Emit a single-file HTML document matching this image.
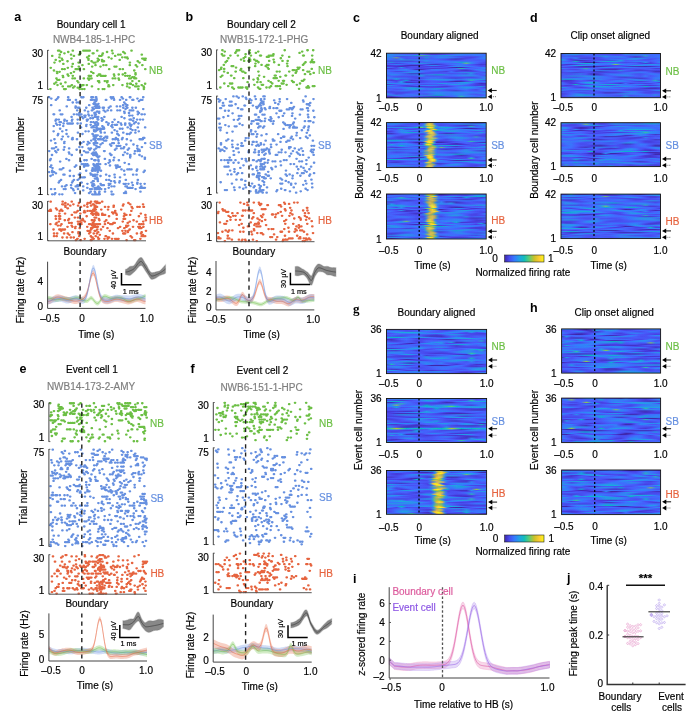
<!DOCTYPE html>
<html><head><meta charset="utf-8"><style>
html,body{margin:0;padding:0;background:#fff;width:700px;height:720px;overflow:hidden}
svg{display:block;will-change:transform}
text{stroke:currentColor;stroke-width:.18px}
</style></head><body>
<svg width="700" height="720" viewBox="0 0 700 720" font-family="Liberation Sans, sans-serif" font-size="10">
<defs><linearGradient id="g0"><stop offset="0" stop-color="#4536d3"/><stop offset="0.05" stop-color="#3f28ad"/><stop offset="0.1" stop-color="#3e27aa"/><stop offset="0.15" stop-color="#412dbd"/><stop offset="0.2" stop-color="#4538d8"/><stop offset="0.25" stop-color="#484aed"/><stop offset="0.3" stop-color="#4757f7"/><stop offset="0.35" stop-color="#4562fc"/><stop offset="0.4" stop-color="#3b73fe"/><stop offset="0.45" stop-color="#317dfc"/><stop offset="0.5" stop-color="#327bfc"/><stop offset="0.55" stop-color="#426afe"/><stop offset="0.6" stop-color="#475af9"/><stop offset="0.65" stop-color="#4853f4"/><stop offset="0.7" stop-color="#4755f6"/><stop offset="0.75" stop-color="#465efb"/><stop offset="0.8" stop-color="#4564fd"/><stop offset="0.85" stop-color="#4563fd"/><stop offset="0.9" stop-color="#4269fe"/><stop offset="0.95" stop-color="#4466fd"/><stop offset="1" stop-color="#4854f5"/></linearGradient><linearGradient id="f0" href="#g0" x1="1" x2="0"/><linearGradient id="g1"><stop offset="0" stop-color="#4850f3"/><stop offset="0.05" stop-color="#465efb"/><stop offset="0.1" stop-color="#475af9"/><stop offset="0.15" stop-color="#4853f4"/><stop offset="0.2" stop-color="#4850f3"/><stop offset="0.25" stop-color="#484bee"/><stop offset="0.3" stop-color="#4746ea"/><stop offset="0.35" stop-color="#15afd9"/><stop offset="0.4" stop-color="#4745e9"/><stop offset="0.45" stop-color="#4744e8"/><stop offset="0.5" stop-color="#4746ea"/><stop offset="0.55" stop-color="#484cf0"/><stop offset="0.6" stop-color="#4758f8"/><stop offset="0.65" stop-color="#4269fe"/><stop offset="0.7" stop-color="#327cfc"/><stop offset="0.75" stop-color="#2c8ef2"/><stop offset="0.8" stop-color="#259ce7"/><stop offset="0.85" stop-color="#23a1e5"/><stop offset="0.9" stop-color="#2c90f0"/><stop offset="0.95" stop-color="#4661fc"/><stop offset="1" stop-color="#4740e4"/></linearGradient><linearGradient id="f1" href="#g1" x1="1" x2="0"/><linearGradient id="g2"><stop offset="0" stop-color="#3e26a8"/><stop offset="0.05" stop-color="#1da8e0"/><stop offset="0.1" stop-color="#4852f4"/><stop offset="0.15" stop-color="#4367fd"/><stop offset="0.2" stop-color="#4466fd"/><stop offset="0.25" stop-color="#4563fd"/><stop offset="0.3" stop-color="#4561fc"/><stop offset="0.35" stop-color="#4759f8"/><stop offset="0.4" stop-color="#475bfa"/><stop offset="0.45" stop-color="#3b73fe"/><stop offset="0.5" stop-color="#2d8bf4"/><stop offset="0.55" stop-color="#2797ea"/><stop offset="0.6" stop-color="#2797eb"/><stop offset="0.65" stop-color="#2d8cf3"/><stop offset="0.7" stop-color="#3876fe"/><stop offset="0.75" stop-color="#475bf9"/><stop offset="0.8" stop-color="#484cef"/><stop offset="0.85" stop-color="#484ef1"/><stop offset="0.9" stop-color="#475cfa"/><stop offset="0.95" stop-color="#4367fd"/><stop offset="1" stop-color="#4563fd"/></linearGradient><linearGradient id="f2" href="#g2" x1="1" x2="0"/><linearGradient id="g3"><stop offset="0" stop-color="#4743e7"/><stop offset="0.05" stop-color="#473fe2"/><stop offset="0.1" stop-color="#484bef"/><stop offset="0.15" stop-color="#4850f3"/><stop offset="0.2" stop-color="#4758f8"/><stop offset="0.25" stop-color="#475cfa"/><stop offset="0.3" stop-color="#484df0"/><stop offset="0.35" stop-color="#4740e4"/><stop offset="0.4" stop-color="#4745e9"/><stop offset="0.45" stop-color="#4851f3"/><stop offset="0.5" stop-color="#4660fc"/><stop offset="0.55" stop-color="#307ffb"/><stop offset="0.6" stop-color="#2c8ef2"/><stop offset="0.65" stop-color="#337bfd"/><stop offset="0.7" stop-color="#4756f6"/><stop offset="0.75" stop-color="#463ada"/><stop offset="0.8" stop-color="#3f28ae"/><stop offset="0.85" stop-color="#3e26a8"/><stop offset="0.9" stop-color="#422ebf"/><stop offset="0.95" stop-color="#4745ea"/><stop offset="1" stop-color="#4757f7"/></linearGradient><linearGradient id="f3" href="#g3" x1="1" x2="0"/><linearGradient id="g4"><stop offset="0" stop-color="#4848ec"/><stop offset="0.05" stop-color="#4538d8"/><stop offset="0.1" stop-color="#402bb7"/><stop offset="0.15" stop-color="#3e27ac"/><stop offset="0.2" stop-color="#3f29b1"/><stop offset="0.25" stop-color="#412dbc"/><stop offset="0.3" stop-color="#4331c7"/><stop offset="0.35" stop-color="#4740e4"/><stop offset="0.4" stop-color="#4756f7"/><stop offset="0.45" stop-color="#4757f7"/><stop offset="0.5" stop-color="#4745e9"/><stop offset="0.55" stop-color="#4536d3"/><stop offset="0.6" stop-color="#402ab4"/><stop offset="0.65" stop-color="#3e26a8"/><stop offset="0.7" stop-color="#3e26a8"/><stop offset="0.75" stop-color="#3e26a8"/><stop offset="0.8" stop-color="#412cba"/><stop offset="0.85" stop-color="#4639da"/><stop offset="0.9" stop-color="#484cef"/><stop offset="0.95" stop-color="#465dfa"/><stop offset="1" stop-color="#416bfe"/></linearGradient><linearGradient id="f4" href="#g4" x1="1" x2="0"/><linearGradient id="g5"><stop offset="0" stop-color="#4758f8"/><stop offset="0.05" stop-color="#4740e3"/><stop offset="0.1" stop-color="#4537d5"/><stop offset="0.15" stop-color="#4741e5"/><stop offset="0.2" stop-color="#475bf9"/><stop offset="0.25" stop-color="#2e84f9"/><stop offset="0.3" stop-color="#259be8"/><stop offset="0.35" stop-color="#249ee6"/><stop offset="0.4" stop-color="#2a93ee"/><stop offset="0.45" stop-color="#337bfd"/><stop offset="0.5" stop-color="#4660fb"/><stop offset="0.55" stop-color="#475bf9"/><stop offset="0.6" stop-color="#4660fc"/><stop offset="0.65" stop-color="#4561fc"/><stop offset="0.7" stop-color="#4661fc"/><stop offset="0.75" stop-color="#3974fe"/><stop offset="0.8" stop-color="#76cc61"/><stop offset="0.85" stop-color="#2995ec"/><stop offset="0.9" stop-color="#406cfe"/><stop offset="0.95" stop-color="#484ff1"/><stop offset="1" stop-color="#484bef"/></linearGradient><linearGradient id="f5" href="#g5" x1="1" x2="0"/><linearGradient id="g6"><stop offset="0" stop-color="#484ef1"/><stop offset="0.05" stop-color="#4849ed"/><stop offset="0.1" stop-color="#484df0"/><stop offset="0.15" stop-color="#4741e5"/><stop offset="0.2" stop-color="#4434ce"/><stop offset="0.25" stop-color="#4639d9"/><stop offset="0.3" stop-color="#4756f7"/><stop offset="0.35" stop-color="#2e84f9"/><stop offset="0.4" stop-color="#2b90f0"/><stop offset="0.45" stop-color="#327cfc"/><stop offset="0.5" stop-color="#3e70ff"/><stop offset="0.55" stop-color="#3776fe"/><stop offset="0.6" stop-color="#337bfc"/><stop offset="0.65" stop-color="#3c72ff"/><stop offset="0.7" stop-color="#4561fc"/><stop offset="0.75" stop-color="#4758f8"/><stop offset="0.8" stop-color="#484aee"/><stop offset="0.85" stop-color="#463adb"/><stop offset="0.9" stop-color="#4536d4"/><stop offset="0.95" stop-color="#4537d6"/><stop offset="1" stop-color="#463bdc"/></linearGradient><linearGradient id="f6" href="#g6" x1="1" x2="0"/><linearGradient id="g7"><stop offset="0" stop-color="#484aee"/><stop offset="0.05" stop-color="#4536d3"/><stop offset="0.1" stop-color="#4433cb"/><stop offset="0.15" stop-color="#473ee2"/><stop offset="0.2" stop-color="#4851f3"/><stop offset="0.25" stop-color="#4561fc"/><stop offset="0.3" stop-color="#3578fd"/><stop offset="0.35" stop-color="#2e83f9"/><stop offset="0.4" stop-color="#337bfd"/><stop offset="0.45" stop-color="#3a74fe"/><stop offset="0.5" stop-color="#2f82fa"/><stop offset="0.55" stop-color="#86cb54"/><stop offset="0.6" stop-color="#2c8ff0"/><stop offset="0.65" stop-color="#337bfd"/><stop offset="0.7" stop-color="#4563fd"/><stop offset="0.75" stop-color="#465efb"/><stop offset="0.8" stop-color="#3f6dfe"/><stop offset="0.85" stop-color="#2d8bf4"/><stop offset="0.9" stop-color="#2797eb"/><stop offset="0.95" stop-color="#2c8ff1"/><stop offset="1" stop-color="#307ffb"/></linearGradient><linearGradient id="f7" href="#g7" x1="1" x2="0"/><linearGradient id="g8"><stop offset="0" stop-color="#3777fe"/><stop offset="0.05" stop-color="#2c90f0"/><stop offset="0.1" stop-color="#2797eb"/><stop offset="0.15" stop-color="#2d8cf3"/><stop offset="0.2" stop-color="#317dfc"/><stop offset="0.25" stop-color="#416bfe"/><stop offset="0.3" stop-color="#475af9"/><stop offset="0.35" stop-color="#4851f3"/><stop offset="0.4" stop-color="#4757f7"/><stop offset="0.45" stop-color="#4368fd"/><stop offset="0.5" stop-color="#3d71ff"/><stop offset="0.55" stop-color="#406dfe"/><stop offset="0.6" stop-color="#3c72ff"/><stop offset="0.65" stop-color="#2f81fa"/><stop offset="0.7" stop-color="#307ffb"/><stop offset="0.75" stop-color="#465ffb"/><stop offset="0.8" stop-color="#4743e7"/><stop offset="0.85" stop-color="#4433cc"/><stop offset="0.9" stop-color="#4330c5"/><stop offset="0.95" stop-color="#463adb"/><stop offset="1" stop-color="#4852f4"/></linearGradient><linearGradient id="f8" href="#g8" x1="1" x2="0"/><linearGradient id="g9"><stop offset="0" stop-color="#484bee"/><stop offset="0.05" stop-color="#475cfa"/><stop offset="0.1" stop-color="#4757f8"/><stop offset="0.15" stop-color="#4743e7"/><stop offset="0.2" stop-color="#463cdf"/><stop offset="0.25" stop-color="#4744e8"/><stop offset="0.3" stop-color="#4852f4"/><stop offset="0.35" stop-color="#3d71ff"/><stop offset="0.4" stop-color="#2797eb"/><stop offset="0.45" stop-color="#2798ea"/><stop offset="0.5" stop-color="#3a74fe"/><stop offset="0.55" stop-color="#4758f8"/><stop offset="0.6" stop-color="#475af9"/><stop offset="0.65" stop-color="#4466fd"/><stop offset="0.7" stop-color="#4564fd"/><stop offset="0.75" stop-color="#4853f4"/><stop offset="0.8" stop-color="#473ee2"/><stop offset="0.85" stop-color="#4639d9"/><stop offset="0.9" stop-color="#4852f4"/><stop offset="0.95" stop-color="#2e87f7"/><stop offset="1" stop-color="#249fe5"/></linearGradient><linearGradient id="f9" href="#g9" x1="1" x2="0"/><linearGradient id="g10"><stop offset="0" stop-color="#422fc2"/><stop offset="0.05" stop-color="#473ee2"/><stop offset="0.1" stop-color="#4466fd"/><stop offset="0.15" stop-color="#2994ed"/><stop offset="0.2" stop-color="#2e87f7"/><stop offset="0.25" stop-color="#4759f9"/><stop offset="0.3" stop-color="#484ef1"/><stop offset="0.35" stop-color="#4758f8"/><stop offset="0.4" stop-color="#4759f8"/><stop offset="0.45" stop-color="#484cf0"/><stop offset="0.5" stop-color="#484ef1"/><stop offset="0.55" stop-color="#416bfe"/><stop offset="0.6" stop-color="#2699e9"/><stop offset="0.65" stop-color="#1ea6e1"/><stop offset="0.7" stop-color="#2797eb"/><stop offset="0.75" stop-color="#2d88f6"/><stop offset="0.8" stop-color="#3875fe"/><stop offset="0.85" stop-color="#4759f8"/><stop offset="0.9" stop-color="#4850f2"/><stop offset="0.95" stop-color="#4855f6"/><stop offset="1" stop-color="#475cfa"/></linearGradient><linearGradient id="f10" href="#g10" x1="1" x2="0"/><linearGradient id="g11"><stop offset="0" stop-color="#2e84f8"/><stop offset="0.05" stop-color="#3876fe"/><stop offset="0.1" stop-color="#4464fd"/><stop offset="0.15" stop-color="#465efb"/><stop offset="0.2" stop-color="#475af9"/><stop offset="0.25" stop-color="#465dfa"/><stop offset="0.3" stop-color="#3b73fe"/><stop offset="0.35" stop-color="#2c8ef2"/><stop offset="0.4" stop-color="#269ae8"/><stop offset="0.45" stop-color="#2b91ef"/><stop offset="0.5" stop-color="#3d70ff"/><stop offset="0.55" stop-color="#484bef"/><stop offset="0.6" stop-color="#4331c6"/><stop offset="0.65" stop-color="#412dbc"/><stop offset="0.7" stop-color="#473fe2"/><stop offset="0.75" stop-color="#4852f4"/><stop offset="0.8" stop-color="#4852f4"/><stop offset="0.85" stop-color="#484cf0"/><stop offset="0.9" stop-color="#484cef"/><stop offset="0.95" stop-color="#484df0"/><stop offset="1" stop-color="#4756f7"/></linearGradient><linearGradient id="f11" href="#g11" x1="1" x2="0"/><linearGradient id="g12"><stop offset="0" stop-color="#4465fd"/><stop offset="0.05" stop-color="#4853f5"/><stop offset="0.1" stop-color="#475af9"/><stop offset="0.15" stop-color="#307ffb"/><stop offset="0.2" stop-color="#2d89f5"/><stop offset="0.25" stop-color="#4757f7"/><stop offset="0.3" stop-color="#402bb7"/><stop offset="0.35" stop-color="#3e26a8"/><stop offset="0.4" stop-color="#4745e9"/><stop offset="0.45" stop-color="#3a74fe"/><stop offset="0.5" stop-color="#2f82fa"/><stop offset="0.55" stop-color="#3c71ff"/><stop offset="0.6" stop-color="#4269fe"/><stop offset="0.65" stop-color="#3e6fff"/><stop offset="0.7" stop-color="#4660fb"/><stop offset="0.75" stop-color="#4848ec"/><stop offset="0.8" stop-color="#4743e7"/><stop offset="0.85" stop-color="#475bf9"/><stop offset="0.9" stop-color="#2e86f8"/><stop offset="0.95" stop-color="#2f82fa"/><stop offset="1" stop-color="#475dfa"/></linearGradient><linearGradient id="f12" href="#g12" x1="1" x2="0"/><linearGradient id="g13"><stop offset="0" stop-color="#2c90f0"/><stop offset="0.05" stop-color="#2b91ef"/><stop offset="0.1" stop-color="#2d8cf3"/><stop offset="0.15" stop-color="#317efb"/><stop offset="0.2" stop-color="#4562fc"/><stop offset="0.25" stop-color="#484cf0"/><stop offset="0.3" stop-color="#4746ea"/><stop offset="0.35" stop-color="#475bf9"/><stop offset="0.4" stop-color="#3080fb"/><stop offset="0.45" stop-color="#2d8cf3"/><stop offset="0.5" stop-color="#2f80fa"/><stop offset="0.55" stop-color="#4466fd"/><stop offset="0.6" stop-color="#4757f7"/><stop offset="0.65" stop-color="#465ffb"/><stop offset="0.7" stop-color="#2e85f8"/><stop offset="0.75" stop-color="#2d88f6"/><stop offset="0.8" stop-color="#475af9"/><stop offset="0.85" stop-color="#4538d8"/><stop offset="0.9" stop-color="#4434ce"/><stop offset="0.95" stop-color="#4740e4"/><stop offset="1" stop-color="#484bee"/></linearGradient><linearGradient id="f13" href="#g13" x1="1" x2="0"/><linearGradient id="g14"><stop offset="0" stop-color="#3e6fff"/><stop offset="0.05" stop-color="#3080fb"/><stop offset="0.1" stop-color="#3a73fe"/><stop offset="0.15" stop-color="#4757f7"/><stop offset="0.2" stop-color="#0eb2d4"/><stop offset="0.25" stop-color="#4848ec"/><stop offset="0.3" stop-color="#484ef1"/><stop offset="0.35" stop-color="#4756f7"/><stop offset="0.4" stop-color="#4850f3"/><stop offset="0.45" stop-color="#463cde"/><stop offset="0.5" stop-color="#422fc2"/><stop offset="0.55" stop-color="#412dbc"/><stop offset="0.6" stop-color="#4332ca"/><stop offset="0.65" stop-color="#463de0"/><stop offset="0.7" stop-color="#484ef1"/><stop offset="0.75" stop-color="#416bfe"/><stop offset="0.8" stop-color="#2d8cf3"/><stop offset="0.85" stop-color="#2d8df2"/><stop offset="0.9" stop-color="#3d71ff"/><stop offset="0.95" stop-color="#4757f7"/><stop offset="1" stop-color="#484aee"/></linearGradient><linearGradient id="f14" href="#g14" x1="1" x2="0"/><linearGradient id="g15"><stop offset="0" stop-color="#2f80fa"/><stop offset="0.05" stop-color="#3d70ff"/><stop offset="0.1" stop-color="#4564fd"/><stop offset="0.15" stop-color="#4367fd"/><stop offset="0.2" stop-color="#4368fd"/><stop offset="0.25" stop-color="#4756f7"/><stop offset="0.3" stop-color="#463ddf"/><stop offset="0.35" stop-color="#422fc2"/><stop offset="0.4" stop-color="#4331c8"/><stop offset="0.45" stop-color="#4743e7"/><stop offset="0.5" stop-color="#465dfa"/><stop offset="0.55" stop-color="#3479fd"/><stop offset="0.6" stop-color="#2d8bf4"/><stop offset="0.65" stop-color="#2b91ef"/><stop offset="0.7" stop-color="#2e86f7"/><stop offset="0.75" stop-color="#4368fe"/><stop offset="0.8" stop-color="#484ff2"/><stop offset="0.85" stop-color="#4742e6"/><stop offset="0.9" stop-color="#4740e4"/><stop offset="0.95" stop-color="#484bef"/><stop offset="1" stop-color="#4466fd"/></linearGradient><linearGradient id="f15" href="#g15" x1="1" x2="0"/><linearGradient id="g16"><stop offset="0" stop-color="#2f82fa"/><stop offset="0.05" stop-color="#4465fd"/><stop offset="0.1" stop-color="#475bf9"/><stop offset="0.15" stop-color="#3f6efe"/><stop offset="0.2" stop-color="#2e85f8"/><stop offset="0.25" stop-color="#2f81fa"/><stop offset="0.3" stop-color="#406cfe"/><stop offset="0.35" stop-color="#4366fd"/><stop offset="0.4" stop-color="#2e84f8"/><stop offset="0.45" stop-color="#1ea7e1"/><stop offset="0.5" stop-color="#11b1d6"/><stop offset="0.55" stop-color="#1ca9df"/><stop offset="0.6" stop-color="#2994ed"/><stop offset="0.65" stop-color="#3e6fff"/><stop offset="0.7" stop-color="#4852f4"/><stop offset="0.75" stop-color="#4746eb"/><stop offset="0.8" stop-color="#4747eb"/><stop offset="0.85" stop-color="#0dbdbc"/><stop offset="0.9" stop-color="#4851f3"/><stop offset="0.95" stop-color="#475dfa"/><stop offset="1" stop-color="#4368fe"/></linearGradient><linearGradient id="f16" href="#g16" x1="1" x2="0"/><linearGradient id="g17"><stop offset="0" stop-color="#4755f6"/><stop offset="0.05" stop-color="#463ee1"/><stop offset="0.1" stop-color="#4536d4"/><stop offset="0.15" stop-color="#4538d7"/><stop offset="0.2" stop-color="#4744e8"/><stop offset="0.25" stop-color="#475af9"/><stop offset="0.3" stop-color="#3c71ff"/><stop offset="0.35" stop-color="#317dfc"/><stop offset="0.4" stop-color="#3f6fff"/><stop offset="0.45" stop-color="#4756f6"/><stop offset="0.5" stop-color="#484aed"/><stop offset="0.55" stop-color="#484ff2"/><stop offset="0.6" stop-color="#475cfa"/><stop offset="0.65" stop-color="#3876fe"/><stop offset="0.7" stop-color="#2798ea"/><stop offset="0.75" stop-color="#269ae9"/><stop offset="0.8" stop-color="#3677fe"/><stop offset="0.85" stop-color="#4852f4"/><stop offset="0.9" stop-color="#463bdd"/><stop offset="0.95" stop-color="#4538d7"/><stop offset="1" stop-color="#484cf0"/></linearGradient><linearGradient id="f17" href="#g17" x1="1" x2="0"/><linearGradient id="g18"><stop offset="0" stop-color="#3777fe"/><stop offset="0.05" stop-color="#3875fe"/><stop offset="0.1" stop-color="#3f6eff"/><stop offset="0.15" stop-color="#4562fc"/><stop offset="0.2" stop-color="#4660fb"/><stop offset="0.25" stop-color="#3e70ff"/><stop offset="0.3" stop-color="#2e83f9"/><stop offset="0.35" stop-color="#2e85f8"/><stop offset="0.4" stop-color="#3579fd"/><stop offset="0.45" stop-color="#3876fe"/><stop offset="0.5" stop-color="#2d8af5"/><stop offset="0.55" stop-color="#2797ea"/><stop offset="0.6" stop-color="#3080fb"/><stop offset="0.65" stop-color="#4854f5"/><stop offset="0.7" stop-color="#4741e5"/><stop offset="0.75" stop-color="#463de0"/><stop offset="0.8" stop-color="#463bdd"/><stop offset="0.85" stop-color="#473ee1"/><stop offset="0.9" stop-color="#4741e5"/><stop offset="0.95" stop-color="#473fe2"/><stop offset="1" stop-color="#4742e6"/></linearGradient><linearGradient id="f18" href="#g18" x1="1" x2="0"/><linearGradient id="g19"><stop offset="0" stop-color="#3e70ff"/><stop offset="0.05" stop-color="#4747eb"/><stop offset="0.1" stop-color="#463cde"/><stop offset="0.15" stop-color="#484ff2"/><stop offset="0.2" stop-color="#3579fd"/><stop offset="0.25" stop-color="#249fe5"/><stop offset="0.3" stop-color="#1aacdd"/><stop offset="0.35" stop-color="#2797ea"/><stop offset="0.4" stop-color="#3f6dfe"/><stop offset="0.45" stop-color="#4464fd"/><stop offset="0.5" stop-color="#406dfe"/><stop offset="0.55" stop-color="#475cfa"/><stop offset="0.6" stop-color="#4850f3"/><stop offset="0.65" stop-color="#4755f6"/><stop offset="0.7" stop-color="#475cfa"/><stop offset="0.75" stop-color="#475bf9"/><stop offset="0.8" stop-color="#475af9"/><stop offset="0.85" stop-color="#4564fd"/><stop offset="0.9" stop-color="#406cfe"/><stop offset="0.95" stop-color="#4758f8"/><stop offset="1" stop-color="#4538d8"/></linearGradient><linearGradient id="f19" href="#g19" x1="1" x2="0"/><linearGradient id="g20"><stop offset="0" stop-color="#2a93ed"/><stop offset="0.05" stop-color="#4851f3"/><stop offset="0.1" stop-color="#473fe2"/><stop offset="0.15" stop-color="#484ff2"/><stop offset="0.2" stop-color="#4756f7"/><stop offset="0.25" stop-color="#465efb"/><stop offset="0.3" stop-color="#317dfb"/><stop offset="0.35" stop-color="#2d8bf4"/><stop offset="0.4" stop-color="#2e84f8"/><stop offset="0.45" stop-color="#3579fd"/><stop offset="0.5" stop-color="#0db3d3"/><stop offset="0.55" stop-color="#475af9"/><stop offset="0.6" stop-color="#4742e6"/><stop offset="0.65" stop-color="#412ebe"/><stop offset="0.7" stop-color="#3f29b0"/><stop offset="0.75" stop-color="#4435d1"/><stop offset="0.8" stop-color="#4747ec"/><stop offset="0.85" stop-color="#4756f6"/><stop offset="0.9" stop-color="#4564fd"/><stop offset="0.95" stop-color="#4562fc"/><stop offset="1" stop-color="#4851f4"/></linearGradient><linearGradient id="f20" href="#g20" x1="1" x2="0"/><linearGradient id="g21"><stop offset="0" stop-color="#337bfc"/><stop offset="0.05" stop-color="#4850f2"/><stop offset="0.1" stop-color="#4537d5"/><stop offset="0.15" stop-color="#4537d6"/><stop offset="0.2" stop-color="#484bef"/><stop offset="0.25" stop-color="#3f6eff"/><stop offset="0.3" stop-color="#2a93ed"/><stop offset="0.35" stop-color="#22a2e4"/><stop offset="0.4" stop-color="#2798ea"/><stop offset="0.45" stop-color="#347afd"/><stop offset="0.5" stop-color="#4561fc"/><stop offset="0.55" stop-color="#4755f6"/><stop offset="0.6" stop-color="#4848ec"/><stop offset="0.65" stop-color="#484bee"/><stop offset="0.7" stop-color="#4367fd"/><stop offset="0.75" stop-color="#2e84f8"/><stop offset="0.8" stop-color="#3a74fe"/><stop offset="0.85" stop-color="#4854f5"/><stop offset="0.9" stop-color="#4745e9"/><stop offset="0.95" stop-color="#484cf0"/><stop offset="1" stop-color="#4758f8"/></linearGradient><linearGradient id="f21" href="#g21" x1="1" x2="0"/><linearGradient id="g22"><stop offset="0" stop-color="#2e85f8"/><stop offset="0.05" stop-color="#2d8af5"/><stop offset="0.1" stop-color="#2e85f8"/><stop offset="0.15" stop-color="#4564fd"/><stop offset="0.2" stop-color="#484ff2"/><stop offset="0.25" stop-color="#484bef"/><stop offset="0.3" stop-color="#4854f5"/><stop offset="0.35" stop-color="#465ffb"/><stop offset="0.4" stop-color="#4369fe"/><stop offset="0.45" stop-color="#4464fd"/><stop offset="0.5" stop-color="#4757f7"/><stop offset="0.55" stop-color="#4852f4"/><stop offset="0.6" stop-color="#4757f7"/><stop offset="0.65" stop-color="#4466fd"/><stop offset="0.7" stop-color="#307efb"/><stop offset="0.75" stop-color="#2994ed"/><stop offset="0.8" stop-color="#21a3e3"/><stop offset="0.85" stop-color="#20a5e2"/><stop offset="0.9" stop-color="#21a2e4"/><stop offset="0.95" stop-color="#20a5e2"/><stop offset="1" stop-color="#1fa6e2"/></linearGradient><linearGradient id="f22" href="#g22" x1="1" x2="0"/><linearGradient id="g23"><stop offset="0" stop-color="#4562fc"/><stop offset="0.05" stop-color="#406dfe"/><stop offset="0.1" stop-color="#475bf9"/><stop offset="0.15" stop-color="#4852f4"/><stop offset="0.2" stop-color="#4756f7"/><stop offset="0.25" stop-color="#465dfb"/><stop offset="0.3" stop-color="#475cfa"/><stop offset="0.35" stop-color="#4757f7"/><stop offset="0.4" stop-color="#16aeda"/><stop offset="0.45" stop-color="#484ff2"/><stop offset="0.5" stop-color="#4742e6"/><stop offset="0.55" stop-color="#4743e7"/><stop offset="0.6" stop-color="#484df1"/><stop offset="0.65" stop-color="#484bef"/><stop offset="0.7" stop-color="#473fe3"/><stop offset="0.75" stop-color="#4433cd"/><stop offset="0.8" stop-color="#4029b3"/><stop offset="0.85" stop-color="#422ec0"/><stop offset="0.9" stop-color="#484bef"/><stop offset="0.95" stop-color="#307ffb"/><stop offset="1" stop-color="#23a1e4"/></linearGradient><linearGradient id="f23" href="#g23" x1="1" x2="0"/><linearGradient id="g24"><stop offset="0" stop-color="#473fe2"/><stop offset="0.05" stop-color="#4433cd"/><stop offset="0.1" stop-color="#473fe2"/><stop offset="0.15" stop-color="#4849ed"/><stop offset="0.2" stop-color="#03b7cc"/><stop offset="0.25" stop-color="#4230c4"/><stop offset="0.3" stop-color="#4434d0"/><stop offset="0.35" stop-color="#4747eb"/><stop offset="0.4" stop-color="#4758f8"/><stop offset="0.45" stop-color="#4465fd"/><stop offset="0.5" stop-color="#3a73fe"/><stop offset="0.55" stop-color="#2f82fa"/><stop offset="0.6" stop-color="#2c8ef1"/><stop offset="0.65" stop-color="#307ffb"/><stop offset="0.7" stop-color="#4755f6"/><stop offset="0.75" stop-color="#4848ec"/><stop offset="0.8" stop-color="#465efb"/><stop offset="0.85" stop-color="#29c3aa"/><stop offset="0.9" stop-color="#3876fe"/><stop offset="0.95" stop-color="#4757f7"/><stop offset="1" stop-color="#4743e7"/></linearGradient><linearGradient id="f24" href="#g24" x1="1" x2="0"/><linearGradient id="g25"><stop offset="0" stop-color="#2f82f9"/><stop offset="0.05" stop-color="#2b92ee"/><stop offset="0.1" stop-color="#2c8ff1"/><stop offset="0.15" stop-color="#327cfc"/><stop offset="0.2" stop-color="#465ffb"/><stop offset="0.25" stop-color="#484df1"/><stop offset="0.3" stop-color="#4848ec"/><stop offset="0.35" stop-color="#4853f4"/><stop offset="0.4" stop-color="#416bfe"/><stop offset="0.45" stop-color="#2e86f7"/><stop offset="0.5" stop-color="#2e86f7"/><stop offset="0.55" stop-color="#3d70ff"/><stop offset="0.6" stop-color="#4853f4"/><stop offset="0.65" stop-color="#463cde"/><stop offset="0.7" stop-color="#4435d1"/><stop offset="0.75" stop-color="#4536d5"/><stop offset="0.8" stop-color="#463ada"/><stop offset="0.85" stop-color="#4742e6"/><stop offset="0.9" stop-color="#484df0"/><stop offset="0.95" stop-color="#4854f5"/><stop offset="1" stop-color="#475bf9"/></linearGradient><linearGradient id="f25" href="#g25" x1="1" x2="0"/><linearGradient id="g26"><stop offset="0" stop-color="#484ff2"/><stop offset="0.05" stop-color="#4759f8"/><stop offset="0.1" stop-color="#4660fc"/><stop offset="0.15" stop-color="#4367fd"/><stop offset="0.2" stop-color="#2d88f6"/><stop offset="0.25" stop-color="#10b2d5"/><stop offset="0.3" stop-color="#08bcbf"/><stop offset="0.35" stop-color="#1ea8e1"/><stop offset="0.4" stop-color="#3080fa"/><stop offset="0.45" stop-color="#2d89f5"/><stop offset="0.5" stop-color="#0fb2d5"/><stop offset="0.55" stop-color="#0fb2d5"/><stop offset="0.6" stop-color="#2d8bf3"/><stop offset="0.65" stop-color="#4269fe"/><stop offset="0.7" stop-color="#4466fd"/><stop offset="0.75" stop-color="#307ffb"/><stop offset="0.8" stop-color="#2d8df2"/><stop offset="0.85" stop-color="#307ffb"/><stop offset="0.9" stop-color="#3f6eff"/><stop offset="0.95" stop-color="#4465fd"/><stop offset="1" stop-color="#4562fc"/></linearGradient><linearGradient id="f26" href="#g26" x1="1" x2="0"/><linearGradient id="g27"><stop offset="0" stop-color="#2d8af4"/><stop offset="0.05" stop-color="#2e86f7"/><stop offset="0.1" stop-color="#317efb"/><stop offset="0.15" stop-color="#06bcc0"/><stop offset="0.2" stop-color="#3578fd"/><stop offset="0.25" stop-color="#3479fd"/><stop offset="0.3" stop-color="#2e86f7"/><stop offset="0.35" stop-color="#2895ec"/><stop offset="0.4" stop-color="#2797eb"/><stop offset="0.45" stop-color="#2b90f0"/><stop offset="0.5" stop-color="#2896eb"/><stop offset="0.55" stop-color="#1fa6e2"/><stop offset="0.6" stop-color="#18addb"/><stop offset="0.65" stop-color="#1aacdd"/><stop offset="0.7" stop-color="#259ce7"/><stop offset="0.75" stop-color="#3975fe"/><stop offset="0.8" stop-color="#4756f7"/><stop offset="0.85" stop-color="#484ff1"/><stop offset="0.9" stop-color="#4850f3"/><stop offset="0.95" stop-color="#484ff2"/><stop offset="1" stop-color="#484aed"/></linearGradient><linearGradient id="f27" href="#g27" x1="1" x2="0"/><linearGradient id="g28"><stop offset="0" stop-color="#3f6efe"/><stop offset="0.05" stop-color="#475af9"/><stop offset="0.1" stop-color="#484ff1"/><stop offset="0.15" stop-color="#4854f5"/><stop offset="0.2" stop-color="#4851f4"/><stop offset="0.25" stop-color="#463ee1"/><stop offset="0.3" stop-color="#4434cf"/><stop offset="0.35" stop-color="#4639d9"/><stop offset="0.4" stop-color="#4745e9"/><stop offset="0.45" stop-color="#4852f4"/><stop offset="0.5" stop-color="#475bf9"/><stop offset="0.55" stop-color="#465ffb"/><stop offset="0.6" stop-color="#4853f5"/><stop offset="0.65" stop-color="#463ee1"/><stop offset="0.7" stop-color="#463de0"/><stop offset="0.75" stop-color="#4759f8"/><stop offset="0.8" stop-color="#307ffb"/><stop offset="0.85" stop-color="#2d8cf3"/><stop offset="0.9" stop-color="#2d8cf3"/><stop offset="0.95" stop-color="#2c8ef1"/><stop offset="1" stop-color="#2b92ef"/></linearGradient><linearGradient id="f28" href="#g28" x1="1" x2="0"/><linearGradient id="g29"><stop offset="0" stop-color="#4849ed"/><stop offset="0.05" stop-color="#4433cc"/><stop offset="0.1" stop-color="#4331c6"/><stop offset="0.15" stop-color="#4741e5"/><stop offset="0.2" stop-color="#465dfa"/><stop offset="0.25" stop-color="#3b72ff"/><stop offset="0.3" stop-color="#4367fd"/><stop offset="0.35" stop-color="#4757f7"/><stop offset="0.4" stop-color="#4853f5"/><stop offset="0.45" stop-color="#4758f8"/><stop offset="0.5" stop-color="#4561fc"/><stop offset="0.55" stop-color="#406cfe"/><stop offset="0.6" stop-color="#3f6eff"/><stop offset="0.65" stop-color="#4561fc"/><stop offset="0.7" stop-color="#4852f4"/><stop offset="0.75" stop-color="#484df0"/><stop offset="0.8" stop-color="#475bfa"/><stop offset="0.85" stop-color="#2e86f7"/><stop offset="0.9" stop-color="#1fa6e2"/><stop offset="0.95" stop-color="#23a1e4"/><stop offset="1" stop-color="#337afd"/></linearGradient><linearGradient id="f29" href="#g29" x1="1" x2="0"/><linearGradient id="g30"><stop offset="0" stop-color="#4433cd"/><stop offset="0.05" stop-color="#4537d5"/><stop offset="0.1" stop-color="#484cef"/><stop offset="0.15" stop-color="#475af9"/><stop offset="0.2" stop-color="#475af9"/><stop offset="0.25" stop-color="#4853f5"/><stop offset="0.3" stop-color="#484cef"/><stop offset="0.35" stop-color="#4745e9"/><stop offset="0.4" stop-color="#463cde"/><stop offset="0.45" stop-color="#4536d2"/><stop offset="0.5" stop-color="#4537d6"/><stop offset="0.55" stop-color="#463cdf"/><stop offset="0.6" stop-color="#4848ec"/><stop offset="0.65" stop-color="#465dfa"/><stop offset="0.7" stop-color="#3678fd"/><stop offset="0.75" stop-color="#35c79a"/><stop offset="0.8" stop-color="#2e83f9"/><stop offset="0.85" stop-color="#4368fe"/><stop offset="0.9" stop-color="#465efb"/><stop offset="0.95" stop-color="#3c71ff"/><stop offset="1" stop-color="#2b90f0"/></linearGradient><linearGradient id="f30" href="#g30" x1="1" x2="0"/><linearGradient id="g31"><stop offset="0" stop-color="#4269fe"/><stop offset="0.05" stop-color="#4269fe"/><stop offset="0.1" stop-color="#3e6fff"/><stop offset="0.15" stop-color="#2f81fa"/><stop offset="0.2" stop-color="#327cfc"/><stop offset="0.25" stop-color="#465ffb"/><stop offset="0.3" stop-color="#475bf9"/><stop offset="0.35" stop-color="#3578fd"/><stop offset="0.4" stop-color="#269ae8"/><stop offset="0.45" stop-color="#1ca9df"/><stop offset="0.5" stop-color="#16aeda"/><stop offset="0.55" stop-color="#1caadf"/><stop offset="0.6" stop-color="#2e86f7"/><stop offset="0.65" stop-color="#465dfa"/><stop offset="0.7" stop-color="#4758f8"/><stop offset="0.75" stop-color="#4758f8"/><stop offset="0.8" stop-color="#4759f8"/><stop offset="0.85" stop-color="#465efb"/><stop offset="0.9" stop-color="#4368fd"/><stop offset="0.95" stop-color="#2d8cf3"/><stop offset="1" stop-color="#0db3d3"/></linearGradient><linearGradient id="f31" href="#g31" x1="1" x2="0"/><linearGradient id="g32"><stop offset="0" stop-color="#463bdd"/><stop offset="0.05" stop-color="#463ee1"/><stop offset="0.1" stop-color="#4435d1"/><stop offset="0.15" stop-color="#422fc2"/><stop offset="0.2" stop-color="#4538d8"/><stop offset="0.25" stop-color="#484df0"/><stop offset="0.3" stop-color="#4850f3"/><stop offset="0.35" stop-color="#4849ed"/><stop offset="0.4" stop-color="#4743e7"/><stop offset="0.45" stop-color="#463de0"/><stop offset="0.5" stop-color="#463bdd"/><stop offset="0.55" stop-color="#473fe3"/><stop offset="0.6" stop-color="#4755f6"/><stop offset="0.65" stop-color="#337afd"/><stop offset="0.7" stop-color="#2c8ef2"/><stop offset="0.75" stop-color="#2d8cf3"/><stop offset="0.8" stop-color="#2e83f9"/><stop offset="0.85" stop-color="#3678fe"/><stop offset="0.9" stop-color="#4561fc"/><stop offset="0.95" stop-color="#484df0"/><stop offset="1" stop-color="#484bef"/></linearGradient><linearGradient id="f32" href="#g32" x1="1" x2="0"/><linearGradient id="g33"><stop offset="0" stop-color="#3678fe"/><stop offset="0.05" stop-color="#2e83f9"/><stop offset="0.1" stop-color="#2e86f7"/><stop offset="0.15" stop-color="#259ce7"/><stop offset="0.2" stop-color="#21a3e4"/><stop offset="0.25" stop-color="#259ce7"/><stop offset="0.3" stop-color="#2699e9"/><stop offset="0.35" stop-color="#2b91ef"/><stop offset="0.4" stop-color="#2e85f8"/><stop offset="0.45" stop-color="#347afd"/><stop offset="0.5" stop-color="#426afe"/><stop offset="0.55" stop-color="#4759f8"/><stop offset="0.6" stop-color="#4849ed"/><stop offset="0.65" stop-color="#473fe2"/><stop offset="0.7" stop-color="#4740e3"/><stop offset="0.75" stop-color="#4854f5"/><stop offset="0.8" stop-color="#4269fe"/><stop offset="0.85" stop-color="#465efb"/><stop offset="0.9" stop-color="#484ef1"/><stop offset="0.95" stop-color="#4851f3"/><stop offset="1" stop-color="#4564fd"/></linearGradient><linearGradient id="f33" href="#g33" x1="1" x2="0"/><linearGradient id="g34"><stop offset="0" stop-color="#3a74fe"/><stop offset="0.05" stop-color="#347afd"/><stop offset="0.1" stop-color="#337bfc"/><stop offset="0.15" stop-color="#3975fe"/><stop offset="0.2" stop-color="#3479fd"/><stop offset="0.25" stop-color="#2f81fa"/><stop offset="0.3" stop-color="#3678fd"/><stop offset="0.35" stop-color="#465efb"/><stop offset="0.4" stop-color="#484bef"/><stop offset="0.45" stop-color="#463ee1"/><stop offset="0.5" stop-color="#4435d1"/><stop offset="0.55" stop-color="#4535d2"/><stop offset="0.6" stop-color="#4849ed"/><stop offset="0.65" stop-color="#465dfb"/><stop offset="0.7" stop-color="#4660fc"/><stop offset="0.75" stop-color="#4563fc"/><stop offset="0.8" stop-color="#4269fe"/><stop offset="0.85" stop-color="#3d70ff"/><stop offset="0.9" stop-color="#2f80fa"/><stop offset="0.95" stop-color="#2896eb"/><stop offset="1" stop-color="#20a4e3"/></linearGradient><linearGradient id="f34" href="#g34" x1="1" x2="0"/><linearGradient id="g35"><stop offset="0" stop-color="#269ae9"/><stop offset="0.05" stop-color="#2896ec"/><stop offset="0.1" stop-color="#2d89f5"/><stop offset="0.15" stop-color="#2d8cf3"/><stop offset="0.2" stop-color="#2995ec"/><stop offset="0.25" stop-color="#2a92ee"/><stop offset="0.3" stop-color="#2d89f6"/><stop offset="0.35" stop-color="#2f82fa"/><stop offset="0.4" stop-color="#2d8bf4"/><stop offset="0.45" stop-color="#259be8"/><stop offset="0.5" stop-color="#259ce7"/><stop offset="0.55" stop-color="#2d8af4"/><stop offset="0.6" stop-color="#3a73fe"/><stop offset="0.65" stop-color="#426afe"/><stop offset="0.7" stop-color="#4465fd"/><stop offset="0.75" stop-color="#4758f8"/><stop offset="0.8" stop-color="#4744e8"/><stop offset="0.85" stop-color="#463adb"/><stop offset="0.9" stop-color="#4740e4"/><stop offset="0.95" stop-color="#4850f2"/><stop offset="1" stop-color="#4465fd"/></linearGradient><linearGradient id="f35" href="#g35" x1="1" x2="0"/><linearGradient id="g36"><stop offset="0" stop-color="#484df1"/><stop offset="0.05" stop-color="#463ddf"/><stop offset="0.1" stop-color="#463ee1"/><stop offset="0.15" stop-color="#484df0"/><stop offset="0.2" stop-color="#484ff2"/><stop offset="0.25" stop-color="#473ee2"/><stop offset="0.3" stop-color="#3f29b0"/><stop offset="0.35" stop-color="#3e26a8"/><stop offset="0.4" stop-color="#3e26a8"/><stop offset="0.45" stop-color="#2d8cf3"/><stop offset="0.5" stop-color="#3e26a8"/><stop offset="0.55" stop-color="#3e27aa"/><stop offset="0.6" stop-color="#4435d1"/><stop offset="0.65" stop-color="#484bef"/><stop offset="0.7" stop-color="#475cfa"/><stop offset="0.75" stop-color="#4562fc"/><stop offset="0.8" stop-color="#4464fd"/><stop offset="0.85" stop-color="#475af9"/><stop offset="0.9" stop-color="#4743e7"/><stop offset="0.95" stop-color="#4331c7"/><stop offset="1" stop-color="#412dbb"/></linearGradient><linearGradient id="f36" href="#g36" x1="1" x2="0"/><linearGradient id="g37"><stop offset="0" stop-color="#2d87f7"/><stop offset="0.05" stop-color="#416bfe"/><stop offset="0.1" stop-color="#484ef1"/><stop offset="0.15" stop-color="#4537d6"/><stop offset="0.2" stop-color="#422fc1"/><stop offset="0.25" stop-color="#4536d4"/><stop offset="0.3" stop-color="#4850f3"/><stop offset="0.35" stop-color="#3b72ff"/><stop offset="0.4" stop-color="#2e86f7"/><stop offset="0.45" stop-color="#327cfc"/><stop offset="0.5" stop-color="#475af9"/><stop offset="0.55" stop-color="#463de0"/><stop offset="0.6" stop-color="#4539d9"/><stop offset="0.65" stop-color="#4758f8"/><stop offset="0.7" stop-color="#2e86f7"/><stop offset="0.75" stop-color="#2d8df2"/><stop offset="0.8" stop-color="#3975fe"/><stop offset="0.85" stop-color="#4759f8"/><stop offset="0.9" stop-color="#484cf0"/><stop offset="0.95" stop-color="#4849ed"/><stop offset="1" stop-color="#484df0"/></linearGradient><linearGradient id="f37" href="#g37" x1="1" x2="0"/><linearGradient id="g38"><stop offset="0" stop-color="#1fa5e2"/><stop offset="0.05" stop-color="#23a0e5"/><stop offset="0.1" stop-color="#2d88f6"/><stop offset="0.15" stop-color="#4758f8"/><stop offset="0.2" stop-color="#463ddf"/><stop offset="0.25" stop-color="#473fe3"/><stop offset="0.3" stop-color="#484ff2"/><stop offset="0.35" stop-color="#484df0"/><stop offset="0.4" stop-color="#463bdd"/><stop offset="0.45" stop-color="#4434ce"/><stop offset="0.5" stop-color="#463de0"/><stop offset="0.55" stop-color="#4747eb"/><stop offset="0.6" stop-color="#4747eb"/><stop offset="0.65" stop-color="#4850f2"/><stop offset="0.7" stop-color="#4561fc"/><stop offset="0.75" stop-color="#4367fd"/><stop offset="0.8" stop-color="#4561fc"/><stop offset="0.85" stop-color="#416bfe"/><stop offset="0.9" stop-color="#3876fe"/><stop offset="0.95" stop-color="#3e6fff"/><stop offset="1" stop-color="#4563fd"/></linearGradient><linearGradient id="f38" href="#g38" x1="1" x2="0"/><linearGradient id="g39"><stop offset="0" stop-color="#475bf9"/><stop offset="0.05" stop-color="#3e6fff"/><stop offset="0.1" stop-color="#2f82f9"/><stop offset="0.15" stop-color="#3677fe"/><stop offset="0.2" stop-color="#475dfa"/><stop offset="0.25" stop-color="#4854f5"/><stop offset="0.3" stop-color="#4758f8"/><stop offset="0.35" stop-color="#4755f6"/><stop offset="0.4" stop-color="#473fe3"/><stop offset="0.45" stop-color="#412dbc"/><stop offset="0.5" stop-color="#412dbb"/><stop offset="0.55" stop-color="#463de0"/><stop offset="0.6" stop-color="#4759f8"/><stop offset="0.65" stop-color="#3a74fe"/><stop offset="0.7" stop-color="#307ffb"/><stop offset="0.75" stop-color="#317efb"/><stop offset="0.8" stop-color="#3d70ff"/><stop offset="0.85" stop-color="#4758f8"/><stop offset="0.9" stop-color="#4740e4"/><stop offset="0.95" stop-color="#4434cf"/><stop offset="1" stop-color="#4538d8"/></linearGradient><linearGradient id="f39" href="#g39" x1="1" x2="0"/><linearGradient id="g40"><stop offset="0" stop-color="#4853f5"/><stop offset="0.05" stop-color="#1fa5e2"/><stop offset="0.1" stop-color="#3875fe"/><stop offset="0.15" stop-color="#2f81fa"/><stop offset="0.2" stop-color="#2e84f9"/><stop offset="0.25" stop-color="#3080fa"/><stop offset="0.3" stop-color="#4464fd"/><stop offset="0.35" stop-color="#4744e8"/><stop offset="0.4" stop-color="#4434ce"/><stop offset="0.45" stop-color="#4536d3"/><stop offset="0.5" stop-color="#463de0"/><stop offset="0.55" stop-color="#473fe3"/><stop offset="0.6" stop-color="#463adb"/><stop offset="0.65" stop-color="#4433cd"/><stop offset="0.7" stop-color="#4230c4"/><stop offset="0.75" stop-color="#4332c9"/><stop offset="0.8" stop-color="#473ee2"/><stop offset="0.85" stop-color="#4852f4"/><stop offset="0.9" stop-color="#475bf9"/><stop offset="0.95" stop-color="#4758f8"/><stop offset="1" stop-color="#465dfa"/></linearGradient><linearGradient id="f40" href="#g40" x1="1" x2="0"/><linearGradient id="g41"><stop offset="0" stop-color="#2896eb"/><stop offset="0.05" stop-color="#2896ec"/><stop offset="0.1" stop-color="#23a0e5"/><stop offset="0.15" stop-color="#269ae8"/><stop offset="0.2" stop-color="#317dfc"/><stop offset="0.25" stop-color="#465ffb"/><stop offset="0.3" stop-color="#4756f6"/><stop offset="0.35" stop-color="#4850f3"/><stop offset="0.4" stop-color="#484cef"/><stop offset="0.45" stop-color="#4853f4"/><stop offset="0.5" stop-color="#475af9"/><stop offset="0.55" stop-color="#4855f6"/><stop offset="0.6" stop-color="#484aee"/><stop offset="0.65" stop-color="#4853f4"/><stop offset="0.7" stop-color="#317efb"/><stop offset="0.75" stop-color="#22a2e4"/><stop offset="0.8" stop-color="#2b91ef"/><stop offset="0.85" stop-color="#416bfe"/><stop offset="0.9" stop-color="#347afd"/><stop offset="0.95" stop-color="#269ae8"/><stop offset="1" stop-color="#249fe5"/></linearGradient><linearGradient id="f41" href="#g41" x1="1" x2="0"/><linearGradient id="g42"><stop offset="0" stop-color="#2f82fa"/><stop offset="0.05" stop-color="#2f82fa"/><stop offset="0.1" stop-color="#307ffb"/><stop offset="0.15" stop-color="#337afd"/><stop offset="0.2" stop-color="#4465fd"/><stop offset="0.25" stop-color="#4756f7"/><stop offset="0.3" stop-color="#4854f5"/><stop offset="0.35" stop-color="#4851f3"/><stop offset="0.4" stop-color="#4747eb"/><stop offset="0.45" stop-color="#463bdd"/><stop offset="0.5" stop-color="#4537d5"/><stop offset="0.55" stop-color="#4639da"/><stop offset="0.6" stop-color="#463bdd"/><stop offset="0.65" stop-color="#4742e6"/><stop offset="0.7" stop-color="#4853f5"/><stop offset="0.75" stop-color="#4366fd"/><stop offset="0.8" stop-color="#317dfc"/><stop offset="0.85" stop-color="#31c69f"/><stop offset="0.9" stop-color="#2a93ee"/><stop offset="0.95" stop-color="#2e86f7"/><stop offset="1" stop-color="#406cfe"/></linearGradient><linearGradient id="f42" href="#g42" x1="1" x2="0"/><linearGradient id="g43"><stop offset="0" stop-color="#4758f8"/><stop offset="0.05" stop-color="#3579fd"/><stop offset="0.1" stop-color="#2699e9"/><stop offset="0.15" stop-color="#1ea7e1"/><stop offset="0.2" stop-color="#1baade"/><stop offset="0.25" stop-color="#1aacdd"/><stop offset="0.3" stop-color="#20a4e3"/><stop offset="0.35" stop-color="#2c8ef1"/><stop offset="0.4" stop-color="#3a74fe"/><stop offset="0.45" stop-color="#4562fc"/><stop offset="0.5" stop-color="#475cfa"/><stop offset="0.55" stop-color="#4561fc"/><stop offset="0.6" stop-color="#317dfc"/><stop offset="0.65" stop-color="#2b91ef"/><stop offset="0.7" stop-color="#2d88f6"/><stop offset="0.75" stop-color="#4563fd"/><stop offset="0.8" stop-color="#484cef"/><stop offset="0.85" stop-color="#2c8ef1"/><stop offset="0.9" stop-color="#484cf0"/><stop offset="0.95" stop-color="#4660fc"/><stop offset="1" stop-color="#307ffb"/></linearGradient><linearGradient id="f43" href="#g43" x1="1" x2="0"/><linearGradient id="g44"><stop offset="0" stop-color="#4433cd"/><stop offset="0.05" stop-color="#412dbb"/><stop offset="0.1" stop-color="#4741e4"/><stop offset="0.15" stop-color="#416bfe"/><stop offset="0.2" stop-color="#2b90f0"/><stop offset="0.25" stop-color="#2d88f6"/><stop offset="0.3" stop-color="#416cfe"/><stop offset="0.35" stop-color="#3875fe"/><stop offset="0.4" stop-color="#2896ec"/><stop offset="0.45" stop-color="#2995ec"/><stop offset="0.5" stop-color="#3479fd"/><stop offset="0.55" stop-color="#406dfe"/><stop offset="0.6" stop-color="#416bfe"/><stop offset="0.65" stop-color="#4564fd"/><stop offset="0.7" stop-color="#416bfe"/><stop offset="0.75" stop-color="#317efb"/><stop offset="0.8" stop-color="#2e86f8"/><stop offset="0.85" stop-color="#2e85f8"/><stop offset="0.9" stop-color="#2e85f8"/><stop offset="0.95" stop-color="#2c90f0"/><stop offset="1" stop-color="#269ae8"/></linearGradient><linearGradient id="f44" href="#g44" x1="1" x2="0"/><linearGradient id="g45"><stop offset="0" stop-color="#484aee"/><stop offset="0.05" stop-color="#4854f5"/><stop offset="0.1" stop-color="#4466fd"/><stop offset="0.15" stop-color="#3777fe"/><stop offset="0.2" stop-color="#307ffb"/><stop offset="0.25" stop-color="#2d88f6"/><stop offset="0.3" stop-color="#2c8ef2"/><stop offset="0.35" stop-color="#2d8cf3"/><stop offset="0.4" stop-color="#2e85f8"/><stop offset="0.45" stop-color="#2e84f8"/><stop offset="0.5" stop-color="#2d8bf4"/><stop offset="0.55" stop-color="#2d8af5"/><stop offset="0.6" stop-color="#337bfd"/><stop offset="0.65" stop-color="#4466fd"/><stop offset="0.7" stop-color="#4854f6"/><stop offset="0.75" stop-color="#4746eb"/><stop offset="0.8" stop-color="#4743e7"/><stop offset="0.85" stop-color="#4746ea"/><stop offset="0.9" stop-color="#4741e5"/><stop offset="0.95" stop-color="#4639da"/><stop offset="1" stop-color="#463ee1"/></linearGradient><linearGradient id="f45" href="#g45" x1="1" x2="0"/><linearGradient id="g46"><stop offset="0" stop-color="#4757f7"/><stop offset="0.05" stop-color="#4368fe"/><stop offset="0.1" stop-color="#3e6fff"/><stop offset="0.15" stop-color="#4562fc"/><stop offset="0.2" stop-color="#475af9"/><stop offset="0.25" stop-color="#4661fc"/><stop offset="0.3" stop-color="#3f6eff"/><stop offset="0.35" stop-color="#3677fe"/><stop offset="0.4" stop-color="#2e85f8"/><stop offset="0.45" stop-color="#2e84f9"/><stop offset="0.5" stop-color="#3b73fe"/><stop offset="0.55" stop-color="#3f6eff"/><stop offset="0.6" stop-color="#1fa6e1"/><stop offset="0.65" stop-color="#475dfa"/><stop offset="0.7" stop-color="#4746ea"/><stop offset="0.75" stop-color="#4434ce"/><stop offset="0.8" stop-color="#4331c7"/><stop offset="0.85" stop-color="#4435d1"/><stop offset="0.9" stop-color="#4539d9"/><stop offset="0.95" stop-color="#4537d6"/><stop offset="1" stop-color="#4537d6"/></linearGradient><linearGradient id="f46" href="#g46" x1="1" x2="0"/><linearGradient id="g47"><stop offset="0" stop-color="#4561fc"/><stop offset="0.05" stop-color="#484ff2"/><stop offset="0.1" stop-color="#4368fe"/><stop offset="0.15" stop-color="#2e86f8"/><stop offset="0.2" stop-color="#2d8df2"/><stop offset="0.25" stop-color="#2d8bf4"/><stop offset="0.3" stop-color="#317efb"/><stop offset="0.35" stop-color="#3579fd"/><stop offset="0.4" stop-color="#259be8"/><stop offset="0.45" stop-color="#05bbc1"/><stop offset="0.5" stop-color="#02bac3"/><stop offset="0.55" stop-color="#21a3e3"/><stop offset="0.6" stop-color="#2a93ed"/><stop offset="0.65" stop-color="#2a93ee"/><stop offset="0.7" stop-color="#2c90f0"/><stop offset="0.75" stop-color="#317efb"/><stop offset="0.8" stop-color="#406dfe"/><stop offset="0.85" stop-color="#327cfc"/><stop offset="0.9" stop-color="#259be8"/><stop offset="0.95" stop-color="#2797eb"/><stop offset="1" stop-color="#4757f7"/></linearGradient><linearGradient id="f47" href="#g47" x1="1" x2="0"/><linearGradient id="g48"><stop offset="0" stop-color="#4537d5"/><stop offset="0.05" stop-color="#4536d3"/><stop offset="0.1" stop-color="#473fe2"/><stop offset="0.15" stop-color="#4850f3"/><stop offset="0.2" stop-color="#416cfe"/><stop offset="0.25" stop-color="#2b91ef"/><stop offset="0.3" stop-color="#249ee6"/><stop offset="0.35" stop-color="#2d8df2"/><stop offset="0.4" stop-color="#4466fd"/><stop offset="0.45" stop-color="#4854f5"/><stop offset="0.5" stop-color="#4755f6"/><stop offset="0.55" stop-color="#4852f4"/><stop offset="0.6" stop-color="#484bee"/><stop offset="0.65" stop-color="#484cf0"/><stop offset="0.7" stop-color="#4757f7"/><stop offset="0.75" stop-color="#4466fd"/><stop offset="0.8" stop-color="#3f6fff"/><stop offset="0.85" stop-color="#4368fe"/><stop offset="0.9" stop-color="#4758f8"/><stop offset="0.95" stop-color="#4744e8"/><stop offset="1" stop-color="#4433cd"/></linearGradient><linearGradient id="f48" href="#g48" x1="1" x2="0"/><linearGradient id="g49"><stop offset="0" stop-color="#23a0e5"/><stop offset="0.05" stop-color="#0bb3d2"/><stop offset="0.1" stop-color="#0ab4d2"/><stop offset="0.15" stop-color="#20a4e3"/><stop offset="0.2" stop-color="#2c8ef2"/><stop offset="0.25" stop-color="#2f81fa"/><stop offset="0.3" stop-color="#2d8cf3"/><stop offset="0.35" stop-color="#259be8"/><stop offset="0.4" stop-color="#2c8ff1"/><stop offset="0.45" stop-color="#416bfe"/><stop offset="0.5" stop-color="#4756f7"/><stop offset="0.55" stop-color="#484bef"/><stop offset="0.6" stop-color="#484ef1"/><stop offset="0.65" stop-color="#406dfe"/><stop offset="0.7" stop-color="#2b91ef"/><stop offset="0.75" stop-color="#2e87f7"/><stop offset="0.8" stop-color="#4464fd"/><stop offset="0.85" stop-color="#4756f7"/><stop offset="0.9" stop-color="#475af9"/><stop offset="0.95" stop-color="#416bfe"/><stop offset="1" stop-color="#3f6eff"/></linearGradient><linearGradient id="f49" href="#g49" x1="1" x2="0"/><linearGradient id="g50"><stop offset="0" stop-color="#2a92ee"/><stop offset="0.05" stop-color="#2d89f5"/><stop offset="0.1" stop-color="#475af9"/><stop offset="0.15" stop-color="#4537d6"/><stop offset="0.2" stop-color="#402ab4"/><stop offset="0.25" stop-color="#4230c4"/><stop offset="0.3" stop-color="#4745e9"/><stop offset="0.35" stop-color="#4854f6"/><stop offset="0.4" stop-color="#475cfa"/><stop offset="0.45" stop-color="#416bfe"/><stop offset="0.5" stop-color="#3975fe"/><stop offset="0.55" stop-color="#3f6eff"/><stop offset="0.6" stop-color="#4466fd"/><stop offset="0.65" stop-color="#3e6fff"/><stop offset="0.7" stop-color="#317efb"/><stop offset="0.75" stop-color="#2f81fa"/><stop offset="0.8" stop-color="#307ffb"/><stop offset="0.85" stop-color="#317dfb"/><stop offset="0.9" stop-color="#3975fe"/><stop offset="0.95" stop-color="#4269fe"/><stop offset="1" stop-color="#3e6fff"/></linearGradient><linearGradient id="f50" href="#g50" x1="1" x2="0"/><linearGradient id="g51"><stop offset="0" stop-color="#475af9"/><stop offset="0.05" stop-color="#4745ea"/><stop offset="0.1" stop-color="#463adb"/><stop offset="0.15" stop-color="#4743e7"/><stop offset="0.2" stop-color="#4850f3"/><stop offset="0.25" stop-color="#4851f3"/><stop offset="0.3" stop-color="#484df0"/><stop offset="0.35" stop-color="#484ef1"/><stop offset="0.4" stop-color="#484ff2"/><stop offset="0.45" stop-color="#4758f8"/><stop offset="0.5" stop-color="#406cfe"/><stop offset="0.55" stop-color="#3678fd"/><stop offset="0.6" stop-color="#3777fe"/><stop offset="0.65" stop-color="#3578fd"/><stop offset="0.7" stop-color="#2e85f8"/><stop offset="0.75" stop-color="#2699e9"/><stop offset="0.8" stop-color="#1ea7e1"/><stop offset="0.85" stop-color="#23a0e5"/><stop offset="0.9" stop-color="#2f80fa"/><stop offset="0.95" stop-color="#4465fd"/><stop offset="1" stop-color="#416bfe"/></linearGradient><linearGradient id="f51" href="#g51" x1="1" x2="0"/><linearGradient id="g52"><stop offset="0" stop-color="#2e84f8"/><stop offset="0.05" stop-color="#465efb"/><stop offset="0.1" stop-color="#484aee"/><stop offset="0.15" stop-color="#484ef1"/><stop offset="0.2" stop-color="#416cfe"/><stop offset="0.25" stop-color="#2896ec"/><stop offset="0.3" stop-color="#259ce7"/><stop offset="0.35" stop-color="#327dfc"/><stop offset="0.4" stop-color="#406dfe"/><stop offset="0.45" stop-color="#2e83f9"/><stop offset="0.5" stop-color="#2e83f9"/><stop offset="0.55" stop-color="#475af9"/><stop offset="0.6" stop-color="#4745e9"/><stop offset="0.65" stop-color="#484aee"/><stop offset="0.7" stop-color="#4758f8"/><stop offset="0.75" stop-color="#3f6eff"/><stop offset="0.8" stop-color="#3875fe"/><stop offset="0.85" stop-color="#484ff2"/><stop offset="0.9" stop-color="#463bdc"/><stop offset="0.95" stop-color="#4465fd"/><stop offset="1" stop-color="#1babde"/></linearGradient><linearGradient id="f52" href="#g52" x1="1" x2="0"/><linearGradient id="g53"><stop offset="0" stop-color="#3e26a8"/><stop offset="0.05" stop-color="#3e28ac"/><stop offset="0.1" stop-color="#4745e9"/><stop offset="0.15" stop-color="#4269fe"/><stop offset="0.2" stop-color="#3975fe"/><stop offset="0.25" stop-color="#465ffb"/><stop offset="0.3" stop-color="#484ef1"/><stop offset="0.35" stop-color="#4745e9"/><stop offset="0.4" stop-color="#4747eb"/><stop offset="0.45" stop-color="#484bef"/><stop offset="0.5" stop-color="#4746eb"/><stop offset="0.55" stop-color="#4435d1"/><stop offset="0.6" stop-color="#3e26a8"/><stop offset="0.65" stop-color="#3f28ae"/><stop offset="0.7" stop-color="#463de0"/><stop offset="0.75" stop-color="#484cef"/><stop offset="0.8" stop-color="#4850f3"/><stop offset="0.85" stop-color="#4561fc"/><stop offset="0.9" stop-color="#3777fe"/><stop offset="0.95" stop-color="#4563fc"/><stop offset="1" stop-color="#484ff2"/></linearGradient><linearGradient id="f53" href="#g53" x1="1" x2="0"/><linearGradient id="g54"><stop offset="0" stop-color="#4746eb"/><stop offset="0.05" stop-color="#4852f4"/><stop offset="0.1" stop-color="#475cfa"/><stop offset="0.15" stop-color="#4369fe"/><stop offset="0.2" stop-color="#406dfe"/><stop offset="0.25" stop-color="#4660fc"/><stop offset="0.3" stop-color="#484df1"/><stop offset="0.35" stop-color="#463de0"/><stop offset="0.4" stop-color="#4746ea"/><stop offset="0.45" stop-color="#416cfe"/><stop offset="0.5" stop-color="#2d8df2"/><stop offset="0.55" stop-color="#317efb"/><stop offset="0.6" stop-color="#465ffb"/><stop offset="0.65" stop-color="#4755f6"/><stop offset="0.7" stop-color="#4755f6"/><stop offset="0.75" stop-color="#4851f3"/><stop offset="0.8" stop-color="#4741e4"/><stop offset="0.85" stop-color="#4332c9"/><stop offset="0.9" stop-color="#3f29b0"/><stop offset="0.95" stop-color="#3f29b0"/><stop offset="1" stop-color="#4331c8"/></linearGradient><linearGradient id="f54" href="#g54" x1="1" x2="0"/><linearGradient id="g55"><stop offset="0" stop-color="#473ee2"/><stop offset="0.05" stop-color="#4850f3"/><stop offset="0.1" stop-color="#317dfc"/><stop offset="0.15" stop-color="#21a3e3"/><stop offset="0.2" stop-color="#1ea8e1"/><stop offset="0.25" stop-color="#2c90f0"/><stop offset="0.3" stop-color="#3678fd"/><stop offset="0.35" stop-color="#416bfe"/><stop offset="0.4" stop-color="#475bf9"/><stop offset="0.45" stop-color="#484df1"/><stop offset="0.5" stop-color="#4747ec"/><stop offset="0.55" stop-color="#4747eb"/><stop offset="0.6" stop-color="#484df1"/><stop offset="0.65" stop-color="#4660fb"/><stop offset="0.7" stop-color="#2d88f6"/><stop offset="0.75" stop-color="#249fe5"/><stop offset="0.8" stop-color="#269ae8"/><stop offset="0.85" stop-color="#2e84f9"/><stop offset="0.9" stop-color="#3c72ff"/><stop offset="0.95" stop-color="#3579fd"/><stop offset="1" stop-color="#307ffb"/></linearGradient><linearGradient id="f55" href="#g55" x1="1" x2="0"/><linearGradient id="g56"><stop offset="0" stop-color="#4756f6"/><stop offset="0.05" stop-color="#4759f8"/><stop offset="0.1" stop-color="#4853f5"/><stop offset="0.15" stop-color="#484bee"/><stop offset="0.2" stop-color="#4743e7"/><stop offset="0.25" stop-color="#463cde"/><stop offset="0.3" stop-color="#463cdf"/><stop offset="0.35" stop-color="#4747eb"/><stop offset="0.4" stop-color="#4850f2"/><stop offset="0.45" stop-color="#4852f4"/><stop offset="0.5" stop-color="#4850f3"/><stop offset="0.55" stop-color="#4757f7"/><stop offset="0.6" stop-color="#3876fe"/><stop offset="0.65" stop-color="#2b92ee"/><stop offset="0.7" stop-color="#259ce7"/><stop offset="0.75" stop-color="#259de7"/><stop offset="0.8" stop-color="#2c8ff1"/><stop offset="0.85" stop-color="#2f81fa"/><stop offset="0.9" stop-color="#307ffb"/><stop offset="0.95" stop-color="#337bfd"/><stop offset="1" stop-color="#4269fe"/></linearGradient><linearGradient id="f56" href="#g56" x1="1" x2="0"/><linearGradient id="g57"><stop offset="0" stop-color="#307ffb"/><stop offset="0.05" stop-color="#4368fe"/><stop offset="0.1" stop-color="#465efb"/><stop offset="0.15" stop-color="#2ac3a9"/><stop offset="0.2" stop-color="#4850f3"/><stop offset="0.25" stop-color="#4747eb"/><stop offset="0.3" stop-color="#4848ec"/><stop offset="0.35" stop-color="#4853f5"/><stop offset="0.4" stop-color="#4564fd"/><stop offset="0.45" stop-color="#3f6eff"/><stop offset="0.5" stop-color="#317efb"/><stop offset="0.55" stop-color="#249ee6"/><stop offset="0.6" stop-color="#1fa6e2"/><stop offset="0.65" stop-color="#2e86f8"/><stop offset="0.7" stop-color="#475cfa"/><stop offset="0.75" stop-color="#484cef"/><stop offset="0.8" stop-color="#4740e3"/><stop offset="0.85" stop-color="#4539d9"/><stop offset="0.9" stop-color="#463ee1"/><stop offset="0.95" stop-color="#4747eb"/><stop offset="1" stop-color="#4745e9"/></linearGradient><linearGradient id="f57" href="#g57" x1="1" x2="0"/><linearGradient id="g58"><stop offset="0" stop-color="#317efb"/><stop offset="0.05" stop-color="#307ffb"/><stop offset="0.1" stop-color="#3c72ff"/><stop offset="0.15" stop-color="#4853f4"/><stop offset="0.2" stop-color="#4433cc"/><stop offset="0.25" stop-color="#3e27aa"/><stop offset="0.3" stop-color="#473fe2"/><stop offset="0.35" stop-color="#3479fd"/><stop offset="0.4" stop-color="#2895ec"/><stop offset="0.45" stop-color="#2d88f6"/><stop offset="0.5" stop-color="#406cfe"/><stop offset="0.55" stop-color="#2c8ef2"/><stop offset="0.6" stop-color="#484aee"/><stop offset="0.65" stop-color="#484aee"/><stop offset="0.7" stop-color="#484df0"/><stop offset="0.75" stop-color="#4855f6"/><stop offset="0.8" stop-color="#475cfa"/><stop offset="0.85" stop-color="#4563fd"/><stop offset="0.9" stop-color="#3678fe"/><stop offset="0.95" stop-color="#3080fb"/><stop offset="1" stop-color="#4465fd"/></linearGradient><linearGradient id="f58" href="#g58" x1="1" x2="0"/><linearGradient id="g59"><stop offset="0" stop-color="#3777fe"/><stop offset="0.05" stop-color="#327bfc"/><stop offset="0.1" stop-color="#465efb"/><stop offset="0.15" stop-color="#463bdd"/><stop offset="0.2" stop-color="#422fc1"/><stop offset="0.25" stop-color="#4435d1"/><stop offset="0.3" stop-color="#4742e6"/><stop offset="0.35" stop-color="#475bf9"/><stop offset="0.4" stop-color="#2d8af4"/><stop offset="0.45" stop-color="#2699e9"/><stop offset="0.5" stop-color="#3777fe"/><stop offset="0.55" stop-color="#4850f3"/><stop offset="0.6" stop-color="#4743e7"/><stop offset="0.65" stop-color="#4742e6"/><stop offset="0.7" stop-color="#4849ed"/><stop offset="0.75" stop-color="#484ff2"/><stop offset="0.8" stop-color="#484ff2"/><stop offset="0.85" stop-color="#4755f6"/><stop offset="0.9" stop-color="#416bfe"/><stop offset="0.95" stop-color="#2e84f9"/><stop offset="1" stop-color="#3b72ff"/></linearGradient><linearGradient id="f59" href="#g59" x1="1" x2="0"/><linearGradient id="g60"><stop offset="0" stop-color="#4538d8"/><stop offset="0.05" stop-color="#422fc2"/><stop offset="0.1" stop-color="#4536d3"/><stop offset="0.15" stop-color="#484ff2"/><stop offset="0.2" stop-color="#3b73fe"/><stop offset="0.25" stop-color="#2e84f8"/><stop offset="0.3" stop-color="#2f81fa"/><stop offset="0.35" stop-color="#317dfc"/><stop offset="0.4" stop-color="#317dfc"/><stop offset="0.45" stop-color="#317efb"/><stop offset="0.5" stop-color="#416bfe"/><stop offset="0.55" stop-color="#4854f5"/><stop offset="0.6" stop-color="#4853f5"/><stop offset="0.65" stop-color="#4563fd"/><stop offset="0.7" stop-color="#3e6fff"/><stop offset="0.75" stop-color="#4368fd"/><stop offset="0.8" stop-color="#4756f7"/><stop offset="0.85" stop-color="#4742e6"/><stop offset="0.9" stop-color="#4434cf"/><stop offset="0.95" stop-color="#4536d3"/><stop offset="1" stop-color="#4854f6"/></linearGradient><linearGradient id="f60" href="#g60" x1="1" x2="0"/><linearGradient id="g61"><stop offset="0" stop-color="#4758f8"/><stop offset="0.05" stop-color="#484bef"/><stop offset="0.1" stop-color="#484ff2"/><stop offset="0.15" stop-color="#4660fc"/><stop offset="0.2" stop-color="#347afd"/><stop offset="0.25" stop-color="#2d8af5"/><stop offset="0.3" stop-color="#2f81fa"/><stop offset="0.35" stop-color="#475af9"/><stop offset="0.4" stop-color="#4745ea"/><stop offset="0.45" stop-color="#4746ea"/><stop offset="0.5" stop-color="#01b9c7"/><stop offset="0.55" stop-color="#484ef1"/><stop offset="0.6" stop-color="#4852f4"/><stop offset="0.65" stop-color="#4747eb"/><stop offset="0.7" stop-color="#4639da"/><stop offset="0.75" stop-color="#4435d0"/><stop offset="0.8" stop-color="#4434d0"/><stop offset="0.85" stop-color="#463adb"/><stop offset="0.9" stop-color="#473fe3"/><stop offset="0.95" stop-color="#4536d3"/><stop offset="1" stop-color="#3e26a8"/></linearGradient><linearGradient id="f61" href="#g61" x1="1" x2="0"/><linearGradient id="g62"><stop offset="0" stop-color="#4435d0"/><stop offset="0.05" stop-color="#463de0"/><stop offset="0.1" stop-color="#4744e8"/><stop offset="0.15" stop-color="#463bde"/><stop offset="0.2" stop-color="#4230c3"/><stop offset="0.25" stop-color="#3f29b0"/><stop offset="0.3" stop-color="#3f28af"/><stop offset="0.35" stop-color="#4537d6"/><stop offset="0.4" stop-color="#465ffb"/><stop offset="0.45" stop-color="#2d89f5"/><stop offset="0.5" stop-color="#2f81fa"/><stop offset="0.55" stop-color="#4755f6"/><stop offset="0.6" stop-color="#4740e4"/><stop offset="0.65" stop-color="#4850f3"/><stop offset="0.7" stop-color="#416bfe"/><stop offset="0.75" stop-color="#3c71ff"/><stop offset="0.8" stop-color="#4563fd"/><stop offset="0.85" stop-color="#4759f8"/><stop offset="0.9" stop-color="#4851f4"/><stop offset="0.95" stop-color="#4746ea"/><stop offset="1" stop-color="#4849ed"/></linearGradient><linearGradient id="f62" href="#g62" x1="1" x2="0"/><linearGradient id="g63"><stop offset="0" stop-color="#4743e7"/><stop offset="0.05" stop-color="#4744e8"/><stop offset="0.1" stop-color="#4742e6"/><stop offset="0.15" stop-color="#463bdc"/><stop offset="0.2" stop-color="#4435d1"/><stop offset="0.25" stop-color="#4435d1"/><stop offset="0.3" stop-color="#0cb3d3"/><stop offset="0.35" stop-color="#4756f7"/><stop offset="0.4" stop-color="#4269fe"/><stop offset="0.45" stop-color="#4368fe"/><stop offset="0.5" stop-color="#4853f4"/><stop offset="0.55" stop-color="#473ee1"/><stop offset="0.6" stop-color="#463bdd"/><stop offset="0.65" stop-color="#4740e4"/><stop offset="0.7" stop-color="#4745e9"/><stop offset="0.75" stop-color="#4853f4"/><stop offset="0.8" stop-color="#347afd"/><stop offset="0.85" stop-color="#2995ec"/><stop offset="0.9" stop-color="#2e87f7"/><stop offset="0.95" stop-color="#3975fe"/><stop offset="1" stop-color="#327bfc"/></linearGradient><linearGradient id="f63" href="#g63" x1="1" x2="0"/><linearGradient id="g64"><stop offset="0" stop-color="#4539d9"/><stop offset="0.05" stop-color="#4746eb"/><stop offset="0.1" stop-color="#4755f6"/><stop offset="0.15" stop-color="#4660fc"/><stop offset="0.2" stop-color="#3b72ff"/><stop offset="0.25" stop-color="#2e85f8"/><stop offset="0.3" stop-color="#2797ea"/><stop offset="0.35" stop-color="#249de6"/><stop offset="0.4" stop-color="#2797eb"/><stop offset="0.45" stop-color="#2c8ff1"/><stop offset="0.5" stop-color="#3579fd"/><stop offset="0.55" stop-color="#4756f6"/><stop offset="0.6" stop-color="#4740e4"/><stop offset="0.65" stop-color="#463cdf"/><stop offset="0.7" stop-color="#4740e4"/><stop offset="0.75" stop-color="#4848ec"/><stop offset="0.8" stop-color="#4758f8"/><stop offset="0.85" stop-color="#465ffb"/><stop offset="0.9" stop-color="#4758f8"/><stop offset="0.95" stop-color="#4757f7"/><stop offset="1" stop-color="#4563fd"/></linearGradient><linearGradient id="f64" href="#g64" x1="1" x2="0"/><linearGradient id="g65"><stop offset="0" stop-color="#4850f2"/><stop offset="0.05" stop-color="#426afe"/><stop offset="0.1" stop-color="#2d89f6"/><stop offset="0.15" stop-color="#2e83f9"/><stop offset="0.2" stop-color="#475cfa"/><stop offset="0.25" stop-color="#4740e4"/><stop offset="0.3" stop-color="#463bde"/><stop offset="0.35" stop-color="#4747eb"/><stop offset="0.4" stop-color="#4851f3"/><stop offset="0.45" stop-color="#4759f8"/><stop offset="0.5" stop-color="#4368fe"/><stop offset="0.55" stop-color="#337bfc"/><stop offset="0.6" stop-color="#327cfc"/><stop offset="0.65" stop-color="#3f6efe"/><stop offset="0.7" stop-color="#4563fc"/><stop offset="0.75" stop-color="#406cfe"/><stop offset="0.8" stop-color="#317efb"/><stop offset="0.85" stop-color="#2e84f8"/><stop offset="0.9" stop-color="#2b91ef"/><stop offset="0.95" stop-color="#1da9e0"/><stop offset="1" stop-color="#15afd9"/></linearGradient><linearGradient id="f65" href="#g65" x1="1" x2="0"/><linearGradient id="g66"><stop offset="0" stop-color="#4849ed"/><stop offset="0.05" stop-color="#473ee2"/><stop offset="0.1" stop-color="#4741e5"/><stop offset="0.15" stop-color="#4743e8"/><stop offset="0.2" stop-color="#4849ed"/><stop offset="0.25" stop-color="#4853f5"/><stop offset="0.3" stop-color="#465efb"/><stop offset="0.35" stop-color="#4367fd"/><stop offset="0.4" stop-color="#03b7cc"/><stop offset="0.45" stop-color="#3578fd"/><stop offset="0.5" stop-color="#475af9"/><stop offset="0.55" stop-color="#4537d6"/><stop offset="0.6" stop-color="#412ebd"/><stop offset="0.65" stop-color="#463cde"/><stop offset="0.7" stop-color="#4756f6"/><stop offset="0.75" stop-color="#416bfe"/><stop offset="0.8" stop-color="#18aedb"/><stop offset="0.85" stop-color="#317efb"/><stop offset="0.9" stop-color="#2d89f5"/><stop offset="0.95" stop-color="#2896ec"/><stop offset="1" stop-color="#327cfc"/></linearGradient><linearGradient id="f66" href="#g66" x1="1" x2="0"/><linearGradient id="g67"><stop offset="0" stop-color="#337afd"/><stop offset="0.05" stop-color="#2d89f5"/><stop offset="0.1" stop-color="#2699e9"/><stop offset="0.15" stop-color="#1caadf"/><stop offset="0.2" stop-color="#1ea7e1"/><stop offset="0.25" stop-color="#2b90ef"/><stop offset="0.3" stop-color="#3875fe"/><stop offset="0.35" stop-color="#465ffb"/><stop offset="0.4" stop-color="#4758f8"/><stop offset="0.45" stop-color="#475bf9"/><stop offset="0.5" stop-color="#4561fc"/><stop offset="0.55" stop-color="#3a74fe"/><stop offset="0.6" stop-color="#2e87f7"/><stop offset="0.65" stop-color="#2e86f7"/><stop offset="0.7" stop-color="#3b72ff"/><stop offset="0.75" stop-color="#465efb"/><stop offset="0.8" stop-color="#4852f4"/><stop offset="0.85" stop-color="#4742e6"/><stop offset="0.9" stop-color="#4639da"/><stop offset="0.95" stop-color="#484bef"/><stop offset="1" stop-color="#3678fd"/></linearGradient><linearGradient id="f67" href="#g67" x1="1" x2="0"/><linearGradient id="g68"><stop offset="0" stop-color="#22a2e4"/><stop offset="0.05" stop-color="#1caadf"/><stop offset="0.1" stop-color="#20a5e2"/><stop offset="0.15" stop-color="#23a0e5"/><stop offset="0.2" stop-color="#2896eb"/><stop offset="0.25" stop-color="#2e87f7"/><stop offset="0.3" stop-color="#2f82fa"/><stop offset="0.35" stop-color="#2d89f5"/><stop offset="0.4" stop-color="#2994ed"/><stop offset="0.45" stop-color="#23a1e5"/><stop offset="0.5" stop-color="#1fa5e2"/><stop offset="0.55" stop-color="#259ce7"/><stop offset="0.6" stop-color="#2d89f5"/><stop offset="0.65" stop-color="#3d71ff"/><stop offset="0.7" stop-color="#4661fc"/><stop offset="0.75" stop-color="#4757f7"/><stop offset="0.8" stop-color="#484ff2"/><stop offset="0.85" stop-color="#484cef"/><stop offset="0.9" stop-color="#11b1d5"/><stop offset="0.95" stop-color="#4757f7"/><stop offset="1" stop-color="#4561fc"/></linearGradient><linearGradient id="f68" href="#g68" x1="1" x2="0"/><linearGradient id="g69"><stop offset="0" stop-color="#3080fb"/><stop offset="0.05" stop-color="#426afe"/><stop offset="0.1" stop-color="#465ffb"/><stop offset="0.15" stop-color="#4368fe"/><stop offset="0.2" stop-color="#3e6fff"/><stop offset="0.25" stop-color="#4466fd"/><stop offset="0.3" stop-color="#09bcbe"/><stop offset="0.35" stop-color="#4850f3"/><stop offset="0.4" stop-color="#484ef1"/><stop offset="0.45" stop-color="#4758f8"/><stop offset="0.5" stop-color="#3974fe"/><stop offset="0.55" stop-color="#2895ec"/><stop offset="0.6" stop-color="#1baade"/><stop offset="0.65" stop-color="#0cb3d2"/><stop offset="0.7" stop-color="#0fb2d4"/><stop offset="0.75" stop-color="#1fa6e2"/><stop offset="0.8" stop-color="#2c8ef2"/><stop offset="0.85" stop-color="#0cb3d3"/><stop offset="0.9" stop-color="#4660fc"/><stop offset="0.95" stop-color="#465dfb"/><stop offset="1" stop-color="#475bfa"/></linearGradient><linearGradient id="f69" href="#g69" x1="1" x2="0"/><linearGradient id="g70"><stop offset="0" stop-color="#3479fd"/><stop offset="0.05" stop-color="#2f80fa"/><stop offset="0.1" stop-color="#2f82f9"/><stop offset="0.15" stop-color="#3d70ff"/><stop offset="0.2" stop-color="#3e6fff"/><stop offset="0.25" stop-color="#2f82fa"/><stop offset="0.3" stop-color="#2d8cf3"/><stop offset="0.35" stop-color="#249ee6"/><stop offset="0.4" stop-color="#0eb2d4"/><stop offset="0.45" stop-color="#1aacdd"/><stop offset="0.5" stop-color="#2d89f6"/><stop offset="0.55" stop-color="#2c90f0"/><stop offset="0.6" stop-color="#23c1af"/><stop offset="0.65" stop-color="#5ecd74"/><stop offset="0.7" stop-color="#08bcbf"/><stop offset="0.75" stop-color="#2b92ef"/><stop offset="0.8" stop-color="#2c8ef1"/><stop offset="0.85" stop-color="#2798ea"/><stop offset="0.9" stop-color="#2d8cf3"/><stop offset="0.95" stop-color="#2d8af5"/><stop offset="1" stop-color="#2b91ef"/></linearGradient><linearGradient id="f70" href="#g70" x1="1" x2="0"/><linearGradient id="g71"><stop offset="0" stop-color="#4661fc"/><stop offset="0.05" stop-color="#4562fc"/><stop offset="0.1" stop-color="#4853f5"/><stop offset="0.15" stop-color="#2895ec"/><stop offset="0.2" stop-color="#4331c6"/><stop offset="0.25" stop-color="#4331c6"/><stop offset="0.3" stop-color="#4539d9"/><stop offset="0.35" stop-color="#4747eb"/><stop offset="0.4" stop-color="#4755f6"/><stop offset="0.45" stop-color="#465efb"/><stop offset="0.5" stop-color="#475bf9"/><stop offset="0.55" stop-color="#4853f5"/><stop offset="0.6" stop-color="#4854f5"/><stop offset="0.65" stop-color="#465efb"/><stop offset="0.7" stop-color="#3777fe"/><stop offset="0.75" stop-color="#2797eb"/><stop offset="0.8" stop-color="#23a0e5"/><stop offset="0.85" stop-color="#2e86f8"/><stop offset="0.9" stop-color="#465efb"/><stop offset="0.95" stop-color="#4756f6"/><stop offset="1" stop-color="#4466fd"/></linearGradient><linearGradient id="f71" href="#g71" x1="1" x2="0"/><linearGradient id="g72"><stop offset="0" stop-color="#473ee1"/><stop offset="0.05" stop-color="#4742e6"/><stop offset="0.1" stop-color="#0bbdbd"/><stop offset="0.15" stop-color="#484df0"/><stop offset="0.2" stop-color="#473ee2"/><stop offset="0.25" stop-color="#4742e6"/><stop offset="0.3" stop-color="#465ffb"/><stop offset="0.35" stop-color="#4464fd"/><stop offset="0.4" stop-color="#4746eb"/><stop offset="0.45" stop-color="#463bdc"/><stop offset="0.5" stop-color="#4849ed"/><stop offset="0.55" stop-color="#4466fd"/><stop offset="0.6" stop-color="#2d8af4"/><stop offset="0.65" stop-color="#2d88f6"/><stop offset="0.7" stop-color="#475af9"/><stop offset="0.75" stop-color="#4332c9"/><stop offset="0.8" stop-color="#402bb6"/><stop offset="0.85" stop-color="#4747eb"/><stop offset="0.9" stop-color="#3876fe"/><stop offset="0.95" stop-color="#2d88f6"/><stop offset="1" stop-color="#3975fe"/></linearGradient><linearGradient id="f72" href="#g72" x1="1" x2="0"/><linearGradient id="g73"><stop offset="0" stop-color="#4759f8"/><stop offset="0.05" stop-color="#426afe"/><stop offset="0.1" stop-color="#4269fe"/><stop offset="0.15" stop-color="#4759f8"/><stop offset="0.2" stop-color="#484ef1"/><stop offset="0.25" stop-color="#484ef1"/><stop offset="0.3" stop-color="#4852f4"/><stop offset="0.35" stop-color="#4853f4"/><stop offset="0.4" stop-color="#484ff2"/><stop offset="0.45" stop-color="#4744e8"/><stop offset="0.5" stop-color="#463cde"/><stop offset="0.55" stop-color="#484df0"/><stop offset="0.6" stop-color="#317dfc"/><stop offset="0.65" stop-color="#20a5e3"/><stop offset="0.7" stop-color="#1ea7e1"/><stop offset="0.75" stop-color="#2e85f8"/><stop offset="0.8" stop-color="#4757f7"/><stop offset="0.85" stop-color="#4743e7"/><stop offset="0.9" stop-color="#473ee2"/><stop offset="0.95" stop-color="#4742e6"/><stop offset="1" stop-color="#4743e7"/></linearGradient><linearGradient id="f73" href="#g73" x1="1" x2="0"/><linearGradient id="g74"><stop offset="0" stop-color="#3b72ff"/><stop offset="0.05" stop-color="#4853f5"/><stop offset="0.1" stop-color="#463ddf"/><stop offset="0.15" stop-color="#463cde"/><stop offset="0.2" stop-color="#4756f7"/><stop offset="0.25" stop-color="#2e84f9"/><stop offset="0.3" stop-color="#2797eb"/><stop offset="0.35" stop-color="#2e85f8"/><stop offset="0.4" stop-color="#4465fd"/><stop offset="0.45" stop-color="#4756f6"/><stop offset="0.5" stop-color="#484df0"/><stop offset="0.55" stop-color="#4741e5"/><stop offset="0.6" stop-color="#4535d2"/><stop offset="0.65" stop-color="#3d70ff"/><stop offset="0.7" stop-color="#463bdd"/><stop offset="0.75" stop-color="#4848ec"/><stop offset="0.8" stop-color="#4747eb"/><stop offset="0.85" stop-color="#473ee1"/><stop offset="0.9" stop-color="#4744e8"/><stop offset="0.95" stop-color="#465dfa"/><stop offset="1" stop-color="#307ffb"/></linearGradient><linearGradient id="f74" href="#g74" x1="1" x2="0"/><linearGradient id="g75"><stop offset="0" stop-color="#2796eb"/><stop offset="0.05" stop-color="#2d8df2"/><stop offset="0.1" stop-color="#416afe"/><stop offset="0.15" stop-color="#4851f4"/><stop offset="0.2" stop-color="#4854f5"/><stop offset="0.25" stop-color="#3d70ff"/><stop offset="0.3" stop-color="#2e84f8"/><stop offset="0.35" stop-color="#4466fd"/><stop offset="0.4" stop-color="#4742e6"/><stop offset="0.45" stop-color="#4230c3"/><stop offset="0.5" stop-color="#402bb7"/><stop offset="0.55" stop-color="#4331c7"/><stop offset="0.6" stop-color="#4849ed"/><stop offset="0.65" stop-color="#4465fd"/><stop offset="0.7" stop-color="#3876fe"/><stop offset="0.75" stop-color="#406cfe"/><stop offset="0.8" stop-color="#465efb"/><stop offset="0.85" stop-color="#4561fc"/><stop offset="0.9" stop-color="#3e6fff"/><stop offset="0.95" stop-color="#3f6efe"/><stop offset="1" stop-color="#4562fc"/></linearGradient><linearGradient id="f75" href="#g75" x1="1" x2="0"/><linearGradient id="g76"><stop offset="0" stop-color="#463bdc"/><stop offset="0.05" stop-color="#4853f5"/><stop offset="0.1" stop-color="#2bc3a8"/><stop offset="0.15" stop-color="#4562fc"/><stop offset="0.2" stop-color="#4466fd"/><stop offset="0.25" stop-color="#2e83f9"/><stop offset="0.3" stop-color="#249de6"/><stop offset="0.35" stop-color="#259be8"/><stop offset="0.4" stop-color="#3777fe"/><stop offset="0.45" stop-color="#4854f5"/><stop offset="0.5" stop-color="#484bef"/><stop offset="0.55" stop-color="#484aed"/><stop offset="0.6" stop-color="#4744e8"/><stop offset="0.65" stop-color="#4848ec"/><stop offset="0.7" stop-color="#4755f6"/><stop offset="0.75" stop-color="#4755f6"/><stop offset="0.8" stop-color="#4741e5"/><stop offset="0.85" stop-color="#4331c8"/><stop offset="0.9" stop-color="#463adb"/><stop offset="0.95" stop-color="#475cfa"/><stop offset="1" stop-color="#2f80fa"/></linearGradient><linearGradient id="f76" href="#g76" x1="1" x2="0"/><linearGradient id="g77"><stop offset="0" stop-color="#4757f7"/><stop offset="0.05" stop-color="#4758f8"/><stop offset="0.1" stop-color="#465efb"/><stop offset="0.15" stop-color="#4850f3"/><stop offset="0.2" stop-color="#463de0"/><stop offset="0.25" stop-color="#4744e8"/><stop offset="0.3" stop-color="#4759f8"/><stop offset="0.35" stop-color="#4758f8"/><stop offset="0.4" stop-color="#4740e3"/><stop offset="0.45" stop-color="#3e26a8"/><stop offset="0.5" stop-color="#3e26a8"/><stop offset="0.55" stop-color="#3e26a8"/><stop offset="0.6" stop-color="#422ebf"/><stop offset="0.65" stop-color="#484aed"/><stop offset="0.7" stop-color="#406cfe"/><stop offset="0.75" stop-color="#3f6eff"/><stop offset="0.8" stop-color="#4850f3"/><stop offset="0.85" stop-color="#463bdd"/><stop offset="0.9" stop-color="#4741e5"/><stop offset="0.95" stop-color="#484ef1"/><stop offset="1" stop-color="#4747eb"/></linearGradient><linearGradient id="f77" href="#g77" x1="1" x2="0"/><linearGradient id="g78"><stop offset="0" stop-color="#4848ec"/><stop offset="0.05" stop-color="#4851f3"/><stop offset="0.1" stop-color="#4758f8"/><stop offset="0.15" stop-color="#4854f6"/><stop offset="0.2" stop-color="#4741e5"/><stop offset="0.25" stop-color="#422fc1"/><stop offset="0.3" stop-color="#402bb7"/><stop offset="0.35" stop-color="#1baade"/><stop offset="0.4" stop-color="#4660fb"/><stop offset="0.45" stop-color="#2994ed"/><stop offset="0.5" stop-color="#249de6"/><stop offset="0.55" stop-color="#2f81fa"/><stop offset="0.6" stop-color="#4758f8"/><stop offset="0.65" stop-color="#4744e8"/><stop offset="0.7" stop-color="#4848ec"/><stop offset="0.75" stop-color="#475cfa"/><stop offset="0.8" stop-color="#4368fd"/><stop offset="0.85" stop-color="#465ffb"/><stop offset="0.9" stop-color="#4757f7"/><stop offset="0.95" stop-color="#475bf9"/><stop offset="1" stop-color="#4367fd"/></linearGradient><linearGradient id="f78" href="#g78" x1="1" x2="0"/><linearGradient id="g79"><stop offset="0" stop-color="#416bfe"/><stop offset="0.05" stop-color="#17aeda"/><stop offset="0.1" stop-color="#3c71ff"/><stop offset="0.15" stop-color="#2e83f9"/><stop offset="0.2" stop-color="#2f80fa"/><stop offset="0.25" stop-color="#426afe"/><stop offset="0.3" stop-color="#475cfa"/><stop offset="0.35" stop-color="#4757f7"/><stop offset="0.4" stop-color="#4852f4"/><stop offset="0.45" stop-color="#475bf9"/><stop offset="0.5" stop-color="#3e70ff"/><stop offset="0.55" stop-color="#337bfd"/><stop offset="0.6" stop-color="#317dfb"/><stop offset="0.65" stop-color="#2d8cf3"/><stop offset="0.7" stop-color="#1da8e0"/><stop offset="0.75" stop-color="#01b9c7"/><stop offset="0.8" stop-color="#14b0d8"/><stop offset="0.85" stop-color="#2d8bf4"/><stop offset="0.9" stop-color="#4563fd"/><stop offset="0.95" stop-color="#4851f3"/><stop offset="1" stop-color="#4746ea"/></linearGradient><linearGradient id="f79" href="#g79" x1="1" x2="0"/><linearGradient id="g80"><stop offset="0" stop-color="#475dfa"/><stop offset="0.05" stop-color="#484ef1"/><stop offset="0.1" stop-color="#463ee1"/><stop offset="0.15" stop-color="#4538d8"/><stop offset="0.2" stop-color="#4848ec"/><stop offset="0.25" stop-color="#4562fc"/><stop offset="0.3" stop-color="#406cfe"/><stop offset="0.35" stop-color="#465ffb"/><stop offset="0.4" stop-color="#4564fd"/><stop offset="0.45" stop-color="#317dfc"/><stop offset="0.5" stop-color="#2e84f8"/><stop offset="0.55" stop-color="#3677fe"/><stop offset="0.6" stop-color="#3875fe"/><stop offset="0.65" stop-color="#2d8af5"/><stop offset="0.7" stop-color="#20a4e3"/><stop offset="0.75" stop-color="#14b0d8"/><stop offset="0.8" stop-color="#249fe6"/><stop offset="0.85" stop-color="#3876fe"/><stop offset="0.9" stop-color="#4564fd"/><stop offset="0.95" stop-color="#3c72ff"/><stop offset="1" stop-color="#307ffb"/></linearGradient><linearGradient id="f80" href="#g80" x1="1" x2="0"/><linearGradient id="g81"><stop offset="0" stop-color="#416bfe"/><stop offset="0.05" stop-color="#475bf9"/><stop offset="0.1" stop-color="#4746ea"/><stop offset="0.15" stop-color="#4746ea"/><stop offset="0.2" stop-color="#4367fd"/><stop offset="0.25" stop-color="#93ca4a"/><stop offset="0.3" stop-color="#3080fb"/><stop offset="0.35" stop-color="#4755f6"/><stop offset="0.4" stop-color="#473fe2"/><stop offset="0.45" stop-color="#484df0"/><stop offset="0.5" stop-color="#307efb"/><stop offset="0.55" stop-color="#269ae9"/><stop offset="0.6" stop-color="#2c8ef2"/><stop offset="0.65" stop-color="#2e85f8"/><stop offset="0.7" stop-color="#2895ec"/><stop offset="0.75" stop-color="#21a3e3"/><stop offset="0.8" stop-color="#269be8"/><stop offset="0.85" stop-color="#2d8bf4"/><stop offset="0.9" stop-color="#2c8ef1"/><stop offset="0.95" stop-color="#2895ec"/><stop offset="1" stop-color="#2b91ef"/></linearGradient><linearGradient id="f81" href="#g81" x1="1" x2="0"/><linearGradient id="g82"><stop offset="0" stop-color="#1fa6e2"/><stop offset="0.05" stop-color="#1da8e0"/><stop offset="0.1" stop-color="#23a0e5"/><stop offset="0.15" stop-color="#2895ec"/><stop offset="0.2" stop-color="#2d8cf3"/><stop offset="0.25" stop-color="#2f83f9"/><stop offset="0.3" stop-color="#3f6dfe"/><stop offset="0.35" stop-color="#4854f5"/><stop offset="0.4" stop-color="#4746ea"/><stop offset="0.45" stop-color="#484ff2"/><stop offset="0.5" stop-color="#406dfe"/><stop offset="0.55" stop-color="#2e85f8"/><stop offset="0.6" stop-color="#327cfc"/><stop offset="0.65" stop-color="#3f6efe"/><stop offset="0.7" stop-color="#4561fc"/><stop offset="0.75" stop-color="#475af9"/><stop offset="0.8" stop-color="#3d70ff"/><stop offset="0.85" stop-color="#22a1e4"/><stop offset="0.9" stop-color="#09b4d1"/><stop offset="0.95" stop-color="#1babde"/><stop offset="1" stop-color="#2c8ff1"/></linearGradient><linearGradient id="f82" href="#g82" x1="1" x2="0"/><linearGradient id="g83"><stop offset="0" stop-color="#4465fd"/><stop offset="0.05" stop-color="#2699e9"/><stop offset="0.1" stop-color="#2c8ef1"/><stop offset="0.15" stop-color="#2797eb"/><stop offset="0.2" stop-color="#475bf9"/><stop offset="0.25" stop-color="#3e6fff"/><stop offset="0.3" stop-color="#4563fd"/><stop offset="0.35" stop-color="#484bee"/><stop offset="0.4" stop-color="#4745e9"/><stop offset="0.45" stop-color="#484bee"/><stop offset="0.5" stop-color="#4747eb"/><stop offset="0.55" stop-color="#473fe3"/><stop offset="0.6" stop-color="#484aee"/><stop offset="0.65" stop-color="#416cfe"/><stop offset="0.7" stop-color="#2a93ee"/><stop offset="0.75" stop-color="#20a4e3"/><stop offset="0.8" stop-color="#23a0e5"/><stop offset="0.85" stop-color="#2d8cf3"/><stop offset="0.9" stop-color="#317dfb"/><stop offset="0.95" stop-color="#3578fd"/><stop offset="1" stop-color="#3875fe"/></linearGradient><linearGradient id="f83" href="#g83" x1="1" x2="0"/><linearGradient id="g84"><stop offset="0" stop-color="#3a74fe"/><stop offset="0.05" stop-color="#2798ea"/><stop offset="0.1" stop-color="#94ca4a"/><stop offset="0.15" stop-color="#4466fd"/><stop offset="0.2" stop-color="#4759f8"/><stop offset="0.25" stop-color="#4562fc"/><stop offset="0.3" stop-color="#4465fd"/><stop offset="0.35" stop-color="#4759f8"/><stop offset="0.4" stop-color="#04bbc2"/><stop offset="0.45" stop-color="#4660fc"/><stop offset="0.5" stop-color="#2d8cf3"/><stop offset="0.55" stop-color="#259ce7"/><stop offset="0.6" stop-color="#2896eb"/><stop offset="0.65" stop-color="#2c8ef2"/><stop offset="0.7" stop-color="#317efb"/><stop offset="0.75" stop-color="#475dfa"/><stop offset="0.8" stop-color="#473fe2"/><stop offset="0.85" stop-color="#4538d8"/><stop offset="0.9" stop-color="#4852f4"/><stop offset="0.95" stop-color="#307ffb"/><stop offset="1" stop-color="#23a1e5"/></linearGradient><linearGradient id="f84" href="#g84" x1="1" x2="0"/><linearGradient id="g85"><stop offset="0" stop-color="#2d8cf3"/><stop offset="0.05" stop-color="#4660fc"/><stop offset="0.1" stop-color="#4745e9"/><stop offset="0.15" stop-color="#2895ec"/><stop offset="0.2" stop-color="#4744e8"/><stop offset="0.25" stop-color="#484ef1"/><stop offset="0.3" stop-color="#484bef"/><stop offset="0.35" stop-color="#4744e8"/><stop offset="0.4" stop-color="#484ef1"/><stop offset="0.45" stop-color="#475bf9"/><stop offset="0.5" stop-color="#4758f8"/><stop offset="0.55" stop-color="#4852f4"/><stop offset="0.6" stop-color="#4747ec"/><stop offset="0.65" stop-color="#422fc1"/><stop offset="0.7" stop-color="#3e26a8"/><stop offset="0.75" stop-color="#3e28ad"/><stop offset="0.8" stop-color="#473fe2"/><stop offset="0.85" stop-color="#475bf9"/><stop offset="0.9" stop-color="#3f6efe"/><stop offset="0.95" stop-color="#3479fd"/><stop offset="1" stop-color="#327dfc"/></linearGradient><linearGradient id="f85" href="#g85" x1="1" x2="0"/><linearGradient id="g86"><stop offset="0" stop-color="#4367fd"/><stop offset="0.05" stop-color="#4757f7"/><stop offset="0.1" stop-color="#4369fe"/><stop offset="0.15" stop-color="#2e83f9"/><stop offset="0.2" stop-color="#2f82f9"/><stop offset="0.25" stop-color="#4562fc"/><stop offset="0.3" stop-color="#484df1"/><stop offset="0.35" stop-color="#484cef"/><stop offset="0.4" stop-color="#484df1"/><stop offset="0.45" stop-color="#484ff2"/><stop offset="0.5" stop-color="#4855f6"/><stop offset="0.55" stop-color="#4757f7"/><stop offset="0.6" stop-color="#484ff2"/><stop offset="0.65" stop-color="#463bdd"/><stop offset="0.7" stop-color="#422fc1"/><stop offset="0.75" stop-color="#4740e4"/><stop offset="0.8" stop-color="#465ffb"/><stop offset="0.85" stop-color="#4759f8"/><stop offset="0.9" stop-color="#4755f6"/><stop offset="0.95" stop-color="#317dfc"/><stop offset="1" stop-color="#1da9e0"/></linearGradient><linearGradient id="f86" href="#g86" x1="1" x2="0"/><linearGradient id="g87"><stop offset="0" stop-color="#4740e3"/><stop offset="0.05" stop-color="#21c1b0"/><stop offset="0.1" stop-color="#4269fe"/><stop offset="0.15" stop-color="#2a93ed"/><stop offset="0.2" stop-color="#249fe6"/><stop offset="0.25" stop-color="#307ffb"/><stop offset="0.3" stop-color="#475af9"/><stop offset="0.35" stop-color="#4561fc"/><stop offset="0.4" stop-color="#307ffb"/><stop offset="0.45" stop-color="#3c71ff"/><stop offset="0.5" stop-color="#475bf9"/><stop offset="0.55" stop-color="#4660fb"/><stop offset="0.6" stop-color="#4464fd"/><stop offset="0.65" stop-color="#4747eb"/><stop offset="0.7" stop-color="#4537d5"/><stop offset="0.75" stop-color="#484ef1"/><stop offset="0.8" stop-color="#465efb"/><stop offset="0.85" stop-color="#4747eb"/><stop offset="0.9" stop-color="#4332cb"/><stop offset="0.95" stop-color="#4432cb"/><stop offset="1" stop-color="#4747eb"/></linearGradient><linearGradient id="f87" href="#g87" x1="1" x2="0"/><linearGradient id="g88"><stop offset="0" stop-color="#4741e5"/><stop offset="0.05" stop-color="#4537d5"/><stop offset="0.1" stop-color="#463bdc"/><stop offset="0.15" stop-color="#4849ed"/><stop offset="0.2" stop-color="#4854f5"/><stop offset="0.25" stop-color="#475dfa"/><stop offset="0.3" stop-color="#4465fd"/><stop offset="0.35" stop-color="#4660fb"/><stop offset="0.4" stop-color="#4755f6"/><stop offset="0.45" stop-color="#475dfa"/><stop offset="0.5" stop-color="#3776fe"/><stop offset="0.55" stop-color="#2e83f9"/><stop offset="0.6" stop-color="#2e86f7"/><stop offset="0.65" stop-color="#337bfc"/><stop offset="0.7" stop-color="#465dfa"/><stop offset="0.75" stop-color="#4745e9"/><stop offset="0.8" stop-color="#463ada"/><stop offset="0.85" stop-color="#4746ea"/><stop offset="0.9" stop-color="#465ffb"/><stop offset="0.95" stop-color="#2d89f5"/><stop offset="1" stop-color="#20a5e2"/></linearGradient><linearGradient id="f88" href="#g88" x1="1" x2="0"/><linearGradient id="g89"><stop offset="0" stop-color="#2b91ef"/><stop offset="0.05" stop-color="#465dfa"/><stop offset="0.1" stop-color="#4747eb"/><stop offset="0.15" stop-color="#4745ea"/><stop offset="0.2" stop-color="#4746ea"/><stop offset="0.25" stop-color="#4743e7"/><stop offset="0.3" stop-color="#484bef"/><stop offset="0.35" stop-color="#475cfa"/><stop offset="0.4" stop-color="#3e70ff"/><stop offset="0.45" stop-color="#3776fe"/><stop offset="0.5" stop-color="#3e6fff"/><stop offset="0.55" stop-color="#4466fd"/><stop offset="0.6" stop-color="#4759f8"/><stop offset="0.65" stop-color="#484df1"/><stop offset="0.7" stop-color="#484cf0"/><stop offset="0.75" stop-color="#484df0"/><stop offset="0.8" stop-color="#4745e9"/><stop offset="0.85" stop-color="#463de0"/><stop offset="0.9" stop-color="#484ef1"/><stop offset="0.95" stop-color="#307efb"/><stop offset="1" stop-color="#1aabdd"/></linearGradient><linearGradient id="f89" href="#g89" x1="1" x2="0"/><linearGradient id="s0"><stop offset="0" stop-color="#4367fd" stop-opacity="0"/><stop offset="0.15" stop-color="#259ce7" stop-opacity="0.7"/><stop offset="0.33" stop-color="#fec13a" stop-opacity="1"/><stop offset="0.5" stop-color="#f9fb15" stop-opacity="1"/><stop offset="0.67" stop-color="#fec13a" stop-opacity="1"/><stop offset="0.85" stop-color="#259ce7" stop-opacity="0.7"/><stop offset="1" stop-color="#4367fd" stop-opacity="0"/></linearGradient><linearGradient id="s1"><stop offset="0" stop-color="#4367fd" stop-opacity="0"/><stop offset="0.15" stop-color="#259ce7" stop-opacity="0.7"/><stop offset="0.33" stop-color="#d2bf27" stop-opacity="1"/><stop offset="0.5" stop-color="#fccf30" stop-opacity="1"/><stop offset="0.67" stop-color="#d2bf27" stop-opacity="1"/><stop offset="0.85" stop-color="#259ce7" stop-opacity="0.7"/><stop offset="1" stop-color="#4367fd" stop-opacity="0"/></linearGradient><linearGradient id="s2"><stop offset="0" stop-color="#4367fd" stop-opacity="0"/><stop offset="0.15" stop-color="#259ce7" stop-opacity="0.7"/><stop offset="0.33" stop-color="#78cc5f" stop-opacity="1"/><stop offset="0.5" stop-color="#cac129" stop-opacity="1"/><stop offset="0.67" stop-color="#78cc5f" stop-opacity="1"/><stop offset="0.85" stop-color="#259ce7" stop-opacity="0.7"/><stop offset="1" stop-color="#4367fd" stop-opacity="0"/></linearGradient><filter id="hblur" x="-5%" y="-5%" width="110%" height="110%"><feGaussianBlur stdDeviation="0.6 0.6"/></filter><clipPath id="hc1"><rect x="386.5" y="53.2" width="99.7" height="44.7"/></clipPath><clipPath id="hc2"><rect x="386.5" y="122.6" width="99.7" height="45"/></clipPath><clipPath id="hc3"><rect x="386.5" y="194" width="99.7" height="45"/></clipPath><clipPath id="hc4"><rect x="561" y="53.5" width="99.5" height="44.2"/></clipPath><clipPath id="hc5"><rect x="561" y="122.7" width="99.5" height="43.9"/></clipPath><clipPath id="hc6"><rect x="561" y="194.1" width="99.5" height="44.5"/></clipPath><clipPath id="hc7"><rect x="386.5" y="329.4" width="100.1" height="44.2"/></clipPath><clipPath id="hc8"><rect x="386.5" y="398.5" width="100.1" height="44"/></clipPath><linearGradient id="sp8_12"><stop offset="0" stop-color="#05b6ce"/><stop offset="0.05" stop-color="#48cb86"/><stop offset="0.1" stop-color="#b0c636"/><stop offset="0.15" stop-color="#48cb86"/><stop offset="0.2" stop-color="#05b6ce"/><stop offset="0.25" stop-color="#1caadf"/><stop offset="0.3" stop-color="#12beb9"/><stop offset="0.35" stop-color="#05b6ce"/><stop offset="0.4" stop-color="#259ce7"/><stop offset="0.45" stop-color="#1caadf"/><stop offset="0.5" stop-color="#12beb9"/><stop offset="0.55" stop-color="#05b6ce"/><stop offset="0.6" stop-color="#2fc5a2"/><stop offset="0.65" stop-color="#b0c636"/><stop offset="0.7" stop-color="#48cb86"/><stop offset="0.75" stop-color="#05b6ce"/><stop offset="0.8" stop-color="#1caadf"/><stop offset="0.85" stop-color="#05b6ce"/><stop offset="0.9" stop-color="#12beb9"/><stop offset="0.95" stop-color="#15afd9"/><stop offset="1" stop-color="#1caadf"/></linearGradient><clipPath id="hc9"><rect x="386.5" y="470.5" width="100.1" height="43.8"/></clipPath><clipPath id="hc10"><rect x="561.6" y="328.9" width="99" height="44.2"/></clipPath><clipPath id="hc11"><rect x="561.6" y="398.1" width="99" height="44.5"/></clipPath><clipPath id="hc12"><rect x="561.6" y="470" width="99" height="44.6"/></clipPath><linearGradient id="cbar"><stop offset="0" stop-color="#3e26a8"/><stop offset="0.12" stop-color="#484cef"/><stop offset="0.25" stop-color="#347afd"/><stop offset="0.38" stop-color="#21a3e3"/><stop offset="0.5" stop-color="#12beb9"/><stop offset="0.62" stop-color="#5ccc76"/><stop offset="0.75" stop-color="#c8c129"/><stop offset="0.88" stop-color="#feca33"/><stop offset="1" stop-color="#f9fb15"/></linearGradient></defs>
<text x="14.2" y="21.3" font-weight="bold" font-size="12.5" style="stroke:none">a</text>
<text x="56.7" y="27.6">Boundary cell 1</text>
<text x="52.9" y="42.7" fill="#7f7f7f" color="#7f7f7f">NWB4-185-1-HPC</text>
<path d="M81.91 89.04h.4M63.94 89.04h.4M50.22 89.04h.4M65.5 89.04h.4M98.27 89.04h.4M84.18 89.04h.4M143.67 89.04h.4M138.14 89.04h.4M102.58 89.04h.4M64.75 89.04h.4M79.45 89.04h.4M104.12 89.04h.4M72.99 87.72h.4M79.19 87.72h.4M77.55 87.72h.4M129.34 87.72h.4M143.78 87.72h.4M68.06 86.39h.4M143.42 86.39h.4M109 86.39h.4M108.25 86.39h.4M74.35 86.39h.4M91.75 86.39h.4M69.86 86.39h.4M126.94 86.39h.4M80.78 86.39h.4M62.53 86.39h.4M135.07 86.39h.4M136.72 86.39h.4M138.37 86.39h.4M83.28 85.07h.4M141.5 85.07h.4M71.66 85.07h.4M57.31 85.07h.4M122.24 85.07h.4M108.42 85.07h.4M82.58 85.07h.4M86.63 85.07h.4M80.48 85.07h.4M113.06 85.07h.4M132.75 85.07h.4M127.13 83.75h.4M54.18 83.75h.4M130.54 83.75h.4M129.92 83.75h.4M60.63 83.75h.4M144.93 83.75h.4M136.11 83.75h.4M99.04 82.42h.4M78.18 82.42h.4M106.97 82.42h.4M65.25 82.42h.4M55.95 82.42h.4M107.41 81.1h.4M77.17 81.1h.4M132.19 81.1h.4M98.8 81.1h.4M138.85 81.1h.4M107.07 81.1h.4M104.62 81.1h.4M97.85 81.1h.4M118.83 79.78h.4M88.78 79.78h.4M57.13 79.78h.4M59.14 79.78h.4M134.2 78.45h.4M112.6 78.45h.4M87.9 78.45h.4M114.99 78.45h.4M72.37 78.45h.4M135.86 78.45h.4M56.26 78.45h.4M74.62 78.45h.4M118.41 78.45h.4M89.26 78.45h.4M134.45 78.45h.4M128.99 78.45h.4M83.61 78.45h.4M91.29 78.45h.4M130.6 78.45h.4M132.22 77.13h.4M62.94 77.13h.4M134.07 77.13h.4M68.25 75.81h.4M72.61 75.81h.4M97.18 75.81h.4M127.34 75.81h.4M89.12 75.81h.4M88.57 75.81h.4M100.58 75.81h.4M125.04 75.81h.4M114.05 75.81h.4M101.88 75.81h.4M90.8 75.81h.4M129.5 75.81h.4M62.59 75.81h.4M103.6 75.81h.4M105.33 75.81h.4M98.77 74.48h.4M99.89 74.48h.4M135.34 74.48h.4M118.54 74.48h.4M122.58 74.48h.4M113.75 74.48h.4M67.46 74.48h.4M93.14 73.16h.4M135.3 73.16h.4M70.77 73.16h.4M124.98 73.16h.4M56.99 73.16h.4M59.4 71.84h.4M56.73 71.84h.4M91.05 71.84h.4M73.76 71.84h.4M134.08 70.51h.4M53.76 70.51h.4M75.49 69.19h.4M76.06 69.19h.4M145.09 69.19h.4M61.98 69.19h.4M119.68 69.19h.4M109.01 69.19h.4M122.63 69.19h.4M83.73 69.19h.4M64.44 69.19h.4M77.6 69.19h.4M79.15 69.19h.4M67.61 67.87h.4M50.58 67.87h.4M100.3 66.54h.4M91.98 66.54h.4M136.88 66.54h.4M78.59 66.54h.4M114.35 66.54h.4M116.18 66.54h.4M71.78 66.54h.4M106.04 65.22h.4M129.6 65.22h.4M135.61 65.22h.4M103.28 65.22h.4M142.17 65.22h.4M95.3 65.22h.4M82.23 65.22h.4M88.58 63.89h.4M72.6 63.89h.4M63.14 63.89h.4M54.29 62.57h.4M129.69 62.57h.4M139.36 62.57h.4M93.43 62.57h.4M78.36 62.57h.4M95.24 62.57h.4M101.97 61.25h.4M67.34 61.25h.4M97.54 61.25h.4M91.38 61.25h.4M59.59 61.25h.4M137.53 61.25h.4M103.76 61.25h.4M55.52 59.92h.4M101.9 59.92h.4M144.34 59.92h.4M62.18 59.92h.4M119.51 59.92h.4M98.71 59.92h.4M145.16 59.92h.4M88.3 59.92h.4M97.58 58.6h.4M127.52 58.6h.4M71.23 58.6h.4M111.32 58.6h.4M88.26 58.6h.4M142.14 58.6h.4M61.6 58.6h.4M143.78 58.6h.4M145.42 58.6h.4M124.9 57.28h.4M86.97 57.28h.4M108.52 57.28h.4M59.17 57.28h.4M122.05 57.28h.4M126.92 57.28h.4M88.85 55.96h.4M52.02 55.96h.4M99.14 55.96h.4M114.99 55.96h.4M73.73 55.96h.4M101.09 55.96h.4M59.54 54.63h.4M78.82 54.63h.4M118.05 54.63h.4M102.19 54.63h.4M70.86 54.63h.4M120.27 54.63h.4M141.59 54.63h.4M64.26 53.31h.4M124.69 53.31h.4M93.32 53.31h.4M102.61 53.31h.4M80.2 53.31h.4M112.5 53.31h.4M92.52 53.31h.4M68.05 51.98h.4M79.98 51.98h.4M106.86 51.98h.4M60.87 51.98h.4M123.14 51.98h.4M59.08 50.66h.4M84.7 50.66h.4M57.98 50.66h.4M111.85 50.66h.4M97.06 50.66h.4M86.06 50.66h.4M131.33 50.66h.4M83.2 50.66h.4M72.62 50.66h.4M87.76 50.66h.4M89.45 50.66h.4" stroke="#6cbf45" stroke-width="2.3" stroke-linecap="round"/>
<path d="M94.14 194.34h.4M111.53 194.34h.4M52.04 194.34h.4M54.42 194.34h.4M92.1 194.34h.4M99.48 194.34h.4M113.05 194.34h.4M62.08 194.34h.4M59.23 194.34h.4M96.08 194.34h.4M98.02 194.34h.4M123.88 193.03h.4M95.17 193.03h.4M88.87 193.03h.4M55.16 193.03h.4M98.98 193.03h.4M74.86 193.03h.4M89.22 193.03h.4M125.8 193.03h.4M111.36 191.72h.4M90.42 191.72h.4M125.44 191.72h.4M104.8 191.72h.4M94.65 191.72h.4M99.25 191.72h.4M90.45 191.72h.4M140.26 191.72h.4M73.42 190.41h.4M83.03 190.41h.4M54.6 189.1h.4M94.44 189.1h.4M72.79 189.1h.4M65.37 189.1h.4M77.78 189.1h.4M104.92 189.1h.4M96.74 189.1h.4M50.89 189.1h.4M95.94 189.1h.4M101.03 189.1h.4M89.85 189.1h.4M91.6 189.1h.4M135.38 189.1h.4M98.83 189.1h.4M63.64 189.1h.4M97.03 187.78h.4M132.3 187.78h.4M98.64 187.78h.4M130.27 187.78h.4M127.54 187.78h.4M98.55 187.78h.4M71.08 187.78h.4M144.68 187.78h.4M143.59 187.78h.4M108.52 187.78h.4M129.34 187.78h.4M127.42 187.78h.4M99.49 187.78h.4M97.75 187.78h.4M139.8 187.78h.4M96.39 187.78h.4M96.02 187.78h.4M141.59 187.78h.4M87.12 187.78h.4M94.69 187.78h.4M141.17 186.47h.4M83.02 186.47h.4M114.06 186.47h.4M61.84 186.47h.4M64.92 186.47h.4M92.47 186.47h.4M125.33 186.47h.4M111.38 186.47h.4M75.54 186.47h.4M140.95 186.47h.4M126.76 186.47h.4M98.21 186.47h.4M77.61 186.47h.4M132.61 185.16h.4M103.59 185.16h.4M70.85 185.16h.4M92.08 185.16h.4M108.75 185.16h.4M94.06 185.16h.4M101.19 185.16h.4M102.59 185.16h.4M93.9 185.16h.4M92.52 185.16h.4M66.3 185.16h.4M77.31 185.16h.4M79.32 185.16h.4M110.13 183.85h.4M144.45 183.85h.4M93.36 183.85h.4M123.57 183.85h.4M137.12 183.85h.4M108.61 183.85h.4M87.22 183.85h.4M140.4 183.85h.4M100.39 183.85h.4M128.26 183.85h.4M125.52 183.85h.4M131.79 182.54h.4M137.22 182.54h.4M91.28 182.54h.4M119.19 182.54h.4M80.82 182.54h.4M81.54 182.54h.4M58.52 182.54h.4M114.87 182.54h.4M71.88 182.54h.4M97.67 181.22h.4M93.46 181.22h.4M119.5 181.22h.4M92.83 181.22h.4M110.89 181.22h.4M59.34 181.22h.4M72.57 181.22h.4M114.18 181.22h.4M77.48 179.91h.4M106.14 179.91h.4M125.63 179.91h.4M137.62 179.91h.4M60.82 179.91h.4M108.92 179.91h.4M73.71 179.91h.4M97.5 179.91h.4M79.27 178.6h.4M97.33 178.6h.4M94.75 178.6h.4M96.27 178.6h.4M81.72 177.29h.4M96.72 177.29h.4M84.22 177.29h.4M114.64 177.29h.4M83.55 177.29h.4M84.58 177.29h.4M119.83 177.29h.4M109.22 175.98h.4M69.71 175.98h.4M100.31 175.98h.4M50.32 175.98h.4M92.99 175.98h.4M94.67 175.98h.4M73.52 175.98h.4M136.35 174.66h.4M90.61 174.66h.4M132.95 174.66h.4M96.95 174.66h.4M94.79 174.66h.4M114.36 174.66h.4M105.93 174.66h.4M90.73 174.66h.4M78.75 174.66h.4M94.9 174.66h.4M64.23 174.66h.4M124.42 174.66h.4M63.29 174.66h.4M52.56 174.66h.4M92.34 174.66h.4M55.75 173.35h.4M90.32 173.35h.4M80 173.35h.4M143.46 172.04h.4M52.04 172.04h.4M48.88 172.04h.4M51.95 172.04h.4M97.58 172.04h.4M53.93 172.04h.4M100.76 170.73h.4M52.03 170.73h.4M69.72 170.73h.4M92.71 170.73h.4M136.53 170.73h.4M144.49 170.73h.4M85.99 170.73h.4M94.92 170.73h.4M123.95 170.73h.4M91.87 170.73h.4M98.04 170.73h.4M97.8 170.73h.4M97.2 170.73h.4M127.23 169.42h.4M136.98 169.42h.4M128.78 169.42h.4M61.24 169.42h.4M129.58 169.42h.4M121.29 169.42h.4M92.32 169.42h.4M59.67 169.42h.4M94.93 169.42h.4M94.15 169.42h.4M97.27 169.42h.4M131.24 169.42h.4M96.9 169.42h.4M98.87 169.42h.4M92.47 168.1h.4M95.95 168.1h.4M116.17 168.1h.4M95.18 168.1h.4M63.1 168.1h.4M52.32 168.1h.4M97.64 168.1h.4M99.32 168.1h.4M74.63 166.79h.4M83.89 166.79h.4M94.8 166.79h.4M95.9 166.79h.4M97.24 166.79h.4M97.89 166.79h.4M50.12 166.79h.4M116.21 166.79h.4M97.38 166.79h.4M98.85 166.79h.4M117.94 166.79h.4M119.68 166.79h.4M117.37 165.48h.4M51.05 165.48h.4M88.09 165.48h.4M87.45 165.48h.4M115.52 165.48h.4M85.31 165.48h.4M95.23 165.48h.4M88.03 165.48h.4M85.3 165.48h.4M84.09 165.48h.4M75.99 165.48h.4M93.78 165.48h.4M86.92 165.48h.4M109.76 165.48h.4M95.8 165.48h.4M97.81 165.48h.4M105.44 164.17h.4M128.74 164.17h.4M97 164.17h.4M81.54 164.17h.4M81.75 164.17h.4M93.36 164.17h.4M96.62 164.17h.4M87.17 164.17h.4M98.19 164.17h.4M81.89 164.17h.4M99.89 164.17h.4M83.66 164.17h.4M85.43 164.17h.4M108.42 162.86h.4M124.49 162.86h.4M109.75 161.54h.4M80.53 161.54h.4M98.3 161.54h.4M59.96 161.54h.4M109.42 160.23h.4M118.67 160.23h.4M95.36 160.23h.4M94.12 160.23h.4M98.13 160.23h.4M113.37 160.23h.4M49.86 160.23h.4M84.22 160.23h.4M68.84 160.23h.4M95.32 160.23h.4M98.33 160.23h.4M86.43 160.23h.4M66.22 158.92h.4M91.47 158.92h.4M50.52 158.92h.4M104.68 158.92h.4M144.63 158.92h.4M97.96 157.61h.4M144.67 157.61h.4M130.04 157.61h.4M113.97 157.61h.4M141.69 156.3h.4M96.67 156.3h.4M130.21 156.3h.4M99.16 156.3h.4M130.03 156.3h.4M93.03 154.98h.4M93.68 154.98h.4M139.25 154.98h.4M110.77 154.98h.4M130.12 154.98h.4M81.53 154.98h.4M51.8 154.98h.4M71.58 154.98h.4M111.21 154.98h.4M95.82 154.98h.4M96.92 154.98h.4M122.97 154.98h.4M95.12 154.98h.4M109.84 153.67h.4M69.09 153.67h.4M134.34 153.67h.4M92.61 153.67h.4M127.18 153.67h.4M93.27 153.67h.4M96.32 153.67h.4M91.79 153.67h.4M94.59 153.67h.4M95.6 152.36h.4M124.64 152.36h.4M93.38 152.36h.4M56.2 152.36h.4M87.85 152.36h.4M85.77 152.36h.4M68.69 152.36h.4M95.22 152.36h.4M139.54 151.05h.4M134.79 151.05h.4M83.81 151.05h.4M49 151.05h.4M104.4 151.05h.4M137.44 151.05h.4M55.13 151.05h.4M103.92 151.05h.4M127.63 149.74h.4M76.46 149.74h.4M63.59 149.74h.4M57.84 149.74h.4M94.17 149.74h.4M89.57 149.74h.4M114.81 149.74h.4M139.09 149.74h.4M137.94 149.74h.4M116.32 148.42h.4M95.88 148.42h.4M137.16 148.42h.4M123.23 148.42h.4M90.74 148.42h.4M68.96 148.42h.4M120.97 148.42h.4M51.86 148.42h.4M128.75 148.42h.4M88.39 148.42h.4M53.79 148.42h.4M82.16 147.11h.4M141.73 147.11h.4M123.96 147.11h.4M64.26 147.11h.4M79.2 147.11h.4M97.91 147.11h.4M55.92 147.11h.4M99.26 147.11h.4M111.01 145.8h.4M137.1 145.8h.4M96.16 145.8h.4M116.54 145.8h.4M118.29 145.8h.4M120.04 145.8h.4M93.99 144.49h.4M126.21 144.49h.4M87.17 144.49h.4M100.34 144.49h.4M133.29 144.49h.4M109.92 144.49h.4M79.83 143.18h.4M112.09 143.18h.4M118.48 143.18h.4M55.19 143.18h.4M94.72 143.18h.4M93.57 143.18h.4M64.08 143.18h.4M89.22 143.18h.4M81.02 143.18h.4M113.58 143.18h.4M102.35 143.18h.4M144.99 143.18h.4M95.26 143.18h.4M96.96 143.18h.4M64.29 141.86h.4M95.35 141.86h.4M83.38 141.86h.4M87.82 141.86h.4M50.82 140.55h.4M106.06 140.55h.4M130.71 140.55h.4M118.13 140.55h.4M105.39 140.55h.4M91.03 140.55h.4M95.38 140.55h.4M103.78 140.55h.4M115.4 139.24h.4M94.6 139.24h.4M93.39 139.24h.4M76.78 139.24h.4M98.89 139.24h.4M114.86 139.24h.4M112.64 139.24h.4M139.49 139.24h.4M72.45 139.24h.4M61.45 139.24h.4M121.85 139.24h.4M54.24 139.24h.4M121.84 139.24h.4M126.66 139.24h.4M140.79 139.24h.4M100.14 139.24h.4M117.62 139.24h.4M97.91 139.24h.4M102.81 139.24h.4M71.88 139.24h.4M142.59 139.24h.4M102.21 139.24h.4M144.06 137.93h.4M95.64 137.93h.4M122.41 137.93h.4M72.38 137.93h.4M143.06 137.93h.4M106.92 137.93h.4M94.92 137.93h.4M115.75 137.93h.4M104.04 137.93h.4M100.96 136.62h.4M68 136.62h.4M100.09 136.62h.4M62.53 136.62h.4M105.49 136.62h.4M95.88 136.62h.4M93.55 136.62h.4M101 136.62h.4M106.96 136.62h.4M93.52 135.3h.4M93.59 135.3h.4M118.69 135.3h.4M95.51 135.3h.4M57.53 135.3h.4M96.03 135.3h.4M97.45 135.3h.4M117.38 133.99h.4M82.29 133.99h.4M92.39 133.99h.4M58.03 133.99h.4M126.81 133.99h.4M117.14 133.99h.4M66.37 133.99h.4M129.29 133.99h.4M135.2 132.68h.4M100.74 132.68h.4M77.74 132.68h.4M104.52 132.68h.4M123.1 132.68h.4M130.64 132.68h.4M111.69 132.68h.4M88.4 131.37h.4M95.49 131.37h.4M138.57 131.37h.4M94 131.37h.4M100.21 131.37h.4M53.43 131.37h.4M85.39 131.37h.4M62.1 131.37h.4M116.88 131.37h.4M114.38 130.06h.4M66.14 130.06h.4M135.24 130.06h.4M97.23 130.06h.4M96.29 130.06h.4M93.79 130.06h.4M132.29 130.06h.4M100.41 130.06h.4M130.3 128.74h.4M97.39 128.74h.4M97.24 128.74h.4M101.89 128.74h.4M59.91 128.74h.4M96.44 128.74h.4M122.21 128.74h.4M119.73 128.74h.4M103.88 128.74h.4M98.24 128.74h.4M100.05 128.74h.4M112.34 127.43h.4M93.91 127.43h.4M127.5 127.43h.4M137.63 127.43h.4M96.38 127.43h.4M144.94 127.43h.4M92.85 127.43h.4M92.69 127.43h.4M91.36 127.43h.4M103.55 127.43h.4M80.84 127.43h.4M91.99 127.43h.4M93.45 127.43h.4M53.57 126.12h.4M102.16 126.12h.4M130.57 126.12h.4M93.13 126.12h.4M86.1 126.12h.4M111.11 126.12h.4M63.04 126.12h.4M96.43 126.12h.4M97.04 124.81h.4M124.95 124.81h.4M107.97 124.81h.4M121.2 124.81h.4M129.59 124.81h.4M112.06 124.81h.4M94.97 124.81h.4M116.72 124.81h.4M56.93 124.81h.4M86.32 124.81h.4M59.61 124.81h.4M131.36 124.81h.4M97.75 124.81h.4M114.79 124.81h.4M90.5 124.81h.4M116.26 124.81h.4M108.42 123.5h.4M67.26 123.5h.4M94.85 123.5h.4M120.68 123.5h.4M95.08 123.5h.4M77.37 123.5h.4M63.38 123.5h.4M80.56 123.5h.4M55.93 123.5h.4M69.05 123.5h.4M129.3 123.5h.4M133.95 123.5h.4M138.3 123.5h.4M125.05 123.5h.4M97.83 123.5h.4M70.67 123.5h.4M70.76 123.5h.4M72.47 123.5h.4M96.52 122.18h.4M60.53 122.18h.4M59.48 122.18h.4M135.56 122.18h.4M90.78 122.18h.4M93.31 122.18h.4M60.58 122.18h.4M118.11 122.18h.4M118.06 122.18h.4M106.27 122.18h.4M96.06 122.18h.4M112.28 122.18h.4M66.66 120.87h.4M71.71 120.87h.4M55.36 120.87h.4M64.19 120.87h.4M86.81 120.87h.4M132.94 120.87h.4M101.7 120.87h.4M129.45 119.56h.4M86.74 119.56h.4M114.37 119.56h.4M102.81 119.56h.4M139.96 119.56h.4M55.75 119.56h.4M77.52 119.56h.4M58.64 119.56h.4M72.09 119.56h.4M136.93 119.56h.4M64.38 119.56h.4M142.77 119.56h.4M56.27 119.56h.4M130.29 119.56h.4M130.86 119.56h.4M87.72 119.56h.4M97.46 119.56h.4M98.05 119.56h.4M129.42 119.56h.4M97.38 118.25h.4M82.94 118.25h.4M133.52 118.25h.4M90.23 118.25h.4M92.6 118.25h.4M124.22 118.25h.4M101.39 118.25h.4M81.95 116.94h.4M71.38 116.94h.4M121.41 116.94h.4M96.28 116.94h.4M98 116.94h.4M85.03 116.94h.4M104.15 116.94h.4M94.63 116.94h.4M132.12 115.62h.4M91.72 115.62h.4M95.17 115.62h.4M129.15 115.62h.4M88.76 115.62h.4M79.25 115.62h.4M129.55 115.62h.4M85.32 115.62h.4M84.29 115.62h.4M94.81 115.62h.4M141.39 114.31h.4M53.91 114.31h.4M94.65 114.31h.4M62.09 114.31h.4M95.7 114.31h.4M73.72 114.31h.4M144.43 114.31h.4M88.18 114.31h.4M76.59 114.31h.4M53.39 114.31h.4M79.13 114.31h.4M137.65 114.31h.4M60.56 114.31h.4M141.74 114.31h.4M95.09 114.31h.4M78.26 114.31h.4M81.2 114.31h.4M128.81 113h.4M98.95 113h.4M94.26 113h.4M79.24 113h.4M138.71 113h.4M124.37 113h.4M94.92 113h.4M97.24 111.69h.4M96.76 111.69h.4M137.51 111.69h.4M98.99 111.69h.4M105.14 111.69h.4M124.07 111.69h.4M87.94 111.69h.4M92.04 110.38h.4M77 110.38h.4M91.66 110.38h.4M129.59 110.38h.4M110.95 110.38h.4M132.95 110.38h.4M59.51 110.38h.4M103.5 110.38h.4M119.83 110.38h.4M131.07 110.38h.4M107.5 110.38h.4M117.24 110.38h.4M84.62 110.38h.4M143.02 109.06h.4M125.35 109.06h.4M93.64 109.06h.4M86.05 107.75h.4M135.66 107.75h.4M99.26 107.75h.4M108.62 107.75h.4M75.38 107.75h.4M132.16 107.75h.4M127.17 107.75h.4M103.65 107.75h.4M102.62 107.75h.4M79.13 107.75h.4M97.31 107.75h.4M95.72 107.75h.4M92.33 107.75h.4M123.09 107.75h.4M77.88 107.75h.4M119.98 106.44h.4M94.63 106.44h.4M126.16 106.44h.4M125.79 106.44h.4M116.65 106.44h.4M66.56 106.44h.4M75.48 106.44h.4M110.36 106.44h.4M96.87 106.44h.4M98.76 106.44h.4M89.04 105.13h.4M96.18 105.13h.4M122.97 105.13h.4M96.84 105.13h.4M127.12 105.13h.4M50.98 105.13h.4M125.22 103.82h.4M98.23 103.82h.4M95.39 103.82h.4M93.35 103.82h.4M124.04 102.5h.4M94.26 102.5h.4M78.79 102.5h.4M76.55 102.5h.4M72.57 102.5h.4M138.79 101.19h.4M95.83 101.19h.4M106.03 99.88h.4M55.64 99.88h.4M113.88 99.88h.4M96.38 99.88h.4M132.46 99.88h.4M132.21 99.88h.4M96.15 99.88h.4M142.1 99.88h.4M90.77 99.88h.4M94.13 99.88h.4M68.44 99.88h.4M105.7 99.88h.4M67.82 99.88h.4M126 99.88h.4M91.86 99.88h.4M133.08 99.88h.4M140.45 99.88h.4M69.57 99.88h.4M119.86 99.88h.4M75.74 99.88h.4M51.12 98.57h.4M111.3 98.57h.4M113.57 98.57h.4M96.23 98.57h.4M57.21 98.57h.4M137.25 98.57h.4M122.74 98.57h.4M95.96 97.26h.4M130.11 97.26h.4M48.86 97.26h.4M92.7 97.26h.4M68.01 97.26h.4M95.68 97.26h.4M129.64 97.26h.4M81.24 97.26h.4M110.61 97.26h.4M91.21 97.26h.4M91.42 97.26h.4M121.44 97.26h.4M143.03 97.26h.4M58.1 97.26h.4M112.9 97.26h.4M83.14 97.26h.4" stroke="#6690e0" stroke-width="2.3" stroke-linecap="round"/>
<path d="M90.65 240.14h.4M126.41 240.14h.4M75.73 240.14h.4M135.04 240.14h.4M91.33 240.14h.4M133.99 240.14h.4M80.63 240.14h.4M111.78 238.81h.4M114.9 238.81h.4M93.5 238.81h.4M104.28 238.81h.4M77.36 238.81h.4M140.18 238.81h.4M107.42 238.81h.4M98.08 238.81h.4M98.89 238.81h.4M84.45 238.81h.4M77.16 238.81h.4M116.59 238.81h.4M118.29 238.81h.4M62.25 237.48h.4M97.87 237.48h.4M108.84 237.48h.4M73.54 237.48h.4M66.77 237.48h.4M70.66 237.48h.4M131.76 237.48h.4M107.76 237.48h.4M91.57 237.48h.4M92.35 237.48h.4M90.63 236.16h.4M105.44 236.16h.4M95.49 236.16h.4M105.79 236.16h.4M130.42 236.16h.4M53.87 236.16h.4M79.04 236.16h.4M56.47 236.16h.4M141.47 236.16h.4M143.2 236.16h.4M144.94 236.16h.4M99.6 234.83h.4M142.73 234.83h.4M69.18 234.83h.4M63.92 233.5h.4M88.99 233.5h.4M140.83 233.5h.4M67.62 233.5h.4M93.55 233.5h.4M124.92 233.5h.4M96.72 233.5h.4M53.87 233.5h.4M56.97 233.5h.4M136.7 233.5h.4M123.99 233.5h.4M123.08 233.5h.4M78.33 233.5h.4M112.72 233.5h.4M72.26 232.18h.4M127.57 232.18h.4M78.41 232.18h.4M78.23 232.18h.4M97.98 232.18h.4M141.48 232.18h.4M90.08 232.18h.4M94.51 230.85h.4M128.12 230.85h.4M109.56 230.85h.4M89.27 230.85h.4M122.21 230.85h.4M95.57 230.85h.4M87.38 230.85h.4M60.99 230.85h.4M145.78 230.85h.4M125.27 230.85h.4M62.66 229.52h.4M59.16 229.52h.4M129.45 229.52h.4M53.34 229.52h.4M90.94 229.52h.4M60.39 229.52h.4M100.83 229.52h.4M64.67 229.52h.4M97.08 229.52h.4M141.11 228.2h.4M92.05 228.2h.4M90.96 228.2h.4M139.18 228.2h.4M124.14 228.2h.4M79.55 228.2h.4M117.84 228.2h.4M90.89 228.2h.4M75.07 228.2h.4M107.28 228.2h.4M132.83 226.87h.4M96.99 226.87h.4M67.32 226.87h.4M94.97 226.87h.4M94.57 226.87h.4M126.46 226.87h.4M143.24 226.87h.4M87.04 226.87h.4M75.33 226.87h.4M102.85 226.87h.4M138.13 226.87h.4M139.63 226.87h.4M119.96 226.87h.4M126.08 226.87h.4M72.2 226.87h.4M93.52 226.87h.4M96.1 226.87h.4M97.63 226.87h.4M60.32 225.54h.4M126.12 225.54h.4M94.49 225.54h.4M93.5 225.54h.4M92.99 225.54h.4M92.02 225.54h.4M71.44 225.54h.4M57.67 225.54h.4M128.01 225.54h.4M95.88 224.22h.4M81.24 224.22h.4M112.21 224.22h.4M91.91 224.22h.4M61.3 224.22h.4M50.16 224.22h.4M55.55 224.22h.4M89.87 224.22h.4M88.96 224.22h.4M99.51 224.22h.4M111.77 224.22h.4M139.11 224.22h.4M79.64 224.22h.4M93.96 224.22h.4M104.75 224.22h.4M78.09 224.22h.4M110.14 224.22h.4M97.81 224.22h.4M99.73 224.22h.4M141.13 224.22h.4M143.16 224.22h.4M127.53 222.89h.4M69.08 222.89h.4M68.92 222.89h.4M113.27 222.89h.4M114.4 222.89h.4M92.74 222.89h.4M71.47 222.89h.4M114.52 222.89h.4M107.96 222.89h.4M81.11 222.89h.4M56.41 222.89h.4M122.57 221.56h.4M143.03 221.56h.4M58.64 221.56h.4M84.65 221.56h.4M136.62 221.56h.4M93.74 221.56h.4M77.69 221.56h.4M129.54 221.56h.4M79.51 221.56h.4M104.58 221.56h.4M68.05 220.24h.4M94.35 220.24h.4M145.67 220.24h.4M91.69 220.24h.4M81.35 220.24h.4M133.36 220.24h.4M99.18 220.24h.4M92.23 220.24h.4M64.61 220.24h.4M106.11 220.24h.4M82.97 220.24h.4M123.47 218.91h.4M116.52 218.91h.4M124.82 218.91h.4M82.47 218.91h.4M98.73 218.91h.4M55.7 218.91h.4M59.25 218.91h.4M68.85 218.91h.4M59.91 218.91h.4M145.31 217.58h.4M74.65 217.58h.4M95.93 217.58h.4M94.4 217.58h.4M145.75 217.58h.4M77.76 217.58h.4M55.47 216.26h.4M123.77 216.26h.4M58.71 216.26h.4M108.84 216.26h.4M138.7 216.26h.4M59.89 216.26h.4M86.47 216.26h.4M124.47 214.93h.4M98.21 214.93h.4M116.5 214.93h.4M92.79 214.93h.4M71.67 214.93h.4M145.23 214.93h.4M129.96 214.93h.4M102 214.93h.4M95.92 214.93h.4M126.15 214.93h.4M103.44 214.93h.4M104.89 214.93h.4M91.13 213.6h.4M91.73 213.6h.4M102.11 213.6h.4M94.81 213.6h.4M140.63 213.6h.4M59.24 213.6h.4M113 213.6h.4M124.2 213.6h.4M95.5 213.6h.4M80.13 213.6h.4M92.8 213.6h.4M64.86 213.6h.4M116.06 213.6h.4M97.93 213.6h.4M92.81 213.6h.4M74.26 212.28h.4M74.27 212.28h.4M114.88 212.28h.4M114.35 212.28h.4M96.22 212.28h.4M91.97 212.28h.4M84.86 212.28h.4M83.79 212.28h.4M111.99 212.28h.4M76.21 212.28h.4M62.15 210.95h.4M131.13 210.95h.4M59.52 210.95h.4M50.73 210.95h.4M89.92 210.95h.4M49.17 210.95h.4M48.64 210.95h.4M93.99 210.95h.4M115.02 210.95h.4M94.02 210.95h.4M87.4 210.95h.4M84.27 210.95h.4M92.54 210.95h.4M91.95 210.95h.4M77.52 210.95h.4M101.09 209.62h.4M93.19 209.62h.4M50.37 209.62h.4M107.85 209.62h.4M95.58 209.62h.4M121.03 209.62h.4M61.03 209.62h.4M56.69 209.62h.4M67.34 208.3h.4M67.69 208.3h.4M94.82 208.3h.4M132.36 208.3h.4M94.46 208.3h.4M55.86 208.3h.4M137.22 206.97h.4M80.81 206.97h.4M96.81 206.97h.4M139.43 206.97h.4M65.19 206.97h.4M131.5 206.97h.4M108.26 206.97h.4M104.83 206.97h.4M143.69 206.97h.4M87.24 206.97h.4M94.45 206.97h.4M113.4 206.97h.4M143.32 206.97h.4M65.25 205.64h.4M94.54 205.64h.4M84.16 205.64h.4M70.1 205.64h.4M113.54 205.64h.4M122.77 205.64h.4M90.82 205.64h.4M77.9 205.64h.4M95.05 205.64h.4M73.2 204.32h.4M123.27 204.32h.4M93.52 204.32h.4M92.72 204.32h.4M67.73 204.32h.4M142.85 204.32h.4M130.07 204.32h.4M62.11 204.32h.4M87 204.32h.4M63.06 204.32h.4M87.52 202.99h.4M78.8 202.99h.4M90.01 202.99h.4M96.34 202.99h.4M128.21 202.99h.4M65.19 202.99h.4M97.93 202.99h.4M99.51 202.99h.4M95.11 201.66h.4M71.52 201.66h.4M90.8 201.66h.4M62.46 201.66h.4M94.72 201.66h.4M50.46 201.66h.4M97.03 201.66h.4M95.63 201.66h.4M101.98 201.66h.4" stroke="#e6643f" stroke-width="2.3" stroke-linecap="round"/>
<path d="M47.6 50L47.6 89.7" stroke="#444" stroke-width="1"/>
<path d="M47.6 50.3L49.1 50.3" stroke="#444" stroke-width="0.8"/>
<path d="M47.6 89.4L49.1 89.4" stroke="#444" stroke-width="0.8"/>
<text x="43.1" y="56.8" text-anchor="end">30</text>
<text x="43.1" y="89.4" text-anchor="end">1</text>
<text x="149" y="74.35" fill="#6cbf45" color="#6cbf45">NB</text>
<path d="M47.6 96.6L47.6 195" stroke="#444" stroke-width="1"/>
<path d="M47.6 96.9L49.1 96.9" stroke="#444" stroke-width="0.8"/>
<path d="M47.6 194.7L49.1 194.7" stroke="#444" stroke-width="0.8"/>
<text x="43.1" y="103.9" text-anchor="end">75</text>
<text x="43.1" y="194.8" text-anchor="end">1</text>
<text x="149" y="149.35" fill="#6690e0" color="#6690e0">SB</text>
<path d="M47.6 201L47.6 240.8" stroke="#444" stroke-width="1"/>
<path d="M47.6 201.3L49.1 201.3" stroke="#444" stroke-width="0.8"/>
<path d="M47.6 240.5L49.1 240.5" stroke="#444" stroke-width="0.8"/>
<text x="43.1" y="208.8" text-anchor="end">30</text>
<text x="43.1" y="240.2" text-anchor="end">1</text>
<text x="149" y="223.6" fill="#e6643f" color="#e6643f">HB</text>
<path d="M80.1 51V240.8" stroke="#222" stroke-width="1.4" stroke-dasharray="4.2 4"/>
<path d="M47.6 240.8L146 240.8" stroke="#555" stroke-width="1"/>
<text transform="translate(23.6 145) rotate(-90)" text-anchor="middle">Trial number</text>
<text x="85" y="254.8" text-anchor="middle">Boundary</text>
<path d="M47.6 295.84L48.59 295.89L49.58 296.01L50.57 296.21L51.56 296.48L52.54 296.78L53.53 297.08L54.52 297.36L55.51 297.56L56.5 297.64L57.49 297.61L58.48 297.47L59.47 297.26L60.46 297.01L61.44 296.77L62.43 296.62L63.42 296.56L64.41 296.6L65.4 296.71L66.39 296.86L67.38 297.01L68.37 297.12L69.36 297.14L70.34 297.06L71.33 296.89L72.32 296.61L73.31 296.28L74.3 295.97L75.29 295.7L76.28 295.53L77.27 295.52L78.26 295.67L79.24 295.98L80.23 296.44L81.22 296.98L82.21 297.52L83.2 298.02L84.19 298.43L85.18 298.7L86.17 298.79L87.16 298.61L88.14 298.07L89.13 297.19L90.12 296.25L91.11 295.78L92.1 296.15L93.09 297.23L94.08 298.6L95.07 299.84L96.06 300.76L97.04 301.25L98.03 301.16L99.02 300.4L100.01 299.08L101 297.51L101.99 296.02L102.98 294.91L103.97 294.25L104.96 294.06L105.94 294.21L106.93 294.56L107.92 295.02L108.91 295.47L109.9 295.84L110.89 296.1L111.88 296.23L112.87 296.23L113.86 296.13L114.84 295.98L115.83 295.8L116.82 295.64L117.81 295.53L118.8 295.5L119.79 295.56L120.78 295.73L121.77 296.03L122.76 296.43L123.74 296.92L124.73 297.45L125.72 297.96L126.71 298.4L127.7 298.72L128.69 298.91L129.68 298.91L130.67 298.78L131.66 298.54L132.64 298.21L133.63 297.87L134.62 297.52L135.61 297.21L136.6 296.94L137.59 296.71L138.58 296.48L139.57 296.24L140.56 295.98L141.54 295.64L142.53 295.23L143.52 294.76L144.51 294.25L145.5 293.74L145.5 298.06L144.51 298.58L143.52 299.08L142.53 299.56L141.54 299.97L140.56 300.3L139.57 300.57L138.58 300.81L137.59 301.03L136.6 301.27L135.61 301.54L134.62 301.85L133.63 302.19L132.64 302.54L131.66 302.87L130.67 303.1L129.68 303.24L128.69 303.24L127.7 303.05L126.71 302.72L125.72 302.28L124.73 301.77L123.74 301.24L122.76 300.75L121.77 300.35L120.78 300.05L119.79 299.88L118.8 299.83L117.81 299.86L116.82 299.96L115.83 300.12L114.84 300.31L113.86 300.46L112.87 300.55L111.88 300.55L110.89 300.42L109.9 300.17L108.91 299.79L107.92 299.35L106.93 298.89L105.94 298.53L104.96 298.38L103.97 298.58L102.98 299.24L101.99 300.35L101 301.84L100.01 303.41L99.02 304.72L98.03 305.48L97.04 305.58L96.06 305.09L95.07 304.17L94.08 302.93L93.09 301.56L92.1 300.48L91.11 300.1L90.12 300.57L89.13 301.52L88.14 302.4L87.16 302.93L86.17 303.12L85.18 303.03L84.19 302.76L83.2 302.35L82.21 301.85L81.22 301.3L80.23 300.77L79.24 300.31L78.26 300L77.27 299.85L76.28 299.86L75.29 300.03L74.3 300.29L73.31 300.61L72.32 300.93L71.33 301.21L70.34 301.39L69.36 301.47L68.37 301.45L67.38 301.33L66.39 301.18L65.4 301.03L64.41 300.92L63.42 300.89L62.43 300.95L61.44 301.1L60.46 301.33L59.47 301.59L58.48 301.8L57.49 301.93L56.5 301.96L55.51 301.89L54.52 301.69L53.53 301.41L52.54 301.11L51.56 300.81L50.57 300.54L49.58 300.34L48.59 300.21L47.6 300.17Z" fill="#6cbf45" fill-opacity=".3"/>
<path d="M47.6 298.56L48.59 298.67L49.58 298.51L50.57 298.09L51.56 297.48L52.54 296.77L53.53 296.04L54.52 295.39L55.51 294.86L56.5 294.48L57.49 294.3L58.48 294.28L59.47 294.4L60.46 294.64L61.44 294.96L62.43 295.31L63.42 295.65L64.41 295.97L65.4 296.25L66.39 296.5L67.38 296.74L68.37 296.97L69.36 297.21L70.34 297.48L71.33 297.74L72.32 298L73.31 298.21L74.3 298.36L75.29 298.41L76.28 298.36L77.27 298.23L78.26 298L79.24 297.72L80.23 297.39L81.22 297.02L82.21 296.58L83.2 296L84.19 295.14L85.18 293.87L86.17 292L87.16 289.38L88.14 285.96L89.13 281.92L90.12 277.68L91.11 273.85L92.1 271.14L93.09 270.12L94.08 271.05L95.07 273.76L96.06 277.74L97.04 282.28L98.03 286.69L99.02 290.48L100.01 293.43L101 295.52L101.99 296.89L102.98 297.74L103.97 298.24L104.96 298.53L105.94 298.69L106.93 298.74L107.92 298.68L108.91 298.54L109.9 298.27L110.89 297.91L111.88 297.5L112.87 297.1L113.86 296.75L114.84 296.51L115.83 296.39L116.82 296.39L117.81 296.47L118.8 296.63L119.79 296.83L120.78 297.07L121.77 297.32L122.76 297.61L123.74 297.91L124.73 298.21L125.72 298.49L126.71 298.72L127.7 298.86L128.69 298.87L129.68 298.77L130.67 298.53L131.66 298.19L132.64 297.77L133.63 297.31L134.62 296.9L135.61 296.59L136.6 296.41L137.59 296.4L138.58 296.57L139.57 296.89L140.56 297.29L141.54 297.72L142.53 298.11L143.52 298.41L144.51 298.58L145.5 298.62L145.5 304.19L144.51 304.15L143.52 303.97L142.53 303.68L141.54 303.28L140.56 302.85L139.57 302.45L138.58 302.13L137.59 301.96L136.6 301.97L135.61 302.15L134.62 302.46L133.63 302.88L132.64 303.33L131.66 303.75L130.67 304.09L129.68 304.33L128.69 304.44L127.7 304.42L126.71 304.28L125.72 304.06L124.73 303.78L123.74 303.48L122.76 303.17L121.77 302.88L120.78 302.63L119.79 302.39L118.8 302.19L117.81 302.04L116.82 301.95L115.83 301.95L114.84 302.07L113.86 302.32L112.87 302.67L111.88 303.07L110.89 303.47L109.9 303.83L108.91 304.1L107.92 304.24L106.93 304.3L105.94 304.25L104.96 304.09L103.97 303.8L102.98 303.3L101.99 302.45L101 301.08L100.01 298.99L99.02 296.05L98.03 292.25L97.04 287.84L96.06 283.3L95.07 279.32L94.08 276.62L93.09 275.68L92.1 276.7L91.11 279.41L90.12 283.24L89.13 287.48L88.14 291.52L87.16 294.94L86.17 297.56L85.18 299.43L84.19 300.7L83.2 301.56L82.21 302.14L81.22 302.59L80.23 302.96L79.24 303.28L78.26 303.56L77.27 303.79L76.28 303.93L75.29 303.97L74.3 303.92L73.31 303.77L72.32 303.56L71.33 303.3L70.34 303.04L69.36 302.78L68.37 302.54L67.38 302.3L66.39 302.07L65.4 301.82L64.41 301.54L63.42 301.22L62.43 300.87L61.44 300.52L60.46 300.2L59.47 299.96L58.48 299.84L57.49 299.86L56.5 300.04L55.51 300.42L54.52 300.95L53.53 301.61L52.54 302.33L51.56 303.04L50.57 303.65L49.58 304.07L48.59 304.23L47.6 304.12Z" fill="#e6643f" fill-opacity=".3"/>
<path d="M47.6 298.32L48.59 298.04L49.58 297.75L50.57 297.46L51.56 297.17L52.54 296.89L53.53 296.61L54.52 296.34L55.51 296.07L56.5 295.83L57.49 295.63L58.48 295.49L59.47 295.44L60.46 295.51L61.44 295.69L62.43 295.96L63.42 296.31L64.41 296.67L65.4 296.99L66.39 297.22L67.38 297.31L68.37 297.24L69.36 297.03L70.34 296.7L71.33 296.32L72.32 295.94L73.31 295.63L74.3 295.42L75.29 295.35L76.28 295.44L77.27 295.67L78.26 296.02L79.24 296.44L80.23 296.88L81.22 297.26L82.21 297.5L83.2 297.47L84.19 297.02L85.18 295.92L86.17 293.96L87.16 290.91L88.14 286.71L89.13 281.56L90.12 275.95L91.11 270.7L92.1 266.73L93.09 264.85L94.08 265.43L95.07 268.32L96.06 272.9L97.04 278.27L98.03 283.55L99.02 288.08L100.01 291.53L101 293.9L101.99 295.38L102.98 296.24L103.97 296.72L104.96 297L105.94 297.17L106.93 297.26L107.92 297.27L108.91 297.14L109.9 296.89L110.89 296.53L111.88 296.08L112.87 295.63L113.86 295.22L114.84 294.92L115.83 294.75L116.82 294.72L117.81 294.8L118.8 294.95L119.79 295.1L120.78 295.22L121.77 295.28L122.76 295.28L123.74 295.27L124.73 295.26L125.72 295.28L126.71 295.34L127.7 295.44L128.69 295.52L129.68 295.55L130.67 295.49L131.66 295.33L132.64 295.06L133.63 294.76L134.62 294.45L135.61 294.19L136.6 294.01L137.59 293.93L138.58 293.94L139.57 294.03L140.56 294.19L141.54 294.4L142.53 294.64L143.52 294.95L144.51 295.31L145.5 295.72L145.5 301.9L144.51 301.49L143.52 301.13L142.53 300.82L141.54 300.58L140.56 300.37L139.57 300.21L138.58 300.12L137.59 300.11L136.6 300.19L135.61 300.37L134.62 300.63L133.63 300.94L132.64 301.24L131.66 301.51L130.67 301.67L129.68 301.73L128.69 301.7L127.7 301.62L126.71 301.52L125.72 301.46L124.73 301.44L123.74 301.45L122.76 301.46L121.77 301.46L120.78 301.4L119.79 301.28L118.8 301.13L117.81 300.98L116.82 300.9L115.83 300.93L114.84 301.1L113.86 301.4L112.87 301.81L111.88 302.26L110.89 302.71L109.9 303.07L108.91 303.32L107.92 303.45L106.93 303.44L105.94 303.35L104.96 303.18L103.97 302.9L102.98 302.42L101.99 301.56L101 300.08L100.01 297.71L99.02 294.26L98.03 289.73L97.04 284.45L96.06 279.08L95.07 274.5L94.08 271.61L93.09 271.03L92.1 272.91L91.11 276.88L90.12 282.13L89.13 287.74L88.14 292.89L87.16 297.09L86.17 300.14L85.18 302.1L84.19 303.2L83.2 303.65L82.21 303.68L81.22 303.44L80.23 303.06L79.24 302.62L78.26 302.2L77.27 301.85L76.28 301.62L75.29 301.53L74.3 301.6L73.31 301.81L72.32 302.12L71.33 302.5L70.34 302.88L69.36 303.21L68.37 303.42L67.38 303.49L66.39 303.4L65.4 303.17L64.41 302.85L63.42 302.49L62.43 302.14L61.44 301.87L60.46 301.69L59.47 301.62L58.48 301.67L57.49 301.81L56.5 302.01L55.51 302.25L54.52 302.52L53.53 302.79L52.54 303.07L51.56 303.35L50.57 303.64L49.58 303.93L48.59 304.22L47.6 304.5Z" fill="#6690e0" fill-opacity=".3"/>
<path d="M47.6 298.01L48.59 298.05L49.58 298.18L50.57 298.38L51.56 298.64L52.54 298.95L53.53 299.25L54.52 299.53L55.51 299.72L56.5 299.8L57.49 299.77L58.48 299.64L59.47 299.42L60.46 299.17L61.44 298.94L62.43 298.78L63.42 298.72L64.41 298.76L65.4 298.87L66.39 299.02L67.38 299.17L68.37 299.28L69.36 299.31L70.34 299.23L71.33 299.05L72.32 298.77L73.31 298.44L74.3 298.13L75.29 297.87L76.28 297.7L77.27 297.69L78.26 297.84L79.24 298.15L80.23 298.6L81.22 299.14L82.21 299.68L83.2 300.19L84.19 300.6L85.18 300.87L86.17 300.96L87.16 300.77L88.14 300.23L89.13 299.35L90.12 298.41L91.11 297.94L92.1 298.31L93.09 299.39L94.08 300.76L95.07 302.01L96.06 302.93L97.04 303.42L98.03 303.32L99.02 302.56L100.01 301.24L101 299.67L101.99 298.19L102.98 297.07L103.97 296.41L104.96 296.22L105.94 296.37L106.93 296.73L107.92 297.19L108.91 297.63L109.9 298.01L110.89 298.26L111.88 298.39L112.87 298.39L113.86 298.29L114.84 298.14L115.83 297.96L116.82 297.8L117.81 297.7L118.8 297.66L119.79 297.72L120.78 297.89L121.77 298.19L122.76 298.59L123.74 299.08L124.73 299.61L125.72 300.12L126.71 300.56L127.7 300.88L128.69 301.08L129.68 301.08L130.67 300.94L131.66 300.7L132.64 300.38L133.63 300.03L134.62 299.69L135.61 299.37L136.6 299.1L137.59 298.87L138.58 298.64L139.57 298.41L140.56 298.14L141.54 297.81L142.53 297.39L143.52 296.92L144.51 296.41L145.5 295.9" fill="none" stroke="#6cbf45" stroke-width=".7" stroke-opacity=".7"/>
<path d="M47.6 301.34L48.59 301.45L49.58 301.29L50.57 300.87L51.56 300.26L52.54 299.55L53.53 298.83L54.52 298.17L55.51 297.64L56.5 297.26L57.49 297.08L58.48 297.06L59.47 297.18L60.46 297.42L61.44 297.74L62.43 298.09L63.42 298.44L64.41 298.75L65.4 299.04L66.39 299.29L67.38 299.52L68.37 299.75L69.36 299.99L70.34 300.26L71.33 300.52L72.32 300.78L73.31 300.99L74.3 301.14L75.29 301.19L76.28 301.14L77.27 301.01L78.26 300.78L79.24 300.5L80.23 300.18L81.22 299.81L82.21 299.36L83.2 298.78L84.19 297.92L85.18 296.65L86.17 294.78L87.16 292.16L88.14 288.74L89.13 284.7L90.12 280.46L91.11 276.63L92.1 273.92L93.09 272.9L94.08 273.83L95.07 276.54L96.06 280.52L97.04 285.06L98.03 289.47L99.02 293.27L100.01 296.21L101 298.3L101.99 299.67L102.98 300.52L103.97 301.02L104.96 301.31L105.94 301.47L106.93 301.52L107.92 301.46L108.91 301.32L109.9 301.05L110.89 300.69L111.88 300.29L112.87 299.88L113.86 299.54L114.84 299.29L115.83 299.17L116.82 299.17L117.81 299.25L118.8 299.41L119.79 299.61L120.78 299.85L121.77 300.1L122.76 300.39L123.74 300.69L124.73 301L125.72 301.27L126.71 301.5L127.7 301.64L128.69 301.65L129.68 301.55L130.67 301.31L131.66 300.97L132.64 300.55L133.63 300.09L134.62 299.68L135.61 299.37L136.6 299.19L137.59 299.18L138.58 299.35L139.57 299.67L140.56 300.07L141.54 300.5L142.53 300.89L143.52 301.19L144.51 301.37L145.5 301.4" fill="none" stroke="#e6643f" stroke-width=".7" stroke-opacity=".7"/>
<path d="M47.6 301.41L48.59 301.13L49.58 300.84L50.57 300.55L51.56 300.26L52.54 299.98L53.53 299.7L54.52 299.43L55.51 299.16L56.5 298.92L57.49 298.72L58.48 298.58L59.47 298.53L60.46 298.6L61.44 298.78L62.43 299.05L63.42 299.4L64.41 299.76L65.4 300.08L66.39 300.31L67.38 300.4L68.37 300.33L69.36 300.12L70.34 299.79L71.33 299.41L72.32 299.03L73.31 298.72L74.3 298.51L75.29 298.44L76.28 298.53L77.27 298.76L78.26 299.11L79.24 299.53L80.23 299.97L81.22 300.35L82.21 300.59L83.2 300.56L84.19 300.11L85.18 299.01L86.17 297.05L87.16 294L88.14 289.8L89.13 284.65L90.12 279.04L91.11 273.79L92.1 269.82L93.09 267.94L94.08 268.52L95.07 271.41L96.06 275.99L97.04 281.36L98.03 286.64L99.02 291.17L100.01 294.62L101 296.99L101.99 298.47L102.98 299.33L103.97 299.81L104.96 300.09L105.94 300.26L106.93 300.35L107.92 300.36L108.91 300.23L109.9 299.98L110.89 299.62L111.88 299.17L112.87 298.72L113.86 298.31L114.84 298.01L115.83 297.84L116.82 297.81L117.81 297.89L118.8 298.04L119.79 298.19L120.78 298.31L121.77 298.37L122.76 298.37L123.74 298.36L124.73 298.35L125.72 298.37L126.71 298.43L127.7 298.53L128.69 298.61L129.68 298.64L130.67 298.58L131.66 298.42L132.64 298.15L133.63 297.85L134.62 297.54L135.61 297.28L136.6 297.1L137.59 297.02L138.58 297.03L139.57 297.12L140.56 297.28L141.54 297.49L142.53 297.73L143.52 298.04L144.51 298.4L145.5 298.81" fill="none" stroke="#6690e0" stroke-width=".7" stroke-opacity=".7"/>
<path d="M80.1 261.7V308.4" stroke="#222" stroke-width="1.4" stroke-dasharray="4.2 4"/>
<path d="M47.6 261.7V308.4H145.5" fill="none" stroke="#444" stroke-width="1"/>
<text x="43.1" y="285.4" text-anchor="end">4</text>
<text x="43.1" y="309.7" text-anchor="end">0</text>
<text x="50" y="322" text-anchor="middle">–0.5</text>
<text x="82" y="322" text-anchor="middle">0</text>
<text x="146.8" y="322" text-anchor="middle">1.0</text>
<text transform="translate(23.6 290) rotate(-90)" text-anchor="middle">Firing rate (Hz)</text>
<text x="96.3" y="337.7" text-anchor="middle">Time (s)</text>
<path d="M125.5 269.42L126.01 269.32L126.51 269.13L127.02 268.85L127.53 268.49L128.03 268.07L128.54 267.63L129.04 267.21L129.55 266.85L130.06 266.57L130.56 266.38L131.07 266.27L131.58 266.23L132.08 266.19L132.59 266.15L133.09 266.06L133.6 265.82L134.11 265.41L134.61 264.84L135.12 264.15L135.63 263.38L136.13 262.58L136.64 261.78L137.15 260.99L137.65 260.26L138.16 259.59L138.66 258.99L139.17 258.47L139.68 258.05L140.18 257.74L140.69 257.58L141.2 257.6L141.7 257.86L142.21 258.36L142.72 259.04L143.22 259.85L143.73 260.72L144.23 261.61L144.74 262.48L145.25 263.3L145.75 264.06L146.26 264.77L146.77 265.58L147.27 266.5L147.78 267.49L148.28 268.48L148.79 269.43L149.3 270.29L149.8 271.05L150.31 271.67L150.82 272.15L151.32 272.48L151.83 272.65L152.34 272.67L152.84 272.65L153.35 272.6L153.85 272.5L154.36 272.38L154.87 272.22L155.37 272.05L155.88 271.89L156.39 271.75L156.89 271.64L157.4 271.55L157.91 271.47L158.41 271.36L158.92 271.21L159.42 270.99L159.93 270.68L160.44 270.31L160.94 269.86L161.45 269.36L161.96 268.83L162.46 268.28L162.97 267.71L163.47 267.14L163.98 266.57L164.49 266.01L164.99 265.48L165.5 264.97L165.5 273.03L164.99 273.38L164.49 273.67L163.98 273.93L163.47 274.14L162.97 274.33L162.46 274.51L161.96 274.66L161.45 274.81L160.94 274.97L160.44 275.15L159.93 275.36L159.42 275.62L158.92 275.92L158.41 276.26L157.91 276.62L157.4 276.99L156.89 277.37L156.39 277.72L155.88 278.03L155.37 278.3L154.87 278.54L154.36 278.75L153.85 278.94L153.35 279.09L152.84 279.22L152.34 279.31L151.83 279.32L151.32 279.13L150.82 278.72L150.31 278.14L149.8 277.43L149.3 276.65L148.79 275.84L148.28 275.02L147.78 274.21L147.27 273.43L146.77 272.67L146.26 271.95L145.75 271.26L145.25 270.47L144.74 269.6L144.23 268.72L143.73 267.89L143.22 267.13L142.72 266.48L142.21 265.97L141.7 265.61L141.2 265.44L140.69 265.48L140.18 265.65L139.68 265.94L139.17 266.33L138.66 266.82L138.16 267.38L137.65 267.99L137.15 268.61L136.64 269.23L136.13 269.82L135.63 270.4L135.12 270.94L134.61 271.45L134.11 271.94L133.6 272.41L133.09 272.84L132.59 273.26L132.08 273.71L131.58 274.17L131.07 274.6L130.56 274.95L130.06 275.2L129.55 275.33L129.04 275.35L128.54 275.28L128.03 275.14L127.53 274.99L127.02 274.84L126.51 274.72L126.01 274.64L125.5 274.58Z" fill="#6a6a6a" fill-opacity=".8" stroke="#6a6a6a" stroke-opacity=".3" stroke-width="1.2"/>
<path d="M125.5 272L126.01 271.98L126.51 271.93L127.02 271.85L127.53 271.74L128.03 271.61L128.54 271.45L129.04 271.28L129.55 271.09L130.06 270.89L130.56 270.67L131.07 270.44L131.58 270.2L132.08 269.95L132.59 269.7L133.09 269.45L133.6 269.12L134.11 268.67L134.61 268.14L135.12 267.54L135.63 266.89L136.13 266.2L136.64 265.5L137.15 264.8L137.65 264.13L138.16 263.49L138.66 262.91L139.17 262.4L139.68 261.99L140.18 261.7L140.69 261.53L141.2 261.52L141.7 261.74L142.21 262.16L142.72 262.76L143.22 263.49L143.73 264.3L144.23 265.17L144.74 266.04L145.25 266.89L145.75 267.66L146.26 268.36L146.77 269.12L147.27 269.97L147.78 270.85L148.28 271.75L148.79 272.63L149.3 273.47L149.8 274.24L150.31 274.9L150.82 275.44L151.32 275.81L151.83 275.99L152.34 275.99L152.84 275.94L153.35 275.85L153.85 275.72L154.36 275.56L154.87 275.38L155.37 275.18L155.88 274.96L156.39 274.73L156.89 274.5L157.4 274.27L157.91 274.04L158.41 273.81L158.92 273.57L159.42 273.3L159.93 273.02L160.44 272.73L160.94 272.42L161.45 272.09L161.96 271.75L162.46 271.39L162.97 271.02L163.47 270.64L163.98 270.25L164.49 269.84L164.99 269.43L165.5 269" fill="none" stroke="#333" stroke-width=".6"/>
<path d="M121.5 273V284.8H141.5" fill="none" stroke="#000" stroke-width="1.5"/>
<text transform="translate(115.8 279.5) rotate(-90)" text-anchor="middle" font-size="7.3">40 μV</text>
<text x="122.8" y="293.5" font-size="7.3">1 ms</text>
<text x="185.5" y="21.3" font-weight="bold" font-size="12.5" style="stroke:none">b</text>
<text x="227" y="27.6">Boundary cell 2</text>
<text x="220" y="43" fill="#7f7f7f" color="#7f7f7f">NWB15-172-1-PHG</text>
<path d="M246.97 88.83h.4M260 88.83h.4M298.88 88.83h.4M259.23 88.83h.4M280.06 88.83h.4M233.68 88.83h.4M306.35 87.5h.4M266.3 87.5h.4M246.77 87.5h.4M308.77 87.5h.4M232.11 87.5h.4M220.14 87.5h.4M269.29 87.5h.4M257.85 87.5h.4M238.27 87.5h.4M306.98 87.5h.4M245.72 87.5h.4M240.5 87.5h.4M240.25 87.5h.4M242.24 87.5h.4M275.67 86.17h.4M314.17 86.17h.4M307.85 86.17h.4M279.62 86.17h.4M228.05 86.17h.4M270.81 86.17h.4M277.26 86.17h.4M312.66 86.17h.4M254.19 84.84h.4M296.66 84.84h.4M262.8 84.84h.4M261.63 84.84h.4M286.41 84.84h.4M224.11 83.52h.4M299.82 83.52h.4M281.57 83.52h.4M272.05 83.52h.4M231.94 83.52h.4M229.83 83.52h.4M283.26 83.52h.4M247.42 82.19h.4M270.54 82.19h.4M293.03 82.19h.4M257.15 82.19h.4M293.51 82.19h.4M260.38 82.19h.4M302.92 80.86h.4M291.79 80.86h.4M268.31 80.86h.4M301.67 80.86h.4M283.77 80.86h.4M278.47 80.86h.4M282.88 80.86h.4M304.13 79.53h.4M253.33 79.53h.4M257.88 79.53h.4M273.56 78.19h.4M234.04 78.19h.4M243.12 78.19h.4M257.51 78.19h.4M275.04 78.19h.4M276.52 78.19h.4M220.57 76.86h.4M280.07 76.86h.4M263.89 76.86h.4M292.56 75.53h.4M275.47 75.53h.4M222.13 75.53h.4M258.95 75.53h.4M285.27 75.53h.4M274.62 75.53h.4M231.18 75.53h.4M285.82 75.53h.4M230.89 75.53h.4M304.77 74.2h.4M310.14 74.2h.4M313.52 72.88h.4M245.22 72.88h.4M227.57 72.88h.4M295.52 72.88h.4M235.56 71.55h.4M235.36 71.55h.4M258.2 71.55h.4M296.27 71.55h.4M243.16 71.55h.4M223.93 71.55h.4M276.69 71.55h.4M289.03 71.55h.4M307.27 71.55h.4M279.39 71.55h.4M242.14 71.55h.4M309.13 71.55h.4M240.3 70.22h.4M218.92 70.22h.4M302.97 70.22h.4M293.88 70.22h.4M292.61 70.22h.4M296.23 70.22h.4M220.95 68.89h.4M298.27 68.89h.4M268.44 68.89h.4M240.96 68.89h.4M223.99 68.89h.4M311.56 68.89h.4M221.17 67.56h.4M297.54 67.56h.4M235.83 67.56h.4M249.17 67.56h.4M267.48 67.56h.4M248.66 67.56h.4M299.36 67.56h.4M232.96 66.22h.4M254.96 66.22h.4M265.56 66.22h.4M287.3 66.22h.4M231.51 66.22h.4M268.26 64.89h.4M266.73 64.89h.4M261.36 64.89h.4M302.81 64.89h.4M223.66 64.89h.4M278.68 64.89h.4M303.99 63.56h.4M286.95 63.56h.4M255.29 63.56h.4M225.41 62.23h.4M274 62.23h.4M312.76 62.23h.4M310.57 62.23h.4M313.8 62.23h.4M258.28 62.23h.4M305.33 62.23h.4M243.94 60.91h.4M311.73 60.91h.4M226.78 60.91h.4M282.31 60.91h.4M255.89 60.91h.4M256.87 60.91h.4M268.98 60.91h.4M248.29 60.91h.4M287.51 60.91h.4M249.94 60.91h.4M254.09 59.58h.4M273.42 59.58h.4M240.86 59.58h.4M312.13 59.58h.4M249.92 59.58h.4M228.18 58.25h.4M249.14 58.25h.4M249.05 58.25h.4M280.62 58.25h.4M243.49 58.25h.4M266.77 56.91h.4M288.98 56.91h.4M245.12 56.91h.4M268.4 56.91h.4M303.63 55.59h.4M302.94 55.59h.4M273.13 55.59h.4M230.21 55.59h.4M224.07 55.59h.4M282.18 55.59h.4M268.69 55.59h.4M250.74 55.59h.4M222.69 55.59h.4M237.68 55.59h.4M312 55.59h.4M260.77 55.59h.4M259.9 55.59h.4M270.12 55.59h.4M271.54 55.59h.4M273.27 54.26h.4M221.69 54.26h.4M245.43 54.26h.4M235.19 52.92h.4M299.37 52.92h.4M255.67 52.92h.4M249.71 52.92h.4M224.54 51.6h.4M258.07 51.6h.4M235.98 51.6h.4M301.98 51.6h.4M307.24 50.27h.4M236.77 50.27h.4M249.48 50.27h.4M238.87 50.27h.4M284.53 50.27h.4M313 50.27h.4M307.46 50.27h.4M222.19 50.27h.4" stroke="#6cbf45" stroke-width="2.3" stroke-linecap="round"/>
<path d="M258 192.65h.4M255.94 192.65h.4M295.94 192.65h.4M262.48 192.65h.4M266.45 192.65h.4M255.77 191.35h.4M289.74 191.35h.4M258.82 191.35h.4M276.3 191.35h.4M250.22 191.35h.4M260.86 191.35h.4M300.53 191.35h.4M255.92 190.05h.4M262.1 190.05h.4M307.35 190.05h.4M224.8 190.05h.4M263.16 190.05h.4M260.05 190.05h.4M234.47 190.05h.4M284.76 190.05h.4M285.14 190.05h.4M277.01 190.05h.4M226.64 190.05h.4M281.02 188.75h.4M259.61 188.75h.4M243.06 188.75h.4M305.43 188.75h.4M239.4 187.45h.4M245.71 187.45h.4M266.83 187.45h.4M253.53 187.45h.4M293.54 187.45h.4M233.94 187.45h.4M259.77 187.45h.4M312.06 187.45h.4M254.43 186.15h.4M260.57 186.15h.4M250.25 186.15h.4M303.08 184.85h.4M258.71 184.85h.4M244.78 184.85h.4M290.92 184.85h.4M263.88 184.85h.4M290.89 183.55h.4M295.38 183.55h.4M281.99 183.55h.4M311.9 183.55h.4M231.76 183.55h.4M280.22 183.55h.4M306.15 183.55h.4M251.89 183.55h.4M220.46 182.25h.4M263.85 182.25h.4M288.4 182.25h.4M285.59 180.95h.4M245.18 180.95h.4M262.4 180.95h.4M305.21 180.95h.4M241.68 179.65h.4M311.23 179.65h.4M281.83 179.65h.4M236.23 179.65h.4M258.85 179.65h.4M241.05 179.65h.4M258.68 178.35h.4M280.23 178.35h.4M263.95 178.35h.4M270.54 178.35h.4M292.29 178.35h.4M265.54 178.35h.4M262.01 177.05h.4M256.6 177.05h.4M263.74 177.05h.4M258.09 177.05h.4M257.07 175.75h.4M259.52 175.75h.4M292.49 175.75h.4M268.67 175.75h.4M257.71 175.75h.4M286.62 175.75h.4M309.2 175.75h.4M267.55 175.75h.4M300.19 175.75h.4M227.56 174.45h.4M309.88 174.45h.4M289.43 174.45h.4M253.58 174.45h.4M236.56 174.45h.4M265.5 174.45h.4M252.57 174.45h.4M231.11 174.45h.4M285.51 174.45h.4M301.82 173.15h.4M237.86 173.15h.4M303.47 173.15h.4M241.95 173.15h.4M259.23 173.15h.4M297.18 173.15h.4M257.99 173.15h.4M313.87 173.15h.4M234.28 171.85h.4M268.02 171.85h.4M306.48 171.85h.4M285.78 170.55h.4M304.55 170.55h.4M257.13 170.55h.4M229.9 170.55h.4M260.42 169.25h.4M260.22 169.25h.4M234.25 169.25h.4M252.41 169.25h.4M271.93 169.25h.4M309.2 169.25h.4M298.08 169.25h.4M262.03 169.25h.4M263.84 169.25h.4M240.15 167.95h.4M263.75 167.95h.4M256.01 167.95h.4M263.18 167.95h.4M303.36 167.95h.4M271.17 167.95h.4M260.18 166.65h.4M227.85 166.65h.4M310.89 166.65h.4M296.62 166.65h.4M228.26 166.65h.4M275.5 166.65h.4M224.43 166.65h.4M300.86 166.65h.4M264.76 166.65h.4M225.98 166.65h.4M256.3 166.65h.4M261.86 166.65h.4M280.77 165.35h.4M243.3 165.35h.4M261.17 165.35h.4M250.68 165.35h.4M293.79 164.05h.4M290.43 164.05h.4M260.62 164.05h.4M306.16 164.05h.4M262.12 164.05h.4M263.62 164.05h.4M238.33 162.75h.4M233.38 162.75h.4M267.37 162.75h.4M264.56 162.75h.4M313.88 162.75h.4M228.01 162.75h.4M260.35 161.45h.4M299.21 161.45h.4M275 161.45h.4M246.31 161.45h.4M256.46 161.45h.4M272.48 161.45h.4M301.76 161.45h.4M280.27 161.45h.4M227.04 160.15h.4M258.37 160.15h.4M260.82 160.15h.4M221.05 160.15h.4M260.25 160.15h.4M286.29 160.15h.4M253.52 160.15h.4M268.03 160.15h.4M235.29 160.15h.4M224.38 160.15h.4M252.86 160.15h.4M306.24 160.15h.4M283.77 160.15h.4M245.58 160.15h.4M228.99 160.15h.4M230.94 160.15h.4M264.02 158.85h.4M296.37 158.85h.4M245.47 158.85h.4M241.73 158.85h.4M261.49 158.85h.4M262.97 158.85h.4M264.45 158.85h.4M229.48 157.55h.4M308.5 157.55h.4M289.37 156.25h.4M302.93 154.95h.4M258.6 154.95h.4M233.88 154.95h.4M275.66 154.95h.4M276.91 154.95h.4M233.58 154.95h.4M313.44 154.95h.4M264.13 154.95h.4M299.74 154.95h.4M298.05 153.65h.4M269.58 153.65h.4M265.41 153.65h.4M290.89 153.65h.4M296.72 152.35h.4M248.39 152.35h.4M253.94 152.35h.4M262.11 152.35h.4M285.3 152.35h.4M254.94 152.35h.4M312.06 152.35h.4M258.56 152.35h.4M281.1 152.35h.4M238.57 152.35h.4M312.74 152.35h.4M269.15 152.35h.4M278.59 152.35h.4M233.37 151.05h.4M292.75 151.05h.4M263.73 151.05h.4M258.76 151.05h.4M248.55 151.05h.4M224.19 151.05h.4M302.65 151.05h.4M268.76 151.05h.4M310.63 151.05h.4M220.14 151.05h.4M268.62 149.75h.4M222.16 149.75h.4M281.52 149.75h.4M264.4 149.75h.4M220.52 149.75h.4M298.78 149.75h.4M269.07 149.75h.4M311.39 149.75h.4M254.83 149.75h.4M261.61 149.75h.4M313.53 149.75h.4M263.58 149.75h.4M265.55 149.75h.4M218.49 148.45h.4M226.29 148.45h.4M266.66 148.45h.4M236.12 148.45h.4M294.54 148.45h.4M289.04 148.45h.4M301.2 148.45h.4M237.8 148.45h.4M288.97 147.15h.4M290.34 147.15h.4M232.41 147.15h.4M224.44 147.15h.4M270.91 147.15h.4M258.66 145.85h.4M241.11 145.85h.4M256.2 145.85h.4M311.45 145.85h.4M313.88 145.85h.4M242.73 145.85h.4M263.76 144.55h.4M257.65 144.55h.4M270.75 144.55h.4M237.51 144.55h.4M260.61 144.55h.4M232.02 144.55h.4M276.36 144.55h.4M251.9 144.55h.4M220.78 144.55h.4M260.62 143.25h.4M220.8 143.25h.4M241.46 143.25h.4M280.28 141.95h.4M286.15 141.95h.4M256.37 141.95h.4M252.64 141.95h.4M253.43 141.95h.4M312.7 140.65h.4M265.44 140.65h.4M272.83 140.65h.4M226.19 140.65h.4M287.69 140.65h.4M274.11 140.65h.4M232.15 140.65h.4M244.96 140.65h.4M289.21 140.65h.4M272.63 139.35h.4M292.77 139.35h.4M228.05 139.35h.4M290.6 138.05h.4M245.61 138.05h.4M280.87 138.05h.4M248.3 138.05h.4M307.38 138.05h.4M299.97 138.05h.4M284.05 136.75h.4M291.49 136.75h.4M256.39 136.75h.4M283.13 136.75h.4M305.84 136.75h.4M309.62 135.45h.4M261.37 135.45h.4M296.29 135.45h.4M266.26 134.15h.4M251.54 134.15h.4M277.96 134.15h.4M257.04 134.15h.4M253.13 134.15h.4M306.61 132.85h.4M226.76 132.85h.4M296.58 132.85h.4M232.35 131.55h.4M250.78 131.55h.4M255.36 131.55h.4M220.19 130.25h.4M307.88 130.25h.4M250.91 130.25h.4M301.66 130.25h.4M283.37 128.95h.4M289.36 127.65h.4M219.14 127.65h.4M262.9 127.65h.4M303.63 127.65h.4M295.19 127.65h.4M258.08 127.65h.4M308.35 127.65h.4M292.91 127.65h.4M220.61 127.65h.4M294.75 127.65h.4M296.59 127.65h.4M259.01 126.35h.4M264.02 126.35h.4M234.59 126.35h.4M304.44 126.35h.4M260.28 126.35h.4M293.42 126.35h.4M308.61 126.35h.4M289.62 126.35h.4M228.57 126.35h.4M236.3 126.35h.4M242.26 125.05h.4M287.15 125.05h.4M225.13 125.05h.4M285.54 125.05h.4M288.88 125.05h.4M290.62 125.05h.4M284.63 123.75h.4M251.11 123.75h.4M284.32 123.75h.4M219.49 123.75h.4M272.81 123.75h.4M258.07 123.75h.4M239.46 123.75h.4M292.91 123.75h.4M256.94 123.75h.4M293.58 122.45h.4M283.1 122.45h.4M313.14 122.45h.4M253.32 121.15h.4M308.43 121.15h.4M270.6 121.15h.4M273.37 121.15h.4M308.85 121.15h.4M261.35 121.15h.4M304.74 121.15h.4M310.16 121.15h.4M264.55 121.15h.4M260.59 121.15h.4M251.71 121.15h.4M270.08 119.85h.4M233.68 119.85h.4M259.39 119.85h.4M255.66 119.85h.4M268.92 119.85h.4M237.69 119.85h.4M257.27 119.85h.4M239.04 118.55h.4M264.98 118.55h.4M271.21 118.55h.4M295 118.55h.4M217.82 118.55h.4M219.05 118.55h.4M270.41 117.25h.4M308.13 117.25h.4M223.29 117.25h.4M278.51 117.25h.4M258.44 117.25h.4M314.14 117.25h.4M291.83 115.95h.4M227.97 115.95h.4M282.67 115.95h.4M241.07 115.95h.4M238.67 115.95h.4M307.75 114.65h.4M255.9 114.65h.4M299.72 114.65h.4M254.87 114.65h.4M262.38 114.65h.4M264.26 114.65h.4M284.02 113.35h.4M292.26 113.35h.4M232.39 113.35h.4M276.29 113.35h.4M260 112.05h.4M260.3 110.75h.4M281.03 110.75h.4M224.86 110.75h.4M313.16 110.75h.4M261.29 110.75h.4M307.95 110.75h.4M228.5 110.75h.4M279.28 110.75h.4M280.67 110.75h.4M242.1 109.45h.4M300.55 109.45h.4M241.02 109.45h.4M265.32 109.45h.4M291.88 109.45h.4M288.85 109.45h.4M286.73 109.45h.4M261.61 109.45h.4M261.56 109.45h.4M302.24 109.45h.4M237.88 108.15h.4M307.59 108.15h.4M276.98 108.15h.4M256.8 108.15h.4M292.32 108.15h.4M220.79 108.15h.4M269.64 108.15h.4M289.58 108.15h.4M290.33 108.15h.4M269.32 108.15h.4M220.12 108.15h.4M306.86 108.15h.4M292.75 108.15h.4M273.39 108.15h.4M261.12 108.15h.4M276.16 108.15h.4M264.55 108.15h.4M290.32 108.15h.4M293.73 106.85h.4M269.69 106.85h.4M256.12 106.85h.4M257.86 106.85h.4M252.7 105.55h.4M260.94 105.55h.4M244.82 105.55h.4M258.72 105.55h.4M229.08 105.55h.4M231.6 105.55h.4M309.42 105.55h.4M230.81 105.55h.4M229.39 105.55h.4M244.28 105.55h.4M260.05 105.55h.4M222.54 105.55h.4M223.76 105.55h.4M278.14 104.25h.4M263.33 104.25h.4M260 104.25h.4M306.68 104.25h.4M235.41 104.25h.4M308.27 104.25h.4M250.38 102.95h.4M222.83 102.95h.4M262.47 102.95h.4M275.01 102.95h.4M291.08 102.95h.4M263.1 102.95h.4M310.04 102.95h.4M260.8 102.95h.4M262.09 101.65h.4M229.8 101.65h.4M303.25 101.65h.4M219.02 101.65h.4M279.49 101.65h.4M263.16 101.65h.4M231.26 101.65h.4M302.91 100.35h.4M260.82 100.35h.4M251.2 100.35h.4M220.08 100.35h.4M273.97 100.35h.4M249.66 99.05h.4M286.9 99.05h.4M246.19 99.05h.4M225.54 99.05h.4M260.82 99.05h.4M313.29 99.05h.4M218.18 99.05h.4M264.24 99.05h.4M255.63 99.05h.4M279.48 99.05h.4M245.64 97.75h.4M238.45 97.75h.4M264.38 96.45h.4M264.21 96.45h.4M242.55 96.45h.4M263.28 96.45h.4M254.76 96.45h.4M236.45 96.45h.4M233.22 96.45h.4M305.43 96.45h.4" stroke="#6690e0" stroke-width="2.3" stroke-linecap="round"/>
<path d="M282.58 241.04h.4M241.5 241.04h.4M304.45 241.04h.4M256.57 241.04h.4M248.67 241.04h.4M302.62 241.04h.4M224.68 241.04h.4M245.5 241.04h.4M310.18 239.71h.4M242.22 239.71h.4M231.69 239.71h.4M275.87 239.71h.4M307.26 239.71h.4M252.76 239.71h.4M285.58 239.71h.4M306.05 239.71h.4M285.56 239.71h.4M283.06 239.71h.4M245.01 239.71h.4M238.73 239.71h.4M285.09 239.71h.4M287.11 239.71h.4M300.07 238.38h.4M303.65 238.38h.4M305.87 238.38h.4M308.85 238.38h.4M298.76 238.38h.4M220.19 238.38h.4M218.14 238.38h.4M229.11 238.38h.4M227.48 238.38h.4M288.99 238.38h.4M290.63 238.38h.4M292.26 238.38h.4M299.94 237.06h.4M277.07 237.06h.4M218.33 237.06h.4M271.85 237.06h.4M270.12 237.06h.4M270.21 237.06h.4M284.79 235.73h.4M297 235.73h.4M227.6 235.73h.4M306.99 234.4h.4M273.87 234.4h.4M251.81 234.4h.4M262.94 234.4h.4M312.83 233.08h.4M217.77 233.08h.4M257.11 233.08h.4M261.57 233.08h.4M260.64 233.08h.4M228 231.75h.4M227.71 231.75h.4M251.24 231.75h.4M222.22 231.75h.4M303.81 231.75h.4M281.75 231.75h.4M294.49 231.75h.4M280.43 231.75h.4M240.01 231.75h.4M288.81 231.75h.4M243.23 231.75h.4M300.04 230.42h.4M296.46 230.42h.4M253.97 230.42h.4M232.15 230.42h.4M228.95 230.42h.4M225.46 230.42h.4M301.88 230.42h.4M284.11 229.1h.4M271.42 229.1h.4M268.4 229.1h.4M253.74 229.1h.4M295.23 229.1h.4M273.05 229.1h.4M243.18 227.77h.4M298.64 227.77h.4M288.24 227.77h.4M299.63 226.44h.4M257.79 226.44h.4M259.78 226.44h.4M248.73 226.44h.4M256.4 226.44h.4M247.72 226.44h.4M301.17 226.44h.4M296.24 226.44h.4M260.02 226.44h.4M312.12 226.44h.4M238.9 225.12h.4M265.9 225.12h.4M254.13 225.12h.4M298.64 225.12h.4M225.8 223.79h.4M285.09 223.79h.4M241.48 223.79h.4M258.67 223.79h.4M224.16 223.79h.4M293.05 223.79h.4M255.01 223.79h.4M225.56 223.79h.4M307.07 223.79h.4M256.46 223.79h.4M257.9 223.79h.4M258.32 222.46h.4M250.52 222.46h.4M219.74 222.46h.4M261.66 221.14h.4M311.53 221.14h.4M284.09 221.14h.4M226.86 221.14h.4M235.58 219.81h.4M305.91 219.81h.4M265.02 219.81h.4M239.91 219.81h.4M300.51 219.81h.4M230.3 219.81h.4M285.94 219.81h.4M259.29 219.81h.4M251.95 218.48h.4M257.32 218.48h.4M294.05 218.48h.4M309.1 218.48h.4M300.32 218.48h.4M275.11 217.16h.4M230.29 217.16h.4M298.91 217.16h.4M306.6 217.16h.4M261.93 217.16h.4M253.07 217.16h.4M241.85 215.83h.4M281.87 215.83h.4M228.36 215.83h.4M304.68 215.83h.4M260.84 215.83h.4M242.43 215.83h.4M289.21 215.83h.4M235.33 215.83h.4M233.06 215.83h.4M275.6 214.5h.4M271.89 214.5h.4M272.73 214.5h.4M292.24 214.5h.4M263.08 214.5h.4M232.15 213.18h.4M304.77 213.18h.4M308.4 213.18h.4M277.85 213.18h.4M217.84 213.18h.4M237.34 213.18h.4M290.25 213.18h.4M253.63 213.18h.4M226 211.85h.4M218.26 211.85h.4M228 211.85h.4M280.57 211.85h.4M245.21 210.52h.4M285.31 210.52h.4M307.22 210.52h.4M248.23 210.52h.4M224.59 210.52h.4M222.92 210.52h.4M302.98 210.52h.4M242.87 210.52h.4M291.26 210.52h.4M250.05 210.52h.4M251.87 210.52h.4M222.38 209.2h.4M263.75 209.2h.4M284.72 209.2h.4M261.71 209.2h.4M265.21 209.2h.4M289.97 207.87h.4M306.78 207.87h.4M307.11 207.87h.4M306.97 207.87h.4M280.94 206.54h.4M247.23 205.22h.4M280.15 205.22h.4M278.78 205.22h.4M267.23 205.22h.4M259.97 205.22h.4M267.65 205.22h.4M247.98 205.22h.4M258.96 203.89h.4M284.73 203.89h.4M288.9 203.89h.4M259.28 203.89h.4M243.86 203.89h.4M260.98 203.89h.4M219.48 202.56h.4M284.03 202.56h.4M297.34 202.56h.4M258.68 202.56h.4M253.62 202.56h.4M240.2 202.56h.4M293.99 202.56h.4M247.15 202.56h.4" stroke="#e6643f" stroke-width="2.3" stroke-linecap="round"/>
<path d="M216.6 49.6L216.6 89.5" stroke="#444" stroke-width="1"/>
<path d="M216.6 49.9L218.1 49.9" stroke="#444" stroke-width="0.8"/>
<path d="M216.6 89.2L218.1 89.2" stroke="#444" stroke-width="0.8"/>
<text x="212.1" y="56.3" text-anchor="end">30</text>
<text x="212.1" y="89.2" text-anchor="end">1</text>
<text x="318" y="74.35" fill="#6cbf45" color="#6cbf45">NB</text>
<path d="M216.6 95.8L216.6 193.3" stroke="#444" stroke-width="1"/>
<path d="M216.6 96.1L218.1 96.1" stroke="#444" stroke-width="0.8"/>
<path d="M216.6 193L218.1 193" stroke="#444" stroke-width="0.8"/>
<text x="212.1" y="104" text-anchor="end">75</text>
<text x="212.1" y="195.4" text-anchor="end">1</text>
<text x="318" y="149.35" fill="#6690e0" color="#6690e0">SB</text>
<path d="M216.6 201.9L216.6 241.7" stroke="#444" stroke-width="1"/>
<path d="M216.6 202.2L218.1 202.2" stroke="#444" stroke-width="0.8"/>
<path d="M216.6 241.4L218.1 241.4" stroke="#444" stroke-width="0.8"/>
<text x="212.1" y="209.1" text-anchor="end">30</text>
<text x="212.1" y="240.6" text-anchor="end">1</text>
<text x="318" y="223.6" fill="#e6643f" color="#e6643f">HB</text>
<path d="M249 50.6V241.7" stroke="#222" stroke-width="1.4" stroke-dasharray="4.2 4"/>
<path d="M216.6 241.7L314.5 241.7" stroke="#555" stroke-width="1"/>
<text transform="translate(194.7 145) rotate(-90)" text-anchor="middle">Trial number</text>
<text x="253.9" y="254.8" text-anchor="middle">Boundary</text>
<path d="M216 297.96L216.99 297.8L217.99 297.63L218.98 297.44L219.97 297.25L220.96 297.06L221.96 296.87L222.95 296.69L223.94 296.5L224.94 296.32L225.93 296.15L226.92 296.01L227.92 295.91L228.91 295.86L229.9 295.86L230.89 295.92L231.89 296.04L232.88 296.25L233.87 296.53L234.87 296.88L235.86 297.32L236.85 297.79L237.84 298.28L238.84 298.73L239.83 299.13L240.82 299.43L241.82 299.64L242.81 299.77L243.8 299.83L244.79 299.85L245.79 299.86L246.78 299.89L247.77 299.94L248.77 300.01L249.76 300.12L250.75 300.25L251.75 300.41L252.74 300.58L253.73 300.79L254.72 301.02L255.72 301.29L256.71 301.59L257.7 301.91L258.7 302.22L259.69 302.45L260.68 302.53L261.67 302.4L262.67 302.06L263.66 301.52L264.65 300.88L265.65 300.24L266.64 299.66L267.63 299.17L268.63 298.77L269.62 298.41L270.61 298.08L271.6 297.75L272.6 297.42L273.59 297.11L274.58 296.83L275.58 296.61L276.57 296.46L277.56 296.36L278.55 296.29L279.55 296.23L280.54 296.16L281.53 296.07L282.53 295.97L283.52 295.88L284.51 295.85L285.51 295.89L286.5 296.04L287.49 296.29L288.48 296.64L289.48 297.05L290.47 297.5L291.46 297.96L292.46 298.34L293.45 298.49L294.44 298.22L295.43 297.41L296.43 296.27L297.42 295.42L298.41 295.47L299.41 296.41L300.4 297.67L301.39 298.64L302.38 299.15L303.38 299.29L304.37 299.24L305.36 299.13L306.36 299.01L307.35 298.9L308.34 298.77L309.34 298.65L310.33 298.53L311.32 298.4L312.31 298.29L313.31 298.21L314.3 298.15L314.3 301.94L313.31 301.99L312.31 302.08L311.32 302.18L310.33 302.31L309.34 302.43L308.34 302.56L307.35 302.68L306.36 302.79L305.36 302.91L304.37 303.02L303.38 303.07L302.38 302.93L301.39 302.43L300.4 301.45L299.41 300.19L298.41 299.25L297.42 299.2L296.43 300.05L295.43 301.19L294.44 302L293.45 302.27L292.46 302.12L291.46 301.75L290.47 301.29L289.48 300.84L288.48 300.42L287.49 300.07L286.5 299.83L285.51 299.68L284.51 299.63L283.52 299.66L282.53 299.75L281.53 299.85L280.54 299.94L279.55 300.02L278.55 300.08L277.56 300.15L276.57 300.25L275.58 300.4L274.58 300.61L273.59 300.89L272.6 301.21L271.6 301.54L270.61 301.87L269.62 302.19L268.63 302.55L267.63 302.95L266.64 303.45L265.65 304.02L264.65 304.67L263.66 305.31L262.67 305.84L261.67 306.19L260.68 306.32L259.69 306.24L258.7 306.01L257.7 305.7L256.71 305.38L255.72 305.07L254.72 304.81L253.73 304.57L252.74 304.37L251.75 304.19L250.75 304.04L249.76 303.9L248.77 303.8L247.77 303.72L246.78 303.68L245.79 303.65L244.79 303.63L243.8 303.61L242.81 303.55L241.82 303.42L240.82 303.22L239.83 302.91L238.84 302.51L237.84 302.06L236.85 301.57L235.86 301.1L234.87 300.67L233.87 300.31L232.88 300.03L231.89 299.83L230.89 299.7L229.9 299.64L228.91 299.64L227.92 299.7L226.92 299.79L225.93 299.93L224.94 300.1L223.94 300.28L222.95 300.47L221.96 300.66L220.96 300.84L219.97 301.04L218.98 301.22L217.99 301.41L216.99 301.59L216 301.74Z" fill="#6cbf45" fill-opacity=".3"/>
<path d="M216 295.42L216.99 295.82L217.99 296.17L218.98 296.43L219.97 296.57L220.96 296.58L221.96 296.46L222.95 296.26L223.94 296.01L224.94 295.76L225.93 295.57L226.92 295.49L227.92 295.61L228.91 295.92L229.9 296.46L230.89 297.17L231.89 297.99L232.88 298.84L233.87 299.6L234.87 300.2L235.86 300.53L236.85 300.41L237.84 299.67L238.84 298.17L239.83 295.99L240.82 293.68L241.82 292.08L242.81 291.8L243.8 292.82L244.79 294.46L245.79 296.01L246.78 297.04L247.77 297.54L248.77 297.68L249.76 297.62L250.75 297.36L251.75 296.86L252.74 295.93L253.73 294.42L254.72 292.17L255.72 289.19L256.71 285.76L257.7 282.44L258.7 279.93L259.69 278.84L260.68 279.51L261.67 281.77L262.67 285.06L263.66 288.64L264.65 291.86L265.65 294.29L266.64 295.86L267.63 296.69L268.63 297.01L269.62 297.07L270.61 297.09L271.6 297.17L272.6 297.36L273.59 297.65L274.58 298L275.58 298.3L276.57 298.52L277.56 298.61L278.55 298.6L279.55 298.53L280.54 298.48L281.53 298.52L282.53 298.7L283.52 299.06L284.51 299.54L285.51 300.05L286.5 300.53L287.49 300.84L288.48 300.91L289.48 300.7L290.47 300.22L291.46 299.53L292.46 298.74L293.45 297.95L294.44 297.34L295.43 296.93L296.43 296.8L297.42 296.89L298.41 297.09L299.41 297.34L300.4 297.52L301.39 297.54L302.38 297.39L303.38 297.07L304.37 296.64L305.36 296.15L306.36 295.65L307.35 295.2L308.34 294.77L309.34 294.43L310.33 294.16L311.32 293.99L312.31 293.93L313.31 293.98L314.3 294.12L314.3 299.62L313.31 299.48L312.31 299.43L311.32 299.5L310.33 299.67L309.34 299.94L308.34 300.28L307.35 300.7L306.36 301.15L305.36 301.66L304.37 302.14L303.38 302.57L302.38 302.89L301.39 303.04L300.4 303.02L299.41 302.84L298.41 302.6L297.42 302.39L296.43 302.3L295.43 302.43L294.44 302.85L293.45 303.46L292.46 304.24L291.46 305.03L290.47 305.72L289.48 306.21L288.48 306.41L287.49 306.34L286.5 306.03L285.51 305.56L284.51 305.04L283.52 304.56L282.53 304.2L281.53 304.02L280.54 303.98L279.55 304.03L278.55 304.1L277.56 304.11L276.57 304.02L275.58 303.8L274.58 303.5L273.59 303.16L272.6 302.86L271.6 302.68L270.61 302.59L269.62 302.58L268.63 302.51L267.63 302.19L266.64 301.36L265.65 299.79L264.65 297.36L263.66 294.14L262.67 290.57L261.67 287.27L260.68 285.02L259.69 284.35L258.7 285.43L257.7 287.94L256.71 291.26L255.72 294.69L254.72 297.67L253.73 299.93L252.74 301.44L251.75 302.36L250.75 302.87L249.76 303.12L248.77 303.19L247.77 303.05L246.78 302.54L245.79 301.51L244.79 299.96L243.8 298.32L242.81 297.31L241.82 297.58L240.82 299.19L239.83 301.49L238.84 303.67L237.84 305.18L236.85 305.91L235.86 306.03L234.87 305.71L233.87 305.11L232.88 304.34L231.89 303.49L230.89 302.67L229.9 301.97L228.91 301.43L227.92 301.11L226.92 300.99L225.93 301.07L224.94 301.26L223.94 301.51L222.95 301.76L221.96 301.97L220.96 302.09L219.97 302.07L218.98 301.93L217.99 301.68L216.99 301.32L216 300.93Z" fill="#e6643f" fill-opacity=".3"/>
<path d="M216 294.74L216.99 294.25L217.99 293.85L218.98 293.63L219.97 293.6L220.96 293.79L221.96 294.18L222.95 294.71L223.94 295.35L224.94 296.04L225.93 296.67L226.92 297.2L227.92 297.55L228.91 297.69L229.9 297.61L230.89 297.29L231.89 296.79L232.88 296.17L233.87 295.52L234.87 294.87L235.86 294.35L236.85 293.95L237.84 293.71L238.84 293.63L239.83 293.68L240.82 293.84L241.82 294.09L242.81 294.42L243.8 294.81L244.79 295.26L245.79 295.76L246.78 296.27L247.77 296.74L248.77 297.1L249.76 297.23L250.75 297.02L251.75 296.24L252.74 294.63L253.73 291.96L254.72 288.06L255.72 283.04L256.71 277.41L257.7 272.01L258.7 267.98L259.69 266.28L260.68 267.35L261.67 270.97L262.67 276.28L263.66 282.19L264.65 287.67L265.65 292.07L266.64 295.16L267.63 297.06L268.63 298L269.62 298.27L270.61 298.08L271.6 297.65L272.6 297.12L273.59 296.57L274.58 296.11L275.58 295.76L276.57 295.57L277.56 295.49L278.55 295.49L279.55 295.53L280.54 295.57L281.53 295.65L282.53 295.81L283.52 296.05L284.51 296.46L285.51 297.01L286.5 297.66L287.49 298.32L288.48 298.85L289.48 299.16L290.47 299.21L291.46 298.98L292.46 298.55L293.45 298L294.44 297.48L295.43 297.09L296.43 296.87L297.42 296.85L298.41 297L299.41 297.22L300.4 297.43L301.39 297.55L302.38 297.5L303.38 297.27L304.37 296.88L305.36 296.35L306.36 295.76L307.35 295.18L308.34 294.7L309.34 294.35L310.33 294.17L311.32 294.14L312.31 294.24L313.31 294.39L314.3 294.53L314.3 301.06L313.31 300.93L312.31 300.78L311.32 300.68L310.33 300.71L309.34 300.89L308.34 301.23L307.35 301.71L306.36 302.3L305.36 302.89L304.37 303.41L303.38 303.81L302.38 304.04L301.39 304.08L300.4 303.97L299.41 303.76L298.41 303.54L297.42 303.39L296.43 303.41L295.43 303.62L294.44 304.01L293.45 304.54L292.46 305.08L291.46 305.51L290.47 305.74L289.48 305.7L288.48 305.38L287.49 304.85L286.5 304.2L285.51 303.55L284.51 303L283.52 302.59L282.53 302.34L281.53 302.19L280.54 302.11L279.55 302.06L278.55 302.03L277.56 302.03L276.57 302.1L275.58 302.3L274.58 302.64L273.59 303.1L272.6 303.65L271.6 304.19L270.61 304.62L269.62 304.81L268.63 304.54L267.63 303.59L266.64 301.7L265.65 298.6L264.65 294.21L263.66 288.72L262.67 282.82L261.67 277.5L260.68 273.88L259.69 272.82L258.7 274.52L257.7 278.55L256.71 283.95L255.72 289.58L254.72 294.59L253.73 298.5L252.74 301.17L251.75 302.77L250.75 303.55L249.76 303.77L248.77 303.63L247.77 303.28L246.78 302.8L245.79 302.3L244.79 301.8L243.8 301.35L242.81 300.95L241.82 300.62L240.82 300.37L239.83 300.21L238.84 300.17L237.84 300.25L236.85 300.49L235.86 300.88L234.87 301.41L233.87 302.05L232.88 302.71L231.89 303.32L230.89 303.83L229.9 304.14L228.91 304.23L227.92 304.09L226.92 303.74L225.93 303.21L224.94 302.58L223.94 301.89L222.95 301.25L221.96 300.71L220.96 300.33L219.97 300.13L218.98 300.16L217.99 300.39L216.99 300.78L216 301.28Z" fill="#6690e0" fill-opacity=".3"/>
<path d="M216 299.85L216.99 299.69L217.99 299.52L218.98 299.33L219.97 299.14L220.96 298.95L221.96 298.76L222.95 298.58L223.94 298.39L224.94 298.21L225.93 298.04L226.92 297.9L227.92 297.81L228.91 297.75L229.9 297.75L230.89 297.81L231.89 297.94L232.88 298.14L233.87 298.42L234.87 298.77L235.86 299.21L236.85 299.68L237.84 300.17L238.84 300.62L239.83 301.02L240.82 301.32L241.82 301.53L242.81 301.66L243.8 301.72L244.79 301.74L245.79 301.76L246.78 301.78L247.77 301.83L248.77 301.9L249.76 302.01L250.75 302.14L251.75 302.3L252.74 302.48L253.73 302.68L254.72 302.91L255.72 303.18L256.71 303.49L257.7 303.8L258.7 304.11L259.69 304.34L260.68 304.42L261.67 304.29L262.67 303.95L263.66 303.42L264.65 302.78L265.65 302.13L266.64 301.55L267.63 301.06L268.63 300.66L269.62 300.3L270.61 299.98L271.6 299.64L272.6 299.31L273.59 299L274.58 298.72L275.58 298.5L276.57 298.36L277.56 298.26L278.55 298.18L279.55 298.12L280.54 298.05L281.53 297.96L282.53 297.86L283.52 297.77L284.51 297.74L285.51 297.78L286.5 297.94L287.49 298.18L288.48 298.53L289.48 298.95L290.47 299.4L291.46 299.85L292.46 300.23L293.45 300.38L294.44 300.11L295.43 299.3L296.43 298.16L297.42 297.31L298.41 297.36L299.41 298.3L300.4 299.56L301.39 300.53L302.38 301.04L303.38 301.18L304.37 301.13L305.36 301.02L306.36 300.9L307.35 300.79L308.34 300.66L309.34 300.54L310.33 300.42L311.32 300.29L312.31 300.18L313.31 300.1L314.3 300.05" fill="none" stroke="#6cbf45" stroke-width=".7" stroke-opacity=".7"/>
<path d="M216 298.18L216.99 298.57L217.99 298.93L218.98 299.18L219.97 299.32L220.96 299.34L221.96 299.22L222.95 299.01L223.94 298.76L224.94 298.51L225.93 298.32L226.92 298.24L227.92 298.36L228.91 298.67L229.9 299.21L230.89 299.92L231.89 300.74L232.88 301.59L233.87 302.36L234.87 302.96L235.86 303.28L236.85 303.16L237.84 302.42L238.84 300.92L239.83 298.74L240.82 296.43L241.82 294.83L242.81 294.55L243.8 295.57L244.79 297.21L245.79 298.76L246.78 299.79L247.77 300.29L248.77 300.44L249.76 300.37L250.75 300.12L251.75 299.61L252.74 298.68L253.73 297.18L254.72 294.92L255.72 291.94L256.71 288.51L257.7 285.19L258.7 282.68L259.69 281.59L260.68 282.27L261.67 284.52L262.67 287.82L263.66 291.39L264.65 294.61L265.65 297.04L266.64 298.61L267.63 299.44L268.63 299.76L269.62 299.82L270.61 299.84L271.6 299.92L272.6 300.11L273.59 300.4L274.58 300.75L275.58 301.05L276.57 301.27L277.56 301.36L278.55 301.35L279.55 301.28L280.54 301.23L281.53 301.27L282.53 301.45L283.52 301.81L284.51 302.29L285.51 302.8L286.5 303.28L287.49 303.59L288.48 303.66L289.48 303.45L290.47 302.97L291.46 302.28L292.46 301.49L293.45 300.7L294.44 300.1L295.43 299.68L296.43 299.55L297.42 299.64L298.41 299.85L299.41 300.09L300.4 300.27L301.39 300.29L302.38 300.14L303.38 299.82L304.37 299.39L305.36 298.9L306.36 298.4L307.35 297.95L308.34 297.53L309.34 297.18L310.33 296.92L311.32 296.74L312.31 296.68L313.31 296.73L314.3 296.87" fill="none" stroke="#e6643f" stroke-width=".7" stroke-opacity=".7"/>
<path d="M216 298.01L216.99 297.51L217.99 297.12L218.98 296.89L219.97 296.87L220.96 297.06L221.96 297.44L222.95 297.98L223.94 298.62L224.94 299.31L225.93 299.94L226.92 300.47L227.92 300.82L228.91 300.96L229.9 300.87L230.89 300.56L231.89 300.05L232.88 299.44L233.87 298.78L234.87 298.14L235.86 297.62L236.85 297.22L237.84 296.98L238.84 296.9L239.83 296.94L240.82 297.11L241.82 297.35L242.81 297.68L243.8 298.08L244.79 298.53L245.79 299.03L246.78 299.54L247.77 300.01L248.77 300.37L249.76 300.5L250.75 300.29L251.75 299.5L252.74 297.9L253.73 295.23L254.72 291.33L255.72 286.31L256.71 280.68L257.7 275.28L258.7 271.25L259.69 269.55L260.68 270.62L261.67 274.24L262.67 279.55L263.66 285.45L264.65 290.94L265.65 295.34L266.64 298.43L267.63 300.32L268.63 301.27L269.62 301.54L270.61 301.35L271.6 300.92L272.6 300.38L273.59 299.83L274.58 299.38L275.58 299.03L276.57 298.84L277.56 298.76L278.55 298.76L279.55 298.8L280.54 298.84L281.53 298.92L282.53 299.08L283.52 299.32L284.51 299.73L285.51 300.28L286.5 300.93L287.49 301.58L288.48 302.12L289.48 302.43L290.47 302.48L291.46 302.25L292.46 301.81L293.45 301.27L294.44 300.75L295.43 300.36L296.43 300.14L297.42 300.12L298.41 300.27L299.41 300.49L300.4 300.7L301.39 300.81L302.38 300.77L303.38 300.54L304.37 300.15L305.36 299.62L306.36 299.03L307.35 298.45L308.34 297.96L309.34 297.62L310.33 297.44L311.32 297.41L312.31 297.51L313.31 297.66L314.3 297.79" fill="none" stroke="#6690e0" stroke-width=".7" stroke-opacity=".7"/>
<path d="M249 261V309.9" stroke="#222" stroke-width="1.4" stroke-dasharray="4.2 4"/>
<path d="M216 261V309.9H314.3" fill="none" stroke="#444" stroke-width="1"/>
<text x="211.5" y="275.6" text-anchor="end">4</text>
<text x="211.5" y="294.6" text-anchor="end">2</text>
<text x="211.5" y="311.4" text-anchor="end">0</text>
<text x="216.2" y="322.5" text-anchor="middle">–0.5</text>
<text x="248.7" y="322.5" text-anchor="middle">0</text>
<text x="313.2" y="322.5" text-anchor="middle">1.0</text>
<text transform="translate(195.6 290) rotate(-90)" text-anchor="middle">Firing rate (Hz)</text>
<text x="261.6" y="337.7" text-anchor="middle">Time (s)</text>
<path d="M295.2 266.71L295.72 266.58L296.23 266.5L296.75 266.45L297.26 266.46L297.78 266.53L298.29 266.66L298.81 266.86L299.32 267.12L299.84 267.42L300.35 267.74L300.87 268.06L301.38 268.39L301.9 268.68L302.41 268.97L302.93 269.22L303.44 269.49L303.96 269.81L304.47 270.16L304.99 270.54L305.5 270.93L306.02 271.29L306.53 271.63L307.05 271.92L307.56 272.32L308.08 272.86L308.59 273.48L309.11 274.14L309.63 274.78L310.14 275.32L310.66 275.71L311.17 275.88L311.69 275.65L312.2 274.84L312.72 273.6L313.23 272.13L313.75 270.59L314.26 269.16L314.78 268.03L315.29 267.28L315.81 266.55L316.32 265.83L316.84 265.18L317.35 264.62L317.87 264.21L318.38 264L318.9 263.99L319.41 264.12L319.93 264.29L320.44 264.5L320.96 264.75L321.47 265.04L321.99 265.36L322.51 265.68L323.02 265.98L323.54 266.24L324.05 266.41L324.57 266.52L325.08 266.54L325.6 266.51L326.11 266.46L326.63 266.42L327.14 266.43L327.66 266.48L328.17 266.61L328.69 266.79L329.2 266.99L329.72 267.19L330.23 267.37L330.75 267.51L331.26 267.6L331.78 267.66L332.29 267.67L332.81 267.65L333.32 267.63L333.84 267.62L334.35 267.63L334.87 267.67L335.38 267.75L335.9 267.84L335.9 276.36L335.38 276.34L334.87 276.29L334.35 276.2L333.84 276.06L333.32 275.9L332.81 275.71L332.29 275.52L331.78 275.36L331.26 275.22L330.75 275.12L330.23 275.05L329.72 275.02L329.2 275L328.69 274.98L328.17 274.92L327.66 274.82L327.14 274.64L326.63 274.38L326.11 274.03L325.6 273.62L325.08 273.19L324.57 272.78L324.05 272.43L323.54 272.15L323.02 271.94L322.51 271.8L321.99 271.7L321.47 271.64L320.96 271.59L320.44 271.55L319.93 271.53L319.41 271.55L318.9 271.61L318.38 271.76L317.87 272.14L317.35 272.68L316.84 273.36L316.32 274.14L315.81 274.97L315.29 275.84L314.78 276.73L314.26 278.01L313.75 279.58L313.23 281.25L312.72 282.83L312.2 284.12L311.69 284.94L311.17 285.09L310.66 284.78L310.14 284.14L309.63 283.27L309.11 282.24L308.59 281.12L308.08 280.01L307.56 279L307.05 278.17L306.53 277.48L306.02 276.84L305.5 276.24L304.99 275.73L304.47 275.31L303.96 275L303.44 274.8L302.93 274.75L302.41 274.76L301.9 274.82L301.38 274.91L300.87 275.04L300.35 275.18L299.84 275.33L299.32 275.48L298.81 275.6L298.29 275.68L297.78 275.71L297.26 275.7L296.75 275.64L296.23 275.54L295.72 275.43L295.2 275.29Z" fill="#6a6a6a" fill-opacity=".8" stroke="#6a6a6a" stroke-opacity=".3" stroke-width="1.2"/>
<path d="M295.2 271L295.72 271L296.23 271.02L296.75 271.04L297.26 271.08L297.78 271.12L298.29 271.17L298.81 271.23L299.32 271.3L299.84 271.38L300.35 271.46L300.87 271.55L301.38 271.65L301.9 271.75L302.41 271.86L302.93 271.98L303.44 272.14L303.96 272.4L304.47 272.74L304.99 273.14L305.5 273.59L306.02 274.06L306.53 274.56L307.05 275.05L307.56 275.66L308.08 276.44L308.59 277.3L309.11 278.19L309.63 279.02L310.14 279.73L310.66 280.24L311.17 280.49L311.69 280.3L312.2 279.48L312.72 278.22L313.23 276.69L313.75 275.08L314.26 273.59L314.78 272.38L315.29 271.56L315.81 270.76L316.32 269.99L316.84 269.27L317.35 268.65L317.87 268.18L318.38 267.88L318.9 267.8L319.41 267.83L319.93 267.91L320.44 268.02L320.96 268.17L321.47 268.34L321.99 268.53L322.51 268.74L323.02 268.96L323.54 269.19L324.05 269.42L324.57 269.65L325.08 269.86L325.6 270.06L326.11 270.25L326.63 270.4L327.14 270.53L327.66 270.65L328.17 270.77L328.69 270.88L329.2 270.99L329.72 271.1L330.23 271.21L330.75 271.31L331.26 271.41L331.78 271.51L332.29 271.6L332.81 271.68L333.32 271.77L333.84 271.84L334.35 271.92L334.87 271.98L335.38 272.04L335.9 272.1" fill="none" stroke="#333" stroke-width=".6"/>
<path d="M290.4 272.7V284.5H310.2" fill="none" stroke="#000" stroke-width="1.5"/>
<text transform="translate(286 278.4) rotate(-90)" text-anchor="middle" font-size="7.3">30 μV</text>
<text x="290.9" y="293.5" font-size="7.3">1 ms</text>
<text x="19.4" y="372.8" font-weight="bold" font-size="12.5" style="stroke:none">e</text>
<text x="66.1" y="372.9">Event cell 1</text>
<text x="46.9" y="390.4" fill="#7f7f7f" color="#7f7f7f">NWB14-173-2-AMY</text>
<path d="M133.67 441.25h.4M72.45 441.25h.4M78.12 441.25h.4M88.53 441.25h.4M88.85 441.25h.4M137 441.25h.4M70.46 441.25h.4M61.79 441.25h.4M104.76 441.25h.4M144.44 439.94h.4M64.49 438.62h.4M62.73 438.62h.4M90.15 438.62h.4M118.38 438.62h.4M98.68 438.62h.4M63.11 438.62h.4M109.92 438.62h.4M144.55 438.62h.4M91.36 437.31h.4M86.21 437.31h.4M107.51 437.31h.4M130.07 437.31h.4M109.45 437.31h.4M99.51 437.31h.4M74.43 437.31h.4M92.79 437.31h.4M51.71 436h.4M111.96 434.69h.4M55.77 434.69h.4M76.54 434.69h.4M103.33 434.69h.4M88.21 434.69h.4M92.08 434.69h.4M126.12 434.69h.4M102.56 434.69h.4M54.95 433.38h.4M75.77 433.38h.4M118.1 433.38h.4M143.9 433.38h.4M56.45 433.38h.4M81.41 432.07h.4M81.92 432.07h.4M83.95 432.07h.4M143.08 432.07h.4M50.9 432.07h.4M144.8 430.76h.4M76.44 430.76h.4M83.72 430.76h.4M80.24 430.76h.4M127.89 430.76h.4M117.36 430.76h.4M51.13 430.76h.4M52.93 429.45h.4M82.52 429.45h.4M99.57 429.45h.4M70.18 429.45h.4M131.4 429.45h.4M54.86 429.45h.4M69.17 429.45h.4M73.6 429.45h.4M137.2 429.45h.4M131.94 429.45h.4M66.92 429.45h.4M91.61 428.14h.4M144.19 428.14h.4M83.06 426.83h.4M139.21 426.83h.4M105.43 426.83h.4M143.82 426.83h.4M56.02 426.83h.4M140.88 426.83h.4M142.54 426.83h.4M133.05 425.52h.4M111.56 424.21h.4M78.9 424.21h.4M138.52 424.21h.4M58.53 424.21h.4M79.24 424.21h.4M60.37 424.21h.4M138.71 424.21h.4M131.22 424.21h.4M86.53 422.9h.4M52.73 422.9h.4M80.82 422.9h.4M128.87 422.9h.4M74.14 422.9h.4M68.25 422.9h.4M70.3 422.9h.4M72.34 422.9h.4M64.59 421.6h.4M105.98 421.6h.4M81.82 421.6h.4M76.84 421.6h.4M128.14 421.6h.4M54.61 421.6h.4M54.52 420.29h.4M104.21 420.29h.4M55.82 420.29h.4M61.31 420.29h.4M77.92 420.29h.4M51 420.29h.4M95.77 420.29h.4M52.11 420.29h.4M119.02 420.29h.4M50.35 420.29h.4M81.98 420.29h.4M118.7 420.29h.4M63.29 420.29h.4M52.28 420.29h.4M54.2 420.29h.4M120.35 420.29h.4M121.99 420.29h.4M111.72 418.98h.4M57.98 418.98h.4M139.89 418.98h.4M80.14 418.98h.4M125.79 418.98h.4M81.28 417.67h.4M80.22 417.67h.4M138.33 417.67h.4M100.9 417.67h.4M146.5 417.67h.4M76.84 417.67h.4M94.45 417.67h.4M132.2 417.67h.4M108.33 416.36h.4M101.82 416.36h.4M132.45 416.36h.4M50.24 416.36h.4M130.88 416.36h.4M58.21 416.36h.4M141.96 415.05h.4M125.72 415.05h.4M87.63 415.05h.4M98.08 415.05h.4M131.33 415.05h.4M79.91 415.05h.4M141.3 415.05h.4M130.37 415.05h.4M101.18 415.05h.4M51.62 415.05h.4M145.55 415.05h.4M79.94 415.05h.4M65.68 415.05h.4M81.88 415.05h.4M50.57 415.05h.4M63.57 415.05h.4M96.96 415.05h.4M57.66 415.05h.4M86.24 415.05h.4M121.45 415.05h.4M81.72 415.05h.4M83.5 415.05h.4M145.55 413.74h.4M87.85 413.74h.4M65.49 413.74h.4M69.88 413.74h.4M131.38 413.74h.4M119.67 413.74h.4M64.71 413.74h.4M116.21 413.74h.4M144.43 413.74h.4M105.71 413.74h.4M81.58 413.74h.4M78.58 413.74h.4M72.29 413.74h.4M98.51 413.74h.4M121.79 413.74h.4M128.48 413.74h.4M74.3 413.74h.4M130.13 413.74h.4M127.05 413.74h.4M81.5 413.74h.4M71.15 412.43h.4M94.07 412.43h.4M120.92 412.43h.4M66.77 412.43h.4M99.79 412.43h.4M144.82 412.43h.4M50.97 412.43h.4M146.04 412.43h.4M63.65 412.43h.4M99.71 412.43h.4M130.39 412.43h.4M134.13 411.12h.4M115.53 411.12h.4M73.15 411.12h.4M135.58 411.12h.4M58.31 411.12h.4M145.03 411.12h.4M85.68 411.12h.4M91.2 411.12h.4M86.31 411.12h.4M53.79 411.12h.4M100.94 411.12h.4M74.72 411.12h.4M121.04 411.12h.4M57.83 411.12h.4M93.6 409.81h.4M107.6 409.81h.4M87.82 409.81h.4M69.86 409.81h.4M132.9 409.81h.4M102.88 409.81h.4M111.31 409.81h.4M59.98 409.81h.4M135.61 409.81h.4M99.45 409.81h.4M90.44 409.81h.4M82.79 409.81h.4M138.88 409.81h.4M75.53 409.81h.4M137.98 409.81h.4M74.99 409.81h.4M140.81 409.81h.4M113.65 408.5h.4M124.51 408.5h.4M58.68 408.5h.4M76.43 408.5h.4M118.95 408.5h.4M126.2 408.5h.4M60.6 408.5h.4M62.53 408.5h.4M131 407.19h.4M60.02 407.19h.4M95.53 407.19h.4M110.81 407.19h.4M61.27 407.19h.4M144.24 407.19h.4M132.71 407.19h.4M146.04 407.19h.4M135.29 407.19h.4M118.8 407.19h.4M128.36 405.88h.4M126.44 405.88h.4M89.12 405.88h.4M101.91 405.88h.4M89.7 405.88h.4M58.31 405.88h.4M122.5 405.88h.4M73.42 405.88h.4M124.57 405.88h.4M86.37 405.88h.4M103.78 405.88h.4M108.53 404.56h.4M58.5 404.56h.4M121.34 404.56h.4M118.45 404.56h.4M121.75 404.56h.4M78.51 404.56h.4M135.08 404.56h.4M137.53 403.25h.4M80.38 403.25h.4M93.76 403.25h.4M119.17 403.25h.4M142.09 403.25h.4M117.32 403.25h.4M129.04 403.25h.4M69.87 403.25h.4M50.02 403.25h.4M127.29 403.25h.4M125.14 403.25h.4M129.87 403.25h.4M71.7 403.25h.4M73.54 403.25h.4" stroke="#6cbf45" stroke-width="2.3" stroke-linecap="round"/>
<path d="M50.58 546.05h.4M65 546.05h.4M65.03 546.05h.4M113.5 546.05h.4M82.08 546.05h.4M144.21 546.05h.4M97.37 546.05h.4M127.82 546.05h.4M116.12 546.05h.4M72.17 544.75h.4M50.23 544.75h.4M105 544.75h.4M103.28 544.75h.4M113.26 544.75h.4M58.12 544.75h.4M75.47 543.44h.4M56.53 543.44h.4M89.31 543.44h.4M77.86 543.44h.4M55.59 543.44h.4M85.41 542.14h.4M115.96 542.14h.4M77.3 542.14h.4M100.51 542.14h.4M91.57 542.14h.4M142.57 542.14h.4M111.82 542.14h.4M53.46 542.14h.4M135.82 542.14h.4M82.84 542.14h.4M123.8 542.14h.4M97.42 542.14h.4M76.24 542.14h.4M77.6 542.14h.4M50.86 542.14h.4M97.45 542.14h.4M86.96 542.14h.4M65.06 542.14h.4M132.3 542.14h.4M66.86 542.14h.4M68.66 542.14h.4M121.64 540.84h.4M95.79 540.84h.4M76.32 540.84h.4M136.64 540.84h.4M105.24 540.84h.4M121.98 540.84h.4M105.94 540.84h.4M145.78 540.84h.4M68.79 540.84h.4M107.99 540.84h.4M117.8 539.54h.4M68.22 539.54h.4M74.95 539.54h.4M121.2 539.54h.4M52.53 539.54h.4M130.7 539.54h.4M88.67 539.54h.4M122.73 539.54h.4M111.6 538.23h.4M97.44 538.23h.4M76.12 538.23h.4M89.91 538.23h.4M122.84 538.23h.4M122.38 538.23h.4M99.34 538.23h.4M101.24 538.23h.4M124.1 538.23h.4M125.82 538.23h.4M139.01 536.93h.4M83.67 536.93h.4M71.3 536.93h.4M103.39 536.93h.4M115.13 536.93h.4M125.6 536.93h.4M107.77 536.93h.4M71.83 535.63h.4M53.57 535.63h.4M77.58 535.63h.4M129.18 535.63h.4M58.34 535.63h.4M117.01 535.63h.4M144.91 534.32h.4M105.21 534.32h.4M84.61 534.32h.4M73.01 534.32h.4M128.01 534.32h.4M90.01 534.32h.4M101.83 534.32h.4M126.06 533.02h.4M144.74 531.72h.4M87.61 531.72h.4M98.01 531.72h.4M103.74 531.72h.4M117.69 531.72h.4M123.06 531.72h.4M146.24 531.72h.4M66.82 530.42h.4M89.58 530.42h.4M52.19 530.42h.4M118.58 530.42h.4M128.14 530.42h.4M101.77 530.42h.4M62.2 530.42h.4M121.3 530.42h.4M138.47 529.11h.4M142.48 529.11h.4M98.43 529.11h.4M69.13 529.11h.4M103.34 529.11h.4M112.19 529.11h.4M133.74 529.11h.4M120.77 529.11h.4M146.65 527.81h.4M99.84 527.81h.4M136.21 527.81h.4M114.38 527.81h.4M101.4 527.81h.4M102.97 527.81h.4M115.9 527.81h.4M77.64 526.51h.4M126.83 526.51h.4M52.24 526.51h.4M99.83 526.51h.4M84.09 526.51h.4M124.86 526.51h.4M145.42 526.51h.4M142.1 526.51h.4M143.84 526.51h.4M145.59 526.51h.4M130.36 525.21h.4M50 525.21h.4M143.02 525.21h.4M67.12 525.21h.4M68.85 525.21h.4M70.59 525.21h.4M93.83 523.9h.4M56.38 523.9h.4M89.84 523.9h.4M135.59 523.9h.4M110.26 523.9h.4M66.53 523.9h.4M138.21 523.9h.4M50.79 523.9h.4M123.53 523.9h.4M120.86 523.9h.4M72.63 523.9h.4M96.15 523.9h.4M76.54 523.9h.4M64.77 522.6h.4M145.79 522.6h.4M61.81 522.6h.4M139.86 522.6h.4M52.58 522.6h.4M74.91 521.3h.4M142.66 521.3h.4M84.29 521.3h.4M73.31 521.3h.4M74.59 521.3h.4M93.52 521.3h.4M117.53 521.3h.4M93.3 521.3h.4M91.54 521.3h.4M69.47 521.3h.4M86.24 521.3h.4M143.86 521.3h.4M72.11 521.3h.4M78.97 520h.4M88.52 520h.4M132.39 520h.4M145.42 520h.4M107.83 520h.4M111.19 520h.4M57.3 520h.4M52.98 520h.4M104.23 520h.4M56.82 520h.4M144.69 520h.4M61.26 520h.4M61.54 520h.4M146.27 518.69h.4M58.29 518.69h.4M123.49 518.69h.4M66.8 518.69h.4M94.42 518.69h.4M90.14 517.39h.4M55.05 517.39h.4M68.89 517.39h.4M61.24 517.39h.4M88.96 517.39h.4M69.09 517.39h.4M98.23 517.39h.4M119.8 517.39h.4M120.3 517.39h.4M144.29 517.39h.4M133.99 517.39h.4M74.78 517.39h.4M93.95 516.09h.4M69.36 516.09h.4M130.44 516.09h.4M140.11 516.09h.4M74.15 516.09h.4M127 516.09h.4M81.21 516.09h.4M67.7 516.09h.4M138.44 516.09h.4M115.13 516.09h.4M116.72 516.09h.4M144.74 516.09h.4M133.1 516.09h.4M104.55 516.09h.4M115.59 516.09h.4M70.14 514.78h.4M79.78 514.78h.4M94.69 514.78h.4M109.27 514.78h.4M67.59 514.78h.4M77.04 513.48h.4M59.89 513.48h.4M84.07 513.48h.4M133.56 513.48h.4M124.88 513.48h.4M50.73 512.18h.4M142.91 512.18h.4M127.66 512.18h.4M92.95 512.18h.4M80.51 512.18h.4M117.57 512.18h.4M97.78 510.88h.4M141.88 510.88h.4M135.99 510.88h.4M117.28 510.88h.4M91.43 510.88h.4M101.46 510.88h.4M128.29 510.88h.4M125.65 510.88h.4M84.4 510.88h.4M121.7 510.88h.4M120.65 510.88h.4M127.23 510.88h.4M94.85 509.57h.4M103.75 509.57h.4M81.54 509.57h.4M110.7 508.27h.4M134 508.27h.4M144.75 508.27h.4M101.26 508.27h.4M101.31 508.27h.4M118.54 508.27h.4M76.75 508.27h.4M100.94 508.27h.4M120.23 506.97h.4M116.36 506.97h.4M79.93 505.67h.4M129.63 505.67h.4M118.95 505.67h.4M87.18 505.67h.4M132.12 505.67h.4M85.11 505.67h.4M139.36 505.67h.4M134.03 505.67h.4M61.65 505.67h.4M81.39 505.67h.4M71.1 505.67h.4M139.51 505.67h.4M133.16 505.67h.4M71.96 505.67h.4M50.16 505.67h.4M112.46 505.67h.4M75.35 505.67h.4M64.55 505.67h.4M124.57 504.36h.4M146.17 504.36h.4M103.22 504.36h.4M121.81 504.36h.4M109.55 503.06h.4M107.73 503.06h.4M146.24 503.06h.4M73.3 503.06h.4M141.71 503.06h.4M145.37 503.06h.4M87.19 503.06h.4M101.52 503.06h.4M73.28 503.06h.4M98.21 503.06h.4M133.85 503.06h.4M140.16 503.06h.4M117.13 503.06h.4M143.72 503.06h.4M57.88 501.76h.4M56.94 501.76h.4M128.1 501.76h.4M137.15 501.76h.4M101.83 501.76h.4M145.79 501.76h.4M69.37 500.46h.4M144.12 500.46h.4M145.79 500.46h.4M119.93 499.15h.4M109.41 499.15h.4M125.78 499.15h.4M64.5 499.15h.4M143.64 499.15h.4M60.67 499.15h.4M141.15 499.15h.4M106.41 499.15h.4M63.47 499.15h.4M52.5 499.15h.4M127.63 499.15h.4M93.37 497.85h.4M50.11 497.85h.4M122.56 497.85h.4M125.54 497.85h.4M69.97 496.55h.4M107.1 496.55h.4M140.17 496.55h.4M102.12 496.55h.4M81.65 496.55h.4M84.76 496.55h.4M90.12 496.55h.4M119.83 496.55h.4M118.55 496.55h.4M141.9 496.55h.4M143.63 496.55h.4M104.1 496.55h.4M106.08 496.55h.4M55.36 495.24h.4M67.29 495.24h.4M123.45 495.24h.4M64.33 495.24h.4M113.59 495.24h.4M52.78 495.24h.4M122.22 495.24h.4M56.76 495.24h.4M59.64 495.24h.4M51.54 495.24h.4M116.33 493.94h.4M142.43 493.94h.4M124.69 493.94h.4M144.45 493.94h.4M79.71 492.64h.4M85.05 492.64h.4M80.4 492.64h.4M120.72 492.64h.4M52.49 492.64h.4M111.37 492.64h.4M116.38 492.64h.4M121.83 492.64h.4M109.65 491.34h.4M80.24 491.34h.4M108.28 491.34h.4M115.92 491.34h.4M89.19 491.34h.4M129.7 491.34h.4M77.05 491.34h.4M87.28 491.34h.4M115.29 491.34h.4M112.23 491.34h.4M77.78 490.03h.4M105.23 490.03h.4M87.25 490.03h.4M69.04 490.03h.4M69.74 490.03h.4M105.62 490.03h.4M106.29 490.03h.4M117.7 490.03h.4M110.41 490.03h.4M67.39 488.73h.4M104.17 488.73h.4M119.45 488.73h.4M101.61 488.73h.4M134.5 487.43h.4M105.19 487.43h.4M59.37 487.43h.4M103.61 487.43h.4M108.95 487.43h.4M86.6 487.43h.4M66.6 487.43h.4M123.48 487.43h.4M124.91 487.43h.4M75.65 486.13h.4M50.33 486.13h.4M120.36 486.13h.4M69.93 486.13h.4M144.17 486.13h.4M77.62 486.13h.4M101.05 486.13h.4M77.52 486.13h.4M79.38 486.13h.4M86.07 484.82h.4M89.08 484.82h.4M126.64 484.82h.4M124.7 484.82h.4M79.54 484.82h.4M134.45 484.82h.4M106.38 484.82h.4M113.35 484.82h.4M73.7 484.82h.4M121.5 483.52h.4M112.93 483.52h.4M86.03 482.22h.4M119.83 482.22h.4M128.25 482.22h.4M95.8 480.92h.4M108.37 480.92h.4M114.28 480.92h.4M90.4 480.92h.4M139.33 480.92h.4M97.36 480.92h.4M123.96 480.92h.4M53.36 480.92h.4M130.29 480.92h.4M107.76 479.61h.4M90.66 479.61h.4M113.59 479.61h.4M126.22 479.61h.4M95.36 479.61h.4M76.95 479.61h.4M78.48 479.61h.4M139.83 478.31h.4M53.43 478.31h.4M89.53 478.31h.4M106.62 478.31h.4M139.38 478.31h.4M116.01 478.31h.4M63.28 478.31h.4M57.78 478.31h.4M55.37 478.31h.4M64.7 478.31h.4M117.11 477.01h.4M79.23 477.01h.4M95.04 477.01h.4M133.27 477.01h.4M66.89 477.01h.4M70.54 477.01h.4M64.63 477.01h.4M60.1 477.01h.4M66.34 477.01h.4M68.05 477.01h.4M63.92 475.7h.4M50.78 475.7h.4M70.05 475.7h.4M120.32 475.7h.4M115.85 475.7h.4M118.21 475.7h.4M61.22 475.7h.4M52.43 475.7h.4M131.82 474.4h.4M138.6 474.4h.4M109.88 474.4h.4M103.8 474.4h.4M91.29 474.4h.4M68.68 474.4h.4M112.21 474.4h.4M141.22 474.4h.4M84.43 474.4h.4M118.18 474.4h.4M55.37 474.4h.4M59.56 474.4h.4M133.17 473.1h.4M52.4 473.1h.4M112.78 473.1h.4M124.08 473.1h.4M143.73 473.1h.4M83.21 473.1h.4M56.85 473.1h.4M87.69 473.1h.4M99.59 473.1h.4M54.13 473.1h.4M138.24 473.1h.4M135.07 473.1h.4M86.52 471.8h.4M138.76 471.8h.4M81.7 471.8h.4M120.33 471.8h.4M113.59 471.8h.4M65.96 471.8h.4M121.25 471.8h.4M51.98 471.8h.4M85.9 471.8h.4M54.92 470.49h.4M99.13 470.49h.4M119.16 470.49h.4M116.6 470.49h.4M143.17 470.49h.4M121.18 470.49h.4M82.75 470.49h.4M92.89 470.49h.4M123.18 470.49h.4M67.34 469.19h.4M102.19 469.19h.4M60.51 469.19h.4M94.06 469.19h.4M61.96 469.19h.4M67.57 467.89h.4M78.8 467.89h.4M86.87 467.89h.4M111.92 467.89h.4M61.09 467.89h.4M83.45 466.59h.4M121.14 466.59h.4M143.43 466.59h.4M123.38 466.59h.4M80.8 466.59h.4M117.23 466.59h.4M130.73 466.59h.4M83.94 466.59h.4M122.94 466.59h.4M85.71 466.59h.4M58.32 465.28h.4M135.72 465.28h.4M69.59 465.28h.4M65.35 465.28h.4M54.13 465.28h.4M137.86 465.28h.4M76.07 465.28h.4M84.65 465.28h.4M96.36 465.28h.4M80.69 465.28h.4M144.42 465.28h.4M93.99 465.28h.4M66.25 463.98h.4M137.68 463.98h.4M71.12 463.98h.4M97.15 463.98h.4M137.34 463.98h.4M68.19 463.98h.4M70.13 463.98h.4M117.47 462.68h.4M58.57 462.68h.4M123.47 462.68h.4M109.67 462.68h.4M114.96 462.68h.4M142.64 462.68h.4M120.26 462.68h.4M51.74 462.68h.4M111.23 462.68h.4M121.93 462.68h.4M123.6 462.68h.4M110.69 461.38h.4M60.93 461.38h.4M56.97 461.38h.4M70.82 461.38h.4M105.84 461.38h.4M122.63 461.38h.4M98.04 461.38h.4M65.67 461.38h.4M99.63 461.38h.4M101.21 461.38h.4M67.55 461.38h.4M69.42 461.38h.4M122.62 460.07h.4M135.74 460.07h.4M89.65 460.07h.4M85.67 460.07h.4M92.95 460.07h.4M51.11 460.07h.4M117.03 460.07h.4M146.43 460.07h.4M111.31 460.07h.4M103.93 460.07h.4M124.9 460.07h.4M72.58 460.07h.4M113.14 460.07h.4M123.23 458.77h.4M146.41 458.77h.4M59.94 458.77h.4M136.47 458.77h.4M103.37 458.77h.4M108.3 458.77h.4M106.57 458.77h.4M144.94 458.77h.4M66.59 458.77h.4M105.19 458.77h.4M64.5 457.47h.4M92.57 457.47h.4M127.25 457.47h.4M130.03 457.47h.4M63.46 457.47h.4M142.95 457.47h.4M140.91 457.47h.4M137.35 456.16h.4M125.48 456.16h.4M104.34 456.16h.4M104.45 456.16h.4M135.99 456.16h.4M134.53 456.16h.4M126.72 456.16h.4M134.22 456.16h.4M79.15 456.16h.4M127.29 454.86h.4M133.82 454.86h.4M94.54 454.86h.4M125.5 454.86h.4M121.86 454.86h.4M96.09 454.86h.4M97.63 454.86h.4M63.03 453.56h.4M69.07 453.56h.4M82.18 453.56h.4M105.45 453.56h.4M93.07 453.56h.4M135.06 453.56h.4M91.71 453.56h.4M93.46 453.56h.4M102.47 452.26h.4M75.06 452.26h.4M123.19 452.26h.4M109.32 452.26h.4M127.45 452.26h.4M77.45 452.26h.4M61.63 452.26h.4M131.13 450.95h.4M97.48 450.95h.4M64.69 450.95h.4M121.37 450.95h.4M80.74 449.65h.4M52.55 449.65h.4M99.48 449.65h.4M112.01 449.65h.4M93.42 449.65h.4" stroke="#6690e0" stroke-width="2.3" stroke-linecap="round"/>
<path d="M116.13 593.54h.4M115.78 593.54h.4M56.41 593.54h.4M89.52 593.54h.4M100.01 593.54h.4M115.76 593.54h.4M98.88 593.54h.4M103.41 593.54h.4M78.54 593.54h.4M92.65 593.54h.4M98.49 593.54h.4M105.82 593.54h.4M116.31 593.54h.4M101.77 593.54h.4M89.69 593.54h.4M134.75 593.54h.4M91.89 593.54h.4M123.73 592.21h.4M134.45 592.21h.4M100.74 592.21h.4M120.5 592.21h.4M51.73 592.21h.4M129.1 590.88h.4M54.34 590.88h.4M97.02 590.88h.4M145.29 590.88h.4M130.41 590.88h.4M64.06 590.88h.4M115.06 590.88h.4M129.7 590.88h.4M62.73 590.88h.4M137.74 589.56h.4M88.69 589.56h.4M131.16 589.56h.4M74.33 589.56h.4M74.82 589.56h.4M93.31 589.56h.4M99.44 589.56h.4M77.24 589.56h.4M101.42 589.56h.4M96.42 589.56h.4M130.29 589.56h.4M83.49 588.23h.4M81.15 588.23h.4M123.76 588.23h.4M83.15 588.23h.4M69.07 588.23h.4M91.18 588.23h.4M95.46 588.23h.4M104.14 588.23h.4M67.24 588.23h.4M143.83 588.23h.4M72.57 588.23h.4M76.56 588.23h.4M63.19 588.23h.4M103.73 588.23h.4M96.52 588.23h.4M102.26 588.23h.4M100.58 588.23h.4M55.52 588.23h.4M99.15 588.23h.4M121.32 588.23h.4M99.29 588.23h.4M137.47 586.9h.4M116.52 586.9h.4M121.76 586.9h.4M126.24 586.9h.4M57.02 586.9h.4M108.7 586.9h.4M58.25 586.9h.4M111.73 586.9h.4M99.27 586.9h.4M100.74 586.9h.4M102.21 586.9h.4M109.19 585.58h.4M79.16 585.58h.4M139.59 585.58h.4M80.51 585.58h.4M99.41 585.58h.4M134.49 585.58h.4M104.51 585.58h.4M85.54 585.58h.4M96.81 585.58h.4M145.49 585.58h.4M126.55 584.25h.4M99.25 584.25h.4M142.4 584.25h.4M130.12 584.25h.4M77.85 584.25h.4M58.56 584.25h.4M77.69 584.25h.4M102.12 584.25h.4M126.63 584.25h.4M118.32 584.25h.4M142.25 584.25h.4M99.27 584.25h.4M107.56 582.92h.4M83.73 582.92h.4M106.16 582.92h.4M90.81 582.92h.4M101.83 582.92h.4M70.9 582.92h.4M128.02 582.92h.4M116.93 582.92h.4M94.6 582.92h.4M69.21 582.92h.4M62.56 582.92h.4M99.52 582.92h.4M108.16 582.92h.4M110.16 582.92h.4M90.9 581.6h.4M121.18 581.6h.4M51.76 581.6h.4M103.82 581.6h.4M97.92 581.6h.4M145.24 581.6h.4M139.93 581.6h.4M97.07 581.6h.4M78.23 581.6h.4M96.78 581.6h.4M101.13 581.6h.4M102.3 581.6h.4M129.23 581.6h.4M121.49 581.6h.4M103.08 580.27h.4M71.99 580.27h.4M130.99 580.27h.4M103.36 580.27h.4M140.66 580.27h.4M108.95 580.27h.4M75.11 580.27h.4M117.06 580.27h.4M141.45 578.94h.4M88 578.94h.4M82.9 578.94h.4M66.14 578.94h.4M126.99 578.94h.4M105.2 578.94h.4M143.71 578.94h.4M121.41 578.94h.4M88.45 578.94h.4M86.78 577.62h.4M95.08 577.62h.4M91.18 577.62h.4M117.32 577.62h.4M63.92 577.62h.4M141.94 577.62h.4M88.37 577.62h.4M89.97 577.62h.4M96.12 576.29h.4M56.96 576.29h.4M51.74 576.29h.4M102.58 576.29h.4M130.35 576.29h.4M75.03 576.29h.4M77.29 576.29h.4M69.21 576.29h.4M76.81 576.29h.4M109.21 574.96h.4M127.19 574.96h.4M131.73 574.96h.4M113.94 574.96h.4M122.17 574.96h.4M114.44 574.96h.4M129.65 573.64h.4M88.44 573.64h.4M111.06 573.64h.4M91.52 573.64h.4M96.37 573.64h.4M67.48 573.64h.4M92.73 573.64h.4M133.58 573.64h.4M84.33 573.64h.4M131.35 573.64h.4M104.64 573.64h.4M91.34 573.64h.4M54.36 573.64h.4M107.16 573.64h.4M98.23 573.64h.4M87.55 573.64h.4M78.44 573.64h.4M60.36 573.64h.4M145.55 573.64h.4M100.44 573.64h.4M135.84 573.64h.4M95.8 573.64h.4M124.92 572.31h.4M103.39 572.31h.4M116.53 572.31h.4M71.36 572.31h.4M67.87 572.31h.4M133.18 572.31h.4M82.36 572.31h.4M144.47 572.31h.4M105.29 572.31h.4M107.2 572.31h.4M70.81 570.98h.4M86.66 570.98h.4M143.65 570.98h.4M67.71 570.98h.4M95.07 570.98h.4M56.82 570.98h.4M140.28 570.98h.4M82.7 570.98h.4M95.35 570.98h.4M128.43 570.98h.4M138.3 570.98h.4M67.29 570.98h.4M58.5 570.98h.4M94.83 570.98h.4M99.85 570.98h.4M84.97 569.66h.4M99.65 569.66h.4M97.98 569.66h.4M113.8 569.66h.4M101.61 569.66h.4M105.01 569.66h.4M101.92 569.66h.4M57.37 569.66h.4M74.52 569.66h.4M103.76 569.66h.4M136.45 568.33h.4M111.54 568.33h.4M66.33 568.33h.4M126.88 568.33h.4M71.82 568.33h.4M100.99 568.33h.4M77.53 568.33h.4M97.96 568.33h.4M116.6 567h.4M64.33 567h.4M93.74 567h.4M119.65 567h.4M110.75 567h.4M82.46 567h.4M85.66 567h.4M103.22 567h.4M126.65 567h.4M142.61 567h.4M67.4 567h.4M92.57 567h.4M103.81 567h.4M100.96 567h.4M114.68 567h.4M62.68 567h.4M99.46 567h.4M101.13 567h.4M81.36 567h.4M63.81 567h.4M76.26 567h.4M80.89 567h.4M83.95 567h.4M102.52 567h.4M87.47 565.68h.4M73.36 565.68h.4M95.21 565.68h.4M83.52 565.68h.4M112.97 565.68h.4M117.27 565.68h.4M122.75 565.68h.4M101.15 565.68h.4M103.22 565.68h.4M79.86 565.68h.4M60.04 565.68h.4M94.99 564.35h.4M142.73 564.35h.4M127.98 564.35h.4M88.68 564.35h.4M75.85 564.35h.4M64.68 564.35h.4M100.6 564.35h.4M145.69 563.02h.4M97.69 563.02h.4M144.59 563.02h.4M85.9 563.02h.4M131.94 563.02h.4M144.41 563.02h.4M87.82 563.02h.4M106.99 563.02h.4M106.81 563.02h.4M87.65 563.02h.4M142.98 561.7h.4M88.71 561.7h.4M146.73 561.7h.4M95.88 561.7h.4M99.88 561.7h.4M145 561.7h.4M102.28 561.7h.4M89.68 561.7h.4M61.81 561.7h.4M92.33 561.7h.4M113.18 561.7h.4M85.52 561.7h.4M54.86 561.7h.4M54.76 561.7h.4M142.84 561.7h.4M69.3 561.7h.4M93.77 561.7h.4M99.48 560.37h.4M75.66 560.37h.4M122.8 560.37h.4M118.15 560.37h.4M98.13 560.37h.4M127.33 560.37h.4M99.6 559.04h.4M100.26 559.04h.4M101.26 559.04h.4M78.98 559.04h.4M96.52 557.72h.4M105.91 557.72h.4M104.85 557.72h.4M61.04 557.72h.4M52.79 556.39h.4M62.49 556.39h.4M118.43 556.39h.4M91.44 556.39h.4M108.17 556.39h.4M84.74 556.39h.4M71.45 556.39h.4M97.27 556.39h.4M76.24 556.39h.4M134.24 556.39h.4M104.65 556.39h.4M100.13 555.06h.4M100 555.06h.4M84.64 555.06h.4M65.42 555.06h.4M138.5 555.06h.4M102.86 555.06h.4M66.17 555.06h.4M99.44 555.06h.4M101.97 555.06h.4" stroke="#e6643f" stroke-width="2.3" stroke-linecap="round"/>
<path d="M48.9 402.6L48.9 441.9" stroke="#444" stroke-width="1"/>
<path d="M48.9 402.9L50.4 402.9" stroke="#444" stroke-width="0.8"/>
<path d="M48.9 441.6L50.4 441.6" stroke="#444" stroke-width="0.8"/>
<text x="44.4" y="408" text-anchor="end">30</text>
<text x="44.4" y="441.1" text-anchor="end">1</text>
<text x="150" y="426.6" fill="#6cbf45" color="#6cbf45">NB</text>
<path d="M48.9 449L48.9 546.7" stroke="#444" stroke-width="1"/>
<path d="M48.9 449.3L50.4 449.3" stroke="#444" stroke-width="0.8"/>
<path d="M48.9 546.4L50.4 546.4" stroke="#444" stroke-width="0.8"/>
<text x="44.4" y="456.1" text-anchor="end">75</text>
<text x="44.4" y="546.1" text-anchor="end">1</text>
<text x="150.4" y="501.5" fill="#6690e0" color="#6690e0">SB</text>
<path d="M48.9 554.4L48.9 594.2" stroke="#444" stroke-width="1"/>
<path d="M48.9 554.7L50.4 554.7" stroke="#444" stroke-width="0.8"/>
<path d="M48.9 593.9L50.4 593.9" stroke="#444" stroke-width="0.8"/>
<text x="44.4" y="562.1" text-anchor="end">30</text>
<text x="44.4" y="593.6" text-anchor="end">1</text>
<text x="150.4" y="576.8" fill="#e6643f" color="#e6643f">HB</text>
<path d="M81.8 403.6V594.2" stroke="#222" stroke-width="1.4" stroke-dasharray="4.2 4"/>
<path d="M48.9 594.2L147 594.2" stroke="#555" stroke-width="1"/>
<text transform="translate(27.3 497.3) rotate(-90)" text-anchor="middle">Trial number</text>
<text x="86.8" y="607.3" text-anchor="middle">Boundary</text>
<path d="M48.9 646.61L49.89 646.95L50.88 647.35L51.87 647.77L52.86 648.18L53.85 648.55L54.85 648.84L55.84 649.04L56.83 649.14L57.82 649.16L58.81 649.1L59.8 649.02L60.79 648.95L61.78 648.9L62.77 648.87L63.76 648.88L64.75 648.89L65.75 648.92L66.74 648.96L67.73 649.03L68.72 649.13L69.71 649.22L70.7 649.28L71.69 649.25L72.68 649.14L73.67 648.95L74.66 648.72L75.65 648.51L76.65 648.33L77.64 648.19L78.63 648.08L79.62 647.98L80.61 647.86L81.6 647.76L82.59 647.7L83.58 647.7L84.57 647.76L85.56 647.88L86.55 648.02L87.55 648.17L88.54 648.31L89.53 648.43L90.52 648.54L91.51 648.65L92.5 648.76L93.49 648.89L94.48 649.03L95.47 649.17L96.46 649.3L97.45 649.4L98.45 649.45L99.44 649.44L100.43 649.37L101.42 649.24L102.41 649.09L103.4 648.93L104.39 648.8L105.38 648.72L106.37 648.72L107.36 648.83L108.35 649.02L109.35 649.29L110.34 649.58L111.33 649.85L112.32 650.06L113.31 650.22L114.3 650.32L115.29 650.37L116.28 650.41L117.27 650.42L118.26 650.4L119.25 650.35L120.25 650.27L121.24 650.16L122.23 650.07L123.22 650.02L124.21 650.02L125.2 650.06L126.19 650.11L127.18 650.16L128.17 650.16L129.16 650.1L130.15 650L131.15 649.85L132.14 649.69L133.13 649.56L134.12 649.49L135.11 649.48L136.1 649.55L137.09 649.68L138.08 649.84L139.07 649.99L140.06 650.13L141.05 650.22L142.05 650.25L143.04 650.24L144.03 650.18L145.02 650.07L146.01 649.92L147 649.74L147 654.74L146.01 654.92L145.02 655.07L144.03 655.18L143.04 655.24L142.05 655.25L141.05 655.22L140.06 655.13L139.07 654.99L138.08 654.84L137.09 654.68L136.1 654.55L135.11 654.48L134.12 654.49L133.13 654.56L132.14 654.69L131.15 654.85L130.15 655L129.16 655.1L128.17 655.16L127.18 655.16L126.19 655.11L125.2 655.06L124.21 655.02L123.22 655.02L122.23 655.07L121.24 655.16L120.25 655.27L119.25 655.35L118.26 655.4L117.27 655.42L116.28 655.41L115.29 655.37L114.3 655.32L113.31 655.22L112.32 655.06L111.33 654.85L110.34 654.58L109.35 654.29L108.35 654.02L107.36 653.83L106.37 653.72L105.38 653.72L104.39 653.8L103.4 653.93L102.41 654.09L101.42 654.24L100.43 654.37L99.44 654.44L98.45 654.45L97.45 654.4L96.46 654.3L95.47 654.17L94.48 654.03L93.49 653.89L92.5 653.76L91.51 653.65L90.52 653.54L89.53 653.43L88.54 653.31L87.55 653.17L86.55 653.02L85.56 652.88L84.57 652.76L83.58 652.7L82.59 652.7L81.6 652.76L80.61 652.86L79.62 652.98L78.63 653.08L77.64 653.19L76.65 653.33L75.65 653.51L74.66 653.72L73.67 653.95L72.68 654.14L71.69 654.25L70.7 654.28L69.71 654.22L68.72 654.13L67.73 654.03L66.74 653.96L65.75 653.92L64.75 653.89L63.76 653.88L62.77 653.87L61.78 653.9L60.79 653.95L59.8 654.02L58.81 654.1L57.82 654.16L56.83 654.14L55.84 654.04L54.85 653.84L53.85 653.55L52.86 653.18L51.87 652.77L50.88 652.35L49.89 651.95L48.9 651.61Z" fill="#6690e0" fill-opacity=".3"/>
<path d="M48.9 648.52L49.89 648.97L50.88 649.43L51.87 649.87L52.86 650.26L53.85 650.58L54.85 650.8L55.84 650.93L56.83 650.98L57.82 650.96L58.81 650.89L59.8 650.78L60.79 650.64L61.78 650.46L62.77 650.25L63.76 649.98L64.75 649.67L65.75 649.33L66.74 648.99L67.73 648.69L68.72 648.44L69.71 648.24L70.7 648.07L71.69 647.95L72.68 647.88L73.67 647.88L74.66 647.95L75.65 648.07L76.65 648.22L77.64 648.37L78.63 648.46L79.62 648.51L80.61 648.54L81.6 648.57L82.59 648.64L83.58 648.74L84.57 648.86L85.56 648.97L86.55 649.01L87.55 648.97L88.54 648.89L89.53 648.79L90.52 648.66L91.51 648.46L92.5 648.17L93.49 647.74L94.48 647.21L95.47 646.64L96.46 646.1L97.45 645.68L98.45 645.43L99.44 645.37L100.43 645.48L101.42 645.77L102.41 646.21L103.4 646.78L104.39 647.44L105.38 648.12L106.37 648.73L107.36 649.21L108.35 649.51L109.35 649.65L110.34 649.64L111.33 649.54L112.32 649.43L113.31 649.36L114.3 649.33L115.29 649.35L116.28 649.39L117.27 649.48L118.26 649.59L119.25 649.73L120.25 649.85L121.24 649.93L122.23 649.92L123.22 649.84L124.21 649.7L125.2 649.55L126.19 649.43L127.18 649.38L128.17 649.41L129.16 649.48L130.15 649.55L131.15 649.58L132.14 649.57L133.13 649.53L134.12 649.5L135.11 649.52L136.1 649.6L137.09 649.72L138.08 649.89L139.07 650.08L140.06 650.3L141.05 650.54L142.05 650.78L143.04 651.01L144.03 651.23L145.02 651.46L146.01 651.76L147 652.18L147 657.18L146.01 656.76L145.02 656.46L144.03 656.23L143.04 656.01L142.05 655.78L141.05 655.54L140.06 655.3L139.07 655.08L138.08 654.89L137.09 654.72L136.1 654.6L135.11 654.52L134.12 654.5L133.13 654.53L132.14 654.57L131.15 654.58L130.15 654.55L129.16 654.48L128.17 654.41L127.18 654.38L126.19 654.43L125.2 654.55L124.21 654.7L123.22 654.84L122.23 654.92L121.24 654.93L120.25 654.85L119.25 654.73L118.26 654.59L117.27 654.48L116.28 654.39L115.29 654.35L114.3 654.33L113.31 654.36L112.32 654.43L111.33 654.54L110.34 654.64L109.35 654.65L108.35 654.51L107.36 654.21L106.37 653.73L105.38 653.12L104.39 652.44L103.4 651.78L102.41 651.21L101.42 650.77L100.43 650.48L99.44 650.37L98.45 650.43L97.45 650.68L96.46 651.1L95.47 651.64L94.48 652.21L93.49 652.74L92.5 653.17L91.51 653.46L90.52 653.66L89.53 653.79L88.54 653.89L87.55 653.97L86.55 654.01L85.56 653.97L84.57 653.86L83.58 653.74L82.59 653.64L81.6 653.57L80.61 653.54L79.62 653.51L78.63 653.46L77.64 653.37L76.65 653.22L75.65 653.07L74.66 652.95L73.67 652.88L72.68 652.88L71.69 652.95L70.7 653.07L69.71 653.24L68.72 653.44L67.73 653.69L66.74 653.99L65.75 654.33L64.75 654.67L63.76 654.98L62.77 655.25L61.78 655.46L60.79 655.64L59.8 655.78L58.81 655.89L57.82 655.96L56.83 655.98L55.84 655.93L54.85 655.8L53.85 655.58L52.86 655.26L51.87 654.87L50.88 654.43L49.89 653.97L48.9 653.52Z" fill="#6cbf45" fill-opacity=".3"/>
<path d="M48.9 645.4L49.89 646.72L50.88 647.97L51.87 649.03L52.86 649.84L53.85 650.35L54.85 650.55L55.84 650.41L56.83 650.17L57.82 649.87L58.81 649.55L59.8 649.22L60.79 648.9L61.78 648.61L62.77 648.36L63.76 648.14L64.75 647.96L65.75 647.82L66.74 647.71L67.73 647.64L68.72 647.63L69.71 647.7L70.7 647.86L71.69 648.11L72.68 648.42L73.67 648.78L74.66 649.14L75.65 649.45L76.65 649.71L77.64 649.89L78.63 650.01L79.62 650.06L80.61 650.05L81.6 650L82.59 649.9L83.58 649.74L84.57 649.54L85.56 649.32L86.55 649.08L87.55 648.84L88.54 648.6L89.53 648.33L90.52 647.95L91.51 647.27L92.5 646L93.49 643.81L94.48 640.37L95.47 635.6L96.46 629.82L97.45 623.87L98.45 618.98L99.44 616.36L100.43 616.77L101.42 620.19L102.41 625.82L103.4 632.45L104.39 638.86L105.38 644.22L106.37 648.21L107.36 650.88L108.35 652.53L109.35 653.45L110.34 653.89L111.33 654.02L112.32 653.97L113.31 653.84L114.3 653.69L115.29 653.58L116.28 653.55L117.27 653.59L118.26 653.7L119.25 653.81L120.25 653.91L121.24 653.97L122.23 653.97L123.22 653.92L124.21 653.85L125.2 653.78L126.19 653.68L127.18 653.52L128.17 653.27L129.16 652.91L130.15 652.47L131.15 651.99L132.14 651.52L133.13 651.12L134.12 650.81L135.11 650.57L136.1 650.35L137.09 650.13L138.08 649.9L139.07 649.63L140.06 649.34L141.05 649.04L142.05 648.76L143.04 648.48L144.03 648.23L145.02 647.99L146.01 647.77L147 647.56L147 652.56L146.01 652.77L145.02 652.99L144.03 653.23L143.04 653.48L142.05 653.76L141.05 654.04L140.06 654.34L139.07 654.63L138.08 654.9L137.09 655.13L136.1 655.35L135.11 655.57L134.12 655.81L133.13 656.12L132.14 656.52L131.15 656.99L130.15 657.47L129.16 657.91L128.17 658.27L127.18 658.52L126.19 658.68L125.2 658.78L124.21 658.85L123.22 658.92L122.23 658.97L121.24 658.97L120.25 658.91L119.25 658.81L118.26 658.7L117.27 658.59L116.28 658.55L115.29 658.58L114.3 658.69L113.31 658.84L112.32 658.97L111.33 659.02L110.34 658.89L109.35 658.45L108.35 657.53L107.36 655.88L106.37 653.21L105.38 649.22L104.39 643.86L103.4 637.45L102.41 630.82L101.42 625.19L100.43 621.77L99.44 621.36L98.45 623.98L97.45 628.87L96.46 634.82L95.47 640.6L94.48 645.37L93.49 648.81L92.5 651L91.51 652.27L90.52 652.95L89.53 653.33L88.54 653.6L87.55 653.84L86.55 654.08L85.56 654.32L84.57 654.54L83.58 654.74L82.59 654.9L81.6 655L80.61 655.05L79.62 655.06L78.63 655.01L77.64 654.89L76.65 654.71L75.65 654.45L74.66 654.14L73.67 653.78L72.68 653.42L71.69 653.11L70.7 652.86L69.71 652.7L68.72 652.63L67.73 652.64L66.74 652.71L65.75 652.82L64.75 652.96L63.76 653.14L62.77 653.36L61.78 653.61L60.79 653.9L59.8 654.22L58.81 654.55L57.82 654.87L56.83 655.17L55.84 655.41L54.85 655.55L53.85 655.35L52.86 654.84L51.87 654.03L50.88 652.97L49.89 651.72L48.9 650.4Z" fill="#e6643f" fill-opacity=".3"/>
<path d="M48.9 649.11L49.89 649.45L50.88 649.85L51.87 650.27L52.86 650.68L53.85 651.05L54.85 651.34L55.84 651.54L56.83 651.64L57.82 651.66L58.81 651.6L59.8 651.52L60.79 651.45L61.78 651.4L62.77 651.37L63.76 651.38L64.75 651.39L65.75 651.42L66.74 651.46L67.73 651.53L68.72 651.63L69.71 651.72L70.7 651.78L71.69 651.75L72.68 651.64L73.67 651.45L74.66 651.22L75.65 651.01L76.65 650.83L77.64 650.69L78.63 650.58L79.62 650.48L80.61 650.36L81.6 650.26L82.59 650.2L83.58 650.2L84.57 650.26L85.56 650.38L86.55 650.52L87.55 650.67L88.54 650.81L89.53 650.93L90.52 651.04L91.51 651.15L92.5 651.26L93.49 651.39L94.48 651.53L95.47 651.67L96.46 651.8L97.45 651.9L98.45 651.95L99.44 651.94L100.43 651.87L101.42 651.74L102.41 651.59L103.4 651.43L104.39 651.3L105.38 651.22L106.37 651.22L107.36 651.33L108.35 651.52L109.35 651.79L110.34 652.08L111.33 652.35L112.32 652.56L113.31 652.72L114.3 652.82L115.29 652.87L116.28 652.91L117.27 652.92L118.26 652.9L119.25 652.85L120.25 652.77L121.24 652.66L122.23 652.57L123.22 652.52L124.21 652.52L125.2 652.56L126.19 652.61L127.18 652.66L128.17 652.66L129.16 652.6L130.15 652.5L131.15 652.35L132.14 652.19L133.13 652.06L134.12 651.99L135.11 651.98L136.1 652.05L137.09 652.18L138.08 652.34L139.07 652.49L140.06 652.63L141.05 652.72L142.05 652.75L143.04 652.74L144.03 652.68L145.02 652.57L146.01 652.42L147 652.24" fill="none" stroke="#6690e0" stroke-width=".7" stroke-opacity=".7"/>
<path d="M48.9 651.02L49.89 651.47L50.88 651.93L51.87 652.37L52.86 652.76L53.85 653.08L54.85 653.3L55.84 653.43L56.83 653.48L57.82 653.46L58.81 653.39L59.8 653.28L60.79 653.14L61.78 652.96L62.77 652.75L63.76 652.48L64.75 652.17L65.75 651.83L66.74 651.49L67.73 651.19L68.72 650.94L69.71 650.74L70.7 650.57L71.69 650.45L72.68 650.38L73.67 650.38L74.66 650.45L75.65 650.57L76.65 650.72L77.64 650.87L78.63 650.96L79.62 651.01L80.61 651.04L81.6 651.07L82.59 651.14L83.58 651.24L84.57 651.36L85.56 651.47L86.55 651.51L87.55 651.47L88.54 651.39L89.53 651.29L90.52 651.16L91.51 650.96L92.5 650.67L93.49 650.24L94.48 649.71L95.47 649.14L96.46 648.6L97.45 648.18L98.45 647.93L99.44 647.87L100.43 647.98L101.42 648.27L102.41 648.71L103.4 649.28L104.39 649.94L105.38 650.62L106.37 651.23L107.36 651.71L108.35 652.01L109.35 652.15L110.34 652.14L111.33 652.04L112.32 651.93L113.31 651.86L114.3 651.83L115.29 651.85L116.28 651.89L117.27 651.98L118.26 652.09L119.25 652.23L120.25 652.35L121.24 652.43L122.23 652.42L123.22 652.34L124.21 652.2L125.2 652.05L126.19 651.93L127.18 651.88L128.17 651.91L129.16 651.98L130.15 652.05L131.15 652.08L132.14 652.07L133.13 652.03L134.12 652L135.11 652.02L136.1 652.1L137.09 652.22L138.08 652.39L139.07 652.58L140.06 652.8L141.05 653.04L142.05 653.28L143.04 653.51L144.03 653.73L145.02 653.96L146.01 654.26L147 654.68" fill="none" stroke="#6cbf45" stroke-width=".7" stroke-opacity=".7"/>
<path d="M48.9 647.9L49.89 649.22L50.88 650.47L51.87 651.53L52.86 652.34L53.85 652.85L54.85 653.05L55.84 652.91L56.83 652.67L57.82 652.37L58.81 652.05L59.8 651.72L60.79 651.4L61.78 651.11L62.77 650.86L63.76 650.64L64.75 650.46L65.75 650.32L66.74 650.21L67.73 650.14L68.72 650.13L69.71 650.2L70.7 650.36L71.69 650.61L72.68 650.92L73.67 651.28L74.66 651.64L75.65 651.95L76.65 652.21L77.64 652.39L78.63 652.51L79.62 652.56L80.61 652.55L81.6 652.5L82.59 652.4L83.58 652.24L84.57 652.04L85.56 651.82L86.55 651.58L87.55 651.34L88.54 651.1L89.53 650.83L90.52 650.45L91.51 649.77L92.5 648.5L93.49 646.31L94.48 642.87L95.47 638.1L96.46 632.32L97.45 626.37L98.45 621.48L99.44 618.86L100.43 619.27L101.42 622.69L102.41 628.32L103.4 634.95L104.39 641.36L105.38 646.72L106.37 650.71L107.36 653.38L108.35 655.03L109.35 655.95L110.34 656.39L111.33 656.52L112.32 656.47L113.31 656.34L114.3 656.19L115.29 656.08L116.28 656.05L117.27 656.09L118.26 656.2L119.25 656.31L120.25 656.41L121.24 656.47L122.23 656.47L123.22 656.42L124.21 656.35L125.2 656.28L126.19 656.18L127.18 656.02L128.17 655.77L129.16 655.41L130.15 654.97L131.15 654.49L132.14 654.02L133.13 653.62L134.12 653.31L135.11 653.07L136.1 652.85L137.09 652.63L138.08 652.4L139.07 652.13L140.06 651.84L141.05 651.54L142.05 651.26L143.04 650.98L144.03 650.73L145.02 650.49L146.01 650.27L147 650.06" fill="none" stroke="#e6643f" stroke-width=".7" stroke-opacity=".7"/>
<path d="M81.8 613.4V661" stroke="#222" stroke-width="1.4" stroke-dasharray="4.2 4"/>
<path d="M48.9 613.4V661H147" fill="none" stroke="#444" stroke-width="1"/>
<text x="44.4" y="638.1" text-anchor="end">5</text>
<text x="44.4" y="662.8" text-anchor="end">0</text>
<text x="51" y="674.2" text-anchor="middle">–0.5</text>
<text x="82" y="674.2" text-anchor="middle">0</text>
<text x="146" y="674.2" text-anchor="middle">1.0</text>
<text transform="translate(28 643.5) rotate(-90)" text-anchor="middle">Firing rate (Hz)</text>
<text x="95" y="689" text-anchor="middle">Time (s)</text>
<path d="M122.9 620.75L123.41 620.81L123.93 620.82L124.44 620.78L124.95 620.71L125.46 620.6L125.98 620.48L126.49 620.34L127 620.19L127.51 620.02L128.03 619.83L128.54 619.62L129.05 619.38L129.56 619.16L130.08 618.98L130.59 618.89L131.1 618.89L131.62 618.94L132.13 619.03L132.64 619.09L133.15 619.05L133.67 618.74L134.18 618.13L134.69 617.28L135.2 616.27L135.72 615.2L136.23 614.16L136.74 613.26L137.25 612.58L137.77 612.15L138.28 612.05L138.79 612.39L139.31 613.22L139.82 614.37L140.33 615.69L140.84 617.03L141.36 618.26L141.87 619.23L142.38 619.95L142.89 620.67L143.41 621.34L143.92 621.93L144.43 622.38L144.94 622.65L145.46 622.7L145.97 622.52L146.48 622.17L146.99 621.8L147.51 621.45L148.02 621.15L148.53 620.93L149.05 620.8L149.56 620.74L150.07 620.74L150.58 620.79L151.1 620.86L151.61 620.92L152.12 620.97L152.63 620.98L153.15 620.97L153.66 620.92L154.17 620.84L154.68 620.72L155.2 620.57L155.71 620.39L156.22 620.2L156.74 620.01L157.25 619.83L157.76 619.68L158.27 619.56L158.79 619.47L159.3 619.43L159.81 619.41L160.32 619.43L160.84 619.48L161.35 619.56L161.86 619.67L162.37 619.8L162.89 619.92L163.4 620.02L163.4 626.78L162.89 627.18L162.37 627.61L161.86 628.03L161.35 628.43L160.84 628.8L160.32 629.13L159.81 629.42L159.3 629.67L158.79 629.88L158.27 630.04L157.76 630.16L157.25 630.25L156.74 630.3L156.22 630.32L155.71 630.34L155.2 630.36L154.68 630.4L154.17 630.48L153.66 630.59L153.15 630.74L152.63 630.93L152.12 631.15L151.61 631.39L151.1 631.64L150.58 631.89L150.07 632.12L149.56 632.28L149.05 632.36L148.53 632.36L148.02 632.24L147.51 632.03L146.99 631.75L146.48 631.42L145.97 631.08L145.46 630.68L144.94 630.15L144.43 629.56L143.92 628.93L143.41 628.28L142.89 627.64L142.38 627.01L141.87 626.42L141.36 625.61L140.84 624.6L140.33 623.51L139.82 622.49L139.31 621.65L138.79 621.1L138.28 620.95L137.77 621.12L137.25 621.42L136.74 621.82L136.23 622.26L135.72 622.73L135.2 623.25L134.69 623.81L134.18 624.43L133.67 625.08L133.15 625.73L132.64 626.38L132.13 627.11L131.62 627.86L131.1 628.55L130.59 629.13L130.08 629.56L129.56 629.81L129.05 629.92L128.54 629.9L128.03 629.77L127.51 629.58L127 629.41L126.49 629.25L125.98 629.09L125.46 628.95L124.95 628.81L124.44 628.69L123.93 628.58L123.41 628.5L122.9 628.45Z" fill="#6a6a6a" fill-opacity=".8" stroke="#6a6a6a" stroke-opacity=".3" stroke-width="1.2"/>
<path d="M122.9 624.6L123.41 624.65L123.93 624.7L124.44 624.73L124.95 624.76L125.46 624.78L125.98 624.79L126.49 624.79L127 624.8L127.51 624.8L128.03 624.8L128.54 624.76L129.05 624.65L129.56 624.48L130.08 624.27L130.59 624.01L131.1 623.72L131.62 623.4L132.13 623.07L132.64 622.74L133.15 622.39L133.67 621.91L134.18 621.28L134.69 620.55L135.2 619.76L135.72 618.97L136.23 618.21L136.74 617.54L137.25 617L137.77 616.64L138.28 616.5L138.79 616.74L139.31 617.43L139.82 618.43L140.33 619.6L140.84 620.81L141.36 621.93L141.87 622.82L142.38 623.48L142.89 624.15L143.41 624.81L143.92 625.43L144.43 625.97L144.94 626.4L145.46 626.69L145.97 626.8L146.48 626.79L146.99 626.77L147.51 626.74L148.02 626.7L148.53 626.64L149.05 626.58L149.56 626.51L150.07 626.43L150.58 626.34L151.1 626.25L151.61 626.16L152.12 626.06L152.63 625.96L153.15 625.86L153.66 625.76L154.17 625.66L154.68 625.56L155.2 625.46L155.71 625.36L156.22 625.26L156.74 625.15L157.25 625.04L157.76 624.92L158.27 624.8L158.79 624.68L159.3 624.55L159.81 624.42L160.32 624.28L160.84 624.14L161.35 624L161.86 623.85L162.37 623.7L162.89 623.55L163.4 623.4" fill="none" stroke="#333" stroke-width=".6"/>
<path d="M119.8 625V637.5H139.5" fill="none" stroke="#000" stroke-width="1.5"/>
<text transform="translate(115.6 630.8) rotate(-90)" text-anchor="middle" font-size="7.3">40 μV</text>
<text x="120.5" y="646.1" font-size="7.3">1 ms</text>
<text x="190.5" y="372.5" font-weight="bold" font-size="12.5" style="stroke:none">f</text>
<text x="236.6" y="374.4">Event cell 2</text>
<text x="220.4" y="391.2" fill="#7f7f7f" color="#7f7f7f">NWB6-151-1-HPC</text>
<path d="M286.66 440.16h.4M266.5 440.16h.4M255.32 440.16h.4M306.76 438.87h.4M290.63 437.58h.4M263.99 437.58h.4M244.28 437.58h.4M287.78 437.58h.4M241.93 437.58h.4M269.58 436.3h.4M246.76 436.3h.4M264.39 436.3h.4M232.22 436.3h.4M307.04 435.01h.4M220.52 435.01h.4M307.08 435.01h.4M236.48 433.72h.4M254.27 433.72h.4M225.53 433.72h.4M296.5 433.72h.4M229.9 433.72h.4M253.89 433.72h.4M308.97 432.44h.4M258.58 432.44h.4M290.78 431.15h.4M244.49 431.15h.4M251.28 431.15h.4M250.18 431.15h.4M257.61 431.15h.4M215.17 429.86h.4M277.78 429.86h.4M296.46 429.86h.4M218.45 429.86h.4M272.77 429.86h.4M259.5 429.86h.4M266.91 429.86h.4M298.1 429.86h.4M261.45 429.86h.4M268.74 429.86h.4M270.56 429.86h.4M225.66 428.58h.4M244.11 428.58h.4M249.09 428.58h.4M281.1 428.58h.4M254.2 428.58h.4M277.67 427.29h.4M259.3 427.29h.4M247 427.29h.4M295.35 427.29h.4M279.7 427.29h.4M235.68 426h.4M253.56 426h.4M269.35 424.72h.4M274.52 424.72h.4M260.69 423.43h.4M285.38 423.43h.4M304.81 423.43h.4M235.3 422.14h.4M252.06 422.14h.4M246.68 422.14h.4M249.74 422.14h.4M270.65 422.14h.4M236.64 422.14h.4M259.71 422.14h.4M243.61 422.14h.4M218.64 422.14h.4M246.58 422.14h.4M281.54 422.14h.4M261.45 422.14h.4M281.46 422.14h.4M261.23 422.14h.4M262.76 422.14h.4M240.12 420.86h.4M282.34 420.86h.4M297.06 420.86h.4M221.75 420.86h.4M266.9 420.86h.4M252.5 420.86h.4M250.69 419.57h.4M238 419.57h.4M282.72 419.57h.4M259.39 419.57h.4M242.22 419.57h.4M269.97 419.57h.4M264.52 419.57h.4M216.53 419.57h.4M286.67 419.57h.4M297.39 419.57h.4M308.5 419.57h.4M275.69 419.57h.4M284.68 419.57h.4M261.29 419.57h.4M263.19 419.57h.4M271.76 418.28h.4M235.94 418.28h.4M254.66 418.28h.4M236.86 418.28h.4M310.7 418.28h.4M281.49 418.28h.4M260.96 417h.4M236.92 417h.4M295.25 417h.4M270.89 417h.4M234.84 417h.4M223.45 417h.4M254.39 417h.4M235.43 417h.4M225.19 417h.4M258.74 417h.4M299.86 417h.4M288.33 415.71h.4M225.67 415.71h.4M306.6 415.71h.4M266.33 415.71h.4M220.39 415.71h.4M243.82 415.71h.4M260.05 415.71h.4M308.45 415.71h.4M216.22 414.42h.4M267.31 414.42h.4M274.83 414.42h.4M309.15 414.42h.4M260.92 414.42h.4M263.2 414.42h.4M222.93 414.42h.4M245.62 414.42h.4M282.29 414.42h.4M254.42 414.42h.4M251.38 414.42h.4M257.23 414.42h.4M265.1 414.42h.4M256.77 413.14h.4M286.64 413.14h.4M276.21 413.14h.4M235.05 413.14h.4M219.09 413.14h.4M220.57 413.14h.4M222.05 413.14h.4M246.06 411.85h.4M290.78 411.85h.4M277.09 411.85h.4M222.69 411.85h.4M278.55 410.56h.4M269.9 410.56h.4M231.89 410.56h.4M264.62 410.56h.4M257.01 410.56h.4M226.73 410.56h.4M287.74 410.56h.4M241.08 410.56h.4M246.75 410.56h.4M265.73 409.28h.4M247.45 409.28h.4M284.11 409.28h.4M251.04 409.28h.4M299.88 409.28h.4M259.58 409.28h.4M257.33 409.28h.4M308.77 409.28h.4M259.01 409.28h.4M282.06 407.99h.4M227.54 407.99h.4M310.97 407.99h.4M217.27 407.99h.4M258.34 407.99h.4M256.19 407.99h.4M249.06 407.99h.4M249.39 407.99h.4M256.72 407.99h.4M310.17 407.99h.4M273.11 407.99h.4M232.7 406.7h.4M242.96 406.7h.4M245.16 406.7h.4M252.54 406.7h.4M264.43 406.7h.4M263.14 406.7h.4M254.73 406.7h.4M275.2 406.7h.4M308.7 406.7h.4M250.2 406.7h.4M248.11 406.7h.4M224.53 406.7h.4M235.45 405.42h.4M227.92 405.42h.4M274.65 405.42h.4M237.95 405.42h.4M275.35 405.42h.4M224.86 405.42h.4M234.72 405.42h.4M243.34 404.13h.4M255.42 404.13h.4M288.98 404.13h.4M244.89 404.13h.4M240.91 404.13h.4M245.19 404.13h.4M305.99 402.84h.4M294.85 402.84h.4M253.6 402.84h.4M275.19 402.84h.4M245.95 402.84h.4M224.42 402.84h.4M267.53 402.84h.4M255.05 402.84h.4M224.65 402.84h.4M247.77 402.84h.4" stroke="#6cbf45" stroke-width="2.3" stroke-linecap="round"/>
<path d="M258.93 544.35h.4M301.46 544.35h.4M249.82 543.05h.4M293.29 541.75h.4M260.73 541.75h.4M302.07 541.75h.4M268.82 541.75h.4M258.67 541.75h.4M283.74 541.75h.4M225.28 541.75h.4M299.88 541.75h.4M266.19 540.45h.4M242.92 540.45h.4M261.36 540.45h.4M226.48 540.45h.4M289.72 540.45h.4M266.95 540.45h.4M297.37 540.45h.4M269.66 540.45h.4M227.95 540.45h.4M249.22 539.15h.4M253.76 539.15h.4M283.51 537.85h.4M274.83 537.85h.4M290.31 537.85h.4M284.95 537.85h.4M249.69 536.55h.4M262.89 536.55h.4M253.13 536.55h.4M237.09 536.55h.4M310.06 536.55h.4M218.32 536.55h.4M236.01 536.55h.4M258.13 536.55h.4M255.03 536.55h.4M256.86 535.25h.4M251.46 535.25h.4M281.03 535.25h.4M234.47 535.25h.4M262.18 535.25h.4M240.87 535.25h.4M264.86 533.95h.4M266.04 533.95h.4M311.07 533.95h.4M233.84 532.65h.4M307.23 531.35h.4M305.57 531.35h.4M240.52 531.35h.4M224.03 531.35h.4M227.04 531.35h.4M218.23 531.35h.4M308.19 531.35h.4M278.38 530.05h.4M214.34 530.05h.4M270.45 530.05h.4M255.99 530.05h.4M216.06 530.05h.4M217.79 530.05h.4M266.76 528.75h.4M239.93 528.75h.4M225.92 528.75h.4M292.12 528.75h.4M306.75 527.45h.4M287.09 527.45h.4M289.13 527.45h.4M291.17 527.45h.4M276.58 526.15h.4M271.04 526.15h.4M263.01 526.15h.4M255.15 526.15h.4M286.57 524.85h.4M258.03 524.85h.4M231.18 523.55h.4M268.72 523.55h.4M221.27 522.25h.4M272.03 522.25h.4M230.85 522.25h.4M261.58 522.25h.4M267.27 522.25h.4M235.8 520.95h.4M264.16 520.95h.4M255.62 520.95h.4M287.02 520.95h.4M282.54 520.95h.4M269.07 520.95h.4M235.13 520.95h.4M232.63 520.95h.4M234.53 520.95h.4M251.96 520.95h.4M256.82 519.65h.4M251.9 519.65h.4M266.19 519.65h.4M283.79 519.65h.4M268.47 519.65h.4M217.81 519.65h.4M251.82 519.65h.4M281.7 518.35h.4M218.25 518.35h.4M260.65 518.35h.4M285.27 518.35h.4M251.84 518.35h.4M270.92 517.05h.4M246.64 517.05h.4M292.91 517.05h.4M239.27 517.05h.4M237.78 517.05h.4M258.52 517.05h.4M270.23 517.05h.4M253.73 517.05h.4M255.41 517.05h.4M253.38 517.05h.4M286.23 517.05h.4M215.01 517.05h.4M310.24 517.05h.4M284.28 515.75h.4M232.15 515.75h.4M240.23 515.75h.4M266.77 515.75h.4M286.1 514.45h.4M253 514.45h.4M266.26 513.15h.4M276.11 513.15h.4M259.7 513.15h.4M229.32 513.15h.4M237.79 513.15h.4M277.77 513.15h.4M307.27 511.85h.4M250.11 511.85h.4M222.37 511.85h.4M220.15 511.85h.4M217.16 511.85h.4M290.99 511.85h.4M274.21 511.85h.4M218.72 511.85h.4M262.66 510.55h.4M261.94 510.55h.4M255.7 510.55h.4M242.05 509.25h.4M241.18 509.25h.4M270.46 509.25h.4M263.14 507.95h.4M217.51 507.95h.4M263.7 507.95h.4M309.76 507.95h.4M223.64 507.95h.4M231.87 507.95h.4M230.11 507.95h.4M241.78 507.95h.4M269.94 507.95h.4M231.91 507.95h.4M233.72 507.95h.4M263.64 506.65h.4M290.34 506.65h.4M294.46 506.65h.4M264.43 506.65h.4M244.66 506.65h.4M292.2 506.65h.4M294.06 506.65h.4M231.45 505.35h.4M253.53 505.35h.4M289.59 505.35h.4M216.5 505.35h.4M253.78 504.05h.4M276 504.05h.4M270.23 504.05h.4M238.32 504.05h.4M281.26 504.05h.4M297.19 502.75h.4M275.72 502.75h.4M257.22 502.75h.4M218.03 502.75h.4M286.3 502.75h.4M287.13 501.45h.4M250.74 500.15h.4M255.18 500.15h.4M219.53 500.15h.4M310.96 500.15h.4M236.67 500.15h.4M307.67 500.15h.4M265.06 500.15h.4M285.1 500.15h.4M244.45 500.15h.4M226.07 498.85h.4M275.51 498.85h.4M259.49 498.85h.4M261.45 498.85h.4M218.64 497.55h.4M259.24 497.55h.4M248.7 497.55h.4M285.74 497.55h.4M219.1 497.55h.4M279.56 497.55h.4M242.71 497.55h.4M287.34 497.55h.4M288.95 497.55h.4M268.3 496.25h.4M237.3 496.25h.4M297.96 496.25h.4M290.62 494.95h.4M301.46 494.95h.4M255.68 494.95h.4M306.39 494.95h.4M289.7 494.95h.4M291.14 494.95h.4M254.92 493.65h.4M252.75 493.65h.4M257.63 493.65h.4M229.27 492.35h.4M283.87 492.35h.4M261.88 492.35h.4M231.34 492.35h.4M290.63 491.05h.4M240.36 491.05h.4M265.28 491.05h.4M242.01 491.05h.4M243.66 491.05h.4M230.69 489.75h.4M298.13 489.75h.4M232.43 489.75h.4M230.83 488.45h.4M217.25 488.45h.4M220.85 488.45h.4M306.6 488.45h.4M293.43 488.45h.4M293.23 488.45h.4M302.22 487.15h.4M215.42 487.15h.4M275.62 487.15h.4M277.17 487.15h.4M240.5 487.15h.4M236.84 487.15h.4M221.96 487.15h.4M255.31 487.15h.4M247.23 487.15h.4M238.53 487.15h.4M241.27 485.85h.4M229.8 485.85h.4M251.53 485.85h.4M231.91 485.85h.4M298.77 485.85h.4M295.66 485.85h.4M214.99 484.55h.4M227.07 484.55h.4M220.96 483.25h.4M233.75 483.25h.4M241.13 483.25h.4M303.91 481.95h.4M280.8 481.95h.4M308.14 481.95h.4M254.83 481.95h.4M294.98 480.65h.4M301.85 480.65h.4M235.26 480.65h.4M225.59 480.65h.4M278.24 480.65h.4M280.37 479.35h.4M267.56 479.35h.4M241.61 479.35h.4M252.38 479.35h.4M255.58 478.05h.4M270.88 478.05h.4M236.22 478.05h.4M217.85 478.05h.4M228.44 478.05h.4M272.85 478.05h.4M262.04 476.75h.4M263.74 476.75h.4M214.78 475.45h.4M280.66 474.15h.4M231.44 474.15h.4M265.58 474.15h.4M233.58 474.15h.4M294.79 474.15h.4M273.77 474.15h.4M227.71 472.85h.4M232.46 472.85h.4M305.58 472.85h.4M307.14 472.85h.4M265.25 472.85h.4M284.5 472.85h.4M250.7 472.85h.4M252.03 471.55h.4M300.29 471.55h.4M288.4 470.25h.4M275.25 470.25h.4M251.98 470.25h.4M297.05 470.25h.4M271.13 470.25h.4M272.63 470.25h.4M311 468.95h.4M248.79 468.95h.4M289.54 468.95h.4M271.03 468.95h.4M272.62 468.95h.4M227.75 468.95h.4M225.76 467.65h.4M264.13 467.65h.4M217.59 467.65h.4M233.46 467.65h.4M266.4 467.65h.4M262.6 466.35h.4M299.19 465.05h.4M274.66 465.05h.4M273.44 465.05h.4M279.46 465.05h.4M276.38 463.75h.4M217.22 463.75h.4M301.15 462.45h.4M283.2 462.45h.4M229.51 462.45h.4M230.73 462.45h.4M256.38 462.45h.4M257.88 461.15h.4M267.38 461.15h.4M235.51 459.85h.4M307.15 459.85h.4M244.23 459.85h.4M253.6 459.85h.4M261.21 459.85h.4M261.75 458.55h.4M243.55 458.55h.4M272.59 458.55h.4M284.61 457.25h.4M236.84 457.25h.4M255.97 457.25h.4M274.41 457.25h.4M234.91 457.25h.4M282.18 457.25h.4M282.06 457.25h.4M239.88 457.25h.4M283.91 457.25h.4M257.08 455.95h.4M274.58 455.95h.4M276.84 455.95h.4M268.07 454.65h.4M259.44 454.65h.4M228.67 454.65h.4M296.66 454.65h.4M304.41 454.65h.4M309.37 453.35h.4M301.47 453.35h.4M251.03 453.35h.4M241.22 453.35h.4M305.98 453.35h.4M261.32 452.05h.4M261.62 452.05h.4M297.07 452.05h.4M216.89 452.05h.4M217.15 452.05h.4M255.43 452.05h.4M233.93 450.75h.4M244.79 450.75h.4M260.73 450.75h.4M215.84 450.75h.4M270.25 449.45h.4M228.1 449.45h.4M218.15 449.45h.4M310.17 449.45h.4M260.34 449.45h.4M267.15 448.15h.4M242.11 448.15h.4" stroke="#6690e0" stroke-width="2.3" stroke-linecap="round"/>
<path d="M239.62 592.04h.4M256.46 592.04h.4M240.65 592.04h.4M245.6 592.04h.4M243.64 592.04h.4M256.07 592.04h.4M239.12 590.71h.4M255.97 590.71h.4M306.17 589.38h.4M251.65 589.38h.4M218.32 589.38h.4M267.56 589.38h.4M265.1 589.38h.4M279.87 589.38h.4M309.87 589.38h.4M259.15 589.38h.4M266.86 589.38h.4M260.83 589.38h.4M262.51 589.38h.4M303.63 588.06h.4M248 588.06h.4M246.06 588.06h.4M256.18 588.06h.4M226.6 588.06h.4M228.04 588.06h.4M229.47 588.06h.4M251.21 586.73h.4M220.26 586.73h.4M254.87 586.73h.4M285.5 585.4h.4M308.19 585.4h.4M237.59 585.4h.4M274.98 585.4h.4M244.67 585.4h.4M278.6 584.08h.4M218.25 584.08h.4M243.82 584.08h.4M285.83 584.08h.4M285.96 584.08h.4M215.02 582.75h.4M267.33 582.75h.4M259.5 582.75h.4M281.23 582.75h.4M242.79 580.1h.4M247.57 580.1h.4M269.13 580.1h.4M260.95 580.1h.4M246.12 580.1h.4M218.88 580.1h.4M267.17 580.1h.4M262.64 580.1h.4M262.79 580.1h.4M264.63 580.1h.4M290.89 578.77h.4M266.75 578.77h.4M239.06 578.77h.4M274.14 578.77h.4M261.95 578.77h.4M302.13 578.77h.4M265.51 578.77h.4M304.15 578.77h.4M306.16 578.77h.4M236.33 577.44h.4M304.94 577.44h.4M293.58 577.44h.4M273.13 577.44h.4M286.52 577.44h.4M274.92 577.44h.4M276.7 577.44h.4M269.36 576.12h.4M291.66 576.12h.4M234.63 576.12h.4M229.15 576.12h.4M237.63 576.12h.4M261.19 576.12h.4M265.35 576.12h.4M227.72 576.12h.4M240.54 576.12h.4M232.28 576.12h.4M295.9 576.12h.4M236.36 576.12h.4M254.58 574.79h.4M270.94 574.79h.4M234.3 574.79h.4M234.94 574.79h.4M236.42 574.79h.4M227.45 574.79h.4M228.3 573.46h.4M259.65 573.46h.4M269.6 573.46h.4M255.36 573.46h.4M240.24 573.46h.4M218.37 572.14h.4M257.8 572.14h.4M216.43 572.14h.4M257.93 572.14h.4M260.5 572.14h.4M245.44 572.14h.4M267.47 572.14h.4M262.06 572.14h.4M263.62 572.14h.4M247.11 572.14h.4M248.79 572.14h.4M261.71 570.81h.4M288.15 570.81h.4M309.59 570.81h.4M272.66 570.81h.4M264.19 570.81h.4M288.97 570.81h.4M285.37 569.48h.4M223.01 569.48h.4M227.76 569.48h.4M275.32 569.48h.4M274.07 569.48h.4M276.1 569.48h.4M278.14 569.48h.4M288.34 568.16h.4M264.84 568.16h.4M264.42 568.16h.4M242.95 568.16h.4M237.88 568.16h.4M288.21 568.16h.4M258.3 566.83h.4M273.52 566.83h.4M222.12 566.83h.4M292.15 566.83h.4M285.22 566.83h.4M220.16 565.5h.4M310.94 565.5h.4M275.26 565.5h.4M266.86 565.5h.4M275.06 565.5h.4M237.97 565.5h.4M253.62 565.5h.4M229.63 565.5h.4M245.65 564.18h.4M310.26 564.18h.4M224.38 564.18h.4M306.16 564.18h.4M237.73 564.18h.4M264.12 564.18h.4M289.17 564.18h.4M267.12 564.18h.4M218.24 564.18h.4M266.08 564.18h.4M298.1 564.18h.4M259.3 564.18h.4M307.16 564.18h.4M252.88 564.18h.4M279.2 564.18h.4M215.84 564.18h.4M236.68 564.18h.4M249.53 564.18h.4M215.76 564.18h.4M249.92 564.18h.4M259.74 564.18h.4M240.51 564.18h.4M284.14 564.18h.4M265.25 562.85h.4M277.73 562.85h.4M264.14 561.52h.4M243.64 561.52h.4M271.57 561.52h.4M282.94 561.52h.4M271.09 561.52h.4M291.63 561.52h.4M229.06 560.2h.4M249.54 560.2h.4M224.66 560.2h.4M268.89 560.2h.4M286.28 560.2h.4M236.7 558.87h.4M307.31 558.87h.4M282.71 558.87h.4M308.67 558.87h.4M290.87 558.87h.4M265.18 557.54h.4M261.66 557.54h.4M226.66 557.54h.4M286.14 557.54h.4M233.73 556.22h.4M268.15 556.22h.4M258.66 556.22h.4M295.04 556.22h.4M272.47 556.22h.4M262.32 556.22h.4M281.06 554.89h.4M256.28 554.89h.4M280.91 554.89h.4M235.61 554.89h.4M254.16 554.89h.4M258.08 553.56h.4M263.49 553.56h.4M239.73 553.56h.4M268.81 553.56h.4" stroke="#e6643f" stroke-width="2.3" stroke-linecap="round"/>
<path d="M213.3 402.2L213.3 440.8" stroke="#444" stroke-width="1"/>
<path d="M213.3 402.5L214.8 402.5" stroke="#444" stroke-width="0.8"/>
<path d="M213.3 440.5L214.8 440.5" stroke="#444" stroke-width="0.8"/>
<text x="208.8" y="409.1" text-anchor="end">30</text>
<text x="208.8" y="441.6" text-anchor="end">1</text>
<text x="319" y="427.2" fill="#6cbf45" color="#6cbf45">NB</text>
<path d="M213.3 447.5L213.3 545" stroke="#444" stroke-width="1"/>
<path d="M213.3 447.8L214.8 447.8" stroke="#444" stroke-width="0.8"/>
<path d="M213.3 544.7L214.8 544.7" stroke="#444" stroke-width="0.8"/>
<text x="208.8" y="455.6" text-anchor="end">75</text>
<text x="208.8" y="544.6" text-anchor="end">1</text>
<text x="319" y="501.1" fill="#6690e0" color="#6690e0">SB</text>
<path d="M213.3 552.9L213.3 592.7" stroke="#444" stroke-width="1"/>
<path d="M213.3 553.2L214.8 553.2" stroke="#444" stroke-width="0.8"/>
<path d="M213.3 592.4L214.8 592.4" stroke="#444" stroke-width="0.8"/>
<text x="208.8" y="561.1" text-anchor="end">30</text>
<text x="208.8" y="593.6" text-anchor="end">1</text>
<text x="319" y="576.6" fill="#e6643f" color="#e6643f">HB</text>
<path d="M245.6 403.2V592.7" stroke="#222" stroke-width="1.4" stroke-dasharray="4.2 4"/>
<path d="M213.3 592.7L311.7 592.7" stroke="#555" stroke-width="1"/>
<text transform="translate(193.9 497.5) rotate(-90)" text-anchor="middle">Trial number</text>
<text x="251.9" y="606.8" text-anchor="middle">Boundary</text>
<path d="M213.2 647.65L214.19 647.78L215.19 647.83L216.18 647.77L217.18 647.58L218.17 647.3L219.17 647.03L220.16 646.84L221.16 646.8L222.15 646.91L223.15 647.12L224.14 647.38L225.14 647.61L226.13 647.77L227.13 647.83L228.12 647.8L229.12 647.71L230.11 647.59L231.11 647.44L232.1 647.29L233.1 647.14L234.09 646.99L235.09 646.8L236.08 646.6L237.08 646.39L238.07 646.15L239.07 645.89L240.06 645.59L241.06 645.29L242.05 645.02L243.05 644.8L244.04 644.65L245.04 644.55L246.03 644.45L247.03 644.31L248.02 644.1L249.02 643.83L250.01 643.53L251.01 643.28L252 643.12L253 643.06L253.99 643.13L254.99 643.27L255.98 643.48L256.98 643.72L257.97 643.97L258.97 644.22L259.96 644.46L260.96 644.68L261.95 644.88L262.95 645.05L263.94 645.18L264.94 645.27L265.93 645.35L266.93 645.41L267.92 645.5L268.92 645.63L269.91 645.81L270.91 646.05L271.9 646.33L272.9 646.61L273.89 646.92L274.89 647.21L275.88 647.47L276.88 647.67L277.87 647.79L278.87 647.8L279.86 647.72L280.86 647.57L281.85 647.37L282.85 647.16L283.84 646.97L284.84 646.79L285.83 646.62L286.83 646.43L287.82 646.22L288.82 646L289.81 645.8L290.81 645.67L291.8 645.61L292.8 645.64L293.79 645.73L294.79 645.84L295.78 645.93L296.78 645.98L297.77 646.01L298.77 646.03L299.76 646.08L300.76 646.15L301.75 646.25L302.75 646.37L303.74 646.51L304.74 646.68L305.73 646.9L306.73 647.16L307.72 647.46L308.72 647.75L309.71 648.01L310.71 648.22L311.7 648.4L311.7 654.05L310.71 653.87L309.71 653.66L308.72 653.4L307.72 653.11L306.73 652.81L305.73 652.55L304.74 652.33L303.74 652.16L302.75 652.02L301.75 651.9L300.76 651.8L299.76 651.73L298.77 651.68L297.77 651.66L296.78 651.63L295.78 651.58L294.79 651.49L293.79 651.38L292.8 651.29L291.8 651.26L290.81 651.32L289.81 651.45L288.82 651.65L287.82 651.87L286.83 652.08L285.83 652.27L284.84 652.44L283.84 652.62L282.85 652.81L281.85 653.02L280.86 653.22L279.86 653.37L278.87 653.45L277.87 653.44L276.88 653.32L275.88 653.12L274.89 652.86L273.89 652.57L272.9 652.26L271.9 651.98L270.91 651.7L269.91 651.46L268.92 651.28L267.92 651.15L266.93 651.06L265.93 651L264.94 650.92L263.94 650.83L262.95 650.7L261.95 650.53L260.96 650.33L259.96 650.11L258.97 649.87L257.97 649.62L256.98 649.37L255.98 649.13L254.99 648.92L253.99 648.78L253 648.71L252 648.77L251.01 648.93L250.01 649.18L249.02 649.48L248.02 649.75L247.03 649.96L246.03 650.1L245.04 650.2L244.04 650.3L243.05 650.45L242.05 650.67L241.06 650.94L240.06 651.24L239.07 651.54L238.07 651.8L237.08 652.04L236.08 652.25L235.09 652.45L234.09 652.64L233.1 652.79L232.1 652.94L231.11 653.09L230.11 653.24L229.12 653.36L228.12 653.45L227.13 653.48L226.13 653.42L225.14 653.26L224.14 653.03L223.15 652.77L222.15 652.56L221.16 652.45L220.16 652.49L219.17 652.68L218.17 652.95L217.18 653.23L216.18 653.42L215.19 653.48L214.19 653.43L213.2 653.3Z" fill="#6690e0" fill-opacity=".3"/>
<path d="M213.2 648.64L214.19 648.34L215.19 648.12L216.18 647.99L217.18 647.97L218.17 648.06L219.17 648.25L220.16 648.46L221.16 648.65L222.15 648.75L223.15 648.75L224.14 648.63L225.14 648.44L226.13 648.18L227.13 647.82L228.12 647.21L229.12 646.17L230.11 644.6L231.11 642.78L232.1 641.41L233.1 641.19L234.09 642.32L235.09 644.33L236.08 646.41L237.08 648L238.07 648.94L239.07 649.4L240.06 649.61L241.06 649.73L242.05 649.83L243.05 649.91L244.04 649.99L245.04 650.01L246.03 649.9L247.03 649.52L248.02 648.77L249.02 647.59L250.01 646.09L251.01 644.62L252 643.64L253 643.47L253.99 644.15L254.99 645.34L255.98 646.59L256.98 647.54L257.97 648.07L258.97 648.24L259.96 648.2L260.96 648.08L261.95 647.97L262.95 647.89L263.94 647.86L264.94 647.84L265.93 647.82L266.93 647.82L267.92 647.87L268.92 647.99L269.91 648.2L270.91 648.49L271.9 648.86L272.9 649.26L273.89 649.66L274.89 650.02L275.88 650.34L276.88 650.62L277.87 650.86L278.87 651.04L279.86 651.18L280.86 651.31L281.85 651.41L282.85 651.49L283.84 651.54L284.84 651.51L285.83 651.24L286.83 650.4L287.82 648.66L288.82 646.12L289.81 643.71L290.81 642.72L291.8 643.72L292.8 645.98L293.79 648.27L294.79 649.85L295.78 650.69L296.78 651.05L297.77 651.14L298.77 651.07L299.76 650.92L300.76 650.72L301.75 650.53L302.75 650.32L303.74 650.1L304.74 649.83L305.73 649.52L306.73 649.23L307.72 649.02L308.72 648.97L309.71 649.1L310.71 649.37L311.7 649.71L311.7 655.36L310.71 655.02L309.71 654.75L308.72 654.62L307.72 654.67L306.73 654.88L305.73 655.17L304.74 655.48L303.74 655.75L302.75 655.97L301.75 656.18L300.76 656.37L299.76 656.57L298.77 656.72L297.77 656.79L296.78 656.7L295.78 656.34L294.79 655.5L293.79 653.92L292.8 651.63L291.8 649.37L290.81 648.37L289.81 649.36L288.82 651.77L287.82 654.31L286.83 656.05L285.83 656.89L284.84 657.16L283.84 657.19L282.85 657.14L281.85 657.06L280.86 656.96L279.86 656.83L278.87 656.69L277.87 656.51L276.88 656.27L275.88 655.99L274.89 655.67L273.89 655.31L272.9 654.91L271.9 654.51L270.91 654.14L269.91 653.85L268.92 653.64L267.92 653.52L266.93 653.47L265.93 653.47L264.94 653.49L263.94 653.51L262.95 653.54L261.95 653.62L260.96 653.73L259.96 653.85L258.97 653.89L257.97 653.72L256.98 653.19L255.98 652.24L254.99 650.99L253.99 649.8L253 649.12L252 649.29L251.01 650.27L250.01 651.74L249.02 653.24L248.02 654.42L247.03 655.17L246.03 655.55L245.04 655.66L244.04 655.64L243.05 655.56L242.05 655.48L241.06 655.38L240.06 655.26L239.07 655.05L238.07 654.59L237.08 653.65L236.08 652.06L235.09 649.98L234.09 647.97L233.1 646.84L232.1 647.06L231.11 648.43L230.11 650.25L229.12 651.82L228.12 652.86L227.13 653.47L226.13 653.83L225.14 654.09L224.14 654.28L223.15 654.4L222.15 654.4L221.16 654.3L220.16 654.11L219.17 653.9L218.17 653.71L217.18 653.62L216.18 653.64L215.19 653.77L214.19 653.99L213.2 654.29Z" fill="#6cbf45" fill-opacity=".3"/>
<path d="M213.2 639.29L214.19 639.77L215.19 640.25L216.18 640.73L217.18 641.19L218.17 641.65L219.17 642.07L220.16 642.46L221.16 642.78L222.15 643.05L223.15 643.27L224.14 643.49L225.14 643.74L226.13 644.06L227.13 644.47L228.12 645.01L229.12 645.67L230.11 646.42L231.11 647.2L232.1 647.93L233.1 648.56L234.09 649.08L235.09 649.48L236.08 649.82L237.08 650.15L238.07 650.5L239.07 650.85L240.06 651.17L241.06 651.39L242.05 651.49L243.05 651.4L244.04 650.91L245.04 650L246.03 648.8L247.03 647.41L248.02 645.97L249.02 644.59L250.01 643.36L251.01 642.36L252 641.64L253 641.24L253.99 641.21L254.99 641.56L255.98 642.13L256.98 642.78L257.97 643.27L258.97 643.29L259.96 642.51L260.96 640.76L261.95 637.83L262.95 633.86L263.94 629.48L264.94 625.75L265.93 623.83L266.93 624.45L267.92 627.52L268.92 632.18L269.91 637.23L270.91 641.62L271.9 644.81L272.9 646.81L273.89 647.88L274.89 648.4L275.88 648.65L276.88 648.8L277.87 648.93L278.87 649.04L279.86 649.11L280.86 649.13L281.85 649.04L282.85 648.84L283.84 648.51L284.84 648.08L285.83 647.58L286.83 647.06L287.82 646.57L288.82 646.16L289.81 645.87L290.81 645.72L291.8 645.72L292.8 645.84L293.79 646.05L294.79 646.3L295.78 646.56L296.78 646.77L297.77 646.9L298.77 646.91L299.76 646.79L300.76 646.58L301.75 646.3L302.75 646L303.74 645.7L304.74 645.46L305.73 645.3L306.73 645.25L307.72 645.3L308.72 645.45L309.71 645.66L310.71 645.89L311.7 646.13L311.7 654.04L310.71 653.8L309.71 653.57L308.72 653.36L307.72 653.21L306.73 653.16L305.73 653.21L304.74 653.37L303.74 653.61L302.75 653.91L301.75 654.21L300.76 654.49L299.76 654.7L298.77 654.82L297.77 654.81L296.78 654.68L295.78 654.47L294.79 654.21L293.79 653.96L292.8 653.75L291.8 653.63L290.81 653.63L289.81 653.78L288.82 654.07L287.82 654.48L286.83 654.97L285.83 655.49L284.84 655.99L283.84 656.42L282.85 656.75L281.85 656.95L280.86 657.04L279.86 657.02L278.87 656.95L277.87 656.84L276.88 656.71L275.88 656.56L274.89 656.31L273.89 655.79L272.9 654.72L271.9 652.72L270.91 649.53L269.91 645.14L268.92 640.09L267.92 635.43L266.93 632.36L265.93 631.74L264.94 633.66L263.94 637.39L262.95 641.77L261.95 645.74L260.96 648.67L259.96 650.42L258.97 651.2L257.97 651.18L256.98 650.69L255.98 650.04L254.99 649.47L253.99 649.12L253 649.15L252 649.55L251.01 650.27L250.01 651.27L249.02 652.5L248.02 653.88L247.03 655.32L246.03 656.71L245.04 657.91L244.04 658.82L243.05 659.31L242.05 659.4L241.06 659.3L240.06 659.08L239.07 658.76L238.07 658.41L237.08 658.06L236.08 657.73L235.09 657.39L234.09 656.99L233.1 656.47L232.1 655.84L231.11 655.11L230.11 654.33L229.12 653.58L228.12 652.92L227.13 652.38L226.13 651.97L225.14 651.65L224.14 651.4L223.15 651.18L222.15 650.96L221.16 650.69L220.16 650.37L219.17 649.98L218.17 649.56L217.18 649.1L216.18 648.64L215.19 648.16L214.19 647.68L213.2 647.2Z" fill="#e6643f" fill-opacity=".3"/>
<path d="M213.2 650.48L214.19 650.61L215.19 650.66L216.18 650.59L217.18 650.4L218.17 650.13L219.17 649.86L220.16 649.67L221.16 649.63L222.15 649.73L223.15 649.95L224.14 650.21L225.14 650.44L226.13 650.59L227.13 650.65L228.12 650.63L229.12 650.54L230.11 650.41L231.11 650.26L232.1 650.11L233.1 649.97L234.09 649.81L235.09 649.63L236.08 649.43L237.08 649.21L238.07 648.98L239.07 648.71L240.06 648.42L241.06 648.11L242.05 647.84L243.05 647.62L244.04 647.47L245.04 647.38L246.03 647.28L247.03 647.14L248.02 646.93L249.02 646.65L250.01 646.36L251.01 646.11L252 645.94L253 645.89L253.99 645.95L254.99 646.1L255.98 646.31L256.98 646.54L257.97 646.79L258.97 647.04L259.96 647.28L260.96 647.51L261.95 647.71L262.95 647.87L263.94 648L264.94 648.1L265.93 648.17L266.93 648.24L267.92 648.33L268.92 648.46L269.91 648.64L270.91 648.88L271.9 649.15L272.9 649.44L273.89 649.74L274.89 650.04L275.88 650.3L276.88 650.5L277.87 650.61L278.87 650.63L279.86 650.55L280.86 650.39L281.85 650.19L282.85 649.99L283.84 649.79L284.84 649.62L285.83 649.45L286.83 649.26L287.82 649.05L288.82 648.83L289.81 648.63L290.81 648.49L291.8 648.43L292.8 648.47L293.79 648.56L294.79 648.67L295.78 648.75L296.78 648.81L297.77 648.83L298.77 648.86L299.76 648.9L300.76 648.98L301.75 649.07L302.75 649.19L303.74 649.33L304.74 649.5L305.73 649.72L306.73 649.98L307.72 650.28L308.72 650.57L309.71 650.83L310.71 651.05L311.7 651.22" fill="none" stroke="#6690e0" stroke-width=".7" stroke-opacity=".7"/>
<path d="M213.2 651.46L214.19 651.17L215.19 650.94L216.18 650.81L217.18 650.79L218.17 650.89L219.17 651.07L220.16 651.29L221.16 651.47L222.15 651.58L223.15 651.57L224.14 651.46L225.14 651.26L226.13 651.01L227.13 650.64L228.12 650.04L229.12 648.99L230.11 647.42L231.11 645.61L232.1 644.24L233.1 644.02L234.09 645.15L235.09 647.16L236.08 649.24L237.08 650.82L238.07 651.76L239.07 652.23L240.06 652.44L241.06 652.56L242.05 652.65L243.05 652.74L244.04 652.82L245.04 652.84L246.03 652.73L247.03 652.35L248.02 651.6L249.02 650.41L250.01 648.92L251.01 647.45L252 646.46L253 646.3L253.99 646.97L254.99 648.16L255.98 649.41L256.98 650.37L257.97 650.9L258.97 651.07L259.96 651.03L260.96 650.91L261.95 650.8L262.95 650.72L263.94 650.68L264.94 650.66L265.93 650.64L266.93 650.65L267.92 650.69L268.92 650.81L269.91 651.02L270.91 651.32L271.9 651.68L272.9 652.09L273.89 652.49L274.89 652.85L275.88 653.17L276.88 653.45L277.87 653.68L278.87 653.86L279.86 654.01L280.86 654.13L281.85 654.24L282.85 654.31L283.84 654.36L284.84 654.34L285.83 654.06L286.83 653.23L287.82 651.48L288.82 648.95L289.81 646.53L290.81 645.55L291.8 646.54L292.8 648.81L293.79 651.1L294.79 652.68L295.78 653.52L296.78 653.87L297.77 653.96L298.77 653.9L299.76 653.74L300.76 653.55L301.75 653.35L302.75 653.15L303.74 652.93L304.74 652.66L305.73 652.35L306.73 652.05L307.72 651.85L308.72 651.8L309.71 651.92L310.71 652.2L311.7 652.53" fill="none" stroke="#6cbf45" stroke-width=".7" stroke-opacity=".7"/>
<path d="M213.2 643.24L214.19 643.73L215.19 644.21L216.18 644.68L217.18 645.15L218.17 645.6L219.17 646.03L220.16 646.41L221.16 646.73L222.15 647L223.15 647.23L224.14 647.45L225.14 647.7L226.13 648.01L227.13 648.43L228.12 648.97L229.12 649.63L230.11 650.38L231.11 651.15L232.1 651.88L233.1 652.51L234.09 653.03L235.09 653.44L236.08 653.78L237.08 654.11L238.07 654.45L239.07 654.8L240.06 655.12L241.06 655.35L242.05 655.44L243.05 655.35L244.04 654.86L245.04 653.96L246.03 652.75L247.03 651.37L248.02 649.93L249.02 648.54L250.01 647.32L251.01 646.32L252 645.59L253 645.19L253.99 645.17L254.99 645.51L255.98 646.09L256.98 646.74L257.97 647.22L258.97 647.24L259.96 646.47L260.96 644.72L261.95 641.79L262.95 637.82L263.94 633.43L264.94 629.7L265.93 627.78L266.93 628.4L267.92 631.47L268.92 636.14L269.91 641.19L270.91 645.58L271.9 648.77L272.9 650.76L273.89 651.84L274.89 652.36L275.88 652.61L276.88 652.76L277.87 652.88L278.87 652.99L279.86 653.07L280.86 653.08L281.85 653L282.85 652.79L283.84 652.46L284.84 652.04L285.83 651.54L286.83 651.02L287.82 650.53L288.82 650.12L289.81 649.82L290.81 649.67L291.8 649.67L292.8 649.8L293.79 650.01L294.79 650.26L295.78 650.52L296.78 650.73L297.77 650.85L298.77 650.86L299.76 650.75L300.76 650.54L301.75 650.26L302.75 649.95L303.74 649.66L304.74 649.42L305.73 649.26L306.73 649.21L307.72 649.26L308.72 649.4L309.71 649.61L310.71 649.85L311.7 650.09" fill="none" stroke="#e6643f" stroke-width=".7" stroke-opacity=".7"/>
<path d="M245.6 614.6V662.1" stroke="#222" stroke-width="1.4" stroke-dasharray="4.2 4"/>
<path d="M213.2 614.6V662.1H311.7" fill="none" stroke="#444" stroke-width="1"/>
<text x="208.7" y="641.3" text-anchor="end">2</text>
<text x="208.7" y="663.9" text-anchor="end">0</text>
<text x="215" y="674.6" text-anchor="middle">–0.5</text>
<text x="246.2" y="674.6" text-anchor="middle">0</text>
<text x="310.5" y="674.6" text-anchor="middle">1.0</text>
<text transform="translate(193.9 645) rotate(-90)" text-anchor="middle">Firing rate (Hz)</text>
<text x="259.8" y="689.5" text-anchor="middle">Time (s)</text>
<path d="M290.9 622.74L291.42 622.69L291.93 622.61L292.45 622.49L292.96 622.35L293.48 622.19L293.99 622L294.51 621.79L295.02 621.56L295.54 621.28L296.05 620.98L296.57 620.65L297.08 620.31L297.6 619.96L298.11 619.61L298.63 619.27L299.14 618.94L299.66 618.5L300.17 617.92L300.69 617.21L301.2 616.41L301.72 615.52L302.23 614.59L302.75 613.64L303.26 612.72L303.78 611.87L304.29 611.12L304.81 610.53L305.33 610.12L305.84 609.92L306.36 609.95L306.87 610.38L307.39 611.35L307.9 612.71L308.42 614.35L308.93 616.12L309.45 617.9L309.96 619.57L310.48 621.01L310.99 622.11L311.51 623L312.02 623.89L312.54 624.77L313.05 625.62L313.57 626.45L314.08 627.23L314.6 627.96L315.11 628.63L315.63 629.2L316.14 629.66L316.66 629.99L317.17 630.15L317.69 630.16L318.21 630.04L318.72 629.81L319.24 629.49L319.75 629.09L320.27 628.62L320.78 628.1L321.3 627.55L321.81 626.99L322.33 626.42L322.84 625.86L323.36 625.31L323.87 624.78L324.39 624.27L324.9 623.74L325.42 623.2L325.93 622.67L326.45 622.16L326.96 621.68L327.48 621.25L327.99 620.86L328.51 620.52L329.02 620.21L329.54 619.92L330.05 619.65L330.57 619.38L331.08 619.09L331.6 618.79L331.6 624.01L331.08 624.45L330.57 624.92L330.05 625.39L329.54 625.87L329.02 626.34L328.51 626.79L327.99 627.2L327.48 627.57L326.96 627.9L326.45 628.19L325.93 628.44L325.42 628.67L324.9 628.91L324.39 629.15L323.87 629.42L323.36 629.75L322.84 630.14L322.33 630.58L321.81 631.06L321.3 631.55L320.78 632.03L320.27 632.49L319.75 632.92L319.24 633.31L318.72 633.66L318.21 633.94L317.69 634.14L317.17 634.24L316.66 634.21L316.14 633.99L315.63 633.6L315.11 633.07L314.6 632.4L314.08 631.61L313.57 630.72L313.05 629.77L312.54 628.78L312.02 627.78L311.51 626.8L310.99 625.86L310.48 624.77L309.96 623.39L309.45 621.86L308.93 620.28L308.42 618.79L307.9 617.49L307.39 616.5L306.87 615.92L306.36 615.85L305.84 616.13L305.33 616.56L304.81 617.11L304.29 617.74L303.78 618.44L303.26 619.19L302.75 619.98L302.23 620.79L301.72 621.6L301.2 622.4L300.69 623.16L300.17 623.85L299.66 624.44L299.14 624.87L298.63 625.18L298.11 625.45L297.6 625.71L297.08 625.94L296.57 626.17L296.05 626.38L295.54 626.59L295.02 626.8L294.51 627L293.99 627.19L293.48 627.35L292.96 627.49L292.45 627.59L291.93 627.65L291.42 627.67L290.9 627.66Z" fill="#6a6a6a" fill-opacity=".8" stroke="#6a6a6a" stroke-opacity=".3" stroke-width="1.2"/>
<path d="M290.9 625.2L291.42 625.18L291.93 625.13L292.45 625.04L292.96 624.92L293.48 624.77L293.99 624.6L294.51 624.4L295.02 624.18L295.54 623.94L296.05 623.68L296.57 623.41L297.08 623.13L297.6 622.83L298.11 622.53L298.63 622.22L299.14 621.91L299.66 621.47L300.17 620.89L300.69 620.19L301.2 619.4L301.72 618.56L302.23 617.69L302.75 616.81L303.26 615.96L303.78 615.15L304.29 614.43L304.81 613.82L305.33 613.34L305.84 613.02L306.36 612.9L306.87 613.15L307.39 613.92L307.9 615.1L308.42 616.57L308.93 618.2L309.45 619.88L309.96 621.48L310.48 622.89L310.99 623.99L311.51 624.9L312.02 625.83L312.54 626.77L313.05 627.69L313.57 628.58L314.08 629.42L314.6 630.18L315.11 630.85L315.63 631.4L316.14 631.83L316.66 632.1L317.17 632.2L317.69 632.15L318.21 631.99L318.72 631.73L319.24 631.4L319.75 631L320.27 630.55L320.78 630.06L321.3 629.55L321.81 629.02L322.33 628.5L322.84 628L323.36 627.53L323.87 627.1L324.39 626.71L324.9 626.32L325.42 625.94L325.93 625.56L326.45 625.17L326.96 624.79L327.48 624.41L327.99 624.03L328.51 623.65L329.02 623.27L329.54 622.9L330.05 622.52L330.57 622.15L331.08 621.77L331.6 621.4" fill="none" stroke="#333" stroke-width=".6"/>
<path d="M288 625.2V637.5H307.7" fill="none" stroke="#000" stroke-width="1.5"/>
<text transform="translate(283.3 628.4) rotate(-90)" text-anchor="middle" font-size="7.3">30 μV</text>
<text x="291.4" y="646.3" font-size="7.3">1 ms</text>
<text x="353" y="22" font-weight="bold" font-size="12.5" style="stroke:none">c</text>
<text x="439.6" y="38.6" text-anchor="middle">Boundary aligned</text>
<g clip-path="url(#hc1)"><g filter="url(#hblur)"><rect x="386.5" y="53.2" width="99.7" height="44.7" fill="#465ffb"/><rect x="386.5" y="52.14" width="99.7" height="1.11" fill="url(#f85)"/><rect x="386.5" y="53.2" width="99.7" height="1.11" fill="url(#g1)"/><rect x="386.5" y="54.26" width="99.7" height="1.11" fill="url(#f34)"/><rect x="386.5" y="55.33" width="99.7" height="1.11" fill="url(#f70)"/><rect x="386.5" y="56.39" width="99.7" height="1.11" fill="url(#f89)"/><rect x="386.5" y="57.46" width="99.7" height="1.11" fill="url(#g84)"/><rect x="386.5" y="58.52" width="99.7" height="1.11" fill="url(#g85)"/><rect x="386.5" y="59.59" width="99.7" height="1.11" fill="url(#g33)"/><rect x="386.5" y="60.65" width="99.7" height="1.11" fill="url(#f46)"/><rect x="386.5" y="61.71" width="99.7" height="1.11" fill="url(#g79)"/><rect x="386.5" y="62.78" width="99.7" height="1.11" fill="url(#g5)"/><rect x="386.5" y="63.84" width="99.7" height="1.11" fill="url(#g39)"/><rect x="386.5" y="64.91" width="99.7" height="1.11" fill="url(#g62)"/><rect x="386.5" y="65.97" width="99.7" height="1.11" fill="url(#g32)"/><rect x="386.5" y="67.04" width="99.7" height="1.11" fill="url(#g85)"/><rect x="386.5" y="68.1" width="99.7" height="1.11" fill="url(#g30)"/><rect x="386.5" y="69.16" width="99.7" height="1.11" fill="url(#g12)"/><rect x="386.5" y="70.23" width="99.7" height="1.11" fill="url(#f50)"/><rect x="386.5" y="71.29" width="99.7" height="1.11" fill="url(#g74)"/><rect x="386.5" y="72.36" width="99.7" height="1.11" fill="url(#f55)"/><rect x="386.5" y="73.42" width="99.7" height="1.11" fill="url(#f85)"/><rect x="386.5" y="74.49" width="99.7" height="1.11" fill="url(#f47)"/><rect x="386.5" y="75.55" width="99.7" height="1.11" fill="url(#g1)"/><rect x="386.5" y="76.61" width="99.7" height="1.11" fill="url(#g89)"/><rect x="386.5" y="77.68" width="99.7" height="1.11" fill="url(#f28)"/><rect x="386.5" y="78.74" width="99.7" height="1.11" fill="url(#f68)"/><rect x="386.5" y="79.81" width="99.7" height="1.11" fill="url(#g24)"/><rect x="386.5" y="80.87" width="99.7" height="1.11" fill="url(#g85)"/><rect x="386.5" y="81.94" width="99.7" height="1.11" fill="url(#g71)"/><rect x="386.5" y="83" width="99.7" height="1.11" fill="url(#f44)"/><rect x="386.5" y="84.06" width="99.7" height="1.11" fill="url(#f48)"/><rect x="386.5" y="85.13" width="99.7" height="1.11" fill="url(#f88)"/><rect x="386.5" y="86.19" width="99.7" height="1.11" fill="url(#f40)"/><rect x="386.5" y="87.26" width="99.7" height="1.11" fill="url(#f55)"/><rect x="386.5" y="88.32" width="99.7" height="1.11" fill="url(#g26)"/><rect x="386.5" y="89.39" width="99.7" height="1.11" fill="url(#g52)"/><rect x="386.5" y="90.45" width="99.7" height="1.11" fill="url(#g86)"/><rect x="386.5" y="91.51" width="99.7" height="1.11" fill="url(#f45)"/><rect x="386.5" y="92.58" width="99.7" height="1.11" fill="url(#f35)"/><rect x="386.5" y="93.64" width="99.7" height="1.11" fill="url(#f52)"/><rect x="386.5" y="94.71" width="99.7" height="1.11" fill="url(#f47)"/><rect x="386.5" y="95.77" width="99.7" height="1.11" fill="url(#g30)"/><rect x="386.5" y="96.84" width="99.7" height="1.11" fill="url(#g44)"/><rect x="386.5" y="97.9" width="99.7" height="1.11" fill="url(#g0)"/></g></g>
<path d="M419.2 53.2V97.9" stroke="#000" stroke-width="1.2" stroke-dasharray="2 2"/>
<rect x="386.5" y="53.2" width="99.7" height="44.7" fill="none" stroke="#111" stroke-width=".9"/>
<text x="381.5" y="56.8" text-anchor="end">42</text>
<text x="381.5" y="101.5" text-anchor="end">1</text>
<text x="491.2" y="74.3" fill="#6cbf45" color="#6cbf45">NB</text>
<path d="M491.2 90.5H496.7" stroke="#222" stroke-width="1.1"/>
<path d="M491.2 96.7H496.7" stroke="#777" stroke-width="1" stroke-dasharray="1 .9"/>
<path d="M487.7 90.5l4.2 -2.4v4.8z"/>
<path d="M487.7 96.7l4.2 -2.4v4.8z"/>
<text x="388.8" y="111.3" text-anchor="middle">–0.5</text>
<text x="419.5" y="111.3" text-anchor="middle">0</text>
<text x="486.2" y="111.3" text-anchor="middle">1.0</text>
<g clip-path="url(#hc2)"><g filter="url(#hblur)"><rect x="386.5" y="122.6" width="99.7" height="45" fill="#465ffb"/><rect x="386.5" y="121.53" width="99.7" height="1.12" fill="url(#g40)"/><rect x="386.5" y="122.6" width="99.7" height="1.12" fill="url(#g8)"/><rect x="386.5" y="123.67" width="99.7" height="1.12" fill="url(#g22)"/><rect x="386.5" y="124.74" width="99.7" height="1.12" fill="url(#g23)"/><rect x="386.5" y="125.81" width="99.7" height="1.12" fill="url(#f57)"/><rect x="386.5" y="126.89" width="99.7" height="1.12" fill="url(#f70)"/><rect x="386.5" y="127.96" width="99.7" height="1.12" fill="url(#g3)"/><rect x="386.5" y="129.03" width="99.7" height="1.12" fill="url(#f16)"/><rect x="386.5" y="130.1" width="99.7" height="1.12" fill="url(#g47)"/><rect x="386.5" y="131.17" width="99.7" height="1.12" fill="url(#g10)"/><rect x="386.5" y="132.24" width="99.7" height="1.12" fill="url(#f79)"/><rect x="386.5" y="133.31" width="99.7" height="1.12" fill="url(#g53)"/><rect x="386.5" y="134.39" width="99.7" height="1.12" fill="url(#f64)"/><rect x="386.5" y="135.46" width="99.7" height="1.12" fill="url(#f88)"/><rect x="386.5" y="136.53" width="99.7" height="1.12" fill="url(#f76)"/><rect x="386.5" y="137.6" width="99.7" height="1.12" fill="url(#g80)"/><rect x="386.5" y="138.67" width="99.7" height="1.12" fill="url(#g62)"/><rect x="386.5" y="139.74" width="99.7" height="1.12" fill="url(#g49)"/><rect x="386.5" y="140.81" width="99.7" height="1.12" fill="url(#g42)"/><rect x="386.5" y="141.89" width="99.7" height="1.12" fill="url(#g36)"/><rect x="386.5" y="142.96" width="99.7" height="1.12" fill="url(#g86)"/><rect x="386.5" y="144.03" width="99.7" height="1.12" fill="url(#g40)"/><rect x="386.5" y="145.1" width="99.7" height="1.12" fill="url(#g27)"/><rect x="386.5" y="146.17" width="99.7" height="1.12" fill="url(#g86)"/><rect x="386.5" y="147.24" width="99.7" height="1.12" fill="url(#g7)"/><rect x="386.5" y="148.31" width="99.7" height="1.12" fill="url(#g40)"/><rect x="386.5" y="149.39" width="99.7" height="1.12" fill="url(#g66)"/><rect x="386.5" y="150.46" width="99.7" height="1.12" fill="url(#f44)"/><rect x="386.5" y="151.53" width="99.7" height="1.12" fill="url(#f67)"/><rect x="386.5" y="152.6" width="99.7" height="1.12" fill="url(#g28)"/><rect x="386.5" y="153.67" width="99.7" height="1.12" fill="url(#f26)"/><rect x="386.5" y="154.74" width="99.7" height="1.12" fill="url(#f58)"/><rect x="386.5" y="155.81" width="99.7" height="1.12" fill="url(#f56)"/><rect x="386.5" y="156.89" width="99.7" height="1.12" fill="url(#f85)"/><rect x="386.5" y="157.96" width="99.7" height="1.12" fill="url(#f57)"/><rect x="386.5" y="159.03" width="99.7" height="1.12" fill="url(#g49)"/><rect x="386.5" y="160.1" width="99.7" height="1.12" fill="url(#f62)"/><rect x="386.5" y="161.17" width="99.7" height="1.12" fill="url(#g51)"/><rect x="386.5" y="162.24" width="99.7" height="1.12" fill="url(#g29)"/><rect x="386.5" y="163.31" width="99.7" height="1.12" fill="url(#f75)"/><rect x="386.5" y="164.39" width="99.7" height="1.12" fill="url(#g73)"/><rect x="386.5" y="165.46" width="99.7" height="1.12" fill="url(#g67)"/><rect x="386.5" y="166.53" width="99.7" height="1.12" fill="url(#g89)"/><rect x="386.5" y="167.6" width="99.7" height="1.12" fill="url(#g5)"/><rect x="423.9" y="121.53" width="14.37" height="1.12" fill="url(#s1)"/><rect x="423.29" y="122.6" width="13.53" height="1.12" fill="url(#s0)"/><rect x="421.82" y="123.67" width="15.36" height="1.12" fill="url(#s1)"/><rect x="421.3" y="124.74" width="17.87" height="1.12" fill="url(#s0)"/><rect x="422.79" y="125.81" width="16.97" height="1.12" fill="url(#s2)"/><rect x="422.47" y="126.89" width="15.28" height="1.12" fill="url(#s0)"/><rect x="424.41" y="127.96" width="13.62" height="1.12" fill="url(#s2)"/><rect x="426.49" y="129.03" width="13.81" height="1.12" fill="url(#s1)"/><rect x="422.79" y="130.1" width="12.89" height="1.12" fill="url(#s0)"/><rect x="420.26" y="131.17" width="17.8" height="1.12" fill="url(#s0)"/><rect x="424.69" y="132.24" width="13.4" height="1.12" fill="url(#s0)"/><rect x="422.61" y="133.31" width="17.17" height="1.12" fill="url(#s0)"/><rect x="424.63" y="134.39" width="15.47" height="1.12" fill="url(#s1)"/><rect x="422.2" y="135.46" width="16.68" height="1.12" fill="url(#s0)"/><rect x="421.23" y="136.53" width="15.43" height="1.12" fill="url(#s0)"/><rect x="423.42" y="137.6" width="17.99" height="1.12" fill="url(#s0)"/><rect x="422.1" y="138.67" width="15.61" height="1.12" fill="url(#s2)"/><rect x="423.19" y="139.74" width="16.06" height="1.12" fill="url(#s0)"/><rect x="420.11" y="140.81" width="17.25" height="1.12" fill="url(#s0)"/><rect x="423.21" y="141.89" width="13.38" height="1.12" fill="url(#s0)"/><rect x="421.14" y="142.96" width="16.54" height="1.12" fill="url(#s2)"/><rect x="421.74" y="144.03" width="13.68" height="1.12" fill="url(#s0)"/><rect x="420.99" y="145.1" width="17.89" height="1.12" fill="url(#s2)"/><rect x="424.42" y="146.17" width="15.59" height="1.12" fill="url(#s2)"/><rect x="424.46" y="147.24" width="15.75" height="1.12" fill="url(#s1)"/><rect x="423.71" y="148.31" width="14.19" height="1.12" fill="url(#s1)"/><rect x="423.83" y="149.39" width="14.27" height="1.12" fill="url(#s0)"/><rect x="420.56" y="150.46" width="16.14" height="1.12" fill="url(#s1)"/><rect x="424.74" y="151.53" width="13.47" height="1.12" fill="url(#s1)"/><rect x="420.22" y="152.6" width="16.21" height="1.12" fill="url(#s2)"/><rect x="425.06" y="153.67" width="13.12" height="1.12" fill="url(#s1)"/><rect x="420.1" y="154.74" width="17.05" height="1.12" fill="url(#s0)"/><rect x="423.3" y="155.81" width="13.64" height="1.12" fill="url(#s0)"/><rect x="423.43" y="156.89" width="13.19" height="1.12" fill="url(#s0)"/><rect x="424.28" y="157.96" width="13.15" height="1.12" fill="url(#s1)"/><rect x="425.45" y="159.03" width="13.78" height="1.12" fill="url(#s0)"/><rect x="425.23" y="160.1" width="14.42" height="1.12" fill="url(#s0)"/><rect x="424.05" y="161.17" width="15.45" height="1.12" fill="url(#s1)"/><rect x="421.63" y="162.24" width="13.5" height="1.12" fill="url(#s0)"/><rect x="423.21" y="163.31" width="13.95" height="1.12" fill="url(#s2)"/><rect x="422.85" y="164.39" width="16.45" height="1.12" fill="url(#s1)"/><rect x="422.58" y="165.46" width="14.19" height="1.12" fill="url(#s0)"/><rect x="421.74" y="166.53" width="15.11" height="1.12" fill="url(#s0)"/><rect x="423.22" y="167.6" width="13.57" height="1.12" fill="url(#s1)"/></g></g>
<path d="M419.2 122.6V167.6" stroke="#000" stroke-width="1.2" stroke-dasharray="2 2"/>
<rect x="386.5" y="122.6" width="99.7" height="45" fill="none" stroke="#111" stroke-width=".9"/>
<text x="381.5" y="126.2" text-anchor="end">42</text>
<text x="381.5" y="171.2" text-anchor="end">1</text>
<text x="491.2" y="148.8" fill="#6690e0" color="#6690e0">SB</text>
<path d="M491.2 159.9H496.7" stroke="#222" stroke-width="1.1"/>
<path d="M491.2 165.5H496.7" stroke="#777" stroke-width="1" stroke-dasharray="1 .9"/>
<path d="M487.7 159.9l4.2 -2.4v4.8z"/>
<path d="M487.7 165.5l4.2 -2.4v4.8z"/>
<text x="388.8" y="182" text-anchor="middle">–0.5</text>
<text x="419.5" y="182" text-anchor="middle">0</text>
<text x="486.2" y="182" text-anchor="middle">1.0</text>
<g clip-path="url(#hc3)"><g filter="url(#hblur)"><rect x="386.5" y="194" width="99.7" height="45" fill="#465ffb"/><rect x="386.5" y="192.93" width="99.7" height="1.12" fill="url(#f6)"/><rect x="386.5" y="194" width="99.7" height="1.12" fill="url(#f39)"/><rect x="386.5" y="195.07" width="99.7" height="1.12" fill="url(#f38)"/><rect x="386.5" y="196.14" width="99.7" height="1.12" fill="url(#f49)"/><rect x="386.5" y="197.21" width="99.7" height="1.12" fill="url(#f24)"/><rect x="386.5" y="198.29" width="99.7" height="1.12" fill="url(#g67)"/><rect x="386.5" y="199.36" width="99.7" height="1.12" fill="url(#g23)"/><rect x="386.5" y="200.43" width="99.7" height="1.12" fill="url(#g50)"/><rect x="386.5" y="201.5" width="99.7" height="1.12" fill="url(#f36)"/><rect x="386.5" y="202.57" width="99.7" height="1.12" fill="url(#f78)"/><rect x="386.5" y="203.64" width="99.7" height="1.12" fill="url(#g2)"/><rect x="386.5" y="204.71" width="99.7" height="1.12" fill="url(#f82)"/><rect x="386.5" y="205.79" width="99.7" height="1.12" fill="url(#g33)"/><rect x="386.5" y="206.86" width="99.7" height="1.12" fill="url(#g85)"/><rect x="386.5" y="207.93" width="99.7" height="1.12" fill="url(#g13)"/><rect x="386.5" y="209" width="99.7" height="1.12" fill="url(#f77)"/><rect x="386.5" y="210.07" width="99.7" height="1.12" fill="url(#g71)"/><rect x="386.5" y="211.14" width="99.7" height="1.12" fill="url(#g37)"/><rect x="386.5" y="212.21" width="99.7" height="1.12" fill="url(#f64)"/><rect x="386.5" y="213.29" width="99.7" height="1.12" fill="url(#f20)"/><rect x="386.5" y="214.36" width="99.7" height="1.12" fill="url(#f74)"/><rect x="386.5" y="215.43" width="99.7" height="1.12" fill="url(#g73)"/><rect x="386.5" y="216.5" width="99.7" height="1.12" fill="url(#f14)"/><rect x="386.5" y="217.57" width="99.7" height="1.12" fill="url(#f0)"/><rect x="386.5" y="218.64" width="99.7" height="1.12" fill="url(#f74)"/><rect x="386.5" y="219.71" width="99.7" height="1.12" fill="url(#f60)"/><rect x="386.5" y="220.79" width="99.7" height="1.12" fill="url(#f5)"/><rect x="386.5" y="221.86" width="99.7" height="1.12" fill="url(#f63)"/><rect x="386.5" y="222.93" width="99.7" height="1.12" fill="url(#f2)"/><rect x="386.5" y="224" width="99.7" height="1.12" fill="url(#f20)"/><rect x="386.5" y="225.07" width="99.7" height="1.12" fill="url(#f34)"/><rect x="386.5" y="226.14" width="99.7" height="1.12" fill="url(#f47)"/><rect x="386.5" y="227.21" width="99.7" height="1.12" fill="url(#f7)"/><rect x="386.5" y="228.29" width="99.7" height="1.12" fill="url(#g6)"/><rect x="386.5" y="229.36" width="99.7" height="1.12" fill="url(#f55)"/><rect x="386.5" y="230.43" width="99.7" height="1.12" fill="url(#f26)"/><rect x="386.5" y="231.5" width="99.7" height="1.12" fill="url(#f75)"/><rect x="386.5" y="232.57" width="99.7" height="1.12" fill="url(#g17)"/><rect x="386.5" y="233.64" width="99.7" height="1.12" fill="url(#g44)"/><rect x="386.5" y="234.71" width="99.7" height="1.12" fill="url(#g67)"/><rect x="386.5" y="235.79" width="99.7" height="1.12" fill="url(#f39)"/><rect x="386.5" y="236.86" width="99.7" height="1.12" fill="url(#g25)"/><rect x="386.5" y="237.93" width="99.7" height="1.12" fill="url(#g44)"/><rect x="386.5" y="239" width="99.7" height="1.12" fill="url(#f44)"/><rect x="419.71" y="192.93" width="13.25" height="1.12" fill="url(#s0)"/><rect x="422.3" y="194" width="17.55" height="1.12" fill="url(#s1)"/><rect x="422.03" y="195.07" width="16.59" height="1.12" fill="url(#s2)"/><rect x="425.51" y="196.14" width="15.48" height="1.12" fill="url(#s0)"/><rect x="422.61" y="197.21" width="14.06" height="1.12" fill="url(#s1)"/><rect x="423.26" y="198.29" width="17.95" height="1.12" fill="url(#s1)"/><rect x="421.9" y="199.36" width="17.66" height="1.12" fill="url(#s1)"/><rect x="424.59" y="200.43" width="16.5" height="1.12" fill="url(#s1)"/><rect x="420.85" y="201.5" width="18" height="1.12" fill="url(#s1)"/><rect x="423.1" y="202.57" width="14.82" height="1.12" fill="url(#s1)"/><rect x="424.12" y="203.64" width="16.43" height="1.12" fill="url(#s1)"/><rect x="424.25" y="204.71" width="15.58" height="1.12" fill="url(#s0)"/><rect x="424.93" y="205.79" width="15.59" height="1.12" fill="url(#s0)"/><rect x="427.15" y="206.86" width="12.81" height="1.12" fill="url(#s0)"/><rect x="421.73" y="207.93" width="16.8" height="1.12" fill="url(#s2)"/><rect x="425.77" y="209" width="13.59" height="1.12" fill="url(#s1)"/><rect x="424.6" y="210.07" width="16" height="1.12" fill="url(#s1)"/><rect x="425.59" y="211.14" width="17.43" height="1.12" fill="url(#s0)"/><rect x="424.7" y="212.21" width="14.4" height="1.12" fill="url(#s1)"/><rect x="420.9" y="213.29" width="16.84" height="1.12" fill="url(#s1)"/><rect x="421.46" y="214.36" width="17.03" height="1.12" fill="url(#s2)"/><rect x="423.96" y="215.43" width="17.27" height="1.12" fill="url(#s1)"/><rect x="422.6" y="216.5" width="17.39" height="1.12" fill="url(#s0)"/><rect x="424.41" y="217.57" width="16.15" height="1.12" fill="url(#s1)"/><rect x="423.53" y="218.64" width="13.79" height="1.12" fill="url(#s0)"/><rect x="422.89" y="219.71" width="14.33" height="1.12" fill="url(#s1)"/><rect x="421.83" y="220.79" width="16.79" height="1.12" fill="url(#s0)"/><rect x="424.69" y="221.86" width="14.86" height="1.12" fill="url(#s2)"/><rect x="423.93" y="222.93" width="14.4" height="1.12" fill="url(#s1)"/><rect x="426.1" y="224" width="13.94" height="1.12" fill="url(#s0)"/><rect x="419.64" y="225.07" width="17.96" height="1.12" fill="url(#s2)"/><rect x="424.31" y="226.14" width="15.31" height="1.12" fill="url(#s2)"/><rect x="421.03" y="227.21" width="16.87" height="1.12" fill="url(#s1)"/><rect x="422.47" y="228.29" width="16.55" height="1.12" fill="url(#s0)"/><rect x="421.65" y="229.36" width="15.63" height="1.12" fill="url(#s1)"/><rect x="423.24" y="230.43" width="13.14" height="1.12" fill="url(#s2)"/><rect x="423.61" y="231.5" width="14.43" height="1.12" fill="url(#s1)"/><rect x="425.29" y="232.57" width="15.15" height="1.12" fill="url(#s0)"/><rect x="421.71" y="233.64" width="16.9" height="1.12" fill="url(#s1)"/><rect x="423.87" y="234.71" width="16" height="1.12" fill="url(#s1)"/><rect x="426.29" y="235.79" width="14.05" height="1.12" fill="url(#s2)"/><rect x="422.38" y="236.86" width="15.35" height="1.12" fill="url(#s0)"/><rect x="424" y="237.93" width="15.01" height="1.12" fill="url(#s2)"/><rect x="422.9" y="239" width="15.33" height="1.12" fill="url(#s0)"/></g></g>
<path d="M419.2 194V239" stroke="#000" stroke-width="1.2" stroke-dasharray="2 2"/>
<rect x="386.5" y="194" width="99.7" height="45" fill="none" stroke="#111" stroke-width=".9"/>
<text x="381.5" y="197.6" text-anchor="end">42</text>
<text x="381.5" y="242.6" text-anchor="end">1</text>
<text x="491.2" y="224" fill="#e6643f" color="#e6643f">HB</text>
<path d="M491.2 231.3H496.7" stroke="#222" stroke-width="1.1"/>
<path d="M491.2 237.1H496.7" stroke="#777" stroke-width="1" stroke-dasharray="1 .9"/>
<path d="M487.7 231.3l4.2 -2.4v4.8z"/>
<path d="M487.7 237.1l4.2 -2.4v4.8z"/>
<text x="388.8" y="253.6" text-anchor="middle">–0.5</text>
<text x="419.5" y="253.6" text-anchor="middle">0</text>
<text x="486.2" y="253.6" text-anchor="middle">1.0</text>
<text transform="translate(363.1 150) rotate(-90)" text-anchor="middle">Boundary cell number</text>
<text x="432.5" y="269.4" text-anchor="middle">Time (s)</text>
<text x="530" y="22" font-weight="bold" font-size="12.5" style="stroke:none">d</text>
<text x="610.3" y="38.8" text-anchor="middle">Clip onset aligned</text>
<g clip-path="url(#hc4)"><g filter="url(#hblur)"><rect x="561" y="53.5" width="99.5" height="44.2" fill="#465ffb"/><rect x="561" y="52.45" width="99.5" height="1.1" fill="url(#g46)"/><rect x="561" y="53.5" width="99.5" height="1.1" fill="url(#f1)"/><rect x="561" y="54.55" width="99.5" height="1.1" fill="url(#g83)"/><rect x="561" y="55.6" width="99.5" height="1.1" fill="url(#f57)"/><rect x="561" y="56.66" width="99.5" height="1.1" fill="url(#f58)"/><rect x="561" y="57.71" width="99.5" height="1.1" fill="url(#g71)"/><rect x="561" y="58.76" width="99.5" height="1.1" fill="url(#f52)"/><rect x="561" y="59.81" width="99.5" height="1.1" fill="url(#f23)"/><rect x="561" y="60.87" width="99.5" height="1.1" fill="url(#f16)"/><rect x="561" y="61.92" width="99.5" height="1.1" fill="url(#f85)"/><rect x="561" y="62.97" width="99.5" height="1.1" fill="url(#f80)"/><rect x="561" y="64.02" width="99.5" height="1.1" fill="url(#g7)"/><rect x="561" y="65.08" width="99.5" height="1.1" fill="url(#g55)"/><rect x="561" y="66.13" width="99.5" height="1.1" fill="url(#f4)"/><rect x="561" y="67.18" width="99.5" height="1.1" fill="url(#f18)"/><rect x="561" y="68.23" width="99.5" height="1.1" fill="url(#f30)"/><rect x="561" y="69.29" width="99.5" height="1.1" fill="url(#f77)"/><rect x="561" y="70.34" width="99.5" height="1.1" fill="url(#g46)"/><rect x="561" y="71.39" width="99.5" height="1.1" fill="url(#f53)"/><rect x="561" y="72.44" width="99.5" height="1.1" fill="url(#g32)"/><rect x="561" y="73.5" width="99.5" height="1.1" fill="url(#g12)"/><rect x="561" y="74.55" width="99.5" height="1.1" fill="url(#f11)"/><rect x="561" y="75.6" width="99.5" height="1.1" fill="url(#g43)"/><rect x="561" y="76.65" width="99.5" height="1.1" fill="url(#f15)"/><rect x="561" y="77.7" width="99.5" height="1.1" fill="url(#f50)"/><rect x="561" y="78.76" width="99.5" height="1.1" fill="url(#g49)"/><rect x="561" y="79.81" width="99.5" height="1.1" fill="url(#f87)"/><rect x="561" y="80.86" width="99.5" height="1.1" fill="url(#g88)"/><rect x="561" y="81.91" width="99.5" height="1.1" fill="url(#g19)"/><rect x="561" y="82.97" width="99.5" height="1.1" fill="url(#g74)"/><rect x="561" y="84.02" width="99.5" height="1.1" fill="url(#f16)"/><rect x="561" y="85.07" width="99.5" height="1.1" fill="url(#f17)"/><rect x="561" y="86.12" width="99.5" height="1.1" fill="url(#f27)"/><rect x="561" y="87.18" width="99.5" height="1.1" fill="url(#f88)"/><rect x="561" y="88.23" width="99.5" height="1.1" fill="url(#f0)"/><rect x="561" y="89.28" width="99.5" height="1.1" fill="url(#f56)"/><rect x="561" y="90.33" width="99.5" height="1.1" fill="url(#g89)"/><rect x="561" y="91.39" width="99.5" height="1.1" fill="url(#f48)"/><rect x="561" y="92.44" width="99.5" height="1.1" fill="url(#g77)"/><rect x="561" y="93.49" width="99.5" height="1.1" fill="url(#g10)"/><rect x="561" y="94.54" width="99.5" height="1.1" fill="url(#f79)"/><rect x="561" y="95.6" width="99.5" height="1.1" fill="url(#f1)"/><rect x="561" y="96.65" width="99.5" height="1.1" fill="url(#f45)"/><rect x="561" y="97.7" width="99.5" height="1.1" fill="url(#g31)"/></g></g>
<path d="M594 53.5V97.7" stroke="#000" stroke-width="1.2" stroke-dasharray="2 2"/>
<rect x="561" y="53.5" width="99.5" height="44.2" fill="none" stroke="#111" stroke-width=".9"/>
<text x="556" y="57.1" text-anchor="end">42</text>
<text x="556" y="101.3" text-anchor="end">1</text>
<text x="665.5" y="75" fill="#6cbf45" color="#6cbf45">NB</text>
<path d="M665.5 90.8H671" stroke="#222" stroke-width="1.1"/>
<path d="M665.5 96.9H671" stroke="#777" stroke-width="1" stroke-dasharray="1 .9"/>
<path d="M662 90.8l4.2 -2.4v4.8z"/>
<path d="M662 96.9l4.2 -2.4v4.8z"/>
<text x="563.3" y="111.3" text-anchor="middle">–0.5</text>
<text x="594.3" y="111.3" text-anchor="middle">0</text>
<text x="660.5" y="111.3" text-anchor="middle">1.0</text>
<g clip-path="url(#hc5)"><g filter="url(#hblur)"><rect x="561" y="122.7" width="99.5" height="43.9" fill="#465ffb"/><rect x="561" y="121.65" width="99.5" height="1.1" fill="url(#f37)"/><rect x="561" y="122.7" width="99.5" height="1.1" fill="url(#g82)"/><rect x="561" y="123.75" width="99.5" height="1.1" fill="url(#g81)"/><rect x="561" y="124.79" width="99.5" height="1.1" fill="url(#f73)"/><rect x="561" y="125.84" width="99.5" height="1.1" fill="url(#f11)"/><rect x="561" y="126.88" width="99.5" height="1.1" fill="url(#g50)"/><rect x="561" y="127.93" width="99.5" height="1.1" fill="url(#g50)"/><rect x="561" y="128.97" width="99.5" height="1.1" fill="url(#f43)"/><rect x="561" y="130.02" width="99.5" height="1.1" fill="url(#f23)"/><rect x="561" y="131.06" width="99.5" height="1.1" fill="url(#f33)"/><rect x="561" y="132.11" width="99.5" height="1.1" fill="url(#g42)"/><rect x="561" y="133.15" width="99.5" height="1.1" fill="url(#f33)"/><rect x="561" y="134.2" width="99.5" height="1.1" fill="url(#f44)"/><rect x="561" y="135.24" width="99.5" height="1.1" fill="url(#f12)"/><rect x="561" y="136.29" width="99.5" height="1.1" fill="url(#g77)"/><rect x="561" y="137.33" width="99.5" height="1.1" fill="url(#f71)"/><rect x="561" y="138.38" width="99.5" height="1.1" fill="url(#f28)"/><rect x="561" y="139.42" width="99.5" height="1.1" fill="url(#f53)"/><rect x="561" y="140.47" width="99.5" height="1.1" fill="url(#f80)"/><rect x="561" y="141.51" width="99.5" height="1.1" fill="url(#g13)"/><rect x="561" y="142.56" width="99.5" height="1.1" fill="url(#g73)"/><rect x="561" y="143.6" width="99.5" height="1.1" fill="url(#f12)"/><rect x="561" y="144.65" width="99.5" height="1.1" fill="url(#f53)"/><rect x="561" y="145.7" width="99.5" height="1.1" fill="url(#f53)"/><rect x="561" y="146.74" width="99.5" height="1.1" fill="url(#g58)"/><rect x="561" y="147.79" width="99.5" height="1.1" fill="url(#f75)"/><rect x="561" y="148.83" width="99.5" height="1.1" fill="url(#f74)"/><rect x="561" y="149.88" width="99.5" height="1.1" fill="url(#g8)"/><rect x="561" y="150.92" width="99.5" height="1.1" fill="url(#g69)"/><rect x="561" y="151.97" width="99.5" height="1.1" fill="url(#g54)"/><rect x="561" y="153.01" width="99.5" height="1.1" fill="url(#g36)"/><rect x="561" y="154.06" width="99.5" height="1.1" fill="url(#f53)"/><rect x="561" y="155.1" width="99.5" height="1.1" fill="url(#g13)"/><rect x="561" y="156.15" width="99.5" height="1.1" fill="url(#g8)"/><rect x="561" y="157.19" width="99.5" height="1.1" fill="url(#g6)"/><rect x="561" y="158.24" width="99.5" height="1.1" fill="url(#g12)"/><rect x="561" y="159.28" width="99.5" height="1.1" fill="url(#f16)"/><rect x="561" y="160.33" width="99.5" height="1.1" fill="url(#f46)"/><rect x="561" y="161.37" width="99.5" height="1.1" fill="url(#f50)"/><rect x="561" y="162.42" width="99.5" height="1.1" fill="url(#g27)"/><rect x="561" y="163.46" width="99.5" height="1.1" fill="url(#g1)"/><rect x="561" y="164.51" width="99.5" height="1.1" fill="url(#g87)"/><rect x="561" y="165.55" width="99.5" height="1.1" fill="url(#g61)"/><rect x="561" y="166.6" width="99.5" height="1.1" fill="url(#f55)"/></g></g>
<path d="M594 122.7V166.6" stroke="#000" stroke-width="1.2" stroke-dasharray="2 2"/>
<rect x="561" y="122.7" width="99.5" height="43.9" fill="none" stroke="#111" stroke-width=".9"/>
<text x="556" y="126.3" text-anchor="end">42</text>
<text x="556" y="170.2" text-anchor="end">1</text>
<text x="665.5" y="149.1" fill="#6690e0" color="#6690e0">SB</text>
<path d="M665.5 158.9H671" stroke="#222" stroke-width="1.1"/>
<path d="M665.5 165.3H671" stroke="#777" stroke-width="1" stroke-dasharray="1 .9"/>
<path d="M662 158.9l4.2 -2.4v4.8z"/>
<path d="M662 165.3l4.2 -2.4v4.8z"/>
<text x="563.3" y="182" text-anchor="middle">–0.5</text>
<text x="594.3" y="182" text-anchor="middle">0</text>
<text x="660.5" y="182" text-anchor="middle">1.0</text>
<g clip-path="url(#hc6)"><g filter="url(#hblur)"><rect x="561" y="194.1" width="99.5" height="44.5" fill="#465ffb"/><rect x="561" y="193.04" width="99.5" height="1.11" fill="url(#g88)"/><rect x="561" y="194.1" width="99.5" height="1.11" fill="url(#g72)"/><rect x="561" y="195.16" width="99.5" height="1.11" fill="url(#g34)"/><rect x="561" y="196.22" width="99.5" height="1.11" fill="url(#f7)"/><rect x="561" y="197.28" width="99.5" height="1.11" fill="url(#g17)"/><rect x="561" y="198.34" width="99.5" height="1.11" fill="url(#f28)"/><rect x="561" y="199.4" width="99.5" height="1.11" fill="url(#f6)"/><rect x="561" y="200.46" width="99.5" height="1.11" fill="url(#g29)"/><rect x="561" y="201.52" width="99.5" height="1.11" fill="url(#f88)"/><rect x="561" y="202.58" width="99.5" height="1.11" fill="url(#f47)"/><rect x="561" y="203.64" width="99.5" height="1.11" fill="url(#g83)"/><rect x="561" y="204.7" width="99.5" height="1.11" fill="url(#f57)"/><rect x="561" y="205.75" width="99.5" height="1.11" fill="url(#f7)"/><rect x="561" y="206.81" width="99.5" height="1.11" fill="url(#f26)"/><rect x="561" y="207.87" width="99.5" height="1.11" fill="url(#g19)"/><rect x="561" y="208.93" width="99.5" height="1.11" fill="url(#f12)"/><rect x="561" y="209.99" width="99.5" height="1.11" fill="url(#f44)"/><rect x="561" y="211.05" width="99.5" height="1.11" fill="url(#g43)"/><rect x="561" y="212.11" width="99.5" height="1.11" fill="url(#g49)"/><rect x="561" y="213.17" width="99.5" height="1.11" fill="url(#g83)"/><rect x="561" y="214.23" width="99.5" height="1.11" fill="url(#g62)"/><rect x="561" y="215.29" width="99.5" height="1.11" fill="url(#f57)"/><rect x="561" y="216.35" width="99.5" height="1.11" fill="url(#g8)"/><rect x="561" y="217.41" width="99.5" height="1.11" fill="url(#g22)"/><rect x="561" y="218.47" width="99.5" height="1.11" fill="url(#g1)"/><rect x="561" y="219.53" width="99.5" height="1.11" fill="url(#f82)"/><rect x="561" y="220.59" width="99.5" height="1.11" fill="url(#f73)"/><rect x="561" y="221.65" width="99.5" height="1.11" fill="url(#g48)"/><rect x="561" y="222.71" width="99.5" height="1.11" fill="url(#f60)"/><rect x="561" y="223.77" width="99.5" height="1.11" fill="url(#g13)"/><rect x="561" y="224.83" width="99.5" height="1.11" fill="url(#g41)"/><rect x="561" y="225.89" width="99.5" height="1.11" fill="url(#f12)"/><rect x="561" y="226.95" width="99.5" height="1.11" fill="url(#f72)"/><rect x="561" y="228" width="99.5" height="1.11" fill="url(#f22)"/><rect x="561" y="229.06" width="99.5" height="1.11" fill="url(#f0)"/><rect x="561" y="230.12" width="99.5" height="1.11" fill="url(#f77)"/><rect x="561" y="231.18" width="99.5" height="1.11" fill="url(#f82)"/><rect x="561" y="232.24" width="99.5" height="1.11" fill="url(#g4)"/><rect x="561" y="233.3" width="99.5" height="1.11" fill="url(#g19)"/><rect x="561" y="234.36" width="99.5" height="1.11" fill="url(#g10)"/><rect x="561" y="235.42" width="99.5" height="1.11" fill="url(#f89)"/><rect x="561" y="236.48" width="99.5" height="1.11" fill="url(#g10)"/><rect x="561" y="237.54" width="99.5" height="1.11" fill="url(#g22)"/><rect x="561" y="238.6" width="99.5" height="1.11" fill="url(#g58)"/></g></g>
<path d="M594 194.1V238.6" stroke="#000" stroke-width="1.2" stroke-dasharray="2 2"/>
<rect x="561" y="194.1" width="99.5" height="44.5" fill="none" stroke="#111" stroke-width=".9"/>
<text x="556" y="197.7" text-anchor="end">42</text>
<text x="556" y="242.2" text-anchor="end">1</text>
<text x="665.5" y="225.1" fill="#e6643f" color="#e6643f">HB</text>
<path d="M665.5 230.9H671" stroke="#222" stroke-width="1.1"/>
<path d="M665.5 237.3H671" stroke="#777" stroke-width="1" stroke-dasharray="1 .9"/>
<path d="M662 230.9l4.2 -2.4v4.8z"/>
<path d="M662 237.3l4.2 -2.4v4.8z"/>
<text x="563.3" y="253.6" text-anchor="middle">–0.5</text>
<text x="594.3" y="253.6" text-anchor="middle">0</text>
<text x="660.5" y="253.6" text-anchor="middle">1.0</text>
<text transform="translate(538.3 150) rotate(-90)" text-anchor="middle">Boundary cell number</text>
<text x="608.6" y="269.4" text-anchor="middle">Time (s)</text>
<text x="353" y="313" font-family="Liberation Serif, serif" font-weight="bold" font-size="13" style="stroke:none">g</text>
<text x="436.5" y="315.5" text-anchor="middle">Boundary aligned</text>
<g clip-path="url(#hc7)"><g filter="url(#hblur)"><rect x="386.5" y="329.4" width="100.1" height="44.2" fill="#465ffb"/><rect x="386.5" y="328.17" width="100.1" height="1.28" fill="url(#g48)"/><rect x="386.5" y="329.4" width="100.1" height="1.28" fill="url(#g66)"/><rect x="386.5" y="330.63" width="100.1" height="1.28" fill="url(#g22)"/><rect x="386.5" y="331.86" width="100.1" height="1.28" fill="url(#g43)"/><rect x="386.5" y="333.08" width="100.1" height="1.28" fill="url(#g45)"/><rect x="386.5" y="334.31" width="100.1" height="1.28" fill="url(#g73)"/><rect x="386.5" y="335.54" width="100.1" height="1.28" fill="url(#f77)"/><rect x="386.5" y="336.77" width="100.1" height="1.28" fill="url(#g49)"/><rect x="386.5" y="337.99" width="100.1" height="1.28" fill="url(#f33)"/><rect x="386.5" y="339.22" width="100.1" height="1.28" fill="url(#g53)"/><rect x="386.5" y="340.45" width="100.1" height="1.28" fill="url(#f87)"/><rect x="386.5" y="341.68" width="100.1" height="1.28" fill="url(#f78)"/><rect x="386.5" y="342.91" width="100.1" height="1.28" fill="url(#g58)"/><rect x="386.5" y="344.13" width="100.1" height="1.28" fill="url(#g80)"/><rect x="386.5" y="345.36" width="100.1" height="1.28" fill="url(#g86)"/><rect x="386.5" y="346.59" width="100.1" height="1.28" fill="url(#g18)"/><rect x="386.5" y="347.82" width="100.1" height="1.28" fill="url(#g48)"/><rect x="386.5" y="349.04" width="100.1" height="1.28" fill="url(#g82)"/><rect x="386.5" y="350.27" width="100.1" height="1.28" fill="url(#f87)"/><rect x="386.5" y="351.5" width="100.1" height="1.28" fill="url(#g83)"/><rect x="386.5" y="352.73" width="100.1" height="1.28" fill="url(#g42)"/><rect x="386.5" y="353.96" width="100.1" height="1.28" fill="url(#f71)"/><rect x="386.5" y="355.18" width="100.1" height="1.28" fill="url(#f74)"/><rect x="386.5" y="356.41" width="100.1" height="1.28" fill="url(#f46)"/><rect x="386.5" y="357.64" width="100.1" height="1.28" fill="url(#g16)"/><rect x="386.5" y="358.87" width="100.1" height="1.28" fill="url(#g50)"/><rect x="386.5" y="360.09" width="100.1" height="1.28" fill="url(#f33)"/><rect x="386.5" y="361.32" width="100.1" height="1.28" fill="url(#g43)"/><rect x="386.5" y="362.55" width="100.1" height="1.28" fill="url(#g58)"/><rect x="386.5" y="363.78" width="100.1" height="1.28" fill="url(#g87)"/><rect x="386.5" y="365.01" width="100.1" height="1.28" fill="url(#g77)"/><rect x="386.5" y="366.23" width="100.1" height="1.28" fill="url(#g8)"/><rect x="386.5" y="367.46" width="100.1" height="1.28" fill="url(#g65)"/><rect x="386.5" y="368.69" width="100.1" height="1.28" fill="url(#g29)"/><rect x="386.5" y="369.92" width="100.1" height="1.28" fill="url(#g38)"/><rect x="386.5" y="371.14" width="100.1" height="1.28" fill="url(#g45)"/><rect x="386.5" y="372.37" width="100.1" height="1.28" fill="url(#f50)"/><rect x="386.5" y="373.6" width="100.1" height="1.28" fill="url(#f32)"/></g></g>
<path d="M419 329.4V373.6" stroke="#000" stroke-width="1.2" stroke-dasharray="2 2"/>
<rect x="386.5" y="329.4" width="100.1" height="44.2" fill="none" stroke="#111" stroke-width=".9"/>
<text x="381.5" y="333" text-anchor="end">36</text>
<text x="381.5" y="377.2" text-anchor="end">1</text>
<text x="491.6" y="349.6" fill="#6cbf45" color="#6cbf45">NB</text>
<path d="M491.6 360H497.1" stroke="#222" stroke-width="1.1"/>
<path d="M491.6 366.3H497.1" stroke="#777" stroke-width="1" stroke-dasharray="1 .9"/>
<path d="M488.1 360l4.2 -2.4v4.8z"/>
<path d="M488.1 366.3l4.2 -2.4v4.8z"/>
<text x="388.8" y="387.3" text-anchor="middle">–0.5</text>
<text x="419.3" y="387.3" text-anchor="middle">0</text>
<text x="486.6" y="387.3" text-anchor="middle">1.0</text>
<g clip-path="url(#hc8)"><g filter="url(#hblur)"><rect x="386.5" y="398.5" width="100.1" height="44" fill="#465ffb"/><rect x="386.5" y="397.28" width="100.1" height="1.27" fill="url(#g4)"/><rect x="386.5" y="398.5" width="100.1" height="1.27" fill="url(#g67)"/><rect x="386.5" y="399.72" width="100.1" height="1.27" fill="url(#f57)"/><rect x="386.5" y="400.94" width="100.1" height="1.27" fill="url(#f82)"/><rect x="386.5" y="402.17" width="100.1" height="1.27" fill="url(#g53)"/><rect x="386.5" y="403.39" width="100.1" height="1.27" fill="url(#f42)"/><rect x="386.5" y="404.61" width="100.1" height="1.27" fill="url(#g84)"/><rect x="386.5" y="405.83" width="100.1" height="1.27" fill="url(#g70)"/><rect x="386.5" y="407.06" width="100.1" height="1.27" fill="url(#f68)"/><rect x="386.5" y="408.28" width="100.1" height="1.27" fill="url(#g61)"/><rect x="386.5" y="409.5" width="100.1" height="1.27" fill="url(#f0)"/><rect x="386.5" y="410.72" width="100.1" height="1.27" fill="url(#f46)"/><rect x="386.5" y="411.94" width="100.1" height="1.27" fill="url(#g64)"/><rect x="386.5" y="413.17" width="100.1" height="1.27" fill="url(#g4)"/><rect x="386.5" y="414.39" width="100.1" height="1.27" fill="url(#g55)"/><rect x="386.5" y="415.61" width="100.1" height="1.27" fill="url(#f6)"/><rect x="386.5" y="416.83" width="100.1" height="1.27" fill="url(#g56)"/><rect x="386.5" y="418.06" width="100.1" height="1.27" fill="url(#g64)"/><rect x="386.5" y="419.28" width="100.1" height="1.27" fill="url(#g48)"/><rect x="386.5" y="420.5" width="100.1" height="1.27" fill="url(#g20)"/><rect x="386.5" y="421.72" width="100.1" height="1.27" fill="url(#g9)"/><rect x="386.5" y="422.94" width="100.1" height="1.27" fill="url(#f44)"/><rect x="386.5" y="424.17" width="100.1" height="1.27" fill="url(#f87)"/><rect x="386.5" y="425.39" width="100.1" height="1.27" fill="url(#f4)"/><rect x="386.5" y="426.61" width="100.1" height="1.27" fill="url(#f23)"/><rect x="386.5" y="427.83" width="100.1" height="1.27" fill="url(#f61)"/><rect x="386.5" y="429.06" width="100.1" height="1.27" fill="url(#f58)"/><rect x="386.5" y="430.28" width="100.1" height="1.27" fill="url(#g63)"/><rect x="386.5" y="431.5" width="100.1" height="1.27" fill="url(#f17)"/><rect x="386.5" y="432.72" width="100.1" height="1.27" fill="url(#g25)"/><rect x="386.5" y="433.94" width="100.1" height="1.27" fill="url(#g71)"/><rect x="386.5" y="435.17" width="100.1" height="1.27" fill="url(#g40)"/><rect x="386.5" y="436.39" width="100.1" height="1.27" fill="url(#g3)"/><rect x="386.5" y="437.61" width="100.1" height="1.27" fill="url(#f71)"/><rect x="386.5" y="438.83" width="100.1" height="1.27" fill="url(#g29)"/><rect x="386.5" y="440.06" width="100.1" height="1.27" fill="url(#g30)"/><rect x="386.5" y="441.28" width="100.1" height="1.27" fill="url(#f88)"/><rect x="386.5" y="442.5" width="100.1" height="1.27" fill="url(#f52)"/><rect x="386.5" y="427.83" width="100.1" height="1.47" fill="url(#sp8_12)"/></g></g>
<path d="M419 398.5V442.5" stroke="#000" stroke-width="1.2" stroke-dasharray="2 2"/>
<rect x="386.5" y="398.5" width="100.1" height="44" fill="none" stroke="#111" stroke-width=".9"/>
<text x="381.5" y="402.1" text-anchor="end">36</text>
<text x="381.5" y="446.1" text-anchor="end">1</text>
<text x="491.6" y="424.7" fill="#6690e0" color="#6690e0">SB</text>
<path d="M491.6 428.7H497.1" stroke="#222" stroke-width="1.1"/>
<path d="M491.6 435.3H497.1" stroke="#777" stroke-width="1" stroke-dasharray="1 .9"/>
<path d="M488.1 428.7l4.2 -2.4v4.8z"/>
<path d="M488.1 435.3l4.2 -2.4v4.8z"/>
<text x="388.8" y="458.3" text-anchor="middle">–0.5</text>
<text x="419.3" y="458.3" text-anchor="middle">0</text>
<text x="486.6" y="458.3" text-anchor="middle">1.0</text>
<g clip-path="url(#hc9)"><g filter="url(#hblur)"><rect x="386.5" y="470.5" width="100.1" height="43.8" fill="#465ffb"/><rect x="386.5" y="469.28" width="100.1" height="1.27" fill="url(#g27)"/><rect x="386.5" y="470.5" width="100.1" height="1.27" fill="url(#g47)"/><rect x="386.5" y="471.72" width="100.1" height="1.27" fill="url(#f53)"/><rect x="386.5" y="472.93" width="100.1" height="1.27" fill="url(#g51)"/><rect x="386.5" y="474.15" width="100.1" height="1.27" fill="url(#g5)"/><rect x="386.5" y="475.37" width="100.1" height="1.27" fill="url(#f21)"/><rect x="386.5" y="476.58" width="100.1" height="1.27" fill="url(#f36)"/><rect x="386.5" y="477.8" width="100.1" height="1.27" fill="url(#g78)"/><rect x="386.5" y="479.02" width="100.1" height="1.27" fill="url(#g63)"/><rect x="386.5" y="480.23" width="100.1" height="1.27" fill="url(#f59)"/><rect x="386.5" y="481.45" width="100.1" height="1.27" fill="url(#f71)"/><rect x="386.5" y="482.67" width="100.1" height="1.27" fill="url(#g32)"/><rect x="386.5" y="483.88" width="100.1" height="1.27" fill="url(#f34)"/><rect x="386.5" y="485.1" width="100.1" height="1.27" fill="url(#g73)"/><rect x="386.5" y="486.32" width="100.1" height="1.27" fill="url(#g79)"/><rect x="386.5" y="487.53" width="100.1" height="1.27" fill="url(#f52)"/><rect x="386.5" y="488.75" width="100.1" height="1.27" fill="url(#f84)"/><rect x="386.5" y="489.97" width="100.1" height="1.27" fill="url(#f71)"/><rect x="386.5" y="491.18" width="100.1" height="1.27" fill="url(#f38)"/><rect x="386.5" y="492.4" width="100.1" height="1.27" fill="url(#f86)"/><rect x="386.5" y="493.62" width="100.1" height="1.27" fill="url(#f57)"/><rect x="386.5" y="494.83" width="100.1" height="1.27" fill="url(#g25)"/><rect x="386.5" y="496.05" width="100.1" height="1.27" fill="url(#f59)"/><rect x="386.5" y="497.27" width="100.1" height="1.27" fill="url(#f64)"/><rect x="386.5" y="498.48" width="100.1" height="1.27" fill="url(#f57)"/><rect x="386.5" y="499.7" width="100.1" height="1.27" fill="url(#g83)"/><rect x="386.5" y="500.92" width="100.1" height="1.27" fill="url(#g67)"/><rect x="386.5" y="502.13" width="100.1" height="1.27" fill="url(#f56)"/><rect x="386.5" y="503.35" width="100.1" height="1.27" fill="url(#f22)"/><rect x="386.5" y="504.57" width="100.1" height="1.27" fill="url(#g46)"/><rect x="386.5" y="505.78" width="100.1" height="1.27" fill="url(#g27)"/><rect x="386.5" y="507" width="100.1" height="1.27" fill="url(#g85)"/><rect x="386.5" y="508.22" width="100.1" height="1.27" fill="url(#f48)"/><rect x="386.5" y="509.43" width="100.1" height="1.27" fill="url(#f14)"/><rect x="386.5" y="510.65" width="100.1" height="1.27" fill="url(#g55)"/><rect x="386.5" y="511.87" width="100.1" height="1.27" fill="url(#f14)"/><rect x="386.5" y="513.08" width="100.1" height="1.27" fill="url(#f30)"/><rect x="386.5" y="514.3" width="100.1" height="1.27" fill="url(#f76)"/><rect x="430.04" y="469.28" width="16.64" height="1.27" fill="url(#s1)"/><rect x="431.95" y="470.5" width="14.87" height="1.27" fill="url(#s0)"/><rect x="432.26" y="471.72" width="18.99" height="1.27" fill="url(#s1)"/><rect x="432" y="472.93" width="16.59" height="1.27" fill="url(#s0)"/><rect x="428.08" y="474.15" width="20.35" height="1.27" fill="url(#s1)"/><rect x="429.04" y="475.37" width="19.38" height="1.27" fill="url(#s1)"/><rect x="430.73" y="476.58" width="16.65" height="1.27" fill="url(#s0)"/><rect x="428.01" y="477.8" width="17.9" height="1.27" fill="url(#s1)"/><rect x="429.04" y="479.02" width="18.35" height="1.27" fill="url(#s2)"/><rect x="427.05" y="480.23" width="18.02" height="1.27" fill="url(#s1)"/><rect x="431.01" y="481.45" width="18.09" height="1.27" fill="url(#s0)"/><rect x="427.06" y="482.67" width="16.52" height="1.27" fill="url(#s0)"/><rect x="427.9" y="483.88" width="17.82" height="1.27" fill="url(#s0)"/><rect x="429.85" y="485.1" width="19.39" height="1.27" fill="url(#s0)"/><rect x="427.69" y="486.32" width="17.99" height="1.27" fill="url(#s2)"/><rect x="431.45" y="487.53" width="19.88" height="1.27" fill="url(#s1)"/><rect x="428.01" y="488.75" width="19.26" height="1.27" fill="url(#s0)"/><rect x="429.18" y="489.97" width="15.91" height="1.27" fill="url(#s2)"/><rect x="431.37" y="491.18" width="17.43" height="1.27" fill="url(#s2)"/><rect x="431.11" y="492.4" width="17.21" height="1.27" fill="url(#s0)"/><rect x="427.74" y="493.62" width="19.18" height="1.27" fill="url(#s0)"/><rect x="431.92" y="494.83" width="16.91" height="1.27" fill="url(#s1)"/><rect x="429.15" y="496.05" width="19.83" height="1.27" fill="url(#s2)"/><rect x="429.36" y="497.27" width="18.73" height="1.27" fill="url(#s1)"/><rect x="429.56" y="498.48" width="14.5" height="1.27" fill="url(#s2)"/><rect x="429.42" y="499.7" width="16.76" height="1.27" fill="url(#s2)"/><rect x="429.93" y="500.92" width="18.43" height="1.27" fill="url(#s1)"/><rect x="430.87" y="502.13" width="17.43" height="1.27" fill="url(#s0)"/><rect x="430.41" y="503.35" width="16.5" height="1.27" fill="url(#s2)"/><rect x="429.49" y="504.57" width="18.56" height="1.27" fill="url(#s2)"/><rect x="429.62" y="505.78" width="18.12" height="1.27" fill="url(#s1)"/><rect x="430.36" y="507" width="20.2" height="1.27" fill="url(#s0)"/><rect x="430.07" y="508.22" width="15.07" height="1.27" fill="url(#s2)"/><rect x="431.32" y="509.43" width="15.81" height="1.27" fill="url(#s0)"/><rect x="427.24" y="510.65" width="18.42" height="1.27" fill="url(#s1)"/><rect x="428.58" y="511.87" width="19.27" height="1.27" fill="url(#s0)"/><rect x="431.13" y="513.08" width="16.81" height="1.27" fill="url(#s0)"/><rect x="430.44" y="514.3" width="16.53" height="1.27" fill="url(#s2)"/></g></g>
<path d="M419 470.5V514.3" stroke="#000" stroke-width="1.2" stroke-dasharray="2 2"/>
<rect x="386.5" y="470.5" width="100.1" height="43.8" fill="none" stroke="#111" stroke-width=".9"/>
<text x="381.5" y="474.1" text-anchor="end">36</text>
<text x="381.5" y="517.9" text-anchor="end">1</text>
<text x="491.6" y="497.3" fill="#e6643f" color="#e6643f">HB</text>
<path d="M491.6 502.1H497.1" stroke="#222" stroke-width="1.1"/>
<path d="M491.6 507.8H497.1" stroke="#777" stroke-width="1" stroke-dasharray="1 .9"/>
<path d="M488.1 502.1l4.2 -2.4v4.8z"/>
<path d="M488.1 507.8l4.2 -2.4v4.8z"/>
<text x="388.8" y="530.9" text-anchor="middle">–0.5</text>
<text x="419.3" y="530.9" text-anchor="middle">0</text>
<text x="486.6" y="530.9" text-anchor="middle">1.0</text>
<text transform="translate(361.6 430) rotate(-90)" text-anchor="middle">Event cell number</text>
<text x="432.6" y="544.2" text-anchor="middle">Time (s)</text>
<text x="530" y="312" font-weight="bold" font-size="12.5" style="stroke:none">h</text>
<text x="614.2" y="315.5" text-anchor="middle">Clip onset aligned</text>
<g clip-path="url(#hc10)"><g filter="url(#hblur)"><rect x="561.6" y="328.9" width="99" height="44.2" fill="#465ffb"/><rect x="561.6" y="327.67" width="99" height="1.28" fill="url(#g27)"/><rect x="561.6" y="328.9" width="99" height="1.28" fill="url(#g58)"/><rect x="561.6" y="330.13" width="99" height="1.28" fill="url(#g78)"/><rect x="561.6" y="331.36" width="99" height="1.28" fill="url(#g12)"/><rect x="561.6" y="332.58" width="99" height="1.28" fill="url(#g37)"/><rect x="561.6" y="333.81" width="99" height="1.28" fill="url(#f3)"/><rect x="561.6" y="335.04" width="99" height="1.28" fill="url(#f75)"/><rect x="561.6" y="336.27" width="99" height="1.28" fill="url(#g2)"/><rect x="561.6" y="337.49" width="99" height="1.28" fill="url(#f3)"/><rect x="561.6" y="338.72" width="99" height="1.28" fill="url(#g12)"/><rect x="561.6" y="339.95" width="99" height="1.28" fill="url(#g14)"/><rect x="561.6" y="341.18" width="99" height="1.28" fill="url(#f47)"/><rect x="561.6" y="342.41" width="99" height="1.28" fill="url(#f84)"/><rect x="561.6" y="343.63" width="99" height="1.28" fill="url(#f32)"/><rect x="561.6" y="344.86" width="99" height="1.28" fill="url(#g40)"/><rect x="561.6" y="346.09" width="99" height="1.28" fill="url(#g45)"/><rect x="561.6" y="347.32" width="99" height="1.28" fill="url(#f44)"/><rect x="561.6" y="348.54" width="99" height="1.28" fill="url(#g23)"/><rect x="561.6" y="349.77" width="99" height="1.28" fill="url(#f7)"/><rect x="561.6" y="351" width="99" height="1.28" fill="url(#g57)"/><rect x="561.6" y="352.23" width="99" height="1.28" fill="url(#g41)"/><rect x="561.6" y="353.46" width="99" height="1.28" fill="url(#g4)"/><rect x="561.6" y="354.68" width="99" height="1.28" fill="url(#g26)"/><rect x="561.6" y="355.91" width="99" height="1.28" fill="url(#g6)"/><rect x="561.6" y="357.14" width="99" height="1.28" fill="url(#g2)"/><rect x="561.6" y="358.37" width="99" height="1.28" fill="url(#g61)"/><rect x="561.6" y="359.59" width="99" height="1.28" fill="url(#f14)"/><rect x="561.6" y="360.82" width="99" height="1.28" fill="url(#g81)"/><rect x="561.6" y="362.05" width="99" height="1.28" fill="url(#f61)"/><rect x="561.6" y="363.28" width="99" height="1.28" fill="url(#g45)"/><rect x="561.6" y="364.51" width="99" height="1.28" fill="url(#f68)"/><rect x="561.6" y="365.73" width="99" height="1.28" fill="url(#g45)"/><rect x="561.6" y="366.96" width="99" height="1.28" fill="url(#f57)"/><rect x="561.6" y="368.19" width="99" height="1.28" fill="url(#f75)"/><rect x="561.6" y="369.42" width="99" height="1.28" fill="url(#g77)"/><rect x="561.6" y="370.64" width="99" height="1.28" fill="url(#g10)"/><rect x="561.6" y="371.87" width="99" height="1.28" fill="url(#f33)"/><rect x="561.6" y="373.1" width="99" height="1.28" fill="url(#g87)"/></g></g>
<path d="M594.7 328.9V373.1" stroke="#000" stroke-width="1.2" stroke-dasharray="2 2"/>
<rect x="561.6" y="328.9" width="99" height="44.2" fill="none" stroke="#111" stroke-width=".9"/>
<text x="556.6" y="332.5" text-anchor="end">36</text>
<text x="556.6" y="376.7" text-anchor="end">1</text>
<text x="665.6" y="350.1" fill="#6cbf45" color="#6cbf45">NB</text>
<path d="M665.6 360H671.1" stroke="#222" stroke-width="1.1"/>
<path d="M665.6 366.3H671.1" stroke="#777" stroke-width="1" stroke-dasharray="1 .9"/>
<path d="M662.1 360l4.2 -2.4v4.8z"/>
<path d="M662.1 366.3l4.2 -2.4v4.8z"/>
<text x="563.9" y="387.3" text-anchor="middle">–0.5</text>
<text x="595" y="387.3" text-anchor="middle">0</text>
<text x="660.6" y="387.3" text-anchor="middle">1.0</text>
<g clip-path="url(#hc11)"><g filter="url(#hblur)"><rect x="561.6" y="398.1" width="99" height="44.5" fill="#465ffb"/><rect x="561.6" y="396.86" width="99" height="1.29" fill="url(#g61)"/><rect x="561.6" y="398.1" width="99" height="1.29" fill="url(#g74)"/><rect x="561.6" y="399.34" width="99" height="1.29" fill="url(#g84)"/><rect x="561.6" y="400.57" width="99" height="1.29" fill="url(#f0)"/><rect x="561.6" y="401.81" width="99" height="1.29" fill="url(#g81)"/><rect x="561.6" y="403.04" width="99" height="1.29" fill="url(#g1)"/><rect x="561.6" y="404.28" width="99" height="1.29" fill="url(#f13)"/><rect x="561.6" y="405.52" width="99" height="1.29" fill="url(#g28)"/><rect x="561.6" y="406.75" width="99" height="1.29" fill="url(#g22)"/><rect x="561.6" y="407.99" width="99" height="1.29" fill="url(#f57)"/><rect x="561.6" y="409.23" width="99" height="1.29" fill="url(#g7)"/><rect x="561.6" y="410.46" width="99" height="1.29" fill="url(#g3)"/><rect x="561.6" y="411.7" width="99" height="1.29" fill="url(#f32)"/><rect x="561.6" y="412.93" width="99" height="1.29" fill="url(#g18)"/><rect x="561.6" y="414.17" width="99" height="1.29" fill="url(#g85)"/><rect x="561.6" y="415.41" width="99" height="1.29" fill="url(#f27)"/><rect x="561.6" y="416.64" width="99" height="1.29" fill="url(#g66)"/><rect x="561.6" y="417.88" width="99" height="1.29" fill="url(#f0)"/><rect x="561.6" y="419.11" width="99" height="1.29" fill="url(#g24)"/><rect x="561.6" y="420.35" width="99" height="1.29" fill="url(#g2)"/><rect x="561.6" y="421.59" width="99" height="1.29" fill="url(#f19)"/><rect x="561.6" y="422.82" width="99" height="1.29" fill="url(#g28)"/><rect x="561.6" y="424.06" width="99" height="1.29" fill="url(#f12)"/><rect x="561.6" y="425.29" width="99" height="1.29" fill="url(#g58)"/><rect x="561.6" y="426.53" width="99" height="1.29" fill="url(#g67)"/><rect x="561.6" y="427.77" width="99" height="1.29" fill="url(#g84)"/><rect x="561.6" y="429" width="99" height="1.29" fill="url(#g0)"/><rect x="561.6" y="430.24" width="99" height="1.29" fill="url(#f4)"/><rect x="561.6" y="431.48" width="99" height="1.29" fill="url(#f79)"/><rect x="561.6" y="432.71" width="99" height="1.29" fill="url(#f12)"/><rect x="561.6" y="433.95" width="99" height="1.29" fill="url(#g53)"/><rect x="561.6" y="435.18" width="99" height="1.29" fill="url(#g52)"/><rect x="561.6" y="436.42" width="99" height="1.29" fill="url(#g21)"/><rect x="561.6" y="437.66" width="99" height="1.29" fill="url(#g37)"/><rect x="561.6" y="438.89" width="99" height="1.29" fill="url(#g1)"/><rect x="561.6" y="440.13" width="99" height="1.29" fill="url(#g20)"/><rect x="561.6" y="441.36" width="99" height="1.29" fill="url(#f69)"/><rect x="561.6" y="442.6" width="99" height="1.29" fill="url(#g62)"/></g></g>
<path d="M594.7 398.1V442.6" stroke="#000" stroke-width="1.2" stroke-dasharray="2 2"/>
<rect x="561.6" y="398.1" width="99" height="44.5" fill="none" stroke="#111" stroke-width=".9"/>
<text x="556.6" y="401.7" text-anchor="end">36</text>
<text x="556.6" y="446.2" text-anchor="end">1</text>
<text x="665.6" y="424.7" fill="#6690e0" color="#6690e0">SB</text>
<path d="M665.6 428.7H671.1" stroke="#222" stroke-width="1.1"/>
<path d="M665.6 435.3H671.1" stroke="#777" stroke-width="1" stroke-dasharray="1 .9"/>
<path d="M662.1 428.7l4.2 -2.4v4.8z"/>
<path d="M662.1 435.3l4.2 -2.4v4.8z"/>
<text x="563.9" y="458.3" text-anchor="middle">–0.5</text>
<text x="595" y="458.3" text-anchor="middle">0</text>
<text x="660.6" y="458.3" text-anchor="middle">1.0</text>
<g clip-path="url(#hc12)"><g filter="url(#hblur)"><rect x="561.6" y="470" width="99" height="44.6" fill="#465ffb"/><rect x="561.6" y="468.76" width="99" height="1.29" fill="url(#g58)"/><rect x="561.6" y="470" width="99" height="1.29" fill="url(#f62)"/><rect x="561.6" y="471.24" width="99" height="1.29" fill="url(#f65)"/><rect x="561.6" y="472.48" width="99" height="1.29" fill="url(#g24)"/><rect x="561.6" y="473.72" width="99" height="1.29" fill="url(#f83)"/><rect x="561.6" y="474.96" width="99" height="1.29" fill="url(#g21)"/><rect x="561.6" y="476.19" width="99" height="1.29" fill="url(#f87)"/><rect x="561.6" y="477.43" width="99" height="1.29" fill="url(#g88)"/><rect x="561.6" y="478.67" width="99" height="1.29" fill="url(#g14)"/><rect x="561.6" y="479.91" width="99" height="1.29" fill="url(#g56)"/><rect x="561.6" y="481.15" width="99" height="1.29" fill="url(#g67)"/><rect x="561.6" y="482.39" width="99" height="1.29" fill="url(#f52)"/><rect x="561.6" y="483.63" width="99" height="1.29" fill="url(#g35)"/><rect x="561.6" y="484.87" width="99" height="1.29" fill="url(#g31)"/><rect x="561.6" y="486.11" width="99" height="1.29" fill="url(#f86)"/><rect x="561.6" y="487.34" width="99" height="1.29" fill="url(#f84)"/><rect x="561.6" y="488.58" width="99" height="1.29" fill="url(#g14)"/><rect x="561.6" y="489.82" width="99" height="1.29" fill="url(#g50)"/><rect x="561.6" y="491.06" width="99" height="1.29" fill="url(#g36)"/><rect x="561.6" y="492.3" width="99" height="1.29" fill="url(#g73)"/><rect x="561.6" y="493.54" width="99" height="1.29" fill="url(#f6)"/><rect x="561.6" y="494.78" width="99" height="1.29" fill="url(#f43)"/><rect x="561.6" y="496.02" width="99" height="1.29" fill="url(#f69)"/><rect x="561.6" y="497.26" width="99" height="1.29" fill="url(#f31)"/><rect x="561.6" y="498.49" width="99" height="1.29" fill="url(#g16)"/><rect x="561.6" y="499.73" width="99" height="1.29" fill="url(#f42)"/><rect x="561.6" y="500.97" width="99" height="1.29" fill="url(#f52)"/><rect x="561.6" y="502.21" width="99" height="1.29" fill="url(#g39)"/><rect x="561.6" y="503.45" width="99" height="1.29" fill="url(#f18)"/><rect x="561.6" y="504.69" width="99" height="1.29" fill="url(#g47)"/><rect x="561.6" y="505.93" width="99" height="1.29" fill="url(#g53)"/><rect x="561.6" y="507.17" width="99" height="1.29" fill="url(#f50)"/><rect x="561.6" y="508.41" width="99" height="1.29" fill="url(#f55)"/><rect x="561.6" y="509.64" width="99" height="1.29" fill="url(#f21)"/><rect x="561.6" y="510.88" width="99" height="1.29" fill="url(#f6)"/><rect x="561.6" y="512.12" width="99" height="1.29" fill="url(#g74)"/><rect x="561.6" y="513.36" width="99" height="1.29" fill="url(#g22)"/><rect x="561.6" y="514.6" width="99" height="1.29" fill="url(#g82)"/></g></g>
<path d="M594.7 470V514.6" stroke="#000" stroke-width="1.2" stroke-dasharray="2 2"/>
<rect x="561.6" y="470" width="99" height="44.6" fill="none" stroke="#111" stroke-width=".9"/>
<text x="556.6" y="473.6" text-anchor="end">36</text>
<text x="556.6" y="518.2" text-anchor="end">1</text>
<text x="665.6" y="498.1" fill="#e6643f" color="#e6643f">HB</text>
<path d="M665.6 501.8H671.1" stroke="#222" stroke-width="1.1"/>
<path d="M665.6 508H671.1" stroke="#777" stroke-width="1" stroke-dasharray="1 .9"/>
<path d="M662.1 501.8l4.2 -2.4v4.8z"/>
<path d="M662.1 508l4.2 -2.4v4.8z"/>
<text x="563.9" y="529.7" text-anchor="middle">–0.5</text>
<text x="595" y="529.7" text-anchor="middle">0</text>
<text x="660.6" y="529.7" text-anchor="middle">1.0</text>
<text transform="translate(538 430) rotate(-90)" text-anchor="middle">Event cell number</text>
<text x="608.6" y="544.2" text-anchor="middle">Time (s)</text>
<rect x="504.6" y="255" width="39.4" height="7" fill="url(#cbar)" stroke="#222" stroke-width=".6"/>
<text x="495" y="262.4" text-anchor="middle">0</text>
<text x="550.8" y="262.4" text-anchor="middle">1</text>
<text x="475.4" y="275.6">Normalized firing rate</text>
<rect x="504.6" y="535" width="39.4" height="7" fill="url(#cbar)" stroke="#222" stroke-width=".6"/>
<text x="495.6" y="542.2" text-anchor="middle">0</text>
<text x="551.3" y="542" text-anchor="middle">1</text>
<text x="475.4" y="554.6">Normalized firing rate</text>
<text x="353" y="582.5" font-weight="bold" font-size="12.5" style="stroke:none">i</text>
<path d="M389.2 658.13L390.28 659.05L391.35 659.99L392.43 660.95L393.5 661.94L394.58 662.93L395.66 663L396.73 663.11L397.81 663.23L398.88 663.37L399.96 663.51L401.03 663.64L402.11 663.75L403.19 663.83L404.26 663.88L405.34 663.89L406.41 663.87L407.49 663.82L408.57 663.75L409.64 663.65L410.72 663.53L411.79 663.3L412.87 663.07L413.94 662.85L415.02 662.64L416.1 662.46L417.17 662.3L418.25 662.16L419.32 662.05L420.4 661.95L421.48 661.89L422.55 661.85L423.63 661.82L424.7 661.82L425.78 661.82L426.85 661.84L427.93 661.86L429.01 661.88L430.08 661.91L431.16 661.93L432.23 661.94L433.31 661.95L434.39 661.94L435.46 661.93L436.54 661.9L437.61 661.86L438.69 661.82L439.76 661.75L440.84 661.68L441.92 661.58L442.99 661.44L444.07 661.25L445.14 660.95L446.22 660.48L447.3 659.75L448.37 658.68L449.45 657.12L450.52 654.94L451.6 652.02L452.67 648.25L453.75 643.64L454.83 638.27L455.9 632.2L456.98 625.72L458.05 619.21L459.13 613.13L460.21 608L461.28 604.25L462.36 602.26L463.43 602.21L464.51 604.13L465.58 607.82L466.66 612.95L467.74 619.06L468.81 625.65L469.89 632.26L470.96 638.49L472.04 644.06L473.12 648.79L474.19 652.65L475.27 655.64L476.34 657.89L477.42 659.5L478.49 660.62L479.57 661.37L480.65 661.86L481.72 662.18L482.8 662.4L483.87 662.56L484.95 662.7L486.03 662.82L487.1 662.95L488.18 663.08L489.25 663.23L490.33 663.38L491.4 663.62L492.48 663.92L493.56 664.22L494.63 664.52L495.71 664.82L496.78 665.11L497.86 665.4L498.94 665.69L500.01 665.97L501.09 666.25L502.16 666.51L503.24 666.76L504.31 667.01L505.39 667.24L506.47 667.46L507.54 667.51L508.62 667.5L509.69 667.49L510.77 667.48L511.85 667.47L512.92 667.46L514 667.47L515.07 667.48L516.15 667.51L517.22 667.54L518.3 667.46L519.38 667.34L520.45 667.23L521.53 667.12L522.6 667.01L523.68 666.89L524.76 666.76L525.83 666.61L526.91 666.44L527.98 666.26L529.06 666.05L530.13 665.82L531.21 665.57L532.29 665.3L533.36 665.02L534.44 664.67L535.51 664.32L536.59 663.97L537.67 663.63L538.74 663.32L539.82 663.02L540.89 662.76L541.97 662.52L543.04 662.31L544.12 662.12L545.2 661.95L546.27 661.79L547.35 661.64L548.42 661.49L549.5 661.35L549.5 667.95L548.42 668.09L547.35 668.24L546.27 668.39L545.2 668.55L544.12 668.72L543.04 668.91L541.97 669.12L540.89 669.36L539.82 669.62L538.74 669.92L537.67 670.23L536.59 670.57L535.51 670.92L534.44 671.27L533.36 671.62L532.29 671.9L531.21 672.17L530.13 672.42L529.06 672.65L527.98 672.86L526.91 673.04L525.83 673.21L524.76 673.36L523.68 673.49L522.6 673.61L521.53 673.72L520.45 673.84L519.38 673.95L518.3 674.06L517.22 674.14L516.15 674.11L515.07 674.08L514 674.07L512.92 674.07L511.85 674.07L510.77 674.08L509.69 674.09L508.62 674.11L507.54 674.12L506.47 674.06L505.39 673.84L504.31 673.61L503.24 673.36L502.16 673.11L501.09 672.85L500.01 672.57L498.94 672.29L497.86 672L496.78 671.71L495.71 671.42L494.63 671.12L493.56 670.82L492.48 670.52L491.4 670.22L490.33 669.98L489.25 669.83L488.18 669.68L487.1 669.55L486.03 669.42L484.95 669.3L483.87 669.16L482.8 669L481.72 668.79L480.65 668.46L479.57 667.97L478.49 667.22L477.42 666.1L476.34 664.49L475.27 662.24L474.19 659.25L473.12 655.39L472.04 650.66L470.96 645.09L469.89 638.86L468.81 632.25L467.74 625.66L466.66 619.55L465.58 614.42L464.51 610.73L463.43 608.82L462.36 608.86L461.28 610.85L460.21 614.6L459.13 619.74L458.05 625.81L456.98 632.32L455.9 638.8L454.83 644.87L453.75 650.24L452.67 654.85L451.6 658.62L450.52 661.55L449.45 663.72L448.37 665.28L447.3 666.36L446.22 667.08L445.14 667.55L444.07 667.85L442.99 668.04L441.92 668.18L440.84 668.28L439.76 668.35L438.69 668.42L437.61 668.46L436.54 668.5L435.46 668.53L434.39 668.54L433.31 668.55L432.23 668.54L431.16 668.53L430.08 668.51L429.01 668.48L427.93 668.46L426.85 668.44L425.78 668.42L424.7 668.42L423.63 668.42L422.55 668.45L421.48 668.49L420.4 668.56L419.32 668.65L418.25 668.76L417.17 668.9L416.1 669.06L415.02 669.24L413.94 669.45L412.87 669.67L411.79 669.9L410.72 670.14L409.64 670.25L408.57 670.35L407.49 670.43L406.41 670.48L405.34 670.49L404.26 670.48L403.19 670.43L402.11 670.35L401.03 670.24L399.96 670.11L398.88 669.97L397.81 669.83L396.73 669.71L395.66 669.6L394.58 669.53L393.5 668.54L392.43 667.55L391.35 666.59L390.28 665.65L389.2 664.73Z" fill="#e060a8" fill-opacity=".25" stroke="#e060a8" stroke-opacity=".35" stroke-width=".6"/>
<path d="M389.2 657.62L390.28 658.57L391.35 659.53L392.43 660.49L393.5 661.48L394.58 662.44L395.66 662.48L396.73 662.53L397.81 662.61L398.88 662.7L399.96 662.8L401.03 662.92L402.11 663.04L403.19 663.17L404.26 663.29L405.34 663.41L406.41 663.53L407.49 663.64L408.57 663.75L409.64 663.85L410.72 663.94L411.79 663.91L412.87 663.88L413.94 663.86L415.02 663.84L416.1 663.83L417.17 663.81L418.25 663.81L419.32 663.8L420.4 663.81L421.48 663.82L422.55 663.83L423.63 663.84L424.7 663.85L425.78 663.85L426.85 663.85L427.93 663.85L429.01 663.83L430.08 663.79L431.16 663.74L432.23 663.67L433.31 663.59L434.39 663.49L435.46 663.37L436.54 663.25L437.61 663.11L438.69 662.97L439.76 662.81L440.84 662.66L441.92 662.51L442.99 662.37L444.07 662.24L445.14 662.12L446.22 662.01L447.3 661.91L448.37 661.81L449.45 661.72L450.52 661.62L451.6 661.52L452.67 661.38L453.75 661.24L454.83 661.08L455.9 660.78L456.98 660.28L458.05 659.48L459.13 658.3L460.21 656.62L461.28 654.34L462.36 651.37L463.43 647.65L464.51 643.15L465.58 637.95L466.66 632.19L467.74 626.1L468.81 619.99L469.89 614.25L470.96 609.25L472.04 605.38L473.12 602.94L474.19 602.15L475.27 603.06L476.34 605.62L477.42 609.61L478.49 614.74L479.57 620.62L480.65 626.86L481.72 633.11L482.8 639.03L483.87 644.4L484.95 649.09L486.03 653.02L487.1 656.2L488.18 658.7L489.25 660.61L490.33 662.02L491.4 663.14L492.48 664.02L493.56 664.68L494.63 665.2L495.71 665.61L496.78 665.95L497.86 666.25L498.94 666.51L500.01 666.75L501.09 666.96L502.16 667.16L503.24 667.34L504.31 667.51L505.39 667.66L506.47 667.81L507.54 667.8L508.62 667.73L509.69 667.67L510.77 667.62L511.85 667.59L512.92 667.57L514 667.56L515.07 667.56L516.15 667.58L517.22 667.59L518.3 667.48L519.38 667.32L520.45 667.16L521.53 666.98L522.6 666.79L523.68 666.59L524.76 666.38L525.83 666.17L526.91 665.95L527.98 665.73L529.06 665.51L530.13 665.29L531.21 665.07L532.29 664.86L533.36 664.65L534.44 664.39L535.51 664.13L536.59 663.87L537.67 663.63L538.74 663.39L539.82 663.18L540.89 662.97L541.97 662.77L543.04 662.59L544.12 662.41L545.2 662.23L546.27 662.04L547.35 661.85L548.42 661.64L549.5 661.42L549.5 668.02L548.42 668.24L547.35 668.45L546.27 668.64L545.2 668.83L544.12 669.01L543.04 669.19L541.97 669.38L540.89 669.57L539.82 669.78L538.74 670L537.67 670.23L536.59 670.47L535.51 670.73L534.44 670.99L533.36 671.25L532.29 671.46L531.21 671.67L530.13 671.89L529.06 672.11L527.98 672.33L526.91 672.55L525.83 672.77L524.76 672.98L523.68 673.19L522.6 673.39L521.53 673.58L520.45 673.76L519.38 673.92L518.3 674.08L517.22 674.19L516.15 674.18L515.07 674.17L514 674.16L512.92 674.17L511.85 674.19L510.77 674.22L509.69 674.27L508.62 674.33L507.54 674.4L506.47 674.41L505.39 674.26L504.31 674.11L503.24 673.94L502.16 673.76L501.09 673.56L500.01 673.35L498.94 673.11L497.86 672.85L496.78 672.55L495.71 672.21L494.63 671.8L493.56 671.28L492.48 670.62L491.4 669.74L490.33 668.62L489.25 667.21L488.18 665.3L487.1 662.8L486.03 659.62L484.95 655.69L483.87 651L482.8 645.63L481.72 639.71L480.65 633.46L479.57 627.22L478.49 621.34L477.42 616.21L476.34 612.22L475.27 609.66L474.19 608.75L473.12 609.54L472.04 611.98L470.96 615.85L469.89 620.85L468.81 626.6L467.74 632.7L466.66 638.79L465.58 644.55L464.51 649.75L463.43 654.25L462.36 657.97L461.28 660.94L460.21 663.22L459.13 664.9L458.05 666.08L456.98 666.88L455.9 667.38L454.83 667.68L453.75 667.84L452.67 667.98L451.6 668.12L450.52 668.22L449.45 668.32L448.37 668.41L447.3 668.51L446.22 668.61L445.14 668.72L444.07 668.84L442.99 668.97L441.92 669.11L440.84 669.26L439.76 669.42L438.69 669.57L437.61 669.71L436.54 669.85L435.46 669.97L434.39 670.09L433.31 670.19L432.23 670.27L431.16 670.34L430.08 670.39L429.01 670.43L427.93 670.45L426.85 670.46L425.78 670.46L424.7 670.45L423.63 670.44L422.55 670.43L421.48 670.42L420.4 670.41L419.32 670.4L418.25 670.41L417.17 670.42L416.1 670.43L415.02 670.44L413.94 670.46L412.87 670.49L411.79 670.51L410.72 670.54L409.64 670.45L408.57 670.35L407.49 670.24L406.41 670.13L405.34 670.01L404.26 669.89L403.19 669.77L402.11 669.64L401.03 669.52L399.96 669.4L398.88 669.3L397.81 669.21L396.73 669.13L395.66 669.08L394.58 669.04L393.5 668.08L392.43 667.1L391.35 666.13L390.28 665.17L389.2 664.22Z" fill="#9b6be8" fill-opacity=".25" stroke="#9b6be8" stroke-opacity=".35" stroke-width=".6"/>
<path d="M389.2 661.43L390.28 662.35L391.35 663.29L392.43 664.25L393.5 665.24L394.58 666.23L395.66 666.3L396.73 666.41L397.81 666.53L398.88 666.67L399.96 666.81L401.03 666.94L402.11 667.05L403.19 667.13L404.26 667.18L405.34 667.19L406.41 667.17L407.49 667.13L408.57 667.05L409.64 666.95L410.72 666.83L411.79 666.6L412.87 666.37L413.94 666.15L415.02 665.94L416.1 665.76L417.17 665.6L418.25 665.46L419.32 665.35L420.4 665.26L421.48 665.19L422.55 665.15L423.63 665.12L424.7 665.12L425.78 665.12L426.85 665.14L427.93 665.16L429.01 665.18L430.08 665.21L431.16 665.23L432.23 665.24L433.31 665.25L434.39 665.24L435.46 665.23L436.54 665.2L437.61 665.16L438.69 665.12L439.76 665.05L440.84 664.98L441.92 664.88L442.99 664.74L444.07 664.55L445.14 664.25L446.22 663.78L447.3 663.06L448.37 661.98L449.45 660.42L450.52 658.25L451.6 655.32L452.67 651.55L453.75 646.94L454.83 641.57L455.9 635.5L456.98 629.02L458.05 622.51L459.13 616.43L460.21 611.3L461.28 607.55L462.36 605.56L463.43 605.51L464.51 607.43L465.58 611.12L466.66 616.25L467.74 622.36L468.81 628.95L469.89 635.56L470.96 641.79L472.04 647.36L473.12 652.09L474.19 655.95L475.27 658.94L476.34 661.19L477.42 662.8L478.49 663.92L479.57 664.67L480.65 665.16L481.72 665.48L482.8 665.7L483.87 665.86L484.95 666L486.03 666.12L487.1 666.25L488.18 666.38L489.25 666.53L490.33 666.68L491.4 666.92L492.48 667.22L493.56 667.52L494.63 667.82L495.71 668.12L496.78 668.41L497.86 668.7L498.94 668.99L500.01 669.27L501.09 669.55L502.16 669.81L503.24 670.06L504.31 670.31L505.39 670.54L506.47 670.76L507.54 670.82L508.62 670.8L509.69 670.79L510.77 670.78L511.85 670.77L512.92 670.76L514 670.77L515.07 670.78L516.15 670.81L517.22 670.84L518.3 670.76L519.38 670.64L520.45 670.54L521.53 670.42L522.6 670.31L523.68 670.19L524.76 670.06L525.83 669.91L526.91 669.74L527.98 669.56L529.06 669.35L530.13 669.12L531.21 668.87L532.29 668.6L533.36 668.32L534.44 667.97L535.51 667.62L536.59 667.27L537.67 666.93L538.74 666.62L539.82 666.32L540.89 666.06L541.97 665.82L543.04 665.61L544.12 665.42L545.2 665.25L546.27 665.09L547.35 664.94L548.42 664.79L549.5 664.65" fill="none" stroke="#e060a8" stroke-width="1" stroke-opacity=".65"/>
<path d="M389.2 660.92L390.28 661.87L391.35 662.83L392.43 663.8L393.5 664.78L394.58 665.74L395.66 665.78L396.73 665.83L397.81 665.91L398.88 666L399.96 666.1L401.03 666.22L402.11 666.34L403.19 666.47L404.26 666.59L405.34 666.71L406.41 666.83L407.49 666.94L408.57 667.05L409.64 667.15L410.72 667.24L411.79 667.21L412.87 667.19L413.94 667.16L415.02 667.14L416.1 667.13L417.17 667.11L418.25 667.11L419.32 667.1L420.4 667.11L421.48 667.12L422.55 667.13L423.63 667.14L424.7 667.15L425.78 667.15L426.85 667.16L427.93 667.15L429.01 667.13L430.08 667.09L431.16 667.04L432.23 666.97L433.31 666.89L434.39 666.79L435.46 666.67L436.54 666.55L437.61 666.41L438.69 666.27L439.76 666.12L440.84 665.96L441.92 665.81L442.99 665.67L444.07 665.54L445.14 665.42L446.22 665.31L447.3 665.21L448.37 665.11L449.45 665.02L450.52 664.92L451.6 664.82L452.67 664.68L453.75 664.54L454.83 664.38L455.9 664.08L456.98 663.58L458.05 662.78L459.13 661.6L460.21 659.92L461.28 657.64L462.36 654.67L463.43 650.95L464.51 646.45L465.58 641.25L466.66 635.49L467.74 629.4L468.81 623.3L469.89 617.55L470.96 612.55L472.04 608.68L473.12 606.24L474.19 605.45L475.27 606.36L476.34 608.92L477.42 612.91L478.49 618.04L479.57 623.92L480.65 630.16L481.72 636.41L482.8 642.33L483.87 647.7L484.95 652.39L486.03 656.32L487.1 659.5L488.18 662L489.25 663.91L490.33 665.32L491.4 666.44L492.48 667.32L493.56 667.98L494.63 668.5L495.71 668.91L496.78 669.25L497.86 669.55L498.94 669.81L500.01 670.05L501.09 670.26L502.16 670.46L503.24 670.64L504.31 670.81L505.39 670.96L506.47 671.11L507.54 671.1L508.62 671.03L509.69 670.97L510.77 670.92L511.85 670.89L512.92 670.87L514 670.86L515.07 670.87L516.15 670.88L517.22 670.89L518.3 670.78L519.38 670.62L520.45 670.46L521.53 670.28L522.6 670.09L523.68 669.89L524.76 669.68L525.83 669.47L526.91 669.25L527.98 669.03L529.06 668.81L530.13 668.59L531.21 668.37L532.29 668.16L533.36 667.95L534.44 667.69L535.51 667.43L536.59 667.17L537.67 666.93L538.74 666.7L539.82 666.48L540.89 666.27L541.97 666.07L543.04 665.89L544.12 665.71L545.2 665.53L546.27 665.34L547.35 665.15L548.42 664.94L549.5 664.72" fill="none" stroke="#9b6be8" stroke-width="1" stroke-opacity=".65"/>
<path d="M442.5 587.2V678" stroke="#555" stroke-width="1.3" stroke-dasharray="2.6 2"/>
<path d="M389.2 587.2V678H549.5" fill="none" stroke="#444" stroke-width="1"/>
<text x="384.7" y="607.2" text-anchor="end">6</text>
<path d="M389.2 603.62L391 603.62" stroke="#444" stroke-width="0.9"/>
<text x="384.7" y="626" text-anchor="end">4</text>
<path d="M389.2 622.48L391 622.48" stroke="#444" stroke-width="0.9"/>
<text x="384.7" y="644.7" text-anchor="end">2</text>
<path d="M389.2 641.34L391 641.34" stroke="#444" stroke-width="0.9"/>
<text x="384.7" y="663.8" text-anchor="end">0</text>
<path d="M389.2 660.2L391 660.2" stroke="#444" stroke-width="0.9"/>
<text x="384.7" y="679.6" text-anchor="end">–2</text>
<path d="M389.2 679.06L391 679.06" stroke="#444" stroke-width="0.9"/>
<text x="391.5" y="691" text-anchor="middle">–0.5</text>
<text x="442" y="691" text-anchor="middle">0</text>
<text x="547.5" y="691" text-anchor="middle">1.0</text>
<text x="463.6" y="708.1" text-anchor="middle">Time relative to HB (s)</text>
<text transform="translate(364.8 634) rotate(-90)" text-anchor="middle"><tspan font-style="italic">z</tspan>-scored firing rate</text>
<text x="392.4" y="595.4" fill="#dc5a9c" color="#dc5a9c">Boundary cell</text>
<text x="392.4" y="611.2" fill="#8e58e4" color="#8e58e4">Event cell</text>
<text x="567" y="582" font-weight="bold" font-size="12.5" style="stroke:none">j</text>
<path d="M607.2 585.3V684.5H685.6" fill="none" stroke="#333" stroke-width="1.4"/>
<path d="M607.2 585.3L609.2 585.3" stroke="#333" stroke-width="1"/>
<path d="M607.2 635L609.2 635" stroke="#333" stroke-width="1"/>
<path d="M607.2 684.5L609.2 684.5" stroke="#333" stroke-width="1"/>
<path d="M632.8 684.5L632.8 682.5" stroke="#333" stroke-width="1"/>
<path d="M659.2 684.5L659.2 682.5" stroke="#333" stroke-width="1"/>
<text x="603" y="589.6" text-anchor="end">0.4</text>
<text x="603" y="638.8" text-anchor="end">0.2</text>
<text x="603" y="687" text-anchor="end">0</text>
<path d="M632.79 644.71a1.05 1.05 0 1 0 .01 0M635.39 643.62a1.05 1.05 0 1 0 .01 0M630.19 643.02a1.05 1.05 0 1 0 .01 0M638 642.54a1.05 1.05 0 1 0 .01 0M627.59 642.37a1.05 1.05 0 1 0 .01 0M632.79 641.34a1.05 1.05 0 1 0 .01 0M635.39 640.82a1.05 1.05 0 1 0 .01 0M630.19 640.31a1.05 1.05 0 1 0 .01 0M632.79 638.72a1.05 1.05 0 1 0 .01 0M638 638.51a1.05 1.05 0 1 0 .01 0M635.39 637.68a1.05 1.05 0 1 0 .01 0M630.19 636.85a1.05 1.05 0 1 0 .01 0M627.59 636.6a1.05 1.05 0 1 0 .01 0M640.59 636.55a1.05 1.05 0 1 0 .01 0M632.79 635.58a1.05 1.05 0 1 0 .01 0M638 635.55a1.05 1.05 0 1 0 .01 0M625 635.47a1.05 1.05 0 1 0 .01 0M625 635.43a1.05 1.05 0 1 0 .01 0M635.39 634.93a1.05 1.05 0 1 0 .01 0M630.19 634.22a1.05 1.05 0 1 0 .01 0M627.59 633.22a1.05 1.05 0 1 0 .01 0M632.79 631.69a1.05 1.05 0 1 0 .01 0M635.39 631.37a1.05 1.05 0 1 0 .01 0M630.19 630.49a1.05 1.05 0 1 0 .01 0M638 630.22a1.05 1.05 0 1 0 .01 0M627.59 630.03a1.05 1.05 0 1 0 .01 0M640.59 629.82a1.05 1.05 0 1 0 .01 0M625 629.64a1.05 1.05 0 1 0 .01 0M625 629.46a1.05 1.05 0 1 0 .01 0M632.79 628.66a1.05 1.05 0 1 0 .01 0M635.39 628.44a1.05 1.05 0 1 0 .01 0M630.19 627.38a1.05 1.05 0 1 0 .01 0M638 626.79a1.05 1.05 0 1 0 .01 0M627.59 626.18a1.05 1.05 0 1 0 .01 0M632.79 625.41a1.05 1.05 0 1 0 .01 0M635.39 625.24a1.05 1.05 0 1 0 .01 0M630.19 624.62a1.05 1.05 0 1 0 .01 0M638 623.75a1.05 1.05 0 1 0 .01 0M640.59 623.69a1.05 1.05 0 1 0 .01 0M627.59 623.06a1.05 1.05 0 1 0 .01 0" fill="#e8a0cc" fill-opacity=".12" stroke="#e8a0cc" stroke-width=".6"/>
<path d="M659.2 627.46a1.05 1.05 0 1 0 .01 0M661.8 626.22a1.05 1.05 0 1 0 .01 0M659.2 622.73a1.05 1.05 0 1 0 .01 0M661.8 621.74a1.05 1.05 0 1 0 .01 0M656.6 621.66a1.05 1.05 0 1 0 .01 0M664.4 621.41a1.05 1.05 0 1 0 .01 0M654 620.37a1.05 1.05 0 1 0 .01 0M659.2 619.45a1.05 1.05 0 1 0 .01 0M661.8 618.07a1.05 1.05 0 1 0 .01 0M656.6 617.59a1.05 1.05 0 1 0 .01 0M659.2 616.61a1.05 1.05 0 1 0 .01 0M664.4 615.73a1.05 1.05 0 1 0 .01 0M654 615.66a1.05 1.05 0 1 0 .01 0M661.8 615.05a1.05 1.05 0 1 0 .01 0M656.6 614.89a1.05 1.05 0 1 0 .01 0M667 614.78a1.05 1.05 0 1 0 .01 0M651.4 614.38a1.05 1.05 0 1 0 .01 0M651.4 614.13a1.05 1.05 0 1 0 .01 0M659.2 613.94a1.05 1.05 0 1 0 .01 0M651.4 613.78a1.05 1.05 0 1 0 .01 0M651.4 613.27a1.05 1.05 0 1 0 .01 0M661.8 612.48a1.05 1.05 0 1 0 .01 0M656.6 612.16a1.05 1.05 0 1 0 .01 0M659.2 610.63a1.05 1.05 0 1 0 .01 0M661.8 609.65a1.05 1.05 0 1 0 .01 0M659.2 607.79a1.05 1.05 0 1 0 .01 0M656.6 607.46a1.05 1.05 0 1 0 .01 0M661.8 606.09a1.05 1.05 0 1 0 .01 0M659.2 604.93a1.05 1.05 0 1 0 .01 0M656.6 604.57a1.05 1.05 0 1 0 .01 0M664.4 603.85a1.05 1.05 0 1 0 .01 0M659.2 602.38a1.05 1.05 0 1 0 .01 0M659.2 598.94a1.05 1.05 0 1 0 .01 0" fill="#b8a2ec" fill-opacity=".12" stroke="#b8a2ec" stroke-width=".6"/>
<path d="M622.5 636.8L643.6 636.8" stroke="#333" stroke-width="1.1"/>
<path d="M648.4 611.8L670 611.8" stroke="#333" stroke-width="1.1"/>
<path d="M626 585.3L665 585.3" stroke="#111" stroke-width="1.6"/>
<text x="645.5" y="582" text-anchor="middle" font-size="11.5" font-weight="bold">***</text>
<text transform="translate(576.8 633.5) rotate(-90)" text-anchor="middle">Firing peak time (s)</text>
<text x="620" y="699.5" text-anchor="middle">Boundary</text>
<text x="621.3" y="711" text-anchor="middle">cells</text>
<text x="671" y="699.5" text-anchor="middle">Event</text>
<text x="672" y="711" text-anchor="middle">cells</text>
</svg></body></html>
